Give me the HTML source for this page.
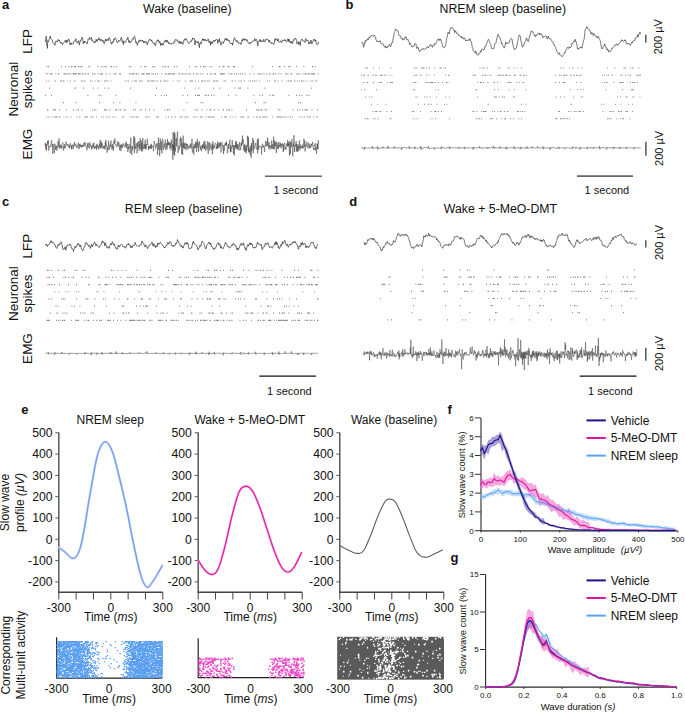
<!DOCTYPE html>
<html><head><meta charset="utf-8"><style>
html,body{margin:0;padding:0;background:#fff;width:685px;height:712px;overflow:hidden}
svg{display:block}
text{font-family:"Liberation Sans",sans-serif}
</style></head><body>
<svg width="685" height="712" viewBox="0 0 685 712">
<rect width="685" height="712" fill="#fff"/>
<text x="2" y="8.8" font-size="13" text-anchor="start" font-weight="bold" fill="#111" >a</text>
<text x="143.1" y="12.7" font-size="12.3" text-anchor="start" font-weight="normal" fill="#111" >Wake (baseline)</text>
<text x="345.5" y="8.8" font-size="13" text-anchor="start" font-weight="bold" fill="#111" >b</text>
<text x="439.6" y="12.7" font-size="12.3" text-anchor="start" font-weight="normal" fill="#111" >NREM sleep (baseline)</text>
<text x="2" y="205.5" font-size="13" text-anchor="start" font-weight="bold" fill="#111" >c</text>
<text x="124.8" y="212.6" font-size="12.3" text-anchor="start" font-weight="normal" fill="#111" >REM sleep (baseline)</text>
<text x="349.3" y="206.3" font-size="13" text-anchor="start" font-weight="bold" fill="#111" >d</text>
<text x="443.8" y="212.5" font-size="12.3" text-anchor="start" font-weight="normal" fill="#111" >Wake + 5-MeO-DMT</text>
<text transform="translate(31.8 41.4) rotate(-90)" font-size="13.5" text-anchor="middle" fill="#111">LFP</text>
<text transform="translate(17.5 89.2) rotate(-90)" font-size="13.5" text-anchor="middle" fill="#111">Neuronal</text>
<text transform="translate(31.8 89.2) rotate(-90)" font-size="13.5" text-anchor="middle" fill="#111">spikes</text>
<text transform="translate(31.8 144) rotate(-90)" font-size="13.5" text-anchor="middle" fill="#111">EMG</text>
<text transform="translate(31.8 246.2) rotate(-90)" font-size="13.5" text-anchor="middle" fill="#111">LFP</text>
<text transform="translate(17.5 293.6) rotate(-90)" font-size="13.5" text-anchor="middle" fill="#111">Neuronal</text>
<text transform="translate(31.8 293.6) rotate(-90)" font-size="13.5" text-anchor="middle" fill="#111">spikes</text>
<text transform="translate(31.8 348.5) rotate(-90)" font-size="13.5" text-anchor="middle" fill="#111">EMG</text>
<path d="M45 41.79L45.4 40.77L45.8 40.92L46.2 36.19L46.6 44.4L47 44.06L47.4 48.34L47.8 40.5L48.2 41.03L48.6 41.62L49 40.06L49.4 38.74L49.8 37.55L50.2 36.04L50.6 38.59L51 38.82L51.4 38.77L51.8 39.44L52.2 39.77L52.6 42.29L53 42.31L53.4 42.76L53.8 42.74L54.2 44.01L54.6 45L55 45.36L55.4 43.5L55.8 40.95L56.2 41.14L56.6 41.13L57 42.1L57.4 41.03L57.8 41.17L58.2 39.44L58.6 40.19L59 40.97L59.4 39.97L59.8 41.22L60.2 42.47L60.6 42.03L61 43.21L61.4 43.76L61.8 42.66L62.2 43.84L62.6 44.64L63 43.53L63.4 42.94L63.8 42.34L64.2 42.05L64.6 41.38L65 40.29L65.4 40.27L65.8 41.47L66.2 42.96L66.6 40.23L67 42.17L67.4 42.11L67.8 40.13L68.2 40.08L68.6 38.93L69 40.74L69.4 40.36L69.8 42.75L70.2 44.84L70.6 43.35L71 44.5L71.4 42.87L71.8 44.08L72.2 44.24L72.6 43.97L73 43.82L73.4 43.85L73.8 41.27L74.2 40.92L74.6 40.85L75 41.27L75.4 40.72L75.8 38.6L76.2 41.4L76.6 42.14L77 41.83L77.4 43.19L77.8 42.46L78.2 40.76L78.6 40.92L79 42.49L79.4 45.03L79.8 42.43L80.2 40.53L80.6 41.34L81 40.23L81.4 38.97L81.8 38.87L82.2 37.16L82.6 39.22L83 40.71L83.4 44L83.8 41.63L84.2 42.41L84.6 41.05L85 42.41L85.4 42.15L85.8 42.15L86.2 42.38L86.6 42.66L87 43.81L87.4 43.11L87.8 40.87L88.2 38.76L88.6 39.18L89 39.58L89.4 37.43L89.8 38.42L90.2 38.37L90.6 39.34L91 38.68L91.4 37.56L91.8 40.58L92.2 39.95L92.6 40.05L93 41.42L93.4 42.29L93.8 42.54L94.2 42.92L94.6 41.25L95 42.18L95.4 42.53L95.8 41.37L96.2 39.29L96.6 41.12L97 41.7L97.4 41.33L97.8 39.48L98.2 40.04L98.6 38.83L99 37.63L99.4 38.28L99.8 40.23L100.2 39.26L100.6 40.46L101 40.9L101.4 39.44L101.8 40.08L102.2 40.76L102.6 41.33L103 40.04L103.4 42.18L103.8 43.02L104.2 43.57L104.6 41.98L105 42.06L105.4 39.17L105.8 39.92L106.2 41.11L106.6 39.51L107 40.35L107.4 39.39L107.8 39.94L108.2 40.66L108.6 39.08L109 37.51L109.4 37.73L109.8 38.27L110.2 40.23L110.6 41.54L111 42.62L111.4 44.14L111.8 42.6L112.2 43.41L112.6 41.63L113 42.2L113.4 41.9L113.8 39.31L114.2 40.2L114.6 38.46L115 37.69L115.4 37.95L115.8 38.27L116.2 39.59L116.6 40.99L117 42.51L117.4 42.54L117.8 42.62L118.2 41.03L118.6 40.34L119 41.46L119.4 41.33L119.8 40.51L120.2 40.51L120.6 40.04L121 37.39L121.4 37.54L121.8 39L122.2 42.56L122.6 42.16L123 40.65L123.4 44.62L123.8 42.88L124.2 41.36L124.6 41.77L125 42.25L125.4 42.65L125.8 41.61L126.2 39.89L126.6 39.34L127 39.06L127.4 39.4L127.8 37.19L128.2 39.09L128.6 40.96L129 42.4L129.4 40.67L129.8 42.69L130.2 43.08L130.6 41.59L131 41.26L131.4 41.05L131.8 41.29L132.2 38.98L132.6 38.55L133 38.73L133.4 39.32L133.8 37.83L134.2 36.35L134.6 36.39L135 37.71L135.4 40.57L135.8 42.71L136.2 41.62L136.6 43.06L137 44.22L137.4 45.3L137.8 43.68L138.2 41.92L138.6 42.29L139 40.38L139.4 41.19L139.8 41.67L140.2 39.88L140.6 41.05L141 40.63L141.4 40.25L141.8 40.62L142.2 41.34L142.6 40.18L143 40.64L143.4 42.92L143.8 41.72L144.2 41.4L144.6 42.81L145 42.55L145.4 41.22L145.8 41.72L146.2 42.47L146.6 41.81L147 43.9L147.4 44.91L147.8 42.59L148.2 41.76L148.6 41.75L149 39.8L149.4 39.78L149.8 39.09L150.2 40.11L150.6 39.98L151 39.77L151.4 41.02L151.8 40.07L152.2 42.15L152.6 42.84L153 43.11L153.4 42.75L153.8 43.84L154.2 43.17L154.6 43.94L155 45.65L155.4 45.65L155.8 44.24L156.2 42.01L156.6 41.46L157 40.75L157.4 41.21L157.8 39.66L158.2 40.72L158.6 40.08L159 42.7L159.4 42.83L159.8 41.43L160.2 42.2L160.6 45.57L161 44.02L161.4 44.35L161.8 43.09L162.2 44.92L162.6 44.02L163 45.19L163.4 44.56L163.8 42.7L164.2 41.45L164.6 42.2L165 41.3L165.4 39.85L165.8 40.75L166.2 42.21L166.6 40.27L167 40.85L167.4 40.31L167.8 42.33L168.2 41.81L168.6 43.67L169 43.12L169.4 42.81L169.8 44L170.2 43.92L170.6 43.79L171 43.9L171.4 44.26L171.8 43.25L172.2 43.63L172.6 43.25L173 43.88L173.4 43.56L173.8 42.87L174.2 41.67L174.6 42.44L175 39.85L175.4 39.42L175.8 39.83L176.2 40.26L176.6 39.78L177 39.6L177.4 41.27L177.8 40.7L178.2 42L178.6 42.75L179 42.61L179.4 41.29L179.8 43.75L180.2 43.54L180.6 43.46L181 41.52L181.4 43.05L181.8 42.06L182.2 44.09L182.6 43.5L183 44.18L183.4 41.64L183.8 40.22L184.2 40.5L184.6 39.19L185 38.67L185.4 39.91L185.8 39.31L186.2 38.76L186.6 40.22L187 40.43L187.4 41L187.8 41.93L188.2 42.5L188.6 43.51L189 43.51L189.4 42.91L189.8 42.52L190.2 41.12L190.6 41.59L191 41.03L191.4 41.56L191.8 39.96L192.2 40.21L192.6 37.79L193 38.82L193.4 38.9L193.8 38.29L194.2 39.23L194.6 39.05L195 44.91L195.4 41.68L195.8 40.58L196.2 41.96L196.6 42.16L197 42.2L197.4 41.76L197.8 42.93L198.2 41.48L198.6 43.23L199 45.59L199.4 47.73L199.8 43L200.2 42.81L200.6 42.31L201 44.13L201.4 42.71L201.8 41.67L202.2 40.07L202.6 38.69L203 39.63L203.4 38.92L203.8 40.76L204.2 39.1L204.6 40.21L205 40.07L205.4 39.49L205.8 40.71L206.2 40.16L206.6 41.03L207 41.14L207.4 40.22L207.8 39.69L208.2 38.97L208.6 40.44L209 42.69L209.4 41.97L209.8 40.8L210.2 41.97L210.6 45.17L211 41.75L211.4 42.06L211.8 43.67L212.2 43.92L212.6 41.58L213 42.22L213.4 41.53L213.8 40.33L214.2 41.37L214.6 41.52L215 40.01L215.4 40.72L215.8 39.64L216.2 39.87L216.6 39.46L217 39.27L217.4 39.55L217.8 43.32L218.2 40.48L218.6 40.91L219 41.47L219.4 38.5L219.8 42.19L220.2 41.65L220.6 42.32L221 45.2L221.4 43.26L221.8 43.17L222.2 42.12L222.6 42.05L223 41.97L223.4 43.36L223.8 41.68L224.2 41.07L224.6 41.08L225 38.59L225.4 39.25L225.8 39.55L226.2 38.47L226.6 40.05L227 40.4L227.4 38.86L227.8 40.61L228.2 40.99L228.6 40.32L229 39.93L229.4 41.09L229.8 42.57L230.2 43.08L230.6 43.8L231 42.99L231.4 43.65L231.8 43.35L232.2 43.21L232.6 45.22L233 42.29L233.4 41.56L233.8 39.77L234.2 38.58L234.6 37.66L235 39.65L235.4 39.61L235.8 40.4L236.2 41.64L236.6 40.6L237 41.79L237.4 40.78L237.8 41.73L238.2 43.2L238.6 43.14L239 43.3L239.4 42.86L239.8 42.79L240.2 43.77L240.6 43.17L241 44.48L241.4 42.06L241.8 40.75L242.2 39.72L242.6 41.1L243 38.52L243.4 39.12L243.8 39.71L244.2 40.3L244.6 38.63L245 40.01L245.4 39.24L245.8 39.64L246.2 40.57L246.6 40.92L247 39.46L247.4 40.68L247.8 41.75L248.2 42.95L248.6 43.06L249 43.34L249.4 42.7L249.8 44L250.2 43.85L250.6 42.89L251 42.01L251.4 42.65L251.8 41.97L252.2 41.44L252.6 40.82L253 41L253.4 41.31L253.8 41.1L254.2 41.17L254.6 38.74L255 38.88L255.4 40.76L255.8 40.68L256.2 39.25L256.6 39.86L257 40.35L257.4 43.9L257.8 45.96L258.2 41.46L258.6 41.56L259 41.18L259.4 41.52L259.8 39.3L260.2 39.6L260.6 41.82L261 40.21L261.4 41.29L261.8 41.34L262.2 40.94L262.6 41.08L263 41.81L263.4 39.35L263.8 39.54L264.2 41.86L264.6 41.65L265 41.73L265.4 40.96L265.8 39.01L266.2 39.1L266.6 39.72L267 39.62L267.4 39.24L267.8 40.08L268.2 40.22L268.6 39.87L269 42.35L269.4 40.05L269.8 41.25L270.2 42.5L270.6 42.7L271 42.67L271.4 42.62L271.8 43.85L272.2 42.83L272.6 43.03L273 43.68L273.4 44.04L273.8 44.42L274.2 43.36L274.6 40.61L275 38.73L275.4 40.33L275.8 39.71L276.2 38.82L276.6 38.42L277 39.7L277.4 41.02L277.8 39.81L278.2 38.85L278.6 41.33L279 41.66L279.4 42.14L279.8 42.62L280.2 41.46L280.6 40.7L281 41.92L281.4 41.76L281.8 42.53L282.2 41.56L282.6 39.87L283 40.17L283.4 40.5L283.8 40.38L284.2 39.78L284.6 39.74L285 41L285.4 39.78L285.8 40.37L286.2 41.77L286.6 41.88L287 41.32L287.4 39.95L287.8 38.97L288.2 38.84L288.6 41.54L289 38.98L289.4 39.95L289.8 41.58L290.2 42.9L290.6 41.77L291 41.28L291.4 43.29L291.8 41.67L292.2 42.96L292.6 43.4L293 41.64L293.4 39.62L293.8 40.36L294.2 39.55L294.6 38.63L295 39.1L295.4 38.64L295.8 38.15L296.2 40.18L296.6 40.52L297 43.81L297.4 42.84L297.8 42.32L298.2 41.61L298.6 44.49L299 41.93L299.4 42.2L299.8 42.58L300.2 45.47L300.6 41.74L301 40.36L301.4 40.11L301.8 38.97L302.2 39.63L302.6 39.96L303 40.77L303.4 41.15L303.8 40.79L304.2 40.9L304.6 41.37L305 42.5L305.4 39.51L305.8 38.48L306.2 40.07L306.6 40.02L307 40.99L307.4 40.14L307.8 40.14L308.2 40.75L308.6 43.61L309 44.1L309.4 43.03L309.8 42.23L310.2 43.64L310.6 43.07L311 40.07L311.4 42.1L311.8 43.79L312.2 43.47L312.6 42.19L313 41.46L313.4 39.96L313.8 39.09L314.2 40.2L314.6 39.64L315 41.21L315.4 41.32L315.8 39.78L316.2 42.45L316.6 43.2L317 44.82L317.4 44.62L317.8 44L318.2 43.6L318.6 41.76" fill="none" stroke="#3a3a3a" stroke-width="0.75" stroke-linejoin="round"/>
<path d="M45.5 243.95L45.9 245L46.3 245.43L46.7 244.32L47.1 245.87L47.5 246.52L47.9 245.26L48.3 244.69L48.7 244.98L49.1 244.31L49.5 243.28L49.9 243.16L50.3 241.55L50.7 242.42L51.1 240.55L51.5 241.59L51.9 242.9L52.3 242.67L52.7 242.35L53.1 242.06L53.5 242.97L53.9 243.28L54.3 244.62L54.7 244.63L55.1 244.8L55.5 246.67L55.9 246.69L56.3 247.86L56.7 248.38L57.1 247.38L57.5 245.64L57.9 246.15L58.3 244.31L58.7 244.06L59.1 245.36L59.5 244.21L59.9 244.59L60.3 242.74L60.7 242.43L61.1 241.8L61.5 243.67L61.9 244.22L62.3 245.96L62.7 248.09L63.1 249.63L63.5 249.06L63.9 249.06L64.3 249.04L64.7 247.7L65.1 246.69L65.5 249.06L65.9 250.24L66.3 248.06L66.7 246.8L67.1 245.01L67.5 244.73L67.9 245.15L68.3 245.67L68.7 245.17L69.1 244.95L69.5 245.05L69.9 243.96L70.3 244.72L70.7 244.46L71.1 246.29L71.5 248.45L71.9 247.94L72.3 248.34L72.7 248.88L73.1 248.98L73.5 251.5L73.9 249.05L74.3 248.74L74.7 248.52L75.1 246.23L75.5 247.69L75.9 247.2L76.3 246.33L76.7 246.49L77.1 245.06L77.5 243.6L77.9 245.02L78.3 244.26L78.7 243.61L79.1 244.16L79.5 245.79L79.9 246.89L80.3 245.11L80.7 244.94L81.1 247.46L81.5 249.22L81.9 249.08L82.3 249.54L82.7 250.59L83.1 250.36L83.5 249.85L83.9 247.46L84.3 247.06L84.7 246.96L85.1 244.9L85.5 242.8L85.9 242.51L86.3 242.54L86.7 243.59L87.1 243.49L87.5 245.09L87.9 244.65L88.3 245.21L88.7 246.51L89.1 245.42L89.5 245.98L89.9 245.83L90.3 248.48L90.7 246.97L91.1 246.11L91.5 244L91.9 244.47L92.3 246.88L92.7 245.56L93.1 245L93.5 244.81L93.9 244.04L94.3 241.97L94.7 242.19L95.1 243.2L95.5 244.59L95.9 245.79L96.3 244.45L96.7 244.32L97.1 245.81L97.5 245.55L97.9 245.62L98.3 246L98.7 246.71L99.1 247.57L99.5 246.98L99.9 245.91L100.3 245.38L100.7 245.21L101.1 244.76L101.5 242.68L101.9 242.95L102.3 240.94L102.7 242.34L103.1 241.59L103.5 242.15L103.9 243.01L104.3 242.87L104.7 245.85L105.1 244.72L105.5 242.81L105.9 244.41L106.3 245.62L106.7 247.44L107.1 247.89L107.5 248.11L107.9 246.64L108.3 247.23L108.7 246.89L109.1 248.38L109.5 247.83L109.9 245.41L110.3 244.33L110.7 243.25L111.1 243.74L111.5 244.96L111.9 244.04L112.3 241.58L112.7 242.35L113.1 243.11L113.5 244.27L113.9 245.27L114.3 244.09L114.7 245.3L115.1 246.68L115.5 247.93L115.9 248.41L116.3 247.8L116.7 248.03L117.1 249.39L117.5 248.57L117.9 246.84L118.3 244.9L118.7 245.67L119.1 246.77L119.5 246.96L119.9 245.42L120.3 245.27L120.7 245.1L121.1 245.35L121.5 244.92L121.9 244.38L122.3 245.09L122.7 245.82L123.1 246.97L123.5 246.83L123.9 246.73L124.3 246.15L124.7 246.81L125.1 248.04L125.5 248.11L125.9 246.81L126.3 246.84L126.7 245.05L127.1 244.27L127.5 244.03L127.9 244.56L128.3 244.98L128.7 243.34L129.1 244.4L129.5 244.97L129.9 245.81L130.3 245.34L130.7 247.9L131.1 247.2L131.5 246.4L131.9 247.34L132.3 247.55L132.7 245.44L133.1 245.34L133.5 245.28L133.9 245.21L134.3 245.43L134.7 244.36L135.1 242.4L135.5 243.4L135.9 244.95L136.3 245.3L136.7 245.85L137.1 246.24L137.5 246.22L137.9 245.93L138.3 246.25L138.7 245.68L139.1 246.36L139.5 246.19L139.9 244.92L140.3 244.37L140.7 244L141.1 244.72L141.5 243.71L141.9 240.96L142.3 241.19L142.7 242.37L143.1 243.27L143.5 243.27L143.9 243.55L144.3 245.65L144.7 246.45L145.1 247.08L145.5 245.45L145.9 244.77L146.3 246.61L146.7 246.42L147.1 247.69L147.5 248.66L147.9 247.36L148.3 247.39L148.7 246.73L149.1 245.26L149.5 245.56L149.9 244.63L150.3 244.18L150.7 244.54L151.1 243.8L151.5 243.02L151.9 242.06L152.3 242.57L152.7 244.94L153.1 246.24L153.5 245.01L153.9 243.63L154.3 244.8L154.7 245.98L155.1 246.06L155.5 247.8L155.9 245.71L156.3 246.38L156.7 245.75L157.1 246.89L157.5 243.44L157.9 244.43L158.3 243.1L158.7 244.25L159.1 243.3L159.5 243.6L159.9 243.2L160.3 242.23L160.7 243.14L161.1 243.52L161.5 243.83L161.9 244.69L162.3 244.89L162.7 245.05L163.1 245.91L163.5 246.15L163.9 247.54L164.3 247.1L164.7 247.81L165.1 247.99L165.5 246.87L165.9 246.02L166.3 245.15L166.7 245.78L167.1 244.95L167.5 242.51L167.9 242.68L168.3 242.85L168.7 244.29L169.1 243.3L169.5 241.5L169.9 241.49L170.3 241.72L170.7 242.36L171.1 243.87L171.5 245.33L171.9 245.37L172.3 246.19L172.7 245.73L173.1 246.6L173.5 245.21L173.9 246.09L174.3 245.41L174.7 244.88L175.1 245.33L175.5 244.24L175.9 242.9L176.3 243.9L176.7 242.62L177.1 242.07L177.5 239.53L177.9 240.85L178.3 241.54L178.7 242.81L179.1 243.14L179.5 243.6L179.9 243.43L180.3 245.88L180.7 246.25L181.1 246.54L181.5 245.27L181.9 246.34L182.3 247.49L182.7 246.62L183.1 248.17L183.5 246.62L183.9 245.79L184.3 244.74L184.7 243.5L185.1 242.57L185.5 244.08L185.9 244.13L186.3 244.09L186.7 242.65L187.1 242.14L187.5 244.22L187.9 243.47L188.3 244.73L188.7 247.24L189.1 248.76L189.5 248.42L189.9 249.04L190.3 248.41L190.7 248.26L191.1 247.56L191.5 247.95L191.9 246.33L192.3 244.91L192.7 242.54L193.1 242.99L193.5 241.27L193.9 243.21L194.3 243.8L194.7 243.61L195.1 244.24L195.5 244.78L195.9 244.96L196.3 245.05L196.7 245.59L197.1 246.93L197.5 247.91L197.9 249.94L198.3 248.88L198.7 248.45L199.1 248.27L199.5 246.48L199.9 245.2L200.3 245.26L200.7 246.46L201.1 245.99L201.5 242.59L201.9 241.85L202.3 240.96L202.7 241.88L203.1 242.66L203.5 243.14L203.9 243.9L204.3 244.47L204.7 245.76L205.1 247.74L205.5 248.9L205.9 248L206.3 248.1L206.7 245.55L207.1 245.07L207.5 244.47L207.9 243.97L208.3 243.22L208.7 242.01L209.1 242.69L209.5 242.79L209.9 244.83L210.3 244.5L210.7 243.19L211.1 244.64L211.5 246.54L211.9 246.17L212.3 247.3L212.7 247.41L213.1 247.93L213.5 249.63L213.9 248.42L214.3 248.41L214.7 248.9L215.1 248.8L215.5 247.33L215.9 246.76L216.3 246.89L216.7 244.77L217.1 244.13L217.5 243.48L217.9 242.73L218.3 242.66L218.7 244.57L219.1 245.26L219.5 244.4L219.9 243.63L220.3 246L220.7 248.16L221.1 246.99L221.5 246.39L221.9 248.26L222.3 248.33L222.7 248.67L223.1 248.75L223.5 247.56L223.9 247.06L224.3 245.97L224.7 244.67L225.1 243.33L225.5 242.3L225.9 243.23L226.3 244.2L226.7 243.96L227.1 245.26L227.5 245.9L227.9 246.93L228.3 246.61L228.7 246.08L229.1 247.71L229.5 247.95L229.9 247.97L230.3 247.21L230.7 247.09L231.1 246.44L231.5 246.13L231.9 244.98L232.3 244.07L232.7 245.3L233.1 243.72L233.5 243.19L233.9 243.35L234.3 244.23L234.7 244.35L235.1 246.21L235.5 245.86L235.9 245.64L236.3 247.03L236.7 249.63L237.1 249.4L237.5 248.28L237.9 249.89L238.3 249.98L238.7 248.3L239.1 248.45L239.5 246.97L239.9 246.2L240.3 244.83L240.7 243.59L241.1 243.29L241.5 244.11L241.9 245.36L242.3 244.18L242.7 243.91L243.1 244.7L243.5 242.77L243.9 244.89L244.3 246.34L244.7 246.79L245.1 249.19L245.5 248.6L245.9 250.08L246.3 250.48L246.7 248.18L247.1 246.2L247.5 245.32L247.9 244.44L248.3 246.12L248.7 245.3L249.1 245.34L249.5 243.33L249.9 244.27L250.3 244.12L250.7 242.76L251.1 244.78L251.5 243.55L251.9 244.6L252.3 244.46L252.7 246.47L253.1 247.78L253.5 247.57L253.9 247.47L254.3 248.26L254.7 247.1L255.1 247.14L255.5 247.69L255.9 247.06L256.3 246.93L256.7 245.09L257.1 243.81L257.5 242.24L257.9 243.87L258.3 243.34L258.7 243.87L259.1 243.82L259.5 244.99L259.9 244.79L260.3 245.27L260.7 244.82L261.1 244.02L261.5 245.87L261.9 248.48L262.3 249.66L262.7 249.05L263.1 247.4L263.5 246.7L263.9 246.68L264.3 246.05L264.7 246.71L265.1 243.24L265.5 243.17L265.9 243.89L266.3 243.6L266.7 244.72L267.1 244.28L267.5 243.22L267.9 242.63L268.3 243.52L268.7 244.6L269.1 246.59L269.5 247.61L269.9 247.56L270.3 247.37L270.7 247.09L271.1 246.97L271.5 246.6L271.9 247.7L272.3 248.17L272.7 247.8L273.1 246.44L273.5 245.82L273.9 245.6L274.3 244.4L274.7 243.13L275.1 242.9L275.5 244.58L275.9 241.57L276.3 244.42L276.7 242.37L277.1 242.44L277.5 244.51L277.9 245.63L278.3 247.65L278.7 246.62L279.1 248.07L279.5 248.84L279.9 247.47L280.3 246.88L280.7 245.99L281.1 244.28L281.5 245.92L281.9 244.31L282.3 241.8L282.7 243.36L283.1 243.79L283.5 243.17L283.9 241.63L284.3 241.74L284.7 240.47L285.1 240.71L285.5 242.77L285.9 244.12L286.3 245.06L286.7 245.54L287.1 244.06L287.5 244.13L287.9 245.79L288.3 247.26L288.7 246.11L289.1 245.75L289.5 244.73L289.9 244.92L290.3 243.79L290.7 244.91L291.1 245.08L291.5 244.62L291.9 244.23L292.3 242.19L292.7 242.62L293.1 241.67L293.5 242.76L293.9 242.29L294.3 242.89L294.7 241.58L295.1 241.16L295.5 241.65L295.9 243.36L296.3 243.88L296.7 243.78L297.1 244.89L297.5 246.32L297.9 246.08L298.3 249.04L298.7 249.17L299.1 246.48L299.5 245.63L299.9 246.01L300.3 246.8L300.7 245.58L301.1 242.52L301.5 243.8L301.9 245.24L302.3 243.16L302.7 242.48L303.1 244.31L303.5 244.64L303.9 243.9L304.3 243.72L304.7 243.61L305.1 243.61L305.5 245.54L305.9 247.87L306.3 246.25L306.7 246.55L307.1 245.74L307.5 247.06L307.9 246.46L308.3 247.87L308.7 247.43L309.1 247.24L309.5 245.98L309.9 245.53L310.3 244.69L310.7 243.36L311.1 242.99L311.5 242.06L311.9 242.95L312.3 242.14L312.7 242.49L313.1 242.1L313.5 243.19L313.9 245.34L314.3 245.46L314.7 247.46L315.1 246.94L315.5 247.44L315.9 248.78L316.3 248.52L316.7 246.8L317.1 245.43L317.5 244.45L317.9 244.9" fill="none" stroke="#3a3a3a" stroke-width="0.75" stroke-linejoin="round"/>
<path d="M361.6 42.74L362 42.75L362.4 42.08L362.8 42.73L363.2 45.7L363.6 47.27L364 46.14L364.4 43.35L364.8 43.96L365.2 40.4L365.6 40.61L366 41.58L366.4 40.41L366.8 40.38L367.2 39.41L367.6 40.02L368 38.52L368.4 39.54L368.8 38.63L369.2 36.83L369.6 37.48L370 36.84L370.4 37.17L370.8 36.23L371.2 35.44L371.6 35.92L372 35.66L372.4 35.32L372.8 36.09L373.2 36.26L373.6 36.26L374 36.17L374.4 35.1L374.8 36.51L375.2 36.86L375.6 37.07L376 39.96L376.4 40.49L376.8 41.08L377.2 41.73L377.6 40.81L378 41.89L378.4 41.62L378.8 41.9L379.2 41.03L379.6 41.46L380 40.68L380.4 41.09L380.8 43.36L381.2 43.81L381.6 43.98L382 43.76L382.4 43.66L382.8 43.37L383.2 44.24L383.6 45.73L384 46.08L384.4 45.94L384.8 46.19L385.2 47.54L385.6 46.07L386 46.65L386.4 48.04L386.8 47.95L387.2 46.6L387.6 47.39L388 46.4L388.4 45.75L388.8 45.68L389.2 45.17L389.6 44.23L390 45.72L390.4 46.82L390.8 46.42L391.2 44.91L391.6 42.76L392 42.34L392.4 42.76L392.8 40.99L393.2 38.14L393.6 36.87L394 34.41L394.4 32.78L394.8 31.67L395.2 30.36L395.6 29.22L396 29.14L396.4 30.18L396.8 30.36L397.2 30.2L397.6 30.79L398 30.64L398.4 33.37L398.8 35.25L399.2 35.53L399.6 35.2L400 35.71L400.4 36.88L400.8 36.68L401.2 38.08L401.6 38.19L402 38.39L402.4 39.4L402.8 38.48L403.2 39.93L403.6 39.89L404 39.98L404.4 38.46L404.8 37.61L405.2 36.74L405.6 37.85L406 36.97L406.4 37.84L406.8 39.72L407.2 39.7L407.6 39.69L408 39.28L408.4 41.1L408.8 41.35L409.2 42.09L409.6 44.54L410 43.7L410.4 43.55L410.8 44.71L411.2 45.26L411.6 46.62L412 46.11L412.4 46.99L412.8 46.63L413.2 45.97L413.6 46.43L414 46.11L414.4 43.9L414.8 44.03L415.2 43.87L415.6 43.38L416 44.13L416.4 46.67L416.8 48.6L417.2 48.26L417.6 47.09L418 47.71L418.4 47.87L418.8 50.27L419.2 50.76L419.6 51.79L420 50.71L420.4 50.62L420.8 50.37L421.2 49.81L421.6 48.91L422 49.54L422.4 49.41L422.8 49.08L423.2 48.37L423.6 49.17L424 49.25L424.4 49.57L424.8 49.01L425.2 48.45L425.6 48.29L426 48.7L426.4 47.94L426.8 47.35L427.2 47.63L427.6 46.8L428 46.69L428.4 47.75L428.8 46.89L429.2 46.75L429.6 45.43L430 45.26L430.4 44.43L430.8 45.31L431.2 45.02L431.6 46.01L432 46.64L432.4 47.42L432.8 45.92L433.2 45L433.6 45.31L434 45.19L434.4 45.63L434.8 43.46L435.2 43.87L435.6 44.2L436 43.52L436.4 42.11L436.8 41.41L437.2 40.21L437.6 39.65L438 38.83L438.4 40.16L438.8 39.9L439.2 40.33L439.6 39.19L440 40.41L440.4 39.05L440.8 39.37L441.2 41.1L441.6 41.61L442 43.91L442.4 44.34L442.8 47L443.2 47.29L443.6 47.15L444 47.54L444.4 47.76L444.8 46.89L445.2 46.1L445.6 44.97L446 42.66L446.4 40.26L446.8 37.93L447.2 36.89L447.6 34.43L448 32.39L448.4 32.95L448.8 32.47L449.2 34.05L449.6 32.17L450 29.48L450.4 28.68L450.8 28.79L451.2 27.3L451.6 27.67L452 27.72L452.4 27.57L452.8 28.48L453.2 29.43L453.6 30.2L454 30.61L454.4 30.02L454.8 32.57L455.2 30.81L455.6 31.64L456 31.36L456.4 32.82L456.8 33.89L457.2 33.64L457.6 33.3L458 33.56L458.4 34.27L458.8 35.93L459.2 36.02L459.6 35.85L460 35.76L460.4 36.52L460.8 37.22L461.2 36.43L461.6 36.37L462 38.23L462.4 37.09L462.8 37.55L463.2 38.03L463.6 39.13L464 38.89L464.4 37.7L464.8 38.46L465.2 38.89L465.6 40.84L466 40.67L466.4 39.97L466.8 40.8L467.2 40.18L467.6 40.5L468 40.36L468.4 39.49L468.8 39.84L469.2 40.52L469.6 39.41L470 38.47L470.4 40.84L470.8 40.96L471.2 41.55L471.6 42.79L472 45.74L472.4 47.64L472.8 48.39L473.2 50.8L473.6 50.84L474 51.45L474.4 52.18L474.8 52.52L475.2 52.37L475.6 51.03L476 53.41L476.4 52.46L476.8 54.24L477.2 54.69L477.6 55.23L478 55.2L478.4 53.68L478.8 53.97L479.2 54.05L479.6 53.5L480 52.98L480.4 50.78L480.8 51.88L481.2 51.5L481.6 49.73L482 48.87L482.4 49.13L482.8 49.07L483.2 49.27L483.6 49.82L484 49.99L484.4 49.01L484.8 46.89L485.2 45.97L485.6 46.4L486 45.49L486.4 44.07L486.8 43.86L487.2 41.72L487.6 40.78L488 40.23L488.4 39.26L488.8 40.34L489.2 40.92L489.6 41.81L490 42.84L490.4 43.39L490.8 44.14L491.2 46.7L491.6 48.03L492 48.9L492.4 48.24L492.8 48.68L493.2 48.91L493.6 48.69L494 47.8L494.4 45.22L494.8 43.53L495.2 43.36L495.6 43.36L496 42.84L496.4 40.38L496.8 38.97L497.2 37.4L497.6 35.24L498 34.35L498.4 35.39L498.8 36.42L499.2 36.83L499.6 36.93L500 37.58L500.4 39.38L500.8 40.55L501.2 41.56L501.6 44.03L502 43.42L502.4 44.39L502.8 45.39L503.2 46.71L503.6 47.48L504 47.88L504.4 47.98L504.8 46.22L505.2 44.99L505.6 42.23L506 41.92L506.4 43.7L506.8 43.37L507.2 42.99L507.6 43.3L508 43.05L508.4 43.38L508.8 42.56L509.2 42.45L509.6 40.82L510 40.65L510.4 39.81L510.8 38.78L511.2 38.43L511.6 38.59L512 39.21L512.4 41.93L512.8 44.15L513.2 45.76L513.6 47.58L514 48.38L514.4 49.86L514.8 49.19L515.2 48.41L515.6 48.67L516 48.21L516.4 48.04L516.8 46.47L517.2 43.96L517.6 41.74L518 39.96L518.4 38.47L518.8 36.36L519.2 34.92L519.6 35.24L520 35.71L520.4 37.09L520.8 40.14L521.2 42.09L521.6 42.95L522 46.13L522.4 47.22L522.8 46.84L523.2 45.14L523.6 45.28L524 45.03L524.4 42.42L524.8 42.57L525.2 42.17L525.6 41.71L526 40.11L526.4 37.89L526.8 38.36L527.2 40.26L527.6 40.72L528 41.52L528.4 41.43L528.8 39.93L529.2 37.26L529.6 35.69L530 35.84L530.4 34.71L530.8 32.59L531.2 30.78L531.6 31.76L532 31.73L532.4 32.04L532.8 31.63L533.2 33.01L533.6 33.65L534 34.24L534.4 36.04L534.8 35.32L535.2 35.01L535.6 36.65L536 36.37L536.4 35.95L536.8 34.5L537.2 34.33L537.6 34.6L538 33.32L538.4 32.84L538.8 33.37L539.2 33.17L539.6 34.57L540 33.35L540.4 34.35L540.8 34.8L541.2 33.88L541.6 34.48L542 35.6L542.4 36.71L542.8 37.81L543.2 36.63L543.6 36.52L544 36.19L544.4 36.8L544.8 36.74L545.2 36.11L545.6 35.67L546 35.93L546.4 37.19L546.8 38.14L547.2 39L547.6 38.83L548 36.39L548.4 35.93L548.8 38.09L549.2 38.44L549.6 38.37L550 38.98L550.4 38.59L550.8 39.55L551.2 39.68L551.6 40.64L552 41.19L552.4 42.12L552.8 41.97L553.2 42.27L553.6 44.56L554 44.81L554.4 44.69L554.8 46.05L555.2 46.78L555.6 47.3L556 48.6L556.4 49.78L556.8 51.05L557.2 51.86L557.6 52.42L558 52.89L558.4 54.13L558.8 53.59L559.2 52.72L559.6 54.53L560 55.21L560.4 54.87L560.8 55.18L561.2 55.57L561.6 55.79L562 56.71L562.4 56.04L562.8 55.91L563.2 55.35L563.6 54.98L564 53.79L564.4 53.55L564.8 52.05L565.2 52.51L565.6 51.32L566 49.72L566.4 49.19L566.8 49.13L567.2 47.56L567.6 47.31L568 48.03L568.4 48.29L568.8 48.34L569.2 46.67L569.6 47.48L570 46.95L570.4 47.67L570.8 47.16L571.2 46.83L571.6 45.03L572 43.09L572.4 43.72L572.8 43.24L573.2 42.33L573.6 41.35L574 40.8L574.4 41.74L574.8 41.83L575.2 39.36L575.6 40.99L576 41.23L576.4 42.39L576.8 44.38L577.2 46.36L577.6 49.17L578 49.47L578.4 48.64L578.8 48.05L579.2 48.21L579.6 48.31L580 48.11L580.4 47.06L580.8 47.78L581.2 46.93L581.6 47.94L582 48.3L582.4 45.39L582.8 44.03L583.2 42.28L583.6 40.52L584 39.69L584.4 37.17L584.8 32.4L585.2 29.82L585.6 28.94L586 28.22L586.4 28.14L586.8 26.57L587.2 27.12L587.6 28.35L588 29.02L588.4 29.26L588.8 29.68L589.2 29.96L589.6 29.72L590 31.03L590.4 31.58L590.8 33.14L591.2 34.2L591.6 32.69L592 32.41L592.4 33.42L592.8 33.28L593.2 35.51L593.6 34.49L594 33.57L594.4 35L594.8 35.1L595.2 35.47L595.6 36.67L596 36.25L596.4 36.55L596.8 37.6L597.2 38.22L597.6 37.53L598 35.96L598.4 36.68L598.8 37.36L599.2 38.89L599.6 39.2L600 40.14L600.4 41.82L600.8 43.25L601.2 46.39L601.6 48.52L602 48.52L602.4 49.13L602.8 48.67L603.2 46.32L603.6 46.26L604 46.29L604.4 45.76L604.8 43.85L605.2 45.3L605.6 47.23L606 47.11L606.4 47.37L606.8 49.48L607.2 50.13L607.6 48.86L608 49.73L608.4 51.79L608.8 50.6L609.2 50.89L609.6 51.44L610 51.52L610.4 51.88L610.8 50.72L611.2 49.67L611.6 48.58L612 48.11L612.4 48.67L612.8 47.62L613.2 47.4L613.6 46.3L614 45.88L614.4 45.58L614.8 45.82L615.2 44.99L615.6 44.99L616 45.17L616.4 43.81L616.8 43.88L617.2 44.26L617.6 45.4L618 44.78L618.4 44.15L618.8 44.16L619.2 43.4L619.6 42.57L620 42.28L620.4 42.12L620.8 40.85L621.2 40.74L621.6 39.69L622 40.74L622.4 40.12L622.8 41.27L623.2 41.05L623.6 41.45L624 41.23L624.4 40.91L624.8 39.69L625.2 40.97L625.6 40.54L626 41.31L626.4 43.71L626.8 44.34L627.2 44L627.6 43.26L628 43.83L628.4 43.82L628.8 43.8L629.2 43.37L629.6 44.14L630 45.15L630.4 45.3L630.8 44.12L631.2 43.62L631.6 42.23L632 42.38L632.4 43.04L632.8 40.99L633.2 40.7L633.6 40.4L634 39.89L634.4 40.23L634.8 40.64L635.2 38.26L635.6 37.68L636 38.37L636.4 38.16L636.8 37.6L637.2 36.67L637.6 34.7L638 36.92L638.4 35.01L638.8 34.2L639.2 34.18L639.6 32.64L640 32.1L640.4 33.77L640.8 34.07" fill="none" stroke="#3e3e3e" stroke-width="0.7" stroke-linejoin="round"/>
<path d="M363.8 242.01L364.2 243.18L364.6 243.26L365 245.11L365.4 242.88L365.8 243.17L366.2 244.15L366.6 243.11L367 242.56L367.4 241.62L367.8 239.61L368.2 240.68L368.6 239.57L369 239.55L369.4 239.34L369.8 238.35L370.2 238.4L370.6 238.62L371 238.96L371.4 239.04L371.8 239.63L372.2 238.01L372.6 238.53L373 239.93L373.4 239.69L373.8 238.21L374.2 239.11L374.6 240.42L375 240.57L375.4 241.88L375.8 241.37L376.2 242.32L376.6 243.03L377 242.24L377.4 242.98L377.8 244.07L378.2 245.38L378.6 245.55L379 245.73L379.4 246.12L379.8 246.54L380.2 246.76L380.6 249.05L381 249.96L381.4 251.21L381.8 250.63L382.2 248.97L382.6 249.46L383 247.77L383.4 246.82L383.8 247.91L384.2 246.37L384.6 245.79L385 245.78L385.4 245.39L385.8 242.97L386.2 243.23L386.6 243.6L387 242.77L387.4 241.29L387.8 243.04L388.2 243.15L388.6 243.69L389 243.95L389.4 243.33L389.8 244.02L390.2 245.15L390.6 244.66L391 244.9L391.4 245.56L391.8 244.6L392.2 245L392.6 244.14L393 243.26L393.4 240.55L393.8 241.44L394.2 241.56L394.6 241.39L395 242.39L395.4 240.59L395.8 240.24L396.2 238.65L396.6 237.1L397 236.65L397.4 234.75L397.8 233.96L398.2 233.21L398.6 234.39L399 235.15L399.4 235.42L399.8 234.74L400.2 236.03L400.6 236.11L401 236.06L401.4 235.24L401.8 234.23L402.2 234.36L402.6 234.79L403 235.73L403.4 235.92L403.8 235.09L404.2 234.42L404.6 234.74L405 233.99L405.4 235.32L405.8 234.61L406.2 235.55L406.6 235.56L407 234.73L407.4 235.72L407.8 236.05L408.2 237.35L408.6 238.16L409 239.57L409.4 241.27L409.8 241.19L410.2 244.46L410.6 245.23L411 245.85L411.4 247.58L411.8 247.75L412.2 246.95L412.6 247.39L413 247.16L413.4 248.7L413.8 247.59L414.2 246.83L414.6 246.44L415 247.19L415.4 246.83L415.8 246.9L416.2 245.93L416.6 245.66L417 244.27L417.4 245.74L417.8 245.76L418.2 245.42L418.6 246.74L419 245.97L419.4 245.29L419.8 244.82L420.2 244.85L420.6 244.73L421 244.93L421.4 245.58L421.8 246.86L422.2 244.86L422.6 242.79L423 241.09L423.4 238.88L423.8 235.87L424.2 237.19L424.6 236.33L425 236.77L425.4 236.95L425.8 234.79L426.2 234.76L426.6 235.57L427 236.26L427.4 235.7L427.8 236.03L428.2 235.52L428.6 233.08L429 234.54L429.4 236.21L429.8 235.21L430.2 235.15L430.6 235.07L431 235.38L431.4 236.36L431.8 236.38L432.2 236.51L432.6 237.13L433 236.9L433.4 236.33L433.8 236.75L434.2 236.72L434.6 236.93L435 237.32L435.4 236.76L435.8 237.72L436.2 237.92L436.6 240.06L437 238.85L437.4 239.61L437.8 240.67L438.2 240.42L438.6 242.04L439 241.47L439.4 242.02L439.8 242.23L440.2 243.64L440.6 245.14L441 246.12L441.4 246.53L441.8 247.02L442.2 247.05L442.6 248.23L443 248.03L443.4 246.84L443.8 245.92L444.2 245.31L444.6 245.8L445 244.9L445.4 245.16L445.8 244.23L446.2 244.64L446.6 244.97L447 245.27L447.4 245.02L447.8 244.89L448.2 245.87L448.6 245.91L449 243.74L449.4 244.87L449.8 244.28L450.2 244.64L450.6 245.12L451 244.85L451.4 242.86L451.8 241.63L452.2 242.04L452.6 241.36L453 240.53L453.4 240.81L453.8 239.62L454.2 238.12L454.6 236.54L455 236.43L455.4 237.16L455.8 237.24L456.2 236.93L456.6 236.83L457 235.96L457.4 236.54L457.8 236.3L458.2 236.61L458.6 237.23L459 238.39L459.4 238.58L459.8 238.61L460.2 237.79L460.6 239.49L461 237.06L461.4 237.55L461.8 238.4L462.2 238.57L462.6 237.92L463 238.6L463.4 238.81L463.8 239.42L464.2 239.85L464.6 242.82L465 243.23L465.4 245.89L465.8 245.75L466.2 245.8L466.6 246.12L467 246.6L467.4 245.42L467.8 245.94L468.2 247.16L468.6 247.64L469 247.7L469.4 246.79L469.8 245.24L470.2 245.03L470.6 245.59L471 246.14L471.4 246.82L471.8 246.21L472.2 245.57L472.6 245.72L473 244.78L473.4 243.83L473.8 245.38L474.2 244.94L474.6 243.89L475 244.33L475.4 244.2L475.8 242.62L476.2 242.06L476.6 240.65L477 239.31L477.4 238.34L477.8 238.05L478.2 238.61L478.6 238.56L479 239L479.4 238.72L479.8 236.99L480.2 236.35L480.6 235.67L481 235.01L481.4 236.89L481.8 237.17L482.2 237.36L482.6 236.19L483 236.29L483.4 238.95L483.8 237.53L484.2 238.37L484.6 238.62L485 239.4L485.4 240.06L485.8 241.04L486.2 240.06L486.6 242.13L487 241.59L487.4 243.27L487.8 243.06L488.2 242.9L488.6 243.33L489 243.69L489.4 244.89L489.8 245.32L490.2 246.02L490.6 246.5L491 246.82L491.4 246.76L491.8 248L492.2 246.94L492.6 246.1L493 246.05L493.4 245.8L493.8 245.56L494.2 245.32L494.6 246.04L495 245.63L495.4 244.4L495.8 244.09L496.2 243.41L496.6 243.63L497 242.81L497.4 243.05L497.8 241.56L498.2 242.33L498.6 240.03L499 239.63L499.4 238.53L499.8 237.17L500.2 236.76L500.6 235.43L501 234.52L501.4 234.51L501.8 235.15L502.2 233.55L502.6 234.23L503 233.63L503.4 234.55L503.8 234.3L504.2 234.75L504.6 233.73L505 234.12L505.4 234.18L505.8 233.83L506.2 233.65L506.6 234.32L507 234.39L507.4 233.67L507.8 235.13L508.2 234.5L508.6 236.01L509 235.94L509.4 235.69L509.8 237.4L510.2 237.22L510.6 238.83L511 239.41L511.4 240.72L511.8 241.42L512.2 242.29L512.6 241.98L513 243.51L513.4 243L513.8 242.37L514.2 243.34L514.6 244.97L515 244.66L515.4 245.56L515.8 245.11L516.2 244.62L516.6 243.77L517 242.16L517.4 242.64L517.8 242.33L518.2 244.18L518.6 244.25L519 245.11L519.4 243.07L519.8 243.11L520.2 243.07L520.6 241.75L521 241.27L521.4 240.09L521.8 237.94L522.2 237.68L522.6 236.58L523 237.05L523.4 237.68L523.8 237.52L524.2 236.69L524.6 235.96L525 235.9L525.4 235.34L525.8 236.94L526.2 237.87L526.6 236.64L527 235.45L527.4 236.29L527.8 235.69L528.2 234.01L528.6 235.62L529 235.2L529.4 236.04L529.8 238.18L530.2 237.22L530.6 235.95L531 236.08L531.4 237.28L531.8 235.93L532.2 237.02L532.6 236.93L533 237.94L533.4 237.58L533.8 237.83L534.2 238.97L534.6 238.2L535 239.82L535.4 239.29L535.8 238.95L536.2 238.19L536.6 239.16L537 238.57L537.4 239.44L537.8 240.21L538.2 239.62L538.6 239.57L539 239.94L539.4 240.2L539.8 240.68L540.2 240.41L540.6 239.53L541 241.59L541.4 240.07L541.8 240.83L542.2 240.21L542.6 241.63L543 239.98L543.4 239.38L543.8 239.99L544.2 239.95L544.6 241.93L545 242.69L545.4 244.17L545.8 243.99L546.2 244.8L546.6 246.43L547 245.61L547.4 246.2L547.8 246.86L548.2 245.81L548.6 245.59L549 246.16L549.4 245.55L549.8 245.88L550.2 245.24L550.6 245.25L551 246.01L551.4 246.26L551.8 246.19L552.2 246.64L552.6 245.99L553 246.74L553.4 247.71L553.8 247.56L554.2 245.2L554.6 245.51L555 246.18L555.4 245.31L555.8 243.98L556.2 241.75L556.6 241.26L557 239.47L557.4 238.17L557.8 236.62L558.2 237.18L558.6 235.78L559 234.75L559.4 234.79L559.8 234.87L560.2 235.73L560.6 234.89L561 234.88L561.4 235.15L561.8 234.47L562.2 233.02L562.6 234.75L563 235.34L563.4 234.68L563.8 235.05L564.2 235.62L564.6 235.27L565 235.83L565.4 234.9L565.8 235.62L566.2 234.44L566.6 234.08L567 234.18L567.4 235.07L567.8 237.06L568.2 238.66L568.6 240.11L569 241.24L569.4 239.98L569.8 241.85L570.2 241.45L570.6 243.26L571 244.17L571.4 243.64L571.8 244.47L572.2 245.28L572.6 245.25L573 245.45L573.4 246.07L573.8 247.32L574.2 247.47L574.6 246.18L575 245.89L575.4 244.37L575.8 242.76L576.2 241.85L576.6 240.35L577 239.64L577.4 241.51L577.8 240.48L578.2 240.75L578.6 241.62L579 241.59L579.4 243.56L579.8 243.44L580.2 242.79L580.6 242.81L581 242.47L581.4 242.16L581.8 242.54L582.2 242.29L582.6 241.76L583 241.53L583.4 241.23L583.8 240.85L584.2 239.49L584.6 239.59L585 239.81L585.4 239.34L585.8 238.85L586.2 238.22L586.6 238.55L587 240.91L587.4 240.37L587.8 239.67L588.2 239.72L588.6 239.57L589 239.12L589.4 239.09L589.8 238.49L590.2 238.99L590.6 238.71L591 239.72L591.4 240.37L591.8 240.77L592.2 239.74L592.6 239.43L593 238.43L593.4 237.72L593.8 239.72L594.2 238.72L594.6 237.28L595 236.95L595.4 237.22L595.8 238.9L596.2 239.53L596.6 238.29L597 236.88L597.4 238.47L597.8 238.44L598.2 238.33L598.6 236.45L599 237.18L599.4 239.32L599.8 240.05L600.2 240.21L600.6 239.82L601 241.09L601.4 241.34L601.8 242.23L602.2 243.69L602.6 245.08L603 245.71L603.4 245.43L603.8 244.87L604.2 246.21L604.6 246.01L605 245.74L605.4 246.81L605.8 246.98L606.2 247.16L606.6 246.97L607 247.59L607.4 246.95L607.8 246.9L608.2 245.75L608.6 244.93L609 244.57L609.4 243.33L609.8 243.02L610.2 243.89L610.6 243.03L611 241.81L611.4 240.26L611.8 241.02L612.2 239.01L612.6 237.62L613 238.64L613.4 239.53L613.8 237.48L614.2 237.27L614.6 237.34L615 236.2L615.4 236.16L615.8 237.11L616.2 237.73L616.6 236.58L617 236.25L617.4 235.99L617.8 235.32L618.2 236.14L618.6 236.08L619 235.09L619.4 234.78L619.8 234.76L620.2 234.89L620.6 234.85L621 233.84L621.4 234.55L621.8 235.82L622.2 236.82L622.6 236.62L623 237.17L623.4 236.89L623.8 236.74L624.2 239.21L624.6 240.05L625 240.45L625.4 241.14L625.8 240.78L626.2 240.34L626.6 242.47L627 241.84L627.4 242.68L627.8 243.4L628.2 243.26L628.6 243.33L629 242.94L629.4 242.38L629.8 241.36L630.2 241.8L630.6 243.02L631 243.91L631.4 243.46L631.8 244.08L632.2 242.73L632.6 242.87L633 243.84L633.4 243.56L633.8 243.7L634.2 244.17L634.6 244.24L635 245.67L635.4 245.43L635.8 244.88L636.2 244.19L636.6 243.14" fill="none" stroke="#3e3e3e" stroke-width="0.7" stroke-linejoin="round"/>
<path d="M45 145.94L45.3 142.74L45.6 147.55L45.9 149.56L46.2 143.74L46.5 150.51L46.8 144.41L47.1 145.4L47.4 144.75L47.7 140.87L48 144.2L48.3 140.47L48.6 150.6L48.9 149.54L49.2 146L49.5 146.9L49.8 146.07L50.1 146.63L50.4 146.64L50.7 144.87L51 145.16L51.3 140.21L51.6 141.62L51.9 143.28L52.2 146.73L52.5 144.28L52.8 153.87L53.1 145.06L53.4 144.39L53.7 147.6L54 149.94L54.3 153.05L54.6 149.55L54.9 143.68L55.2 145.24L55.5 149.53L55.8 146.73L56.1 148.49L56.4 145.62L56.7 150.83L57 150.22L57.3 149.16L57.6 146.31L57.9 141.37L58.2 142.19L58.5 146.73L58.8 147.58L59.1 138.35L59.4 144.66L59.7 148.76L60 148.25L60.3 144.64L60.6 147.43L60.9 145.94L61.2 145.34L61.5 148.6L61.8 148.65L62.1 144.6L62.4 143.57L62.7 142.68L63 142.4L63.3 149.15L63.6 150.5L63.9 146.41L64.2 148.49L64.5 144.19L64.8 145.72L65.1 148.19L65.4 146.69L65.7 145.81L66 141.68L66.3 142.2L66.6 144.84L66.9 144.48L67.2 145.71L67.5 144.25L67.8 145.34L68.1 146.06L68.4 147.24L68.7 146.07L69 144.47L69.3 145.17L69.6 148.26L69.9 145.36L70.2 143.37L70.5 143.27L70.8 146.63L71.1 147.35L71.4 149.07L71.7 145.06L72 149.45L72.3 144.99L72.6 145.29L72.9 144.43L73.2 147.22L73.5 148.54L73.8 145.81L74.1 144.61L74.4 142.01L74.7 146.24L75 145.02L75.3 145.37L75.6 144.32L75.9 143.74L76.2 144.82L76.5 146.93L76.8 148.14L77.1 145.83L77.4 146.61L77.7 145.39L78 145.56L78.3 142.7L78.6 147.87L78.9 147.2L79.2 149.14L79.5 144.47L79.8 146.13L80.1 143.81L80.4 146.37L80.7 145.58L81 147.31L81.3 145.53L81.6 147.22L81.9 144.81L82.2 147.09L82.5 145.22L82.8 144.95L83.1 146.03L83.4 146.59L83.7 143.01L84 142.82L84.3 146.22L84.6 145.74L84.9 141.89L85.2 142.56L85.5 144.38L85.8 146.45L86.1 146.23L86.4 147.72L86.7 148.01L87 150.25L87.3 143.14L87.6 145.77L87.9 147.89L88.2 143.42L88.5 143.1L88.8 146.24L89.1 148.03L89.4 148.36L89.7 142.26L90 143.38L90.3 145.66L90.6 144.76L90.9 146.53L91.2 146.14L91.5 149.57L91.8 145.73L92.1 146.25L92.4 146.03L92.7 148.26L93 143.44L93.3 146.71L93.6 144.16L93.9 142.72L94.2 148.51L94.5 147.06L94.8 149.04L95.1 146.46L95.4 147.37L95.7 146.2L96 147.21L96.3 144.93L96.6 149.9L96.9 143.81L97.2 145.66L97.5 145.44L97.8 148L98.1 146.25L98.4 147L98.7 149.55L99 146.27L99.3 143.6L99.6 146.52L99.9 147.55L100.2 139.79L100.5 148.39L100.8 148.7L101.1 141.44L101.4 141.5L101.7 148.05L102 142.96L102.3 144.85L102.6 145.06L102.9 147.4L103.2 148.87L103.5 145.86L103.8 146.11L104.1 148.41L104.4 147.39L104.7 145.65L105 149.52L105.3 142.13L105.6 146.36L105.9 139.97L106.2 144.57L106.5 146.48L106.8 146.05L107.1 152.68L107.4 147.71L107.7 146.91L108 150.5L108.3 148.75L108.6 140.78L108.9 146.28L109.2 148.01L109.5 149.57L109.8 146.76L110.1 144.66L110.4 146.98L110.7 141.39L111 140.5L111.3 144.39L111.6 146.55L111.9 149.62L112.2 145.15L112.5 143.84L112.8 148.44L113.1 146L113.4 150.87L113.7 145.66L114 140.58L114.3 143.73L114.6 143.32L114.9 138.38L115.2 143.81L115.5 144.05L115.8 145.13L116.1 144.44L116.4 146.94L116.7 146.94L117 146.32L117.3 146.37L117.6 141.18L117.9 141.77L118.2 143.73L118.5 146.47L118.8 142.42L119.1 144.88L119.4 146.42L119.7 150.3L120 146.43L120.3 144.69L120.6 148.17L120.9 151.12L121.2 145.23L121.5 148.07L121.8 144.03L122.1 146.2L122.4 145.98L122.7 147.59L123 143.53L123.3 143.16L123.6 145L123.9 145.22L124.2 145.9L124.5 144.95L124.8 146.81L125.1 147.46L125.4 146.35L125.7 143.11L126 145.46L126.3 141.64L126.6 145.21L126.9 148.35L127.2 143.95L127.5 149.75L127.8 151.85L128.1 150.94L128.4 147.24L128.7 149.2L129 143.92L129.3 147.25L129.6 147.51L129.9 146.13L130.2 153.32L130.5 144.91L130.8 137.49L131.1 147.48L131.4 147.13L131.7 154.86L132 148.95L132.3 146.07L132.6 149.75L132.9 148.61L133.2 145.68L133.5 144.01L133.8 135.94L134.1 146.32L134.4 153.1L134.7 137.42L135 141.56L135.3 149.06L135.6 146.59L135.9 147.54L136.2 143.33L136.5 143.37L136.8 147.78L137.1 153.36L137.4 146.9L137.7 142.45L138 147.76L138.3 141.44L138.6 142.42L138.9 141.69L139.2 150.75L139.5 144.37L139.8 145.96L140.1 138.46L140.4 149.37L140.7 147.28L141 140.42L141.3 140.61L141.6 151.06L141.9 142.77L142.2 151.59L142.5 144.29L142.8 137.97L143.1 149.23L143.4 147.33L143.7 147.89L144 144.18L144.3 145.1L144.6 148.72L144.9 143.23L145.2 139.71L145.5 148.54L145.8 143.86L146.1 149.64L146.4 144.29L146.7 144.47L147 145L147.3 138.7L147.6 143.34L147.9 143.89L148.2 145.18L148.5 150.04L148.8 146.09L149.1 148.34L149.4 146.72L149.7 147.95L150 146.54L150.3 148.98L150.6 145.18L150.9 147.02L151.2 143.85L151.5 148.93L151.8 145.51L152.1 146.25L152.4 146.7L152.7 146.65L153 145.75L153.3 149.16L153.6 151.11L153.9 144.27L154.2 140.95L154.5 143.01L154.8 143.7L155.1 145.42L155.4 145.62L155.7 148.64L156 144.61L156.3 145.66L156.6 146.08L156.9 143.16L157.2 144.76L157.5 154.85L157.8 145.44L158.1 142.27L158.4 137.56L158.7 149.79L159 144.46L159.3 143.14L159.6 155.96L159.9 151.81L160.2 138.43L160.5 144.25L160.8 150.01L161.1 149.29L161.4 141.05L161.7 153.13L162 153.32L162.3 141.28L162.6 138.77L162.9 140.35L163.2 148.27L163.5 149.77L163.8 146.42L164.1 143.58L164.4 145.4L164.7 147.74L165 141.43L165.3 139.72L165.6 145.42L165.9 150.15L166.2 146.42L166.5 146.44L166.8 143.18L167.1 149.26L167.4 138.96L167.7 145.44L168 143.21L168.3 145.03L168.6 141.54L168.9 144.86L169.2 145.3L169.5 142.68L169.8 148.29L170.1 145.36L170.4 142.73L170.7 146.46L171 150.29L171.3 139.74L171.6 144.15L171.9 143.78L172.2 147.73L172.5 144.17L172.8 159.8L173.1 132.3L173.4 150.13L173.7 145.25L174 154.56L174.3 131.92L174.6 155.84L174.9 133.49L175.2 151.54L175.5 150.01L175.8 145.73L176.1 138.76L176.4 138L176.7 146.34L177 138.57L177.3 131.8L177.6 131.8L177.9 152.66L178.2 152.82L178.5 150.02L178.8 145.91L179.1 148.76L179.4 149.67L179.7 147.6L180 139.22L180.3 139.86L180.6 136.87L180.9 146.71L181.2 138.58L181.5 144.53L181.8 154.3L182.1 143.26L182.4 151.57L182.7 154.76L183 135.49L183.3 138.04L183.6 148.11L183.9 142.27L184.2 148.19L184.5 148.84L184.8 143.59L185.1 149.03L185.4 148.58L185.7 149.17L186 142.8L186.3 145.3L186.6 144.15L186.9 150.29L187.2 145.26L187.5 144.01L187.8 145.91L188.1 147.07L188.4 148.61L188.7 146.07L189 145.81L189.3 147.66L189.6 148.28L189.9 146.52L190.2 144.61L190.5 146.89L190.8 143.45L191.1 148.73L191.4 146.79L191.7 146.52L192 138.96L192.3 152.67L192.6 150.1L192.9 149.63L193.2 146.24L193.5 147.92L193.8 154.71L194.1 143.75L194.4 148.26L194.7 147.83L195 146.37L195.3 147.07L195.6 142.72L195.9 148.09L196.2 141.6L196.5 152.1L196.8 148.67L197.1 143.11L197.4 138.89L197.7 146.36L198 147.74L198.3 142.61L198.6 151.78L198.9 146.97L199.2 144.44L199.5 141.23L199.8 145.64L200.1 145.37L200.4 148.32L200.7 149.72L201 146.18L201.3 147.7L201.6 151.12L201.9 148.28L202.2 145.16L202.5 148.33L202.8 144.18L203.1 147.77L203.4 146.29L203.7 141.92L204 148.44L204.3 146.44L204.6 149.02L204.9 140.77L205.2 150.64L205.5 150.86L205.8 144.66L206.1 145.71L206.4 146.32L206.7 146.02L207 149.62L207.3 143.1L207.6 141.3L207.9 145.07L208.2 153.78L208.5 144.49L208.8 142.06L209.1 142.37L209.4 146.68L209.7 150.65L210 143.11L210.3 146.66L210.6 146.79L210.9 147.72L211.2 146.5L211.5 149.76L211.8 148.39L212.1 143.81L212.4 154.19L212.7 141.4L213 141.63L213.3 149.24L213.6 146.51L213.9 145.16L214.2 146.53L214.5 147.97L214.8 144.66L215.1 144.05L215.4 142.87L215.7 143.42L216 143.61L216.3 149.17L216.6 146.69L216.9 147.45L217.2 144.27L217.5 148.91L217.8 141.36L218.1 147.27L218.4 147.93L218.7 144.16L219 142.79L219.3 147.47L219.6 143.69L219.9 143.08L220.2 145.81L220.5 142.28L220.8 151.2L221.1 152.56L221.4 150.11L221.7 148.94L222 142.28L222.3 146.16L222.6 144.91L222.9 145.27L223.2 148.72L223.5 154.14L223.8 145.38L224.1 151.09L224.4 147.3L224.7 144.05L225 143.94L225.3 142.93L225.6 145.04L225.9 142.64L226.2 145.84L226.5 141.48L226.8 145.9L227.1 146.6L227.4 153.23L227.7 152.77L228 147.88L228.3 143.93L228.6 148.18L228.9 148.92L229.2 145.16L229.5 142.84L229.8 139.62L230.1 145.74L230.4 152.26L230.7 145.19L231 151.95L231.3 146.99L231.6 147.32L231.9 148.14L232.2 140.11L232.5 145.44L232.8 146.89L233.1 145.62L233.4 153.79L233.7 144.91L234 148.19L234.3 155.46L234.6 145.25L234.9 145.94L235.2 145.18L235.5 147.66L235.8 140.93L236.1 149.38L236.4 141.87L236.7 147.85L237 147.21L237.3 144.04L237.6 149.5L237.9 146.14L238.2 144.48L238.5 147.1L238.8 148.89L239.1 150.61L239.4 142.33L239.7 144.59L240 146.14L240.3 148.25L240.6 150.15L240.9 146.61L241.2 142.74L241.5 146.14L241.8 142.1L242.1 144.56L242.4 135.55L242.7 142.8L243 140.62L243.3 139.08L243.6 150.44L243.9 150.46L244.2 147.89L244.5 144.54L244.8 152.28L245.1 144.79L245.4 147.99L245.7 151.4L246 147.15L246.3 153.41L246.6 145.36L246.9 145.31L247.2 146.8L247.5 135.87L247.8 140.37L248.1 150.31L248.4 136.83L248.7 152.22L249 147.61L249.3 152.43L249.6 150.15L249.9 149.24L250.2 154.98L250.5 145.77L250.8 145.64L251.1 157.76L251.4 143.08L251.7 151.21L252 149.12L252.3 143.97L252.6 140.85L252.9 138L253.2 153.34L253.5 140.43L253.8 141.62L254.1 149.13L254.4 147.67L254.7 146.73L255 146.29L255.3 144.61L255.6 143.04L255.9 143.65L256.2 147.81L256.5 149.24L256.8 149.5L257.1 145.84L257.4 139.4L257.7 153.44L258 145.52L258.3 138.37L258.6 149.8L258.9 146.55L259.2 145.79L259.5 146.49L259.8 146.3L260.1 146.68L260.4 146.33L260.7 146.06L261 147.89L261.3 147.19L261.6 154.51L261.9 146.54L262.2 144.15L262.5 143.78L262.8 147.56L263.1 146.57L263.4 147.09L263.7 145.29L264 145.37L264.3 149.29L264.6 151.92L264.9 147.61L265.2 145.68L265.5 141.11L265.8 141.09L266.1 146.32L266.4 145.04L266.7 145.67L267 141.25L267.3 145.53L267.6 137.64L267.9 140.92L268.2 147.05L268.5 148.5L268.8 143.44L269.1 142.07L269.4 147.07L269.7 145.55L270 149.6L270.3 147.19L270.6 146.73L270.9 145.17L271.2 148.35L271.5 143.18L271.8 140.35L272.1 149.04L272.4 144.19L272.7 145.99L273 147.9L273.3 149.14L273.6 136.54L273.9 142.53L274.2 149.58L274.5 140.69L274.8 147.2L275.1 144.76L275.4 143.3L275.7 145.44L276 141.24L276.3 152.85L276.6 148.83L276.9 142.19L277.2 144.14L277.5 148.7L277.8 146.67L278.1 145.04L278.4 149.05L278.7 142.06L279 145.19L279.3 145.99L279.6 145.13L279.9 147.42L280.2 142.44L280.5 145.88L280.8 144.21L281.1 148.26L281.4 147.99L281.7 144.19L282 143.37L282.3 145.68L282.6 143.81L282.9 144.45L283.2 152.14L283.5 144.66L283.8 150.33L284.1 145.95L284.4 144.41L284.7 142.77L285 144.34L285.3 148.9L285.6 147.36L285.9 150.01L286.2 148.53L286.5 147.5L286.8 143.55L287.1 145.28L287.4 146L287.7 140.13L288 146.92L288.3 142.07L288.6 145.45L288.9 143.85L289.2 147.95L289.5 155.86L289.8 141.12L290.1 145.69L290.4 153.94L290.7 142.03L291 144.85L291.3 145.34L291.6 147.06L291.9 139.08L292.2 147.05L292.5 148.3L292.8 156.35L293.1 145.47L293.4 143.42L293.7 146.34L294 135.18L294.3 147.16L294.6 152.02L294.9 145.67L295.2 145.67L295.5 144.87L295.8 146.33L296.1 141.17L296.4 151.49L296.7 144.16L297 144.21L297.3 151.62L297.6 149.55L297.9 144.42L298.2 151.34L298.5 146.45L298.8 148.89L299.1 144.05L299.4 140.33L299.7 146.41L300 150.22L300.3 144.49L300.6 146.95L300.9 147.99L301.2 146.64L301.5 146.09L301.8 148.08L302.1 146.48L302.4 144.4L302.7 148.81L303 148.1L303.3 146.92L303.6 147.85L303.9 138.76L304.2 146.62L304.5 146.01L304.8 140.58L305.1 151.43L305.4 146.84L305.7 144.74L306 144.9L306.3 146.61L306.6 145.86L306.9 141.63L307.2 144.85L307.5 147.1L307.8 147.55L308.1 148.23L308.4 143.07L308.7 144.22L309 146.93L309.3 148.51L309.6 146.51L309.9 143.68L310.2 147.54L310.5 146.11L310.8 147.55L311.1 146.06L311.4 143.8L311.7 145.71L312 146.1L312.3 144.28L312.6 141.83L312.9 144.45L313.2 148.21L313.5 149.49L313.8 148.16L314.1 149.87L314.4 144.96L314.7 145.59L315 143.29L315.3 143.8L315.6 150.68L315.9 147.3L316.2 147.93L316.5 153.64L316.8 151.68L317.1 143.52L317.4 148.93L317.7 143.84L318 148.98L318.3 140.51L318.6 143.29L318.9 143.35" fill="none" stroke="#3a3a3a" stroke-width="0.5" stroke-linejoin="round"/>
<path d="M361.5 148.16L361.9 148.34L362.3 147.26L362.7 147.87L363.1 148.15L363.5 148.24L363.9 148.06L364.3 149.61L364.7 146.92L365.1 148.04L365.5 147.94L365.9 147.63L366.3 147.69L366.7 147.99L367.1 147.75L367.5 148.22L367.9 148.22L368.3 148.35L368.7 147.89L369.1 148.25L369.5 147.67L369.9 147.7L370.3 147.92L370.7 147.97L371.1 147.5L371.5 147.47L371.9 147.99L372.3 146.25L372.7 148.92L373.1 148L373.5 147.98L373.9 147.95L374.3 148.12L374.7 147.86L375.1 148.17L375.5 147.77L375.9 147.84L376.3 147.73L376.7 148.05L377.1 147.91L377.5 146.4L377.9 149.51L378.3 147.81L378.7 147.87L379.1 148L379.5 148.34L379.9 147.86L380.3 148.08L380.7 147.92L381.1 147.53L381.5 148.1L381.9 148.16L382.3 147.84L382.7 146.57L383.1 148.49L383.5 147.52L383.9 147.8L384.3 148.06L384.7 147.78L385.1 147.97L385.5 148.14L385.9 147.92L386.3 148.04L386.7 148.26L387.1 147.59L387.5 148.09L387.9 145.79L388.3 148.9L388.7 147.95L389.1 147.76L389.5 147.63L389.9 147.88L390.3 147.8L390.7 147.92L391.1 147.67L391.5 148.04L391.9 147.64L392.3 147.82L392.7 147.8L393.1 148.22L393.5 147.53L393.9 147.8L394.3 146.47L394.7 148.59L395.1 147.59L395.5 147.97L395.9 147.83L396.3 148.11L396.7 147.67L397.1 147.95L397.5 148.07L397.9 148.16L398.3 147.62L398.7 148.26L399.1 147.67L399.5 147.52L399.9 147.66L400.3 147.94L400.7 147.82L401.1 148.01L401.5 149.64L401.9 147.24L402.3 147.84L402.7 148.35L403.1 147.35L403.5 147.47L403.9 147.77L404.3 147.59L404.7 147.26L405.1 147.7L405.5 147.71L405.9 147.29L406.3 148.11L406.7 148.22L407.1 148.21L407.5 147.77L407.9 147.94L408.3 147.62L408.7 147.95L409.1 146.39L409.5 148.79L409.9 147.81L410.3 148.16L410.7 148.11L411.1 148.21L411.5 147.5L411.9 147.45L412.3 148L412.7 147.76L413.1 148L413.5 147.97L413.9 147.95L414.3 148.13L414.7 146.62L415.1 148.9L415.5 147.68L415.9 148.33L416.3 147.93L416.7 148.18L417.1 147.98L417.5 148.22L417.9 147.94L418.3 147.95L418.7 147.93L419.1 147.72L419.5 147.76L419.9 147.86L420.3 147.87L420.7 146.13L421.1 149.62L421.5 147.65L421.9 147.82L422.3 148.51L422.7 147.74L423.1 148.09L423.5 148.07L423.9 147.85L424.3 147.54L424.7 147.51L425.1 147.9L425.5 148.01L425.9 147.36L426.3 147.94L426.7 147.74L427.1 148.12L427.5 147.94L427.9 147.7L428.3 146.13L428.7 148.84L429.1 148.24L429.5 148.66L429.9 147.99L430.3 147.93L430.7 148.08L431.1 147.91L431.5 148.08L431.9 148.02L432.3 147.92L432.7 147.72L433.1 147.96L433.5 148.15L433.9 147.94L434.3 149.4L434.7 147.46L435.1 147.89L435.5 148.36L435.9 147.64L436.3 148.22L436.7 148.39L437.1 147.86L437.5 147.9L437.9 148.16L438.3 148.28L438.7 148.04L439.1 147.99L439.5 148.16L439.9 147.99L440.3 147.63L440.7 147.88L441.1 149.06L441.5 146.4L441.9 148.03L442.3 147.74L442.7 148.12L443.1 147.56L443.5 147.7L443.9 147.57L444.3 148.25L444.7 148.25L445.1 148.3L445.5 148.3L445.9 148.16L446.3 148.15L446.7 147.5L447.1 148.01L447.5 147.8L447.9 147.85L448.3 147.62L448.7 148.26L449.1 147.97L449.5 146.45L449.9 148.88L450.3 147.91L450.7 147.66L451.1 147.85L451.5 147.72L451.9 147.34L452.3 147.53L452.7 148.04L453.1 147.99L453.5 147.97L453.9 147.61L454.3 147.75L454.7 147.92L455.1 148.07L455.5 147.69L455.9 147.64L456.3 148.18L456.7 147.92L457.1 147.8L457.5 147.71L457.9 147.74L458.3 148.3L458.7 146.93L459.1 148.43L459.5 147.59L459.9 148.32L460.3 148.29L460.7 148.2L461.1 148.11L461.5 147.43L461.9 147.58L462.3 148.04L462.7 147.83L463.1 147.96L463.5 147.77L463.9 147.74L464.3 149.04L464.7 146.73L465.1 147.9L465.5 147.96L465.9 147.96L466.3 148.19L466.7 148.24L467.1 147.56L467.5 147.83L467.9 147.74L468.3 148.09L468.7 147.63L469.1 148.09L469.5 148.07L469.9 148.04L470.3 147.66L470.7 147.85L471.1 147.63L471.5 148L471.9 148.14L472.3 147.52L472.7 147.69L473.1 149.58L473.5 147.06L473.9 148.27L474.3 147.86L474.7 147.96L475.1 147.62L475.5 148.29L475.9 147.94L476.3 148.09L476.7 147.92L477.1 147.37L477.5 147.5L477.9 147.58L478.3 148.02L478.7 147.77L479.1 148.01L479.5 146.42L479.9 148.52L480.3 148.13L480.7 147.95L481.1 147.49L481.5 147.73L481.9 148.31L482.3 147.63L482.7 148.24L483.1 148.31L483.5 147.75L483.9 147.99L484.3 147.55L484.7 148.09L485.1 147.71L485.5 147.57L485.9 147.8L486.3 147.79L486.7 147.75L487.1 147.95L487.5 148.92L487.9 146.99L488.3 148.14L488.7 148.51L489.1 147.92L489.5 147.72L489.9 147.65L490.3 148.05L490.7 147.84L491.1 147.9L491.5 147.4L491.9 147.62L492.3 147.61L492.7 148.14L493.1 147.83L493.5 145.99L493.9 148.57L494.3 148.18L494.7 148.23L495.1 147.2L495.5 147.94L495.9 148.1L496.3 148.05L496.7 147.84L497.1 147.45L497.5 147.79L497.9 147.82L498.3 148.04L498.7 148.06L499.1 147.84L499.5 148.11L499.9 146.35L500.3 148.55L500.7 147.89L501.1 148.04L501.5 147.82L501.9 148.21L502.3 148L502.7 147.66L503.1 147.92L503.5 147.68L503.9 147.66L504.3 147.54L504.7 148.25L505.1 148.13L505.5 147.5L505.9 148.18L506.3 149.29L506.7 146.71L507.1 148.03L507.5 148.46L507.9 147.97L508.3 148.01L508.7 148.18L509.1 147.64L509.5 147.58L509.9 147.55L510.3 147.88L510.7 148.12L511.1 147.69L511.5 147.56L511.9 147.95L512.3 147.81L512.7 148.06L513.1 147.88L513.5 147.86L513.9 146.47L514.3 148.85L514.7 147.67L515.1 147.63L515.5 148.31L515.9 148.68L516.3 148.19L516.7 147.5L517.1 147.92L517.5 148.21L517.9 147.51L518.3 147.79L518.7 147.81L519.1 147.68L519.5 147.7L519.9 148.17L520.3 149.2L520.7 146.93L521.1 148.34L521.5 147.7L521.9 147.44L522.3 148.08L522.7 148.42L523.1 147.97L523.5 147.99L523.9 147.59L524.3 147.68L524.7 148.28L525.1 148.23L525.5 148.06L525.9 147.75L526.3 147.61L526.7 148.71L527.1 146.56L527.5 148.06L527.9 147.71L528.3 147.78L528.7 148.08L529.1 148.08L529.5 147.92L529.9 148.02L530.3 147.91L530.7 147.42L531.1 147.88L531.5 147.8L531.9 147.81L532.3 146.57L532.7 148.5L533.1 148.21L533.5 147.86L533.9 147.94L534.3 147.98L534.7 147.86L535.1 148.06L535.5 148.09L535.9 148.06L536.3 147.72L536.7 147.67L537.1 147.75L537.5 146.47L537.9 148.43L538.3 147.68L538.7 147.61L539.1 147.73L539.5 147.66L539.9 148.1L540.3 148.01L540.7 148.13L541.1 147.65L541.5 147.7L541.9 147.82L542.3 148.31L542.7 148.32L543.1 146.43L543.5 149.23L543.9 148.43L544.3 147.64L544.7 147.85L545.1 148.22L545.5 148.08L545.9 147.65L546.3 148.28L546.7 148.14L547.1 148.07L547.5 147.59L547.9 147.86L548.3 148.23L548.7 148.02L549.1 148.1L549.5 147.83L549.9 149.68L550.3 147.27L550.7 148.13L551.1 147.98L551.5 147.66L551.9 148.27L552.3 147.58L552.7 147.71L553.1 147.93L553.5 147.55L553.9 147.45L554.3 147.87L554.7 147.79L555.1 147.83L555.5 148.02L555.9 148.46L556.3 147.79L556.7 148.51L557.1 147.96L557.5 147.87L557.9 147.22L558.3 147.51L558.7 146.8L559.1 149.01L559.5 147.69L559.9 147.97L560.3 148.12L560.7 147.75L561.1 147.49L561.5 147.65L561.9 147.82L562.3 147.96L562.7 148.08L563.1 147.66L563.5 147.9L563.9 147.83L564.3 147.9L564.7 149.24L565.1 147.6L565.5 147.77L565.9 147.74L566.3 147.72L566.7 147.76L567.1 147.79L567.5 147.85L567.9 147.76L568.3 147.62L568.7 147.6L569.1 147.91L569.5 148.5L569.9 148.03L570.3 148.05L570.7 147.98L571.1 147.85L571.5 148.39L571.9 147.81L572.3 148.75L572.7 146.71L573.1 147.94L573.5 147.64L573.9 147.67L574.3 147.67L574.7 147.56L575.1 147.93L575.5 147.47L575.9 148.46L576.3 147.2L576.7 147.54L577.1 147.91L577.5 148L577.9 147.81L578.3 147.97L578.7 147.94L579.1 147.93L579.5 148.04L579.9 149.61L580.3 146.86L580.7 147.86L581.1 148.12L581.5 147.85L581.9 148.04L582.3 148.3L582.7 148L583.1 148.2L583.5 147.79L583.9 147.97L584.3 148.03L584.7 147.96L585.1 148.02L585.5 148.25L585.9 147.82L586.3 147.73L586.7 147.98L587.1 148.84L587.5 146.92L587.9 148.2L588.3 147.9L588.7 148.04L589.1 148L589.5 148.2L589.9 148.03L590.3 147.95L590.7 147.07L591.1 147.77L591.5 148.08L591.9 147.86L592.3 147.71L592.7 148.12L593.1 148.89L593.5 147.11L593.9 148.06L594.3 147.76L594.7 147.94L595.1 147.89L595.5 147.59L595.9 147.76L596.3 147.8L596.7 147.73L597.1 148.16L597.5 147.88L597.9 147.73L598.3 147.54L598.7 147.8L599.1 148.21L599.5 146.26L599.9 149.25L600.3 148L600.7 147.75L601.1 147.64L601.5 148.02L601.9 147.46L602.3 148.03L602.7 147.59L603.1 148.1L603.5 147.79L603.9 147.86L604.3 148.15L604.7 147.64L605.1 147.9L605.5 147.81L605.9 148.01L606.3 148.07L606.7 149.39L607.1 147.04L607.5 147.79L607.9 148.04L608.3 147.83L608.7 147.92L609.1 147.93L609.5 147.55L609.9 147.61L610.3 147.94L610.7 147.89L611.1 148.2L611.5 147.28L611.9 147.94L612.3 148.16L612.7 147.91L613.1 148.09L613.5 148.99L613.9 146.85L614.3 148.12L614.7 147.57L615.1 147.33L615.5 148.01L615.9 147.92L616.3 147.92L616.7 147.96L617.1 148.05L617.5 147.78L617.9 148.01L618.3 147.97L618.7 147.61L619.1 147.86L619.5 148.96L619.9 146.95L620.3 148.15L620.7 147.82L621.1 148.09L621.5 148.26L621.9 147.53L622.3 147.57L622.7 148.04L623.1 147.85L623.5 148.02L623.9 148.33L624.3 147.78L624.7 148.11L625.1 147.83L625.5 147.74L625.9 148.02L626.3 146.74L626.7 148.81L627.1 147.98L627.5 148.12L627.9 148.03L628.3 147.47L628.7 147.81L629.1 147.82L629.5 148.12L629.9 147.64L630.3 147.95L630.7 147.8L631.1 147.45L631.5 147.86L631.9 148.06L632.3 147.81L632.7 148.13L633.1 148L633.5 147.98L633.9 149.22L634.3 147.11L634.7 148.02L635.1 147.91L635.5 147.59L635.9 147.86L636.3 148L636.7 148.18L637.1 148.11L637.5 147.66L637.9 148.07L638.3 147.5L638.7 147.74L639.1 147.7L639.5 148.28L639.9 148.07L640.3 147.97L640.7 147.75" fill="none" stroke="#555" stroke-width="0.6" stroke-linejoin="round"/>
<path d="M45.5 353.4L45.9 353.47L46.3 353.33L46.7 353.18L47.1 353.29L47.5 353.15L47.9 353.42L48.3 352.27L48.7 354.23L49.1 353.24L49.5 353.52L49.9 353.49L50.3 353.43L50.7 353.17L51.1 353.39L51.5 353.57L51.9 353.06L52.3 353.29L52.7 352.92L53.1 353.08L53.5 352.94L53.9 353.34L54.3 353.08L54.7 354.92L55.1 352.41L55.5 353.35L55.9 352.77L56.3 353.27L56.7 353.39L57.1 353.43L57.5 353.02L57.9 353.28L58.3 353.16L58.7 353.2L59.1 353.67L59.5 353.2L59.9 353.39L60.3 353.62L60.7 353.25L61.1 353.37L61.5 353.43L61.9 351.98L62.3 353.73L62.7 353.42L63.1 353.74L63.5 353.01L63.9 353.61L64.3 353.43L64.7 353.24L65.1 353.9L65.5 353.59L65.9 353.1L66.3 353.42L66.7 353.54L67.1 353.35L67.5 353.57L67.9 353.38L68.3 353.57L68.7 353.76L69.1 354.62L69.5 352.83L69.9 353.28L70.3 353.43L70.7 353.1L71.1 353.26L71.5 353.35L71.9 353.62L72.3 353.69L72.7 353.07L73.1 353.2L73.5 353.56L73.9 352.9L74.3 353.28L74.7 353.38L75.1 353.71L75.5 353.57L75.9 353.32L76.3 353.31L76.7 354.45L77.1 352.9L77.5 353.29L77.9 353.32L78.3 353.49L78.7 353.37L79.1 353.35L79.5 353.12L79.9 353.4L80.3 353.29L80.7 353.69L81.1 353.56L81.5 353.39L81.9 353.57L82.3 353.32L82.7 353.66L83.1 353.4L83.5 353.55L83.9 353.08L84.3 353.49L84.7 354.3L85.1 352.2L85.5 353.32L85.9 353.18L86.3 353.44L86.7 353.96L87.1 353.19L87.5 353.24L87.9 353.45L88.3 353.52L88.7 353.36L89.1 353.35L89.5 353.58L89.9 353.53L90.3 353.14L90.7 353.38L91.1 354.96L91.5 352.24L91.9 353.46L92.3 353.19L92.7 353.64L93.1 353.45L93.5 353.42L93.9 353.25L94.3 353.37L94.7 352.9L95.1 353.12L95.5 353.49L95.9 352.87L96.3 353.61L96.7 354.62L97.1 352.44L97.5 353.19L97.9 353.59L98.3 353.43L98.7 353.02L99.1 353.71L99.5 353.76L99.9 353.38L100.3 353.33L100.7 353.36L101.1 353.16L101.5 353.67L101.9 352.13L102.3 354.48L102.7 353.2L103.1 353.24L103.5 353.08L103.9 353.71L104.3 353.36L104.7 353.64L105.1 353.4L105.5 353.23L105.9 353.32L106.3 353.26L106.7 353.4L107.1 353.31L107.5 353.33L107.9 353.06L108.3 353.2L108.7 353.81L109.1 353.23L109.5 353.14L109.9 353.48L110.3 353.75L110.7 352L111.1 354.08L111.5 353.24L111.9 352.96L112.3 353.58L112.7 353.39L113.1 353.42L113.5 353.21L113.9 353.51L114.3 353.27L114.7 353.36L115.1 353.12L115.5 353.1L115.9 353.73L116.3 351.54L116.7 354.02L117.1 353.39L117.5 353.29L117.9 353.27L118.3 353.56L118.7 353.32L119.1 353.36L119.5 353.41L119.9 353.69L120.3 353.57L120.7 353.5L121.1 353.26L121.5 353.05L121.9 353.64L122.3 352.25L122.7 354.23L123.1 353.54L123.5 353.6L123.9 353.61L124.3 353.63L124.7 353.29L125.1 353.78L125.5 353.09L125.9 353.62L126.3 353.52L126.7 353.62L127.1 353.87L127.5 353.77L127.9 353.11L128.3 352.98L128.7 353.6L129.1 353.15L129.5 353.4L129.9 352.5L130.3 353.74L130.7 352.87L131.1 353.46L131.5 353.41L131.9 353.34L132.3 353.41L132.7 353.18L133.1 353.02L133.5 353.36L133.9 353.16L134.3 352.99L134.7 353.53L135.1 353.38L135.5 353.5L135.9 353.15L136.3 353.24L136.7 353.15L137.1 353.18L137.5 353.45L137.9 353.2L138.3 353.49L138.7 353.48L139.1 352.31L139.5 353.63L139.9 353.62L140.3 353.38L140.7 353.4L141.1 353.04L141.5 353.28L141.9 353.59L142.3 353.38L142.7 353.42L143.1 353.33L143.5 353.69L143.9 353.39L144.3 352.85L144.7 353.23L145.1 352.91L145.5 352.59L145.9 353.27L146.3 353.73L146.7 353.41L147.1 351.48L147.5 353.67L147.9 353.68L148.3 353.44L148.7 353.41L149.1 353.39L149.5 353.41L149.9 353.6L150.3 353.54L150.7 353.45L151.1 353.14L151.5 353.53L151.9 353.23L152.3 353.67L152.7 353.08L153.1 353.37L153.5 353.4L153.9 353.07L154.3 353.83L154.7 353.77L155.1 353.28L155.5 353.59L155.9 352.36L156.3 353.57L156.7 353.46L157.1 353.38L157.5 353.42L157.9 353.13L158.3 353.33L158.7 353.36L159.1 353.7L159.5 353.48L159.9 353.4L160.3 353.78L160.7 353.26L161.1 353.3L161.5 352.95L161.9 353.79L162.3 353.64L162.7 353.63L163.1 353.57L163.5 352.3L163.9 354.05L164.3 353.34L164.7 353.35L165.1 353.41L165.5 353.78L165.9 353.54L166.3 353.39L166.7 353.26L167.1 353.24L167.5 353.8L167.9 353.53L168.3 353.42L168.7 353.31L169.1 353.12L169.5 354.43L169.9 352.97L170.3 353.3L170.7 353.34L171.1 353.34L171.5 353.43L171.9 353L172.3 353.34L172.7 353.19L173.1 353.62L173.5 353.21L173.9 353.54L174.3 353.78L174.7 353.32L175.1 354.53L175.5 352.54L175.9 353.4L176.3 353.15L176.7 353.52L177.1 353.9L177.5 353.34L177.9 353.35L178.3 353.14L178.7 353.48L179.1 353.09L179.5 353.12L179.9 353.72L180.3 353.17L180.7 353.67L181.1 352.75L181.5 354.2L181.9 353.54L182.3 353.89L182.7 353.35L183.1 353.25L183.5 353.06L183.9 353.41L184.3 353.77L184.7 353.64L185.1 353.16L185.5 353.19L185.9 353.27L186.3 353.47L186.7 353.35L187.1 353.45L187.5 353.47L187.9 353.33L188.3 353.39L188.7 353.45L189.1 354.7L189.5 352.5L189.9 353.87L190.3 353.55L190.7 353.41L191.1 352.98L191.5 353.5L191.9 352.91L192.3 353.05L192.7 353.61L193.1 353.58L193.5 353.36L193.9 352.97L194.3 353.31L194.7 353.23L195.1 353.56L195.5 353.96L195.9 351.74L196.3 354.35L196.7 353.11L197.1 353.39L197.5 353.36L197.9 353.11L198.3 353.43L198.7 353.11L199.1 353.68L199.5 353.67L199.9 353.67L200.3 353.28L200.7 353.53L201.1 353.37L201.5 353.3L201.9 352.11L202.3 353.67L202.7 353.04L203.1 353.6L203.5 353.35L203.9 353.45L204.3 353.65L204.7 352.97L205.1 353.2L205.5 353.44L205.9 353.5L206.3 353.31L206.7 353.66L207.1 353.45L207.5 353.1L207.9 353.17L208.3 353.6L208.7 355L209.1 351.77L209.5 353.74L209.9 353.55L210.3 353.74L210.7 353.3L211.1 353.33L211.5 353.12L211.9 354.03L212.3 353.36L212.7 353.8L213.1 353.24L213.5 353.44L213.9 352.98L214.3 351.92L214.7 354.24L215.1 353.09L215.5 353.67L215.9 353.48L216.3 353.14L216.7 353.27L217.1 353.29L217.5 353.39L217.9 353.27L218.3 353.19L218.7 353.32L219.1 353.14L219.5 353.08L219.9 353.39L220.3 353.62L220.7 353.02L221.1 353.4L221.5 353.24L221.9 353.16L222.3 353.61L222.7 353.27L223.1 355.33L223.5 352.61L223.9 353.5L224.3 353.34L224.7 353.21L225.1 353.55L225.5 353.36L225.9 353.55L226.3 353.39L226.7 353.13L227.1 353.37L227.5 353.41L227.9 353.64L228.3 353.17L228.7 353.39L229.1 352.97L229.5 353.56L229.9 353.13L230.3 352.95L230.7 353.39L231.1 353.68L231.5 353.02L231.9 354.2L232.3 352.48L232.7 353.12L233.1 353.49L233.5 353.2L233.9 353.22L234.3 353.55L234.7 353.21L235.1 353.51L235.5 353.16L235.9 353.1L236.3 352.94L236.7 353.87L237.1 353.32L237.5 353.46L237.9 353.39L238.3 353.44L238.7 353.41L239.1 353.88L239.5 353.14L239.9 353.01L240.3 353.15L240.7 352.04L241.1 354.73L241.5 353.61L241.9 353.16L242.3 353.05L242.7 353.31L243.1 353.75L243.5 352.7L243.9 353.53L244.3 353.13L244.7 353.66L245.1 353.13L245.5 353.33L245.9 353.02L246.3 353.16L246.7 353.75L247.1 353.61L247.5 353.3L247.9 353.18L248.3 354.38L248.7 352.48L249.1 353.39L249.5 353.38L249.9 353.38L250.3 353.12L250.7 353.38L251.1 353.39L251.5 353.72L251.9 353.87L252.3 353.37L252.7 353.21L253.1 353.38L253.5 353.25L253.9 353.21L254.3 353.39L254.7 353.14L255.1 353.55L255.5 351.78L255.9 354.44L256.3 353.35L256.7 353.22L257.1 353.16L257.5 353.34L257.9 353.26L258.3 353.46L258.7 353.4L259.1 353.06L259.5 353.42L259.9 353.06L260.3 353.25L260.7 353.33L261.1 352.88L261.5 353.42L261.9 353.44L262.3 353.36L262.7 353.29L263.1 353.31L263.5 353.16L263.9 353.33L264.3 354.91L264.7 352.64L265.1 353.1L265.5 353.46L265.9 353.44L266.3 353.36L266.7 353.29L267.1 353.54L267.5 352.98L267.9 353.52L268.3 353.46L268.7 353.47L269.1 353.5L269.5 353.24L269.9 353.34L270.3 353.56L270.7 353.51L271.1 353.45L271.5 353.02L271.9 353.53L272.3 351.98L272.7 354.85L273.1 353.46L273.5 353.01L273.9 353.64L274.3 353.36L274.7 352.77L275.1 353.49L275.5 353.03L275.9 353.08L276.3 353.24L276.7 353.72L277.1 353.31L277.5 353.47L277.9 353.84L278.3 353.8L278.7 351.62L279.1 354.5L279.5 353.08L279.9 353.23L280.3 353.51L280.7 353.5L281.1 353.43L281.5 353.65L281.9 353.21L282.3 353.39L282.7 353.58L283.1 353.55L283.5 353.67L283.9 353.5L284.3 353.32L284.7 353.49L285.1 351.4L285.5 353.77L285.9 353.55L286.3 353.39L286.7 353.48L287.1 352.98L287.5 353.31L287.9 353.25L288.3 353.18L288.7 352.84L289.1 353.32L289.5 353.62L289.9 353.5L290.3 353.25L290.7 353.4L291.1 353.59L291.5 351.33L291.9 354.18L292.3 353.54L292.7 353.57L293.1 353.83L293.5 353.68L293.9 353.48L294.3 353.48L294.7 353.6L295.1 353.27L295.5 353.39L295.9 353.63L296.3 353.89L296.7 353.36L297.1 353.39L297.5 353.45L297.9 355.08L298.3 352.79L298.7 353.77L299.1 353.16L299.5 353.35L299.9 353.35L300.3 353.6L300.7 353.66L301.1 353.02L301.5 353.17L301.9 353.48L302.3 353.24L302.7 353.02L303.1 353.66L303.5 354.98L303.9 352.55L304.3 353.28L304.7 353.66L305.1 353.34L305.5 353.67L305.9 353.17L306.3 353.19L306.7 353.45L307.1 353.22L307.5 353.57L307.9 353.47L308.3 353.17L308.7 353.42L309.1 353.31L309.5 353.63L309.9 353.24L310.3 353.29L310.7 353.7L311.1 353.96L311.5 355.08L311.9 352.75L312.3 353.45L312.7 353.78L313.1 353.37L313.5 353.16L313.9 353.43L314.3 353.51L314.7 353.19L315.1 352.99L315.5 353.04L315.9 353.57L316.3 353.21L316.7 353.36L317.1 353.45L317.5 353.55L317.9 353.32" fill="none" stroke="#555" stroke-width="0.6" stroke-linejoin="round"/>
<path d="M363.5 353.22L363.8 354.95L364.1 354.41L364.4 351.41L364.7 355.02L365 354.79L365.3 352.78L365.6 352.94L365.9 352.8L366.2 352.19L366.5 353.76L366.8 352.07L367.1 353L367.4 353.99L367.7 351.39L368 353.45L368.3 352.43L368.6 353.51L368.9 353.19L369.2 353.35L369.5 360.25L369.8 351.74L370.1 353.31L370.4 350.8L370.7 354.12L371 353.11L371.3 354.33L371.6 351.68L371.9 355.32L372.2 353.85L372.5 354.62L372.8 354.47L373.1 354.32L373.4 353.95L373.7 352.3L374 356.17L374.3 357.07L374.6 354.17L374.9 356.62L375.2 356.14L375.5 355.38L375.8 354.7L376.1 355.66L376.4 354.19L376.7 354.71L377 354.53L377.3 358.64L377.6 354.45L377.9 355.58L378.2 355.23L378.5 352.99L378.8 353.48L379.1 353.17L379.4 351.48L379.7 354.84L380 352.74L380.3 355.4L380.6 351.92L380.9 353.4L381.2 359.34L381.5 353.98L381.8 353.75L382.1 353.07L382.4 355.2L382.7 353.52L383 348.19L383.3 353.58L383.6 353.85L383.9 356.17L384.2 356.15L384.5 352.69L384.8 353.72L385.1 355.44L385.4 354.12L385.7 355.03L386 351.96L386.3 354.05L386.6 358.73L386.9 353.67L387.2 352.8L387.5 353.58L387.8 355.84L388.1 352.99L388.4 354.41L388.7 354.33L389 354.46L389.3 356.73L389.6 356.51L389.9 350.01L390.2 355.44L390.5 354.17L390.8 355.34L391.1 354.58L391.4 356.25L391.7 355.08L392 353.43L392.3 349.76L392.6 353.31L392.9 356.78L393.2 353.42L393.5 352.92L393.8 353.79L394.1 354.1L394.4 355.49L394.7 354.13L395 357.05L395.3 355.31L395.6 355.66L395.9 356.79L396.2 355.07L396.5 354.93L396.8 355.05L397.1 353.33L397.4 353.59L397.7 351.95L398 353.69L398.3 354.22L398.6 356.23L398.9 350.5L399.2 359.4L399.5 353.42L399.8 357.05L400.1 354.3L400.4 354.01L400.7 354.13L401 353.19L401.3 353.73L401.6 352.4L401.9 351.65L402.2 356.35L402.5 352.1L402.8 349.34L403.1 355.44L403.4 356.33L403.7 353.34L404 355.18L404.3 353.09L404.6 353.71L404.9 349.22L405.2 354.15L405.5 352.87L405.8 353.74L406.1 352.93L406.4 353.41L406.7 353.68L407 352.95L407.3 353.52L407.6 352.53L407.9 354.68L408.2 354.96L408.5 353.3L408.8 353.34L409.1 352.86L409.4 352.99L409.7 354L410 350.88L410.3 347.53L410.6 354.23L410.9 339.67L411.2 353.4L411.5 356.16L411.8 356.24L412.1 354.37L412.4 357.66L412.7 353.07L413 353.28L413.3 346.6L413.6 356.38L413.9 353.95L414.2 354.97L414.5 353.8L414.8 353.99L415.1 354.08L415.4 354.85L415.7 351.27L416 354.77L416.3 352.73L416.6 354.69L416.9 360.98L417.2 352.4L417.5 355.39L417.8 353.87L418.1 352.93L418.4 355.46L418.7 351.67L419 358.25L419.3 353.09L419.6 353.42L419.9 352.87L420.2 353.98L420.5 351L420.8 354.98L421.1 354.3L421.4 353.08L421.7 353.04L422 355.02L422.3 360.68L422.6 357.92L422.9 354.68L423.2 354.24L423.5 354.87L423.8 351.83L424.1 356.08L424.4 352.34L424.7 352.44L425 353.41L425.3 352.77L425.6 352.16L425.9 352.2L426.2 355.3L426.5 352.12L426.8 355.16L427.1 353.25L427.4 355.3L427.7 353.18L428 354.46L428.3 354.29L428.6 354.91L428.9 349.1L429.2 354.4L429.5 355.67L429.8 352.22L430.1 355.08L430.4 347.45L430.7 355.06L431 353.52L431.3 355.87L431.6 354.11L431.9 351.3L432.2 355.85L432.5 354.04L432.8 353.8L433.1 355.15L433.4 355.71L433.7 354.86L434 350.56L434.3 354.4L434.6 354.61L434.9 355.86L435.2 356.33L435.5 356.24L435.8 355.09L436.1 358.29L436.4 353.86L436.7 352.9L437 351.72L437.3 353.82L437.6 356.57L437.9 354.74L438.2 357.9L438.5 354.27L438.8 352.81L439.1 357.95L439.4 353.86L439.7 357.48L440 349.28L440.3 351.77L440.6 353.73L440.9 352.33L441.2 355.19L441.5 354.42L441.8 339.4L442.1 351.58L442.4 351.53L442.7 358.77L443 364.05L443.3 353.17L443.6 355.92L443.9 352.64L444.2 351.75L444.5 354.94L444.8 356.58L445.1 351.85L445.4 353.86L445.7 355.76L446 348.01L446.3 353.95L446.6 355.74L446.9 354.63L447.2 354.72L447.5 353.64L447.8 355.29L448.1 354.06L448.4 357.77L448.7 349.47L449 355.25L449.3 356.13L449.6 352.78L449.9 355.26L450.2 352.73L450.5 355.08L450.8 356.65L451.1 353.37L451.4 357.41L451.7 353.63L452 349.75L452.3 353.08L452.6 354.04L452.9 354.35L453.2 354.17L453.5 355.03L453.8 354.43L454.1 356.95L454.4 355.5L454.7 354.69L455 357.34L455.3 357.38L455.6 350.7L455.9 351.95L456.2 355.26L456.5 353.23L456.8 352.04L457.1 355.83L457.4 351.27L457.7 350.91L458 353.82L458.3 353.82L458.6 353.96L458.9 352.16L459.2 352.37L459.5 349L459.8 353.62L460.1 354.97L460.4 356L460.7 354.09L461 355.51L461.3 356.99L461.6 369.13L461.9 356.97L462.2 349.39L462.5 354.28L462.8 354.59L463.1 359.47L463.4 354.15L463.7 353.47L464 354.71L464.3 355.89L464.6 352.21L464.9 353.84L465.2 353.43L465.5 353.06L465.8 354.33L466.1 352.02L466.4 354.02L466.7 355.38L467 355.37L467.3 355.04L467.6 354.54L467.9 354.94L468.2 354.13L468.5 354.47L468.8 354.68L469.1 355.47L469.4 354.78L469.7 354.45L470 351.34L470.3 347.6L470.6 353.2L470.9 352.3L471.2 351.74L471.5 354.13L471.8 353.55L472.1 346.41L472.4 352.18L472.7 352.7L473 352.97L473.3 353.97L473.6 355.62L473.9 353.39L474.2 350.13L474.5 353.45L474.8 353.57L475.1 351.7L475.4 351.57L475.7 353.79L476 360.46L476.3 354.83L476.6 356.44L476.9 354.01L477.2 357.98L477.5 352.59L477.8 354.96L478.1 353.86L478.4 354.44L478.7 350.85L479 351.78L479.3 354.94L479.6 355.54L479.9 354.4L480.2 354.78L480.5 356.34L480.8 354.36L481.1 355.39L481.4 353.9L481.7 354.05L482 355.5L482.3 351.57L482.6 352.53L482.9 349.9L483.2 353.63L483.5 353.53L483.8 357.48L484.1 353.16L484.4 354.36L484.7 355.89L485 355.44L485.3 353.96L485.6 355.98L485.9 349.83L486.2 354.38L486.5 357.29L486.8 352.65L487.1 346.06L487.4 355.07L487.7 353.31L488 355.3L488.3 357.74L488.6 353.94L488.9 355.16L489.2 358.43L489.5 353L489.8 355.92L490.1 356.84L490.4 348.26L490.7 354.65L491 354.09L491.3 352.98L491.6 355.22L491.9 351.06L492.2 356.43L492.5 353.58L492.8 357.13L493.1 355.23L493.4 354.18L493.7 351.42L494 351.56L494.3 354.27L494.6 351.92L494.9 354.44L495.2 351.21L495.5 355.28L495.8 353.75L496.1 354.57L496.4 352.45L496.7 353.17L497 354.7L497.3 354.16L497.6 352.39L497.9 354.83L498.2 352.09L498.5 365.32L498.8 356.27L499.1 353.89L499.4 353.77L499.7 351.74L500 353.6L500.3 347.3L500.6 353.2L500.9 357.25L501.2 348.92L501.5 354.27L501.8 352.57L502.1 353.28L502.4 350.52L502.7 355.5L503 349.55L503.3 355.13L503.6 355.43L503.9 353.37L504.2 354.6L504.5 339.32L504.8 351.83L505.1 347.1L505.4 355.65L505.7 357.26L506 350.24L506.3 355.01L506.6 353.88L506.9 349.34L507.2 353.43L507.5 354.35L507.8 356.53L508.1 353.34L508.4 355.24L508.7 358.59L509 356.52L509.3 351.55L509.6 354.91L509.9 357.8L510.2 360.3L510.5 355.34L510.8 347.24L511.1 355.5L511.4 358.16L511.7 355.55L512 355.82L512.3 351.39L512.6 352.68L512.9 349.99L513.2 351.33L513.5 353.96L513.8 355.75L514.1 355.64L514.4 354.33L514.7 358.67L515 358.47L515.3 353.9L515.6 366.21L515.9 355.45L516.2 355.02L516.5 357.12L516.8 352.56L517.1 352.5L517.4 360.09L517.7 359.32L518 338.2L518.3 352.6L518.6 360.76L518.9 355.58L519.2 353.81L519.5 349.28L519.8 355.24L520.1 354.74L520.4 357.71L520.7 339.87L521 352.81L521.3 357.34L521.6 351.67L521.9 359.25L522.2 353.6L522.5 364.87L522.8 352.13L523.1 359.21L523.4 352.36L523.7 358.34L524 352.81L524.3 370.2L524.6 351.55L524.9 356.18L525.2 358.21L525.5 351.79L525.8 358.53L526.1 353.56L526.4 351.41L526.7 354.54L527 352.85L527.3 354.92L527.6 353.05L527.9 350.25L528.2 365.18L528.5 354.78L528.8 347.86L529.1 355.54L529.4 350.73L529.7 353.52L530 355.83L530.3 357.52L530.6 354.85L530.9 356.42L531.2 361.17L531.5 354.31L531.8 356.11L532.1 357.06L532.4 351.49L532.7 357.83L533 351.06L533.3 355.05L533.6 350.69L533.9 356.12L534.2 355.88L534.5 353.1L534.8 357.23L535.1 358.18L535.4 351.67L535.7 351.73L536 354.96L536.3 357.27L536.6 351.37L536.9 361.34L537.2 353.35L537.5 359.33L537.8 353.05L538.1 355.96L538.4 351.62L538.7 355.67L539 354.18L539.3 353.77L539.6 351.34L539.9 355.28L540.2 356.02L540.5 352.88L540.8 356.71L541.1 356.72L541.4 354.61L541.7 352.05L542 353.55L542.3 355.66L542.6 355.46L542.9 353.26L543.2 353.15L543.5 355.63L543.8 355.88L544.1 357.09L544.4 352.72L544.7 355.16L545 357.52L545.3 353.87L545.6 355.54L545.9 353.34L546.2 356.73L546.5 357.23L546.8 352.91L547.1 359.35L547.4 349.49L547.7 353.57L548 355.61L548.3 353.34L548.6 356.8L548.9 353.87L549.2 351.97L549.5 363.93L549.8 350.71L550.1 348.18L550.4 350.26L550.7 355.1L551 352.58L551.3 355.16L551.6 353.39L551.9 354.62L552.2 355.55L552.5 356.81L552.8 352.4L553.1 352.67L553.4 354.77L553.7 358.35L554 355.46L554.3 361.21L554.6 354.33L554.9 353.87L555.2 352.84L555.5 356.03L555.8 358.33L556.1 355.02L556.4 351.4L556.7 350.71L557 359.42L557.3 350.87L557.6 360.26L557.9 355.64L558.2 354.01L558.5 356.3L558.8 354.34L559.1 358.44L559.4 353.41L559.7 363.38L560 353.87L560.3 356.7L560.6 357.53L560.9 352.17L561.2 351.25L561.5 357.82L561.8 357.14L562.1 356.22L562.4 353.1L562.7 351.88L563 352.13L563.3 354.61L563.6 351.7L563.9 351.45L564.2 354.96L564.5 358.48L564.8 351.26L565.1 342.25L565.4 349.67L565.7 344.71L566 356.14L566.3 355.03L566.6 353.56L566.9 353.61L567.2 355.32L567.5 358.1L567.8 350.57L568.1 352.39L568.4 350.9L568.7 355.58L569 360.06L569.3 355.57L569.6 351.63L569.9 355.84L570.2 359.27L570.5 353.18L570.8 347.35L571.1 350.18L571.4 355.97L571.7 360.6L572 358.5L572.3 348.14L572.6 353.77L572.9 350.65L573.2 356.47L573.5 355.17L573.8 355.94L574.1 356.18L574.4 351.66L574.7 353.92L575 350.75L575.3 352.06L575.6 353.53L575.9 351.92L576.2 349.34L576.5 349.84L576.8 350.6L577.1 359.94L577.4 351.35L577.7 358.13L578 356.74L578.3 355.34L578.6 357.85L578.9 355.64L579.2 353.3L579.5 357.06L579.8 355.84L580.1 350L580.4 352.96L580.7 354.37L581 349.99L581.3 357.42L581.6 347.3L581.9 354.34L582.2 357.93L582.5 356.66L582.8 355.35L583.1 355.06L583.4 354.52L583.7 353.43L584 349.75L584.3 356.29L584.6 353.18L584.9 352.87L585.2 355.36L585.5 342.12L585.8 352.52L586.1 355.76L586.4 353.48L586.7 351.21L587 351.37L587.3 361.98L587.6 352.66L587.9 359.92L588.2 352.12L588.5 354.95L588.8 352.8L589.1 350.96L589.4 353.16L589.7 359.32L590 352.23L590.3 351.79L590.6 355.45L590.9 352.08L591.2 352.55L591.5 350.91L591.8 356.4L592.1 355.4L592.4 348.09L592.7 360.72L593 352.87L593.3 353.36L593.6 352.18L593.9 354.6L594.2 355.76L594.5 353L594.8 354.83L595.1 354.9L595.4 345.67L595.7 354.24L596 355.17L596.3 356.9L596.6 354.03L596.9 354.99L597.2 356.34L597.5 356.55L597.8 345.83L598.1 354.89L598.4 338.2L598.7 353.23L599 366.07L599.3 356.71L599.6 360.62L599.9 358.29L600.2 353.69L600.5 357.4L600.8 353.07L601.1 354.77L601.4 353.11L601.7 355.24L602 352.07L602.3 354.78L602.6 354.18L602.9 353.36L603.2 362.27L603.5 361.93L603.8 353.6L604.1 356.5L604.4 354.13L604.7 354.17L605 353.68L605.3 356.66L605.6 356.41L605.9 350.47L606.2 352.86L606.5 354.93L606.8 355.82L607.1 354.93L607.4 353.82L607.7 356.52L608 353.28L608.3 354.46L608.6 354.46L608.9 354.81L609.2 353.28L609.5 354.41L609.8 355.83L610.1 356.08L610.4 355.5L610.7 354.7L611 361.4L611.3 354.51L611.6 353.44L611.9 353.53L612.2 353.79L612.5 352.13L612.8 353.69L613.1 354.25L613.4 351.19L613.7 352.82L614 353.06L614.3 355.4L614.6 353.98L614.9 354.59L615.2 354.77L615.5 353.21L615.8 352.57L616.1 354.82L616.4 354.84L616.7 357.4L617 354.37L617.3 353L617.6 353.17L617.9 354.16L618.2 352.89L618.5 354.4L618.8 354.56L619.1 355.41L619.4 356.53L619.7 355.49L620 354.34L620.3 352.81L620.6 352.29L620.9 355.33L621.2 352.86L621.5 354.31L621.8 355.07L622.1 354.44L622.4 356.9L622.7 350.26L623 353.03L623.3 352.21L623.6 352.79L623.9 352.77L624.2 355L624.5 354.13L624.8 354.05L625.1 355.37L625.4 361.02L625.7 355.94L626 356.37L626.3 354.2L626.6 354.21L626.9 355.88L627.2 353.83L627.5 355.3L627.8 352.35L628.1 354.59L628.4 353.76L628.7 354.31L629 351.76L629.3 352.34L629.6 352.82L629.9 354.61L630.2 353.48L630.5 355.39L630.8 355.37L631.1 354.02L631.4 359.81L631.7 356.52L632 356.16L632.3 354.65L632.6 354.52L632.9 352.95L633.2 351.53L633.5 353.61L633.8 354.79L634.1 352.81L634.4 353.93L634.7 352.04L635 357.2L635.3 352.73L635.6 355.9L635.9 352.37L636.2 353.44L636.5 356L636.8 348.96" fill="none" stroke="#444" stroke-width="0.5" stroke-linejoin="round"/>
<path d="M46.5 66h0.9v1.2h-0.9zM48 66h0.9v1.2h-0.9zM61 66h0.9v1.2h-0.9zM65 66h0.9v1.2h-0.9zM68.5 66h0.9v1.2h-0.9zM71 66h0.9v1.2h-0.9zM71.5 66h0.9v1.2h-0.9zM74 66h0.9v1.2h-0.9zM75 66h0.9v1.2h-0.9zM78 66h0.9v1.2h-0.9zM79.5 66h0.9v1.2h-0.9zM81 66h0.9v1.2h-0.9zM81.5 66h0.9v1.2h-0.9zM88.5 66h0.9v1.2h-0.9zM89 66h0.9v1.2h-0.9zM97.5 66h0.9v1.2h-0.9zM101 66h0.9v1.2h-0.9zM103.5 66h0.9v1.2h-0.9zM105 66h0.9v1.2h-0.9zM105.5 66h0.9v1.2h-0.9zM110.5 66h0.9v1.2h-0.9zM111 66h0.9v1.2h-0.9zM113.5 66h0.9v1.2h-0.9zM116 66h0.9v1.2h-0.9zM129 66h0.9v1.2h-0.9zM130.5 66h0.9v1.2h-0.9zM140.5 66h0.9v1.2h-0.9zM144 66h0.9v1.2h-0.9zM145.5 66h0.9v1.2h-0.9zM152.5 66h0.9v1.2h-0.9zM153 66h0.9v1.2h-0.9zM154.5 66h0.9v1.2h-0.9zM162.5 66h0.9v1.2h-0.9zM164.5 66h0.9v1.2h-0.9zM165 66h0.9v1.2h-0.9zM167.5 66h0.9v1.2h-0.9zM168 66h0.9v1.2h-0.9zM174 66h0.9v1.2h-0.9zM176.5 66h0.9v1.2h-0.9zM189 66h0.9v1.2h-0.9zM195 66h0.9v1.2h-0.9zM196.5 66h0.9v1.2h-0.9zM200 66h0.9v1.2h-0.9zM203 66h0.9v1.2h-0.9zM203.5 66h0.9v1.2h-0.9zM205 66h0.9v1.2h-0.9zM209.5 66h0.9v1.2h-0.9zM211.5 66h0.9v1.2h-0.9zM219 66h0.9v1.2h-0.9zM222.5 66h0.9v1.2h-0.9zM223.5 66h0.9v1.2h-0.9zM227.5 66h0.9v1.2h-0.9zM228.5 66h0.9v1.2h-0.9zM233 66h0.9v1.2h-0.9zM234 66h0.9v1.2h-0.9zM252 66h0.9v1.2h-0.9zM272 66h0.9v1.2h-0.9zM278.5 66h0.9v1.2h-0.9zM279.5 66h0.9v1.2h-0.9zM284 66h0.9v1.2h-0.9zM288.5 66h0.9v1.2h-0.9zM289 66h0.9v1.2h-0.9zM289.5 66h0.9v1.2h-0.9zM296 66h0.9v1.2h-0.9zM303.5 66h0.9v1.2h-0.9zM312 66h0.9v1.2h-0.9zM312.5 66h0.9v1.2h-0.9zM315 66h0.9v1.2h-0.9zM46 73.2h0.9v1.2h-0.9zM47.5 73.2h0.9v1.2h-0.9zM50 73.2h0.9v1.2h-0.9zM51 73.2h0.9v1.2h-0.9zM51.5 73.2h0.9v1.2h-0.9zM55.5 73.2h0.9v1.2h-0.9zM58 73.2h0.9v1.2h-0.9zM58.5 73.2h0.9v1.2h-0.9zM63.5 73.2h0.9v1.2h-0.9zM64 73.2h0.9v1.2h-0.9zM65 73.2h0.9v1.2h-0.9zM66.5 73.2h0.9v1.2h-0.9zM68 73.2h0.9v1.2h-0.9zM68.5 73.2h0.9v1.2h-0.9zM70.5 73.2h0.9v1.2h-0.9zM72.5 73.2h0.9v1.2h-0.9zM73 73.2h0.9v1.2h-0.9zM73.5 73.2h0.9v1.2h-0.9zM74 73.2h0.9v1.2h-0.9zM74.5 73.2h0.9v1.2h-0.9zM75 73.2h0.9v1.2h-0.9zM75.5 73.2h0.9v1.2h-0.9zM76 73.2h0.9v1.2h-0.9zM78 73.2h0.9v1.2h-0.9zM78.5 73.2h0.9v1.2h-0.9zM79.5 73.2h0.9v1.2h-0.9zM81.5 73.2h0.9v1.2h-0.9zM82 73.2h0.9v1.2h-0.9zM82.5 73.2h0.9v1.2h-0.9zM84.5 73.2h0.9v1.2h-0.9zM85 73.2h0.9v1.2h-0.9zM87.5 73.2h0.9v1.2h-0.9zM88 73.2h0.9v1.2h-0.9zM92 73.2h0.9v1.2h-0.9zM94 73.2h0.9v1.2h-0.9zM94.5 73.2h0.9v1.2h-0.9zM97.5 73.2h0.9v1.2h-0.9zM100 73.2h0.9v1.2h-0.9zM101 73.2h0.9v1.2h-0.9zM102 73.2h0.9v1.2h-0.9zM106 73.2h0.9v1.2h-0.9zM109.5 73.2h0.9v1.2h-0.9zM113.5 73.2h0.9v1.2h-0.9zM115 73.2h0.9v1.2h-0.9zM115.5 73.2h0.9v1.2h-0.9zM119 73.2h0.9v1.2h-0.9zM120 73.2h0.9v1.2h-0.9zM129 73.2h0.9v1.2h-0.9zM130.5 73.2h0.9v1.2h-0.9zM132 73.2h0.9v1.2h-0.9zM133 73.2h0.9v1.2h-0.9zM134.5 73.2h0.9v1.2h-0.9zM136 73.2h0.9v1.2h-0.9zM138 73.2h0.9v1.2h-0.9zM141.5 73.2h0.9v1.2h-0.9zM142 73.2h0.9v1.2h-0.9zM142.5 73.2h0.9v1.2h-0.9zM143 73.2h0.9v1.2h-0.9zM143.5 73.2h0.9v1.2h-0.9zM146 73.2h0.9v1.2h-0.9zM147 73.2h0.9v1.2h-0.9zM148 73.2h0.9v1.2h-0.9zM148.5 73.2h0.9v1.2h-0.9zM149 73.2h0.9v1.2h-0.9zM151.5 73.2h0.9v1.2h-0.9zM153 73.2h0.9v1.2h-0.9zM155 73.2h0.9v1.2h-0.9zM157 73.2h0.9v1.2h-0.9zM161 73.2h0.9v1.2h-0.9zM165 73.2h0.9v1.2h-0.9zM166.5 73.2h0.9v1.2h-0.9zM168 73.2h0.9v1.2h-0.9zM169 73.2h0.9v1.2h-0.9zM170 73.2h0.9v1.2h-0.9zM170.5 73.2h0.9v1.2h-0.9zM172 73.2h0.9v1.2h-0.9zM173 73.2h0.9v1.2h-0.9zM174 73.2h0.9v1.2h-0.9zM178.5 73.2h0.9v1.2h-0.9zM179 73.2h0.9v1.2h-0.9zM181.5 73.2h0.9v1.2h-0.9zM182.5 73.2h0.9v1.2h-0.9zM184.5 73.2h0.9v1.2h-0.9zM186 73.2h0.9v1.2h-0.9zM188.5 73.2h0.9v1.2h-0.9zM189.5 73.2h0.9v1.2h-0.9zM193 73.2h0.9v1.2h-0.9zM196 73.2h0.9v1.2h-0.9zM197.5 73.2h0.9v1.2h-0.9zM200.5 73.2h0.9v1.2h-0.9zM202.5 73.2h0.9v1.2h-0.9zM207 73.2h0.9v1.2h-0.9zM210 73.2h0.9v1.2h-0.9zM211.5 73.2h0.9v1.2h-0.9zM214 73.2h0.9v1.2h-0.9zM214.5 73.2h0.9v1.2h-0.9zM215 73.2h0.9v1.2h-0.9zM220 73.2h0.9v1.2h-0.9zM220.5 73.2h0.9v1.2h-0.9zM221.5 73.2h0.9v1.2h-0.9zM222.5 73.2h0.9v1.2h-0.9zM223.5 73.2h0.9v1.2h-0.9zM224 73.2h0.9v1.2h-0.9zM228.5 73.2h0.9v1.2h-0.9zM230.5 73.2h0.9v1.2h-0.9zM231.5 73.2h0.9v1.2h-0.9zM234 73.2h0.9v1.2h-0.9zM236 73.2h0.9v1.2h-0.9zM238 73.2h0.9v1.2h-0.9zM240 73.2h0.9v1.2h-0.9zM242 73.2h0.9v1.2h-0.9zM244.5 73.2h0.9v1.2h-0.9zM249.5 73.2h0.9v1.2h-0.9zM253.5 73.2h0.9v1.2h-0.9zM257.5 73.2h0.9v1.2h-0.9zM259 73.2h0.9v1.2h-0.9zM259.5 73.2h0.9v1.2h-0.9zM261.5 73.2h0.9v1.2h-0.9zM263.5 73.2h0.9v1.2h-0.9zM266.5 73.2h0.9v1.2h-0.9zM269 73.2h0.9v1.2h-0.9zM269.5 73.2h0.9v1.2h-0.9zM272.5 73.2h0.9v1.2h-0.9zM273 73.2h0.9v1.2h-0.9zM275 73.2h0.9v1.2h-0.9zM278.5 73.2h0.9v1.2h-0.9zM280.5 73.2h0.9v1.2h-0.9zM285.5 73.2h0.9v1.2h-0.9zM286 73.2h0.9v1.2h-0.9zM287.5 73.2h0.9v1.2h-0.9zM290.5 73.2h0.9v1.2h-0.9zM291 73.2h0.9v1.2h-0.9zM296.5 73.2h0.9v1.2h-0.9zM297.5 73.2h0.9v1.2h-0.9zM299.5 73.2h0.9v1.2h-0.9zM302.5 73.2h0.9v1.2h-0.9zM304.5 73.2h0.9v1.2h-0.9zM305 73.2h0.9v1.2h-0.9zM306.5 73.2h0.9v1.2h-0.9zM308 73.2h0.9v1.2h-0.9zM308.5 73.2h0.9v1.2h-0.9zM309 73.2h0.9v1.2h-0.9zM311 73.2h0.9v1.2h-0.9zM311.5 73.2h0.9v1.2h-0.9zM312.5 73.2h0.9v1.2h-0.9zM313 73.2h0.9v1.2h-0.9zM314 73.2h0.9v1.2h-0.9zM317.5 73.2h0.9v1.2h-0.9zM46 80.4h0.9v1.2h-0.9zM48.5 80.4h0.9v1.2h-0.9zM54.5 80.4h0.9v1.2h-0.9zM55 80.4h0.9v1.2h-0.9zM60 80.4h0.9v1.2h-0.9zM60.5 80.4h0.9v1.2h-0.9zM61.5 80.4h0.9v1.2h-0.9zM63 80.4h0.9v1.2h-0.9zM63.5 80.4h0.9v1.2h-0.9zM67.5 80.4h0.9v1.2h-0.9zM70 80.4h0.9v1.2h-0.9zM74 80.4h0.9v1.2h-0.9zM74.5 80.4h0.9v1.2h-0.9zM81 80.4h0.9v1.2h-0.9zM81.5 80.4h0.9v1.2h-0.9zM83.5 80.4h0.9v1.2h-0.9zM84.5 80.4h0.9v1.2h-0.9zM90 80.4h0.9v1.2h-0.9zM91.5 80.4h0.9v1.2h-0.9zM94.5 80.4h0.9v1.2h-0.9zM97 80.4h0.9v1.2h-0.9zM98 80.4h0.9v1.2h-0.9zM99.5 80.4h0.9v1.2h-0.9zM104 80.4h0.9v1.2h-0.9zM105 80.4h0.9v1.2h-0.9zM106.5 80.4h0.9v1.2h-0.9zM107.5 80.4h0.9v1.2h-0.9zM110.5 80.4h0.9v1.2h-0.9zM124.5 80.4h0.9v1.2h-0.9zM126.5 80.4h0.9v1.2h-0.9zM128 80.4h0.9v1.2h-0.9zM131.5 80.4h0.9v1.2h-0.9zM134 80.4h0.9v1.2h-0.9zM135 80.4h0.9v1.2h-0.9zM136 80.4h0.9v1.2h-0.9zM139 80.4h0.9v1.2h-0.9zM140.5 80.4h0.9v1.2h-0.9zM141.5 80.4h0.9v1.2h-0.9zM147 80.4h0.9v1.2h-0.9zM147.5 80.4h0.9v1.2h-0.9zM148.5 80.4h0.9v1.2h-0.9zM150.5 80.4h0.9v1.2h-0.9zM151.5 80.4h0.9v1.2h-0.9zM152 80.4h0.9v1.2h-0.9zM153 80.4h0.9v1.2h-0.9zM154.5 80.4h0.9v1.2h-0.9zM156.5 80.4h0.9v1.2h-0.9zM157 80.4h0.9v1.2h-0.9zM160 80.4h0.9v1.2h-0.9zM160.5 80.4h0.9v1.2h-0.9zM163.5 80.4h0.9v1.2h-0.9zM164 80.4h0.9v1.2h-0.9zM164.5 80.4h0.9v1.2h-0.9zM166 80.4h0.9v1.2h-0.9zM167.5 80.4h0.9v1.2h-0.9zM172.5 80.4h0.9v1.2h-0.9zM177 80.4h0.9v1.2h-0.9zM177.5 80.4h0.9v1.2h-0.9zM179.5 80.4h0.9v1.2h-0.9zM185 80.4h0.9v1.2h-0.9zM189.5 80.4h0.9v1.2h-0.9zM190.5 80.4h0.9v1.2h-0.9zM191.5 80.4h0.9v1.2h-0.9zM192.5 80.4h0.9v1.2h-0.9zM195 80.4h0.9v1.2h-0.9zM198 80.4h0.9v1.2h-0.9zM201 80.4h0.9v1.2h-0.9zM201.5 80.4h0.9v1.2h-0.9zM202 80.4h0.9v1.2h-0.9zM203.5 80.4h0.9v1.2h-0.9zM205 80.4h0.9v1.2h-0.9zM207 80.4h0.9v1.2h-0.9zM208.5 80.4h0.9v1.2h-0.9zM209 80.4h0.9v1.2h-0.9zM213 80.4h0.9v1.2h-0.9zM214 80.4h0.9v1.2h-0.9zM215.5 80.4h0.9v1.2h-0.9zM216 80.4h0.9v1.2h-0.9zM216.5 80.4h0.9v1.2h-0.9zM217.5 80.4h0.9v1.2h-0.9zM223.5 80.4h0.9v1.2h-0.9zM224 80.4h0.9v1.2h-0.9zM225.5 80.4h0.9v1.2h-0.9zM231.5 80.4h0.9v1.2h-0.9zM232.5 80.4h0.9v1.2h-0.9zM235 80.4h0.9v1.2h-0.9zM238.5 80.4h0.9v1.2h-0.9zM240.5 80.4h0.9v1.2h-0.9zM241 80.4h0.9v1.2h-0.9zM244 80.4h0.9v1.2h-0.9zM248.5 80.4h0.9v1.2h-0.9zM250 80.4h0.9v1.2h-0.9zM252 80.4h0.9v1.2h-0.9zM252.5 80.4h0.9v1.2h-0.9zM254 80.4h0.9v1.2h-0.9zM254.5 80.4h0.9v1.2h-0.9zM256.5 80.4h0.9v1.2h-0.9zM259 80.4h0.9v1.2h-0.9zM267 80.4h0.9v1.2h-0.9zM269 80.4h0.9v1.2h-0.9zM274 80.4h0.9v1.2h-0.9zM275 80.4h0.9v1.2h-0.9zM277.5 80.4h0.9v1.2h-0.9zM281.5 80.4h0.9v1.2h-0.9zM286.5 80.4h0.9v1.2h-0.9zM288 80.4h0.9v1.2h-0.9zM289.5 80.4h0.9v1.2h-0.9zM290 80.4h0.9v1.2h-0.9zM291 80.4h0.9v1.2h-0.9zM294 80.4h0.9v1.2h-0.9zM294.5 80.4h0.9v1.2h-0.9zM297 80.4h0.9v1.2h-0.9zM299 80.4h0.9v1.2h-0.9zM301 80.4h0.9v1.2h-0.9zM301.5 80.4h0.9v1.2h-0.9zM302 80.4h0.9v1.2h-0.9zM303.5 80.4h0.9v1.2h-0.9zM306.5 80.4h0.9v1.2h-0.9zM309.5 80.4h0.9v1.2h-0.9zM311.5 80.4h0.9v1.2h-0.9zM312 80.4h0.9v1.2h-0.9zM315 80.4h0.9v1.2h-0.9zM316.5 80.4h0.9v1.2h-0.9zM49 87.6h0.9v1.2h-0.9zM74.5 87.6h0.9v1.2h-0.9zM75 87.6h0.9v1.2h-0.9zM83 87.6h0.9v1.2h-0.9zM93 87.6h0.9v1.2h-0.9zM97.5 87.6h0.9v1.2h-0.9zM104.5 87.6h0.9v1.2h-0.9zM108 87.6h0.9v1.2h-0.9zM130 87.6h0.9v1.2h-0.9zM156 87.6h0.9v1.2h-0.9zM184.5 87.6h0.9v1.2h-0.9zM195.5 87.6h0.9v1.2h-0.9zM198.5 87.6h0.9v1.2h-0.9zM213 87.6h0.9v1.2h-0.9zM219 87.6h0.9v1.2h-0.9zM234.5 87.6h0.9v1.2h-0.9zM238 87.6h0.9v1.2h-0.9zM239.5 87.6h0.9v1.2h-0.9zM240 87.6h0.9v1.2h-0.9zM247.5 87.6h0.9v1.2h-0.9zM264.5 87.6h0.9v1.2h-0.9zM311 87.6h0.9v1.2h-0.9zM45 94.8h0.9v1.2h-0.9zM51 94.8h0.9v1.2h-0.9zM87.5 94.8h0.9v1.2h-0.9zM98.5 94.8h0.9v1.2h-0.9zM100.5 94.8h0.9v1.2h-0.9zM115.5 94.8h0.9v1.2h-0.9zM155 94.8h0.9v1.2h-0.9zM161 94.8h0.9v1.2h-0.9zM164 94.8h0.9v1.2h-0.9zM166 94.8h0.9v1.2h-0.9zM182.5 94.8h0.9v1.2h-0.9zM187 94.8h0.9v1.2h-0.9zM195 94.8h0.9v1.2h-0.9zM197 94.8h0.9v1.2h-0.9zM198 94.8h0.9v1.2h-0.9zM199 94.8h0.9v1.2h-0.9zM204.5 94.8h0.9v1.2h-0.9zM206 94.8h0.9v1.2h-0.9zM208 94.8h0.9v1.2h-0.9zM211 94.8h0.9v1.2h-0.9zM213.5 94.8h0.9v1.2h-0.9zM228 94.8h0.9v1.2h-0.9zM235.5 94.8h0.9v1.2h-0.9zM253.5 94.8h0.9v1.2h-0.9zM259.5 94.8h0.9v1.2h-0.9zM262 94.8h0.9v1.2h-0.9zM269.5 94.8h0.9v1.2h-0.9zM272 94.8h0.9v1.2h-0.9zM273.5 94.8h0.9v1.2h-0.9zM288.5 94.8h0.9v1.2h-0.9zM296 94.8h0.9v1.2h-0.9zM299 94.8h0.9v1.2h-0.9zM301.5 94.8h0.9v1.2h-0.9zM306.5 94.8h0.9v1.2h-0.9zM308.5 94.8h0.9v1.2h-0.9zM63 102h0.9v1.2h-0.9zM75.5 102h0.9v1.2h-0.9zM99 102h0.9v1.2h-0.9zM113 102h0.9v1.2h-0.9zM119.5 102h0.9v1.2h-0.9zM135.5 102h0.9v1.2h-0.9zM186.5 102h0.9v1.2h-0.9zM200.5 102h0.9v1.2h-0.9zM202.5 102h0.9v1.2h-0.9zM255 102h0.9v1.2h-0.9zM263.5 102h0.9v1.2h-0.9zM265 102h0.9v1.2h-0.9zM298 102h0.9v1.2h-0.9zM300 102h0.9v1.2h-0.9zM47 109.2h0.9v1.2h-0.9zM47.5 109.2h0.9v1.2h-0.9zM53 109.2h0.9v1.2h-0.9zM54 109.2h0.9v1.2h-0.9zM54.5 109.2h0.9v1.2h-0.9zM55 109.2h0.9v1.2h-0.9zM59 109.2h0.9v1.2h-0.9zM66 109.2h0.9v1.2h-0.9zM73 109.2h0.9v1.2h-0.9zM76.5 109.2h0.9v1.2h-0.9zM78 109.2h0.9v1.2h-0.9zM81.5 109.2h0.9v1.2h-0.9zM92 109.2h0.9v1.2h-0.9zM94 109.2h0.9v1.2h-0.9zM95.5 109.2h0.9v1.2h-0.9zM104 109.2h0.9v1.2h-0.9zM105 109.2h0.9v1.2h-0.9zM106.5 109.2h0.9v1.2h-0.9zM109.5 109.2h0.9v1.2h-0.9zM115 109.2h0.9v1.2h-0.9zM116 109.2h0.9v1.2h-0.9zM118.5 109.2h0.9v1.2h-0.9zM120 109.2h0.9v1.2h-0.9zM123.5 109.2h0.9v1.2h-0.9zM125 109.2h0.9v1.2h-0.9zM133 109.2h0.9v1.2h-0.9zM135 109.2h0.9v1.2h-0.9zM139.5 109.2h0.9v1.2h-0.9zM141 109.2h0.9v1.2h-0.9zM145 109.2h0.9v1.2h-0.9zM149 109.2h0.9v1.2h-0.9zM153.5 109.2h0.9v1.2h-0.9zM164.5 109.2h0.9v1.2h-0.9zM167 109.2h0.9v1.2h-0.9zM167.5 109.2h0.9v1.2h-0.9zM169 109.2h0.9v1.2h-0.9zM183.5 109.2h0.9v1.2h-0.9zM194.5 109.2h0.9v1.2h-0.9zM196.5 109.2h0.9v1.2h-0.9zM197 109.2h0.9v1.2h-0.9zM201.5 109.2h0.9v1.2h-0.9zM206.5 109.2h0.9v1.2h-0.9zM209.5 109.2h0.9v1.2h-0.9zM210.5 109.2h0.9v1.2h-0.9zM214 109.2h0.9v1.2h-0.9zM218 109.2h0.9v1.2h-0.9zM222.5 109.2h0.9v1.2h-0.9zM223 109.2h0.9v1.2h-0.9zM226 109.2h0.9v1.2h-0.9zM228 109.2h0.9v1.2h-0.9zM228.5 109.2h0.9v1.2h-0.9zM229 109.2h0.9v1.2h-0.9zM231.5 109.2h0.9v1.2h-0.9zM246 109.2h0.9v1.2h-0.9zM256 109.2h0.9v1.2h-0.9zM257.5 109.2h0.9v1.2h-0.9zM258.5 109.2h0.9v1.2h-0.9zM260.5 109.2h0.9v1.2h-0.9zM261.5 109.2h0.9v1.2h-0.9zM264.5 109.2h0.9v1.2h-0.9zM266 109.2h0.9v1.2h-0.9zM278 109.2h0.9v1.2h-0.9zM279.5 109.2h0.9v1.2h-0.9zM292.5 109.2h0.9v1.2h-0.9zM297 109.2h0.9v1.2h-0.9zM299 109.2h0.9v1.2h-0.9zM302 109.2h0.9v1.2h-0.9zM304.5 109.2h0.9v1.2h-0.9zM305 109.2h0.9v1.2h-0.9zM306.5 109.2h0.9v1.2h-0.9zM307 109.2h0.9v1.2h-0.9zM311.5 109.2h0.9v1.2h-0.9zM317 109.2h0.9v1.2h-0.9zM46.5 116.4h0.9v1.2h-0.9zM48 116.4h0.9v1.2h-0.9zM50.5 116.4h0.9v1.2h-0.9zM52.5 116.4h0.9v1.2h-0.9zM54.5 116.4h0.9v1.2h-0.9zM55.5 116.4h0.9v1.2h-0.9zM56 116.4h0.9v1.2h-0.9zM57 116.4h0.9v1.2h-0.9zM59 116.4h0.9v1.2h-0.9zM59.5 116.4h0.9v1.2h-0.9zM63.5 116.4h0.9v1.2h-0.9zM66 116.4h0.9v1.2h-0.9zM67.5 116.4h0.9v1.2h-0.9zM70.5 116.4h0.9v1.2h-0.9zM76.5 116.4h0.9v1.2h-0.9zM79 116.4h0.9v1.2h-0.9zM79.5 116.4h0.9v1.2h-0.9zM84 116.4h0.9v1.2h-0.9zM85.5 116.4h0.9v1.2h-0.9zM86.5 116.4h0.9v1.2h-0.9zM87 116.4h0.9v1.2h-0.9zM90.5 116.4h0.9v1.2h-0.9zM91 116.4h0.9v1.2h-0.9zM92.5 116.4h0.9v1.2h-0.9zM96 116.4h0.9v1.2h-0.9zM101 116.4h0.9v1.2h-0.9zM103 116.4h0.9v1.2h-0.9zM106 116.4h0.9v1.2h-0.9zM107.5 116.4h0.9v1.2h-0.9zM109.5 116.4h0.9v1.2h-0.9zM112.5 116.4h0.9v1.2h-0.9zM113 116.4h0.9v1.2h-0.9zM115 116.4h0.9v1.2h-0.9zM122 116.4h0.9v1.2h-0.9zM123 116.4h0.9v1.2h-0.9zM129.5 116.4h0.9v1.2h-0.9zM131.5 116.4h0.9v1.2h-0.9zM132.5 116.4h0.9v1.2h-0.9zM134.5 116.4h0.9v1.2h-0.9zM136 116.4h0.9v1.2h-0.9zM137 116.4h0.9v1.2h-0.9zM137.5 116.4h0.9v1.2h-0.9zM145.5 116.4h0.9v1.2h-0.9zM146 116.4h0.9v1.2h-0.9zM147 116.4h0.9v1.2h-0.9zM149 116.4h0.9v1.2h-0.9zM156 116.4h0.9v1.2h-0.9zM157 116.4h0.9v1.2h-0.9zM158 116.4h0.9v1.2h-0.9zM165.5 116.4h0.9v1.2h-0.9zM168 116.4h0.9v1.2h-0.9zM171 116.4h0.9v1.2h-0.9zM171.5 116.4h0.9v1.2h-0.9zM174.5 116.4h0.9v1.2h-0.9zM175 116.4h0.9v1.2h-0.9zM179.5 116.4h0.9v1.2h-0.9zM180.5 116.4h0.9v1.2h-0.9zM182 116.4h0.9v1.2h-0.9zM184.5 116.4h0.9v1.2h-0.9zM185 116.4h0.9v1.2h-0.9zM186.5 116.4h0.9v1.2h-0.9zM187.5 116.4h0.9v1.2h-0.9zM193 116.4h0.9v1.2h-0.9zM193.5 116.4h0.9v1.2h-0.9zM195.5 116.4h0.9v1.2h-0.9zM197.5 116.4h0.9v1.2h-0.9zM200 116.4h0.9v1.2h-0.9zM201 116.4h0.9v1.2h-0.9zM201.5 116.4h0.9v1.2h-0.9zM205 116.4h0.9v1.2h-0.9zM207.5 116.4h0.9v1.2h-0.9zM208.5 116.4h0.9v1.2h-0.9zM209.5 116.4h0.9v1.2h-0.9zM210.5 116.4h0.9v1.2h-0.9zM212 116.4h0.9v1.2h-0.9zM213 116.4h0.9v1.2h-0.9zM213.5 116.4h0.9v1.2h-0.9zM221 116.4h0.9v1.2h-0.9zM224 116.4h0.9v1.2h-0.9zM225 116.4h0.9v1.2h-0.9zM226 116.4h0.9v1.2h-0.9zM230 116.4h0.9v1.2h-0.9zM232.5 116.4h0.9v1.2h-0.9zM235 116.4h0.9v1.2h-0.9zM240 116.4h0.9v1.2h-0.9zM241.5 116.4h0.9v1.2h-0.9zM242 116.4h0.9v1.2h-0.9zM243 116.4h0.9v1.2h-0.9zM247.5 116.4h0.9v1.2h-0.9zM248.5 116.4h0.9v1.2h-0.9zM253.5 116.4h0.9v1.2h-0.9zM256 116.4h0.9v1.2h-0.9zM257 116.4h0.9v1.2h-0.9zM259 116.4h0.9v1.2h-0.9zM260 116.4h0.9v1.2h-0.9zM262.5 116.4h0.9v1.2h-0.9zM263 116.4h0.9v1.2h-0.9zM264 116.4h0.9v1.2h-0.9zM264.5 116.4h0.9v1.2h-0.9zM266 116.4h0.9v1.2h-0.9zM266.5 116.4h0.9v1.2h-0.9zM272 116.4h0.9v1.2h-0.9zM276.5 116.4h0.9v1.2h-0.9zM277 116.4h0.9v1.2h-0.9zM278 116.4h0.9v1.2h-0.9zM279 116.4h0.9v1.2h-0.9zM280 116.4h0.9v1.2h-0.9zM281 116.4h0.9v1.2h-0.9zM281.5 116.4h0.9v1.2h-0.9zM283.5 116.4h0.9v1.2h-0.9zM284.5 116.4h0.9v1.2h-0.9zM286.5 116.4h0.9v1.2h-0.9zM288.5 116.4h0.9v1.2h-0.9zM290 116.4h0.9v1.2h-0.9zM292 116.4h0.9v1.2h-0.9zM298.5 116.4h0.9v1.2h-0.9zM300.5 116.4h0.9v1.2h-0.9zM302.5 116.4h0.9v1.2h-0.9zM304 116.4h0.9v1.2h-0.9zM307 116.4h0.9v1.2h-0.9zM307.5 116.4h0.9v1.2h-0.9zM309 116.4h0.9v1.2h-0.9zM310 116.4h0.9v1.2h-0.9zM313 116.4h0.9v1.2h-0.9zM316 116.4h0.9v1.2h-0.9zM317.5 116.4h0.9v1.2h-0.9z" fill="#858585"/>
<path d="M364.5 67.4h0.9v1.2h-0.9zM366 67.4h0.9v1.2h-0.9zM367 67.4h0.9v1.2h-0.9zM373 67.4h0.9v1.2h-0.9zM379 67.4h0.9v1.2h-0.9zM390.5 67.4h0.9v1.2h-0.9zM414 67.4h0.9v1.2h-0.9zM414.5 67.4h0.9v1.2h-0.9zM416 67.4h0.9v1.2h-0.9zM421 67.4h0.9v1.2h-0.9zM422 67.4h0.9v1.2h-0.9zM423 67.4h0.9v1.2h-0.9zM423.5 67.4h0.9v1.2h-0.9zM426 67.4h0.9v1.2h-0.9zM428.5 67.4h0.9v1.2h-0.9zM429 67.4h0.9v1.2h-0.9zM434 67.4h0.9v1.2h-0.9zM439.5 67.4h0.9v1.2h-0.9zM440 67.4h0.9v1.2h-0.9zM441 67.4h0.9v1.2h-0.9zM443.5 67.4h0.9v1.2h-0.9zM445 67.4h0.9v1.2h-0.9zM479.5 67.4h0.9v1.2h-0.9zM481.5 67.4h0.9v1.2h-0.9zM483 67.4h0.9v1.2h-0.9zM483.5 67.4h0.9v1.2h-0.9zM487 67.4h0.9v1.2h-0.9zM498 67.4h0.9v1.2h-0.9zM499.5 67.4h0.9v1.2h-0.9zM507.5 67.4h0.9v1.2h-0.9zM509 67.4h0.9v1.2h-0.9zM513.5 67.4h0.9v1.2h-0.9zM516.5 67.4h0.9v1.2h-0.9zM521 67.4h0.9v1.2h-0.9zM560.5 67.4h0.9v1.2h-0.9zM563 67.4h0.9v1.2h-0.9zM569 67.4h0.9v1.2h-0.9zM572 67.4h0.9v1.2h-0.9zM572.5 67.4h0.9v1.2h-0.9zM577.5 67.4h0.9v1.2h-0.9zM581.5 67.4h0.9v1.2h-0.9zM607 67.4h0.9v1.2h-0.9zM614.5 67.4h0.9v1.2h-0.9zM623.5 67.4h0.9v1.2h-0.9zM624 67.4h0.9v1.2h-0.9zM625.5 67.4h0.9v1.2h-0.9zM630 67.4h0.9v1.2h-0.9zM632 67.4h0.9v1.2h-0.9zM632.5 67.4h0.9v1.2h-0.9zM638.5 67.4h0.9v1.2h-0.9zM361 74.65h0.9v1.2h-0.9zM363 74.65h0.9v1.2h-0.9zM364 74.65h0.9v1.2h-0.9zM367.5 74.65h0.9v1.2h-0.9zM368 74.65h0.9v1.2h-0.9zM372.5 74.65h0.9v1.2h-0.9zM373 74.65h0.9v1.2h-0.9zM375 74.65h0.9v1.2h-0.9zM376 74.65h0.9v1.2h-0.9zM379.5 74.65h0.9v1.2h-0.9zM380 74.65h0.9v1.2h-0.9zM381 74.65h0.9v1.2h-0.9zM382 74.65h0.9v1.2h-0.9zM384 74.65h0.9v1.2h-0.9zM385.5 74.65h0.9v1.2h-0.9zM388.5 74.65h0.9v1.2h-0.9zM391.5 74.65h0.9v1.2h-0.9zM414 74.65h0.9v1.2h-0.9zM415.5 74.65h0.9v1.2h-0.9zM416.5 74.65h0.9v1.2h-0.9zM420 74.65h0.9v1.2h-0.9zM420.5 74.65h0.9v1.2h-0.9zM426 74.65h0.9v1.2h-0.9zM428.5 74.65h0.9v1.2h-0.9zM434 74.65h0.9v1.2h-0.9zM445 74.65h0.9v1.2h-0.9zM448 74.65h0.9v1.2h-0.9zM448.5 74.65h0.9v1.2h-0.9zM472.5 74.65h0.9v1.2h-0.9zM474 74.65h0.9v1.2h-0.9zM475 74.65h0.9v1.2h-0.9zM482 74.65h0.9v1.2h-0.9zM482.5 74.65h0.9v1.2h-0.9zM484.5 74.65h0.9v1.2h-0.9zM485.5 74.65h0.9v1.2h-0.9zM487.5 74.65h0.9v1.2h-0.9zM490 74.65h0.9v1.2h-0.9zM490.5 74.65h0.9v1.2h-0.9zM497.5 74.65h0.9v1.2h-0.9zM498.5 74.65h0.9v1.2h-0.9zM499.5 74.65h0.9v1.2h-0.9zM501 74.65h0.9v1.2h-0.9zM502.5 74.65h0.9v1.2h-0.9zM503 74.65h0.9v1.2h-0.9zM505 74.65h0.9v1.2h-0.9zM506 74.65h0.9v1.2h-0.9zM506.5 74.65h0.9v1.2h-0.9zM508.5 74.65h0.9v1.2h-0.9zM510 74.65h0.9v1.2h-0.9zM514 74.65h0.9v1.2h-0.9zM514.5 74.65h0.9v1.2h-0.9zM515 74.65h0.9v1.2h-0.9zM519.5 74.65h0.9v1.2h-0.9zM520.5 74.65h0.9v1.2h-0.9zM523 74.65h0.9v1.2h-0.9zM524 74.65h0.9v1.2h-0.9zM526 74.65h0.9v1.2h-0.9zM555 74.65h0.9v1.2h-0.9zM559 74.65h0.9v1.2h-0.9zM560.5 74.65h0.9v1.2h-0.9zM563 74.65h0.9v1.2h-0.9zM564 74.65h0.9v1.2h-0.9zM564.5 74.65h0.9v1.2h-0.9zM566 74.65h0.9v1.2h-0.9zM566.5 74.65h0.9v1.2h-0.9zM570 74.65h0.9v1.2h-0.9zM570.5 74.65h0.9v1.2h-0.9zM573.5 74.65h0.9v1.2h-0.9zM574 74.65h0.9v1.2h-0.9zM576 74.65h0.9v1.2h-0.9zM577.5 74.65h0.9v1.2h-0.9zM579.5 74.65h0.9v1.2h-0.9zM580.5 74.65h0.9v1.2h-0.9zM602 74.65h0.9v1.2h-0.9zM604 74.65h0.9v1.2h-0.9zM606.5 74.65h0.9v1.2h-0.9zM608 74.65h0.9v1.2h-0.9zM611.5 74.65h0.9v1.2h-0.9zM612 74.65h0.9v1.2h-0.9zM620.5 74.65h0.9v1.2h-0.9zM621.5 74.65h0.9v1.2h-0.9zM625 74.65h0.9v1.2h-0.9zM627.5 74.65h0.9v1.2h-0.9zM629.5 74.65h0.9v1.2h-0.9zM630 74.65h0.9v1.2h-0.9zM636.5 74.65h0.9v1.2h-0.9zM637 74.65h0.9v1.2h-0.9zM637.5 74.65h0.9v1.2h-0.9zM639 74.65h0.9v1.2h-0.9zM640 74.65h0.9v1.2h-0.9zM363 81.9h0.9v1.2h-0.9zM366.5 81.9h0.9v1.2h-0.9zM367 81.9h0.9v1.2h-0.9zM373 81.9h0.9v1.2h-0.9zM378.5 81.9h0.9v1.2h-0.9zM380 81.9h0.9v1.2h-0.9zM381 81.9h0.9v1.2h-0.9zM387 81.9h0.9v1.2h-0.9zM390 81.9h0.9v1.2h-0.9zM391 81.9h0.9v1.2h-0.9zM392 81.9h0.9v1.2h-0.9zM412.5 81.9h0.9v1.2h-0.9zM414.5 81.9h0.9v1.2h-0.9zM415 81.9h0.9v1.2h-0.9zM415.5 81.9h0.9v1.2h-0.9zM425 81.9h0.9v1.2h-0.9zM425.5 81.9h0.9v1.2h-0.9zM427 81.9h0.9v1.2h-0.9zM428.5 81.9h0.9v1.2h-0.9zM430 81.9h0.9v1.2h-0.9zM431 81.9h0.9v1.2h-0.9zM432 81.9h0.9v1.2h-0.9zM432.5 81.9h0.9v1.2h-0.9zM435 81.9h0.9v1.2h-0.9zM438 81.9h0.9v1.2h-0.9zM442 81.9h0.9v1.2h-0.9zM446 81.9h0.9v1.2h-0.9zM447.5 81.9h0.9v1.2h-0.9zM477.5 81.9h0.9v1.2h-0.9zM480 81.9h0.9v1.2h-0.9zM481 81.9h0.9v1.2h-0.9zM483 81.9h0.9v1.2h-0.9zM487.5 81.9h0.9v1.2h-0.9zM493.5 81.9h0.9v1.2h-0.9zM494 81.9h0.9v1.2h-0.9zM497 81.9h0.9v1.2h-0.9zM507.5 81.9h0.9v1.2h-0.9zM508.5 81.9h0.9v1.2h-0.9zM510 81.9h0.9v1.2h-0.9zM510.5 81.9h0.9v1.2h-0.9zM516.5 81.9h0.9v1.2h-0.9zM519 81.9h0.9v1.2h-0.9zM522.5 81.9h0.9v1.2h-0.9zM523 81.9h0.9v1.2h-0.9zM555 81.9h0.9v1.2h-0.9zM559 81.9h0.9v1.2h-0.9zM562.5 81.9h0.9v1.2h-0.9zM563.5 81.9h0.9v1.2h-0.9zM564.5 81.9h0.9v1.2h-0.9zM576 81.9h0.9v1.2h-0.9zM580.5 81.9h0.9v1.2h-0.9zM601.5 81.9h0.9v1.2h-0.9zM604 81.9h0.9v1.2h-0.9zM606 81.9h0.9v1.2h-0.9zM606.5 81.9h0.9v1.2h-0.9zM613.5 81.9h0.9v1.2h-0.9zM619.5 81.9h0.9v1.2h-0.9zM620 81.9h0.9v1.2h-0.9zM621 81.9h0.9v1.2h-0.9zM621.5 81.9h0.9v1.2h-0.9zM623 81.9h0.9v1.2h-0.9zM630 81.9h0.9v1.2h-0.9zM632 81.9h0.9v1.2h-0.9zM633.5 81.9h0.9v1.2h-0.9zM634.5 81.9h0.9v1.2h-0.9zM637 81.9h0.9v1.2h-0.9zM361 89.15h0.9v1.2h-0.9zM364.5 89.15h0.9v1.2h-0.9zM376 89.15h0.9v1.2h-0.9zM413 89.15h0.9v1.2h-0.9zM414 89.15h0.9v1.2h-0.9zM435.5 89.15h0.9v1.2h-0.9zM438 89.15h0.9v1.2h-0.9zM475.5 89.15h0.9v1.2h-0.9zM476.5 89.15h0.9v1.2h-0.9zM494 89.15h0.9v1.2h-0.9zM498 89.15h0.9v1.2h-0.9zM508.5 89.15h0.9v1.2h-0.9zM514 89.15h0.9v1.2h-0.9zM525.5 89.15h0.9v1.2h-0.9zM570 89.15h0.9v1.2h-0.9zM577 89.15h0.9v1.2h-0.9zM580.5 89.15h0.9v1.2h-0.9zM583 89.15h0.9v1.2h-0.9zM605.5 89.15h0.9v1.2h-0.9zM622 89.15h0.9v1.2h-0.9zM631 89.15h0.9v1.2h-0.9zM632 89.15h0.9v1.2h-0.9zM633 89.15h0.9v1.2h-0.9zM365 96.4h0.9v1.2h-0.9zM369 96.4h0.9v1.2h-0.9zM371.5 96.4h0.9v1.2h-0.9zM415.5 96.4h0.9v1.2h-0.9zM417 96.4h0.9v1.2h-0.9zM424 96.4h0.9v1.2h-0.9zM426.5 96.4h0.9v1.2h-0.9zM429.5 96.4h0.9v1.2h-0.9zM436 96.4h0.9v1.2h-0.9zM445 96.4h0.9v1.2h-0.9zM449 96.4h0.9v1.2h-0.9zM477 96.4h0.9v1.2h-0.9zM494 96.4h0.9v1.2h-0.9zM495 96.4h0.9v1.2h-0.9zM496 96.4h0.9v1.2h-0.9zM498.5 96.4h0.9v1.2h-0.9zM502 96.4h0.9v1.2h-0.9zM502.5 96.4h0.9v1.2h-0.9zM504 96.4h0.9v1.2h-0.9zM513 96.4h0.9v1.2h-0.9zM514 96.4h0.9v1.2h-0.9zM555.5 96.4h0.9v1.2h-0.9zM560 96.4h0.9v1.2h-0.9zM564 96.4h0.9v1.2h-0.9zM573 96.4h0.9v1.2h-0.9zM580.5 96.4h0.9v1.2h-0.9zM582 96.4h0.9v1.2h-0.9zM617 96.4h0.9v1.2h-0.9zM620 96.4h0.9v1.2h-0.9zM625.5 96.4h0.9v1.2h-0.9zM626.5 96.4h0.9v1.2h-0.9zM632.5 96.4h0.9v1.2h-0.9zM633.5 96.4h0.9v1.2h-0.9zM639.5 96.4h0.9v1.2h-0.9zM371 103.65h0.9v1.2h-0.9zM377 103.65h0.9v1.2h-0.9zM385.5 103.65h0.9v1.2h-0.9zM418 103.65h0.9v1.2h-0.9zM424 103.65h0.9v1.2h-0.9zM428 103.65h0.9v1.2h-0.9zM428.5 103.65h0.9v1.2h-0.9zM431 103.65h0.9v1.2h-0.9zM436.5 103.65h0.9v1.2h-0.9zM444 103.65h0.9v1.2h-0.9zM446.5 103.65h0.9v1.2h-0.9zM487.5 103.65h0.9v1.2h-0.9zM488 103.65h0.9v1.2h-0.9zM521 103.65h0.9v1.2h-0.9zM525.5 103.65h0.9v1.2h-0.9zM570.5 103.65h0.9v1.2h-0.9zM571 103.65h0.9v1.2h-0.9zM601 103.65h0.9v1.2h-0.9zM603.5 103.65h0.9v1.2h-0.9zM615 103.65h0.9v1.2h-0.9zM620.5 103.65h0.9v1.2h-0.9zM628 103.65h0.9v1.2h-0.9zM632 103.65h0.9v1.2h-0.9zM372.5 110.9h0.9v1.2h-0.9zM375 110.9h0.9v1.2h-0.9zM376 110.9h0.9v1.2h-0.9zM376.5 110.9h0.9v1.2h-0.9zM379.5 110.9h0.9v1.2h-0.9zM380.5 110.9h0.9v1.2h-0.9zM386.5 110.9h0.9v1.2h-0.9zM391 110.9h0.9v1.2h-0.9zM411.5 110.9h0.9v1.2h-0.9zM413 110.9h0.9v1.2h-0.9zM413.5 110.9h0.9v1.2h-0.9zM420 110.9h0.9v1.2h-0.9zM430.5 110.9h0.9v1.2h-0.9zM434.5 110.9h0.9v1.2h-0.9zM435 110.9h0.9v1.2h-0.9zM435.5 110.9h0.9v1.2h-0.9zM438 110.9h0.9v1.2h-0.9zM441 110.9h0.9v1.2h-0.9zM472.5 110.9h0.9v1.2h-0.9zM473.5 110.9h0.9v1.2h-0.9zM476.5 110.9h0.9v1.2h-0.9zM481 110.9h0.9v1.2h-0.9zM483 110.9h0.9v1.2h-0.9zM483.5 110.9h0.9v1.2h-0.9zM484.5 110.9h0.9v1.2h-0.9zM485.5 110.9h0.9v1.2h-0.9zM492 110.9h0.9v1.2h-0.9zM494 110.9h0.9v1.2h-0.9zM497.5 110.9h0.9v1.2h-0.9zM500 110.9h0.9v1.2h-0.9zM500.5 110.9h0.9v1.2h-0.9zM504 110.9h0.9v1.2h-0.9zM507 110.9h0.9v1.2h-0.9zM507.5 110.9h0.9v1.2h-0.9zM517 110.9h0.9v1.2h-0.9zM518 110.9h0.9v1.2h-0.9zM520.5 110.9h0.9v1.2h-0.9zM522 110.9h0.9v1.2h-0.9zM524.5 110.9h0.9v1.2h-0.9zM558 110.9h0.9v1.2h-0.9zM559 110.9h0.9v1.2h-0.9zM568 110.9h0.9v1.2h-0.9zM570.5 110.9h0.9v1.2h-0.9zM574 110.9h0.9v1.2h-0.9zM575.5 110.9h0.9v1.2h-0.9zM577.5 110.9h0.9v1.2h-0.9zM579 110.9h0.9v1.2h-0.9zM580 110.9h0.9v1.2h-0.9zM583 110.9h0.9v1.2h-0.9zM602.5 110.9h0.9v1.2h-0.9zM609.5 110.9h0.9v1.2h-0.9zM610 110.9h0.9v1.2h-0.9zM611.5 110.9h0.9v1.2h-0.9zM613 110.9h0.9v1.2h-0.9zM618 110.9h0.9v1.2h-0.9zM618.5 110.9h0.9v1.2h-0.9zM620.5 110.9h0.9v1.2h-0.9zM621 110.9h0.9v1.2h-0.9zM625.5 110.9h0.9v1.2h-0.9zM626 110.9h0.9v1.2h-0.9zM627 110.9h0.9v1.2h-0.9zM632 110.9h0.9v1.2h-0.9zM364.5 118.15h0.9v1.2h-0.9zM365 118.15h0.9v1.2h-0.9zM367 118.15h0.9v1.2h-0.9zM367.5 118.15h0.9v1.2h-0.9zM373.5 118.15h0.9v1.2h-0.9zM374.5 118.15h0.9v1.2h-0.9zM377.5 118.15h0.9v1.2h-0.9zM389.5 118.15h0.9v1.2h-0.9zM390.5 118.15h0.9v1.2h-0.9zM413 118.15h0.9v1.2h-0.9zM415.5 118.15h0.9v1.2h-0.9zM417.5 118.15h0.9v1.2h-0.9zM430.5 118.15h0.9v1.2h-0.9zM432.5 118.15h0.9v1.2h-0.9zM435 118.15h0.9v1.2h-0.9zM449 118.15h0.9v1.2h-0.9zM476 118.15h0.9v1.2h-0.9zM477.5 118.15h0.9v1.2h-0.9zM479 118.15h0.9v1.2h-0.9zM481 118.15h0.9v1.2h-0.9zM490 118.15h0.9v1.2h-0.9zM491 118.15h0.9v1.2h-0.9zM492.5 118.15h0.9v1.2h-0.9zM496 118.15h0.9v1.2h-0.9zM501.5 118.15h0.9v1.2h-0.9zM504 118.15h0.9v1.2h-0.9zM505 118.15h0.9v1.2h-0.9zM510 118.15h0.9v1.2h-0.9zM513 118.15h0.9v1.2h-0.9zM518.5 118.15h0.9v1.2h-0.9zM521 118.15h0.9v1.2h-0.9zM555 118.15h0.9v1.2h-0.9zM556 118.15h0.9v1.2h-0.9zM556.5 118.15h0.9v1.2h-0.9zM560 118.15h0.9v1.2h-0.9zM561 118.15h0.9v1.2h-0.9zM561.5 118.15h0.9v1.2h-0.9zM563 118.15h0.9v1.2h-0.9zM563.5 118.15h0.9v1.2h-0.9zM565.5 118.15h0.9v1.2h-0.9zM567 118.15h0.9v1.2h-0.9zM569 118.15h0.9v1.2h-0.9zM607 118.15h0.9v1.2h-0.9zM607.5 118.15h0.9v1.2h-0.9zM609 118.15h0.9v1.2h-0.9zM610.5 118.15h0.9v1.2h-0.9zM616.5 118.15h0.9v1.2h-0.9zM620 118.15h0.9v1.2h-0.9zM622 118.15h0.9v1.2h-0.9zM622.5 118.15h0.9v1.2h-0.9zM623 118.15h0.9v1.2h-0.9zM629.5 118.15h0.9v1.2h-0.9z" fill="#858585"/>
<path d="M47 269.7h0.9v1.2h-0.9zM48.5 269.7h0.9v1.2h-0.9zM51 269.7h0.9v1.2h-0.9zM58 269.7h0.9v1.2h-0.9zM62.5 269.7h0.9v1.2h-0.9zM64 269.7h0.9v1.2h-0.9zM74.5 269.7h0.9v1.2h-0.9zM76.5 269.7h0.9v1.2h-0.9zM82.5 269.7h0.9v1.2h-0.9zM84.5 269.7h0.9v1.2h-0.9zM111 269.7h0.9v1.2h-0.9zM112.5 269.7h0.9v1.2h-0.9zM117.5 269.7h0.9v1.2h-0.9zM121.5 269.7h0.9v1.2h-0.9zM125.5 269.7h0.9v1.2h-0.9zM136.5 269.7h0.9v1.2h-0.9zM150 269.7h0.9v1.2h-0.9zM168 269.7h0.9v1.2h-0.9zM172 269.7h0.9v1.2h-0.9zM193.5 269.7h0.9v1.2h-0.9zM197 269.7h0.9v1.2h-0.9zM206.5 269.7h0.9v1.2h-0.9zM208 269.7h0.9v1.2h-0.9zM214 269.7h0.9v1.2h-0.9zM215.5 269.7h0.9v1.2h-0.9zM216.5 269.7h0.9v1.2h-0.9zM220 269.7h0.9v1.2h-0.9zM223 269.7h0.9v1.2h-0.9zM230 269.7h0.9v1.2h-0.9zM232 269.7h0.9v1.2h-0.9zM243 269.7h0.9v1.2h-0.9zM248.5 269.7h0.9v1.2h-0.9zM255.5 269.7h0.9v1.2h-0.9zM257.5 269.7h0.9v1.2h-0.9zM260 269.7h0.9v1.2h-0.9zM262.5 269.7h0.9v1.2h-0.9zM263 269.7h0.9v1.2h-0.9zM266.5 269.7h0.9v1.2h-0.9zM268.5 269.7h0.9v1.2h-0.9zM271.5 269.7h0.9v1.2h-0.9zM281.5 269.7h0.9v1.2h-0.9zM294 269.7h0.9v1.2h-0.9zM298 269.7h0.9v1.2h-0.9zM310.5 269.7h0.9v1.2h-0.9zM311.5 269.7h0.9v1.2h-0.9zM317.5 269.7h0.9v1.2h-0.9zM46.5 276.85h0.9v1.2h-0.9zM48.5 276.85h0.9v1.2h-0.9zM49 276.85h0.9v1.2h-0.9zM53 276.85h0.9v1.2h-0.9zM63.5 276.85h0.9v1.2h-0.9zM65 276.85h0.9v1.2h-0.9zM68 276.85h0.9v1.2h-0.9zM71.5 276.85h0.9v1.2h-0.9zM73 276.85h0.9v1.2h-0.9zM81.5 276.85h0.9v1.2h-0.9zM85.5 276.85h0.9v1.2h-0.9zM88.5 276.85h0.9v1.2h-0.9zM98 276.85h0.9v1.2h-0.9zM98.5 276.85h0.9v1.2h-0.9zM105.5 276.85h0.9v1.2h-0.9zM108.5 276.85h0.9v1.2h-0.9zM112 276.85h0.9v1.2h-0.9zM115.5 276.85h0.9v1.2h-0.9zM120.5 276.85h0.9v1.2h-0.9zM127 276.85h0.9v1.2h-0.9zM128.5 276.85h0.9v1.2h-0.9zM129 276.85h0.9v1.2h-0.9zM131 276.85h0.9v1.2h-0.9zM132.5 276.85h0.9v1.2h-0.9zM136 276.85h0.9v1.2h-0.9zM140.5 276.85h0.9v1.2h-0.9zM142.5 276.85h0.9v1.2h-0.9zM144 276.85h0.9v1.2h-0.9zM148.5 276.85h0.9v1.2h-0.9zM149.5 276.85h0.9v1.2h-0.9zM150 276.85h0.9v1.2h-0.9zM151.5 276.85h0.9v1.2h-0.9zM158.5 276.85h0.9v1.2h-0.9zM165.5 276.85h0.9v1.2h-0.9zM167 276.85h0.9v1.2h-0.9zM168 276.85h0.9v1.2h-0.9zM178.5 276.85h0.9v1.2h-0.9zM180 276.85h0.9v1.2h-0.9zM184.5 276.85h0.9v1.2h-0.9zM186 276.85h0.9v1.2h-0.9zM188 276.85h0.9v1.2h-0.9zM194.5 276.85h0.9v1.2h-0.9zM195 276.85h0.9v1.2h-0.9zM196.5 276.85h0.9v1.2h-0.9zM198 276.85h0.9v1.2h-0.9zM199.5 276.85h0.9v1.2h-0.9zM201.5 276.85h0.9v1.2h-0.9zM202.5 276.85h0.9v1.2h-0.9zM203.5 276.85h0.9v1.2h-0.9zM205 276.85h0.9v1.2h-0.9zM207 276.85h0.9v1.2h-0.9zM208.5 276.85h0.9v1.2h-0.9zM209.5 276.85h0.9v1.2h-0.9zM211.5 276.85h0.9v1.2h-0.9zM214 276.85h0.9v1.2h-0.9zM215 276.85h0.9v1.2h-0.9zM217.5 276.85h0.9v1.2h-0.9zM228 276.85h0.9v1.2h-0.9zM229.5 276.85h0.9v1.2h-0.9zM233.5 276.85h0.9v1.2h-0.9zM234.5 276.85h0.9v1.2h-0.9zM237.5 276.85h0.9v1.2h-0.9zM238 276.85h0.9v1.2h-0.9zM239 276.85h0.9v1.2h-0.9zM241.5 276.85h0.9v1.2h-0.9zM246.5 276.85h0.9v1.2h-0.9zM262.5 276.85h0.9v1.2h-0.9zM264.5 276.85h0.9v1.2h-0.9zM265.5 276.85h0.9v1.2h-0.9zM268 276.85h0.9v1.2h-0.9zM269.5 276.85h0.9v1.2h-0.9zM275 276.85h0.9v1.2h-0.9zM284 276.85h0.9v1.2h-0.9zM287 276.85h0.9v1.2h-0.9zM290 276.85h0.9v1.2h-0.9zM292.5 276.85h0.9v1.2h-0.9zM293 276.85h0.9v1.2h-0.9zM296 276.85h0.9v1.2h-0.9zM296.5 276.85h0.9v1.2h-0.9zM297 276.85h0.9v1.2h-0.9zM297.5 276.85h0.9v1.2h-0.9zM299 276.85h0.9v1.2h-0.9zM300 276.85h0.9v1.2h-0.9zM304.5 276.85h0.9v1.2h-0.9zM313 276.85h0.9v1.2h-0.9zM314 276.85h0.9v1.2h-0.9zM317.5 276.85h0.9v1.2h-0.9zM47.5 284h0.9v1.2h-0.9zM49 284h0.9v1.2h-0.9zM51 284h0.9v1.2h-0.9zM54 284h0.9v1.2h-0.9zM59 284h0.9v1.2h-0.9zM68 284h0.9v1.2h-0.9zM76 284h0.9v1.2h-0.9zM88 284h0.9v1.2h-0.9zM88.5 284h0.9v1.2h-0.9zM98.5 284h0.9v1.2h-0.9zM99.5 284h0.9v1.2h-0.9zM104.5 284h0.9v1.2h-0.9zM105 284h0.9v1.2h-0.9zM105.5 284h0.9v1.2h-0.9zM106.5 284h0.9v1.2h-0.9zM107 284h0.9v1.2h-0.9zM109.5 284h0.9v1.2h-0.9zM116.5 284h0.9v1.2h-0.9zM117.5 284h0.9v1.2h-0.9zM119 284h0.9v1.2h-0.9zM120 284h0.9v1.2h-0.9zM120.5 284h0.9v1.2h-0.9zM122 284h0.9v1.2h-0.9zM122.5 284h0.9v1.2h-0.9zM127 284h0.9v1.2h-0.9zM127.5 284h0.9v1.2h-0.9zM128 284h0.9v1.2h-0.9zM129.5 284h0.9v1.2h-0.9zM130.5 284h0.9v1.2h-0.9zM133.5 284h0.9v1.2h-0.9zM134 284h0.9v1.2h-0.9zM136 284h0.9v1.2h-0.9zM137 284h0.9v1.2h-0.9zM139 284h0.9v1.2h-0.9zM139.5 284h0.9v1.2h-0.9zM141 284h0.9v1.2h-0.9zM143 284h0.9v1.2h-0.9zM144 284h0.9v1.2h-0.9zM147 284h0.9v1.2h-0.9zM149 284h0.9v1.2h-0.9zM149.5 284h0.9v1.2h-0.9zM152.5 284h0.9v1.2h-0.9zM153 284h0.9v1.2h-0.9zM153.5 284h0.9v1.2h-0.9zM160.5 284h0.9v1.2h-0.9zM162.5 284h0.9v1.2h-0.9zM173 284h0.9v1.2h-0.9zM174 284h0.9v1.2h-0.9zM175 284h0.9v1.2h-0.9zM175.5 284h0.9v1.2h-0.9zM176 284h0.9v1.2h-0.9zM176.5 284h0.9v1.2h-0.9zM178.5 284h0.9v1.2h-0.9zM181 284h0.9v1.2h-0.9zM186 284h0.9v1.2h-0.9zM186.5 284h0.9v1.2h-0.9zM187 284h0.9v1.2h-0.9zM190.5 284h0.9v1.2h-0.9zM192.5 284h0.9v1.2h-0.9zM196.5 284h0.9v1.2h-0.9zM198.5 284h0.9v1.2h-0.9zM202 284h0.9v1.2h-0.9zM206.5 284h0.9v1.2h-0.9zM208.5 284h0.9v1.2h-0.9zM209.5 284h0.9v1.2h-0.9zM210 284h0.9v1.2h-0.9zM211 284h0.9v1.2h-0.9zM213 284h0.9v1.2h-0.9zM215 284h0.9v1.2h-0.9zM215.5 284h0.9v1.2h-0.9zM216 284h0.9v1.2h-0.9zM220.5 284h0.9v1.2h-0.9zM221 284h0.9v1.2h-0.9zM221.5 284h0.9v1.2h-0.9zM222 284h0.9v1.2h-0.9zM223.5 284h0.9v1.2h-0.9zM224.5 284h0.9v1.2h-0.9zM228.5 284h0.9v1.2h-0.9zM230 284h0.9v1.2h-0.9zM231.5 284h0.9v1.2h-0.9zM232 284h0.9v1.2h-0.9zM235 284h0.9v1.2h-0.9zM242 284h0.9v1.2h-0.9zM243.5 284h0.9v1.2h-0.9zM244.5 284h0.9v1.2h-0.9zM245.5 284h0.9v1.2h-0.9zM248.5 284h0.9v1.2h-0.9zM249.5 284h0.9v1.2h-0.9zM250 284h0.9v1.2h-0.9zM251.5 284h0.9v1.2h-0.9zM253.5 284h0.9v1.2h-0.9zM255.5 284h0.9v1.2h-0.9zM259.5 284h0.9v1.2h-0.9zM265.5 284h0.9v1.2h-0.9zM266.5 284h0.9v1.2h-0.9zM268.5 284h0.9v1.2h-0.9zM270 284h0.9v1.2h-0.9zM271 284h0.9v1.2h-0.9zM271.5 284h0.9v1.2h-0.9zM275 284h0.9v1.2h-0.9zM275.5 284h0.9v1.2h-0.9zM276.5 284h0.9v1.2h-0.9zM282 284h0.9v1.2h-0.9zM284 284h0.9v1.2h-0.9zM287 284h0.9v1.2h-0.9zM292.5 284h0.9v1.2h-0.9zM297 284h0.9v1.2h-0.9zM300 284h0.9v1.2h-0.9zM300.5 284h0.9v1.2h-0.9zM301.5 284h0.9v1.2h-0.9zM303.5 284h0.9v1.2h-0.9zM306.5 284h0.9v1.2h-0.9zM308 284h0.9v1.2h-0.9zM309 284h0.9v1.2h-0.9zM311 284h0.9v1.2h-0.9zM311.5 284h0.9v1.2h-0.9zM312 284h0.9v1.2h-0.9zM315 284h0.9v1.2h-0.9zM316 284h0.9v1.2h-0.9zM316.5 284h0.9v1.2h-0.9zM317 284h0.9v1.2h-0.9zM54.5 291.15h0.9v1.2h-0.9zM58.5 291.15h0.9v1.2h-0.9zM65.5 291.15h0.9v1.2h-0.9zM68.5 291.15h0.9v1.2h-0.9zM76 291.15h0.9v1.2h-0.9zM78.5 291.15h0.9v1.2h-0.9zM96.5 291.15h0.9v1.2h-0.9zM97.5 291.15h0.9v1.2h-0.9zM103.5 291.15h0.9v1.2h-0.9zM119 291.15h0.9v1.2h-0.9zM138.5 291.15h0.9v1.2h-0.9zM139 291.15h0.9v1.2h-0.9zM155.5 291.15h0.9v1.2h-0.9zM161 291.15h0.9v1.2h-0.9zM165.5 291.15h0.9v1.2h-0.9zM171.5 291.15h0.9v1.2h-0.9zM180.5 291.15h0.9v1.2h-0.9zM192.5 291.15h0.9v1.2h-0.9zM203.5 291.15h0.9v1.2h-0.9zM206 291.15h0.9v1.2h-0.9zM210.5 291.15h0.9v1.2h-0.9zM211.5 291.15h0.9v1.2h-0.9zM221.5 291.15h0.9v1.2h-0.9zM236 291.15h0.9v1.2h-0.9zM237.5 291.15h0.9v1.2h-0.9zM238.5 291.15h0.9v1.2h-0.9zM239.5 291.15h0.9v1.2h-0.9zM241 291.15h0.9v1.2h-0.9zM262 291.15h0.9v1.2h-0.9zM266.5 291.15h0.9v1.2h-0.9zM277 291.15h0.9v1.2h-0.9zM302.5 291.15h0.9v1.2h-0.9zM314 291.15h0.9v1.2h-0.9zM48.5 298.3h0.9v1.2h-0.9zM51 298.3h0.9v1.2h-0.9zM61 298.3h0.9v1.2h-0.9zM63 298.3h0.9v1.2h-0.9zM64.5 298.3h0.9v1.2h-0.9zM76 298.3h0.9v1.2h-0.9zM85.5 298.3h0.9v1.2h-0.9zM87 298.3h0.9v1.2h-0.9zM87.5 298.3h0.9v1.2h-0.9zM94.5 298.3h0.9v1.2h-0.9zM103 298.3h0.9v1.2h-0.9zM105 298.3h0.9v1.2h-0.9zM114 298.3h0.9v1.2h-0.9zM118.5 298.3h0.9v1.2h-0.9zM127 298.3h0.9v1.2h-0.9zM127.5 298.3h0.9v1.2h-0.9zM134 298.3h0.9v1.2h-0.9zM140.5 298.3h0.9v1.2h-0.9zM141 298.3h0.9v1.2h-0.9zM142 298.3h0.9v1.2h-0.9zM148.5 298.3h0.9v1.2h-0.9zM150 298.3h0.9v1.2h-0.9zM158 298.3h0.9v1.2h-0.9zM164 298.3h0.9v1.2h-0.9zM165.5 298.3h0.9v1.2h-0.9zM166 298.3h0.9v1.2h-0.9zM173 298.3h0.9v1.2h-0.9zM180 298.3h0.9v1.2h-0.9zM181 298.3h0.9v1.2h-0.9zM191.5 298.3h0.9v1.2h-0.9zM197 298.3h0.9v1.2h-0.9zM202 298.3h0.9v1.2h-0.9zM206.5 298.3h0.9v1.2h-0.9zM207 298.3h0.9v1.2h-0.9zM207.5 298.3h0.9v1.2h-0.9zM209 298.3h0.9v1.2h-0.9zM210 298.3h0.9v1.2h-0.9zM218 298.3h0.9v1.2h-0.9zM218.5 298.3h0.9v1.2h-0.9zM219.5 298.3h0.9v1.2h-0.9zM223.5 298.3h0.9v1.2h-0.9zM225.5 298.3h0.9v1.2h-0.9zM235 298.3h0.9v1.2h-0.9zM238 298.3h0.9v1.2h-0.9zM240 298.3h0.9v1.2h-0.9zM244 298.3h0.9v1.2h-0.9zM255 298.3h0.9v1.2h-0.9zM256 298.3h0.9v1.2h-0.9zM266.5 298.3h0.9v1.2h-0.9zM273 298.3h0.9v1.2h-0.9zM277 298.3h0.9v1.2h-0.9zM279 298.3h0.9v1.2h-0.9zM281.5 298.3h0.9v1.2h-0.9zM289 298.3h0.9v1.2h-0.9zM296 298.3h0.9v1.2h-0.9zM317 298.3h0.9v1.2h-0.9zM317.5 298.3h0.9v1.2h-0.9zM55.5 305.45h0.9v1.2h-0.9zM57.5 305.45h0.9v1.2h-0.9zM71.5 305.45h0.9v1.2h-0.9zM74 305.45h0.9v1.2h-0.9zM79.5 305.45h0.9v1.2h-0.9zM94 305.45h0.9v1.2h-0.9zM106 305.45h0.9v1.2h-0.9zM121.5 305.45h0.9v1.2h-0.9zM122 305.45h0.9v1.2h-0.9zM123.5 305.45h0.9v1.2h-0.9zM136 305.45h0.9v1.2h-0.9zM140 305.45h0.9v1.2h-0.9zM143 305.45h0.9v1.2h-0.9zM145 305.45h0.9v1.2h-0.9zM146 305.45h0.9v1.2h-0.9zM147.5 305.45h0.9v1.2h-0.9zM156 305.45h0.9v1.2h-0.9zM179 305.45h0.9v1.2h-0.9zM187 305.45h0.9v1.2h-0.9zM190.5 305.45h0.9v1.2h-0.9zM211.5 305.45h0.9v1.2h-0.9zM219 305.45h0.9v1.2h-0.9zM245 305.45h0.9v1.2h-0.9zM260.5 305.45h0.9v1.2h-0.9zM267 305.45h0.9v1.2h-0.9zM268 305.45h0.9v1.2h-0.9zM270.5 305.45h0.9v1.2h-0.9zM284 305.45h0.9v1.2h-0.9zM286 305.45h0.9v1.2h-0.9zM288.5 305.45h0.9v1.2h-0.9zM293.5 305.45h0.9v1.2h-0.9zM298 305.45h0.9v1.2h-0.9zM50 312.6h0.9v1.2h-0.9zM56.5 312.6h0.9v1.2h-0.9zM57 312.6h0.9v1.2h-0.9zM62.5 312.6h0.9v1.2h-0.9zM64.5 312.6h0.9v1.2h-0.9zM66.5 312.6h0.9v1.2h-0.9zM80 312.6h0.9v1.2h-0.9zM82.5 312.6h0.9v1.2h-0.9zM84.5 312.6h0.9v1.2h-0.9zM90.5 312.6h0.9v1.2h-0.9zM92.5 312.6h0.9v1.2h-0.9zM93 312.6h0.9v1.2h-0.9zM109 312.6h0.9v1.2h-0.9zM113.5 312.6h0.9v1.2h-0.9zM122.5 312.6h0.9v1.2h-0.9zM123.5 312.6h0.9v1.2h-0.9zM126 312.6h0.9v1.2h-0.9zM128 312.6h0.9v1.2h-0.9zM128.5 312.6h0.9v1.2h-0.9zM137 312.6h0.9v1.2h-0.9zM147 312.6h0.9v1.2h-0.9zM156.5 312.6h0.9v1.2h-0.9zM160.5 312.6h0.9v1.2h-0.9zM162.5 312.6h0.9v1.2h-0.9zM163 312.6h0.9v1.2h-0.9zM166.5 312.6h0.9v1.2h-0.9zM178.5 312.6h0.9v1.2h-0.9zM181 312.6h0.9v1.2h-0.9zM182.5 312.6h0.9v1.2h-0.9zM183 312.6h0.9v1.2h-0.9zM191 312.6h0.9v1.2h-0.9zM191.5 312.6h0.9v1.2h-0.9zM199.5 312.6h0.9v1.2h-0.9zM201 312.6h0.9v1.2h-0.9zM208.5 312.6h0.9v1.2h-0.9zM209.5 312.6h0.9v1.2h-0.9zM211.5 312.6h0.9v1.2h-0.9zM212 312.6h0.9v1.2h-0.9zM213 312.6h0.9v1.2h-0.9zM220.5 312.6h0.9v1.2h-0.9zM221.5 312.6h0.9v1.2h-0.9zM226 312.6h0.9v1.2h-0.9zM230.5 312.6h0.9v1.2h-0.9zM232 312.6h0.9v1.2h-0.9zM244.5 312.6h0.9v1.2h-0.9zM246.5 312.6h0.9v1.2h-0.9zM247.5 312.6h0.9v1.2h-0.9zM250.5 312.6h0.9v1.2h-0.9zM251 312.6h0.9v1.2h-0.9zM251.5 312.6h0.9v1.2h-0.9zM252 312.6h0.9v1.2h-0.9zM257.5 312.6h0.9v1.2h-0.9zM262.5 312.6h0.9v1.2h-0.9zM263 312.6h0.9v1.2h-0.9zM266 312.6h0.9v1.2h-0.9zM266.5 312.6h0.9v1.2h-0.9zM273 312.6h0.9v1.2h-0.9zM279 312.6h0.9v1.2h-0.9zM281.5 312.6h0.9v1.2h-0.9zM282 312.6h0.9v1.2h-0.9zM282.5 312.6h0.9v1.2h-0.9zM284 312.6h0.9v1.2h-0.9zM288.5 312.6h0.9v1.2h-0.9zM297 312.6h0.9v1.2h-0.9zM297.5 312.6h0.9v1.2h-0.9zM299 312.6h0.9v1.2h-0.9zM301 312.6h0.9v1.2h-0.9zM307 312.6h0.9v1.2h-0.9zM308 312.6h0.9v1.2h-0.9zM309 312.6h0.9v1.2h-0.9zM313 312.6h0.9v1.2h-0.9zM46.5 319.75h0.9v1.2h-0.9zM47.5 319.75h0.9v1.2h-0.9zM48.5 319.75h0.9v1.2h-0.9zM49 319.75h0.9v1.2h-0.9zM56 319.75h0.9v1.2h-0.9zM58 319.75h0.9v1.2h-0.9zM59.5 319.75h0.9v1.2h-0.9zM62 319.75h0.9v1.2h-0.9zM62.5 319.75h0.9v1.2h-0.9zM64 319.75h0.9v1.2h-0.9zM64.5 319.75h0.9v1.2h-0.9zM71 319.75h0.9v1.2h-0.9zM75 319.75h0.9v1.2h-0.9zM76.5 319.75h0.9v1.2h-0.9zM77 319.75h0.9v1.2h-0.9zM77.5 319.75h0.9v1.2h-0.9zM78 319.75h0.9v1.2h-0.9zM83.5 319.75h0.9v1.2h-0.9zM86.5 319.75h0.9v1.2h-0.9zM88 319.75h0.9v1.2h-0.9zM88.5 319.75h0.9v1.2h-0.9zM93 319.75h0.9v1.2h-0.9zM96 319.75h0.9v1.2h-0.9zM99 319.75h0.9v1.2h-0.9zM99.5 319.75h0.9v1.2h-0.9zM101 319.75h0.9v1.2h-0.9zM107 319.75h0.9v1.2h-0.9zM108 319.75h0.9v1.2h-0.9zM108.5 319.75h0.9v1.2h-0.9zM110 319.75h0.9v1.2h-0.9zM113 319.75h0.9v1.2h-0.9zM117 319.75h0.9v1.2h-0.9zM120.5 319.75h0.9v1.2h-0.9zM125.5 319.75h0.9v1.2h-0.9zM129 319.75h0.9v1.2h-0.9zM130 319.75h0.9v1.2h-0.9zM130.5 319.75h0.9v1.2h-0.9zM131.5 319.75h0.9v1.2h-0.9zM132.5 319.75h0.9v1.2h-0.9zM133 319.75h0.9v1.2h-0.9zM134 319.75h0.9v1.2h-0.9zM135.5 319.75h0.9v1.2h-0.9zM137.5 319.75h0.9v1.2h-0.9zM138.5 319.75h0.9v1.2h-0.9zM139 319.75h0.9v1.2h-0.9zM139.5 319.75h0.9v1.2h-0.9zM141.5 319.75h0.9v1.2h-0.9zM142 319.75h0.9v1.2h-0.9zM143.5 319.75h0.9v1.2h-0.9zM144.5 319.75h0.9v1.2h-0.9zM149 319.75h0.9v1.2h-0.9zM149.5 319.75h0.9v1.2h-0.9zM151.5 319.75h0.9v1.2h-0.9zM158 319.75h0.9v1.2h-0.9zM159 319.75h0.9v1.2h-0.9zM160 319.75h0.9v1.2h-0.9zM160.5 319.75h0.9v1.2h-0.9zM162 319.75h0.9v1.2h-0.9zM165.5 319.75h0.9v1.2h-0.9zM166 319.75h0.9v1.2h-0.9zM170.5 319.75h0.9v1.2h-0.9zM171.5 319.75h0.9v1.2h-0.9zM173 319.75h0.9v1.2h-0.9zM174.5 319.75h0.9v1.2h-0.9zM176 319.75h0.9v1.2h-0.9zM178 319.75h0.9v1.2h-0.9zM186.5 319.75h0.9v1.2h-0.9zM187 319.75h0.9v1.2h-0.9zM188.5 319.75h0.9v1.2h-0.9zM190.5 319.75h0.9v1.2h-0.9zM192 319.75h0.9v1.2h-0.9zM195 319.75h0.9v1.2h-0.9zM197 319.75h0.9v1.2h-0.9zM200 319.75h0.9v1.2h-0.9zM201 319.75h0.9v1.2h-0.9zM203 319.75h0.9v1.2h-0.9zM204 319.75h0.9v1.2h-0.9zM204.5 319.75h0.9v1.2h-0.9zM205 319.75h0.9v1.2h-0.9zM206.5 319.75h0.9v1.2h-0.9zM209.5 319.75h0.9v1.2h-0.9zM210 319.75h0.9v1.2h-0.9zM214 319.75h0.9v1.2h-0.9zM214.5 319.75h0.9v1.2h-0.9zM216 319.75h0.9v1.2h-0.9zM217 319.75h0.9v1.2h-0.9zM217.5 319.75h0.9v1.2h-0.9zM218 319.75h0.9v1.2h-0.9zM220.5 319.75h0.9v1.2h-0.9zM223 319.75h0.9v1.2h-0.9zM223.5 319.75h0.9v1.2h-0.9zM226.5 319.75h0.9v1.2h-0.9zM229 319.75h0.9v1.2h-0.9zM229.5 319.75h0.9v1.2h-0.9zM231.5 319.75h0.9v1.2h-0.9zM239.5 319.75h0.9v1.2h-0.9zM243 319.75h0.9v1.2h-0.9zM245.5 319.75h0.9v1.2h-0.9zM251 319.75h0.9v1.2h-0.9zM257.5 319.75h0.9v1.2h-0.9zM258 319.75h0.9v1.2h-0.9zM260 319.75h0.9v1.2h-0.9zM262.5 319.75h0.9v1.2h-0.9zM263 319.75h0.9v1.2h-0.9zM264.5 319.75h0.9v1.2h-0.9zM268 319.75h0.9v1.2h-0.9zM269 319.75h0.9v1.2h-0.9zM270 319.75h0.9v1.2h-0.9zM270.5 319.75h0.9v1.2h-0.9zM273.5 319.75h0.9v1.2h-0.9zM276 319.75h0.9v1.2h-0.9zM278 319.75h0.9v1.2h-0.9zM279 319.75h0.9v1.2h-0.9zM279.5 319.75h0.9v1.2h-0.9zM280 319.75h0.9v1.2h-0.9zM281 319.75h0.9v1.2h-0.9zM282.5 319.75h0.9v1.2h-0.9zM283.5 319.75h0.9v1.2h-0.9zM284.5 319.75h0.9v1.2h-0.9zM285.5 319.75h0.9v1.2h-0.9zM286.5 319.75h0.9v1.2h-0.9zM287 319.75h0.9v1.2h-0.9zM291.5 319.75h0.9v1.2h-0.9zM293 319.75h0.9v1.2h-0.9zM295 319.75h0.9v1.2h-0.9zM297.5 319.75h0.9v1.2h-0.9zM298 319.75h0.9v1.2h-0.9zM299 319.75h0.9v1.2h-0.9zM304.5 319.75h0.9v1.2h-0.9zM306.5 319.75h0.9v1.2h-0.9zM307.5 319.75h0.9v1.2h-0.9zM310 319.75h0.9v1.2h-0.9zM311.5 319.75h0.9v1.2h-0.9zM314 319.75h0.9v1.2h-0.9zM317 319.75h0.9v1.2h-0.9zM317.5 319.75h0.9v1.2h-0.9z" fill="#858585"/>
<path d="M422 269.5h0.9v1.2h-0.9zM443 269.5h0.9v1.2h-0.9zM459.5 269.5h0.9v1.2h-0.9zM467 269.5h0.9v1.2h-0.9zM469.5 269.5h0.9v1.2h-0.9zM493.5 269.5h0.9v1.2h-0.9zM547 269.5h0.9v1.2h-0.9zM548.5 269.5h0.9v1.2h-0.9zM634 269.5h0.9v1.2h-0.9zM388.5 276.6h0.9v1.2h-0.9zM389.5 276.6h0.9v1.2h-0.9zM422.5 276.6h0.9v1.2h-0.9zM443.5 276.6h0.9v1.2h-0.9zM445 276.6h0.9v1.2h-0.9zM446 276.6h0.9v1.2h-0.9zM446.5 276.6h0.9v1.2h-0.9zM459 276.6h0.9v1.2h-0.9zM460.5 276.6h0.9v1.2h-0.9zM468 276.6h0.9v1.2h-0.9zM469.5 276.6h0.9v1.2h-0.9zM470.5 276.6h0.9v1.2h-0.9zM471 276.6h0.9v1.2h-0.9zM473 276.6h0.9v1.2h-0.9zM473.5 276.6h0.9v1.2h-0.9zM486.5 276.6h0.9v1.2h-0.9zM488.5 276.6h0.9v1.2h-0.9zM491.5 276.6h0.9v1.2h-0.9zM496.5 276.6h0.9v1.2h-0.9zM499 276.6h0.9v1.2h-0.9zM499.5 276.6h0.9v1.2h-0.9zM500.5 276.6h0.9v1.2h-0.9zM509 276.6h0.9v1.2h-0.9zM513.5 276.6h0.9v1.2h-0.9zM515 276.6h0.9v1.2h-0.9zM516.5 276.6h0.9v1.2h-0.9zM517 276.6h0.9v1.2h-0.9zM524 276.6h0.9v1.2h-0.9zM528 276.6h0.9v1.2h-0.9zM528.5 276.6h0.9v1.2h-0.9zM530 276.6h0.9v1.2h-0.9zM537 276.6h0.9v1.2h-0.9zM537.5 276.6h0.9v1.2h-0.9zM547 276.6h0.9v1.2h-0.9zM549 276.6h0.9v1.2h-0.9zM549.5 276.6h0.9v1.2h-0.9zM551.5 276.6h0.9v1.2h-0.9zM553 276.6h0.9v1.2h-0.9zM555 276.6h0.9v1.2h-0.9zM570.5 276.6h0.9v1.2h-0.9zM573 276.6h0.9v1.2h-0.9zM575 276.6h0.9v1.2h-0.9zM577 276.6h0.9v1.2h-0.9zM577.5 276.6h0.9v1.2h-0.9zM580 276.6h0.9v1.2h-0.9zM583 276.6h0.9v1.2h-0.9zM583.5 276.6h0.9v1.2h-0.9zM584.5 276.6h0.9v1.2h-0.9zM589.5 276.6h0.9v1.2h-0.9zM606 276.6h0.9v1.2h-0.9zM623 276.6h0.9v1.2h-0.9zM627 276.6h0.9v1.2h-0.9zM634 276.6h0.9v1.2h-0.9zM634.5 276.6h0.9v1.2h-0.9zM381.5 283.7h0.9v1.2h-0.9zM382.5 283.7h0.9v1.2h-0.9zM383.5 283.7h0.9v1.2h-0.9zM384.5 283.7h0.9v1.2h-0.9zM389 283.7h0.9v1.2h-0.9zM415.5 283.7h0.9v1.2h-0.9zM418 283.7h0.9v1.2h-0.9zM418.5 283.7h0.9v1.2h-0.9zM420 283.7h0.9v1.2h-0.9zM421.5 283.7h0.9v1.2h-0.9zM443.5 283.7h0.9v1.2h-0.9zM458 283.7h0.9v1.2h-0.9zM462.5 283.7h0.9v1.2h-0.9zM463 283.7h0.9v1.2h-0.9zM469.5 283.7h0.9v1.2h-0.9zM470.5 283.7h0.9v1.2h-0.9zM486 283.7h0.9v1.2h-0.9zM490 283.7h0.9v1.2h-0.9zM493 283.7h0.9v1.2h-0.9zM494.5 283.7h0.9v1.2h-0.9zM497 283.7h0.9v1.2h-0.9zM497.5 283.7h0.9v1.2h-0.9zM498 283.7h0.9v1.2h-0.9zM509.5 283.7h0.9v1.2h-0.9zM512.5 283.7h0.9v1.2h-0.9zM514 283.7h0.9v1.2h-0.9zM516.5 283.7h0.9v1.2h-0.9zM518.5 283.7h0.9v1.2h-0.9zM525.5 283.7h0.9v1.2h-0.9zM544.5 283.7h0.9v1.2h-0.9zM547.5 283.7h0.9v1.2h-0.9zM548 283.7h0.9v1.2h-0.9zM552 283.7h0.9v1.2h-0.9zM556 283.7h0.9v1.2h-0.9zM571.5 283.7h0.9v1.2h-0.9zM574 283.7h0.9v1.2h-0.9zM585 283.7h0.9v1.2h-0.9zM588 283.7h0.9v1.2h-0.9zM600.5 283.7h0.9v1.2h-0.9zM602.5 283.7h0.9v1.2h-0.9zM603.5 283.7h0.9v1.2h-0.9zM608.5 283.7h0.9v1.2h-0.9zM621.5 283.7h0.9v1.2h-0.9zM622.5 283.7h0.9v1.2h-0.9zM624.5 283.7h0.9v1.2h-0.9zM625 283.7h0.9v1.2h-0.9zM628.5 283.7h0.9v1.2h-0.9zM631 283.7h0.9v1.2h-0.9zM390.5 290.8h0.9v1.2h-0.9zM411 290.8h0.9v1.2h-0.9zM421 290.8h0.9v1.2h-0.9zM422.5 290.8h0.9v1.2h-0.9zM423 290.8h0.9v1.2h-0.9zM444 290.8h0.9v1.2h-0.9zM444.5 290.8h0.9v1.2h-0.9zM447 290.8h0.9v1.2h-0.9zM464 290.8h0.9v1.2h-0.9zM464.5 290.8h0.9v1.2h-0.9zM466.5 290.8h0.9v1.2h-0.9zM467 290.8h0.9v1.2h-0.9zM471.5 290.8h0.9v1.2h-0.9zM487.5 290.8h0.9v1.2h-0.9zM488 290.8h0.9v1.2h-0.9zM492 290.8h0.9v1.2h-0.9zM493.5 290.8h0.9v1.2h-0.9zM497.5 290.8h0.9v1.2h-0.9zM512 290.8h0.9v1.2h-0.9zM513.5 290.8h0.9v1.2h-0.9zM516 290.8h0.9v1.2h-0.9zM516.5 290.8h0.9v1.2h-0.9zM520 290.8h0.9v1.2h-0.9zM520.5 290.8h0.9v1.2h-0.9zM521.5 290.8h0.9v1.2h-0.9zM523 290.8h0.9v1.2h-0.9zM524.5 290.8h0.9v1.2h-0.9zM525 290.8h0.9v1.2h-0.9zM529 290.8h0.9v1.2h-0.9zM537.5 290.8h0.9v1.2h-0.9zM539 290.8h0.9v1.2h-0.9zM544 290.8h0.9v1.2h-0.9zM550 290.8h0.9v1.2h-0.9zM553.5 290.8h0.9v1.2h-0.9zM555 290.8h0.9v1.2h-0.9zM555.5 290.8h0.9v1.2h-0.9zM571.5 290.8h0.9v1.2h-0.9zM574.5 290.8h0.9v1.2h-0.9zM576.5 290.8h0.9v1.2h-0.9zM578 290.8h0.9v1.2h-0.9zM579.5 290.8h0.9v1.2h-0.9zM581 290.8h0.9v1.2h-0.9zM583.5 290.8h0.9v1.2h-0.9zM584 290.8h0.9v1.2h-0.9zM587 290.8h0.9v1.2h-0.9zM590 290.8h0.9v1.2h-0.9zM601.5 290.8h0.9v1.2h-0.9zM605 290.8h0.9v1.2h-0.9zM607 290.8h0.9v1.2h-0.9zM611 290.8h0.9v1.2h-0.9zM621 290.8h0.9v1.2h-0.9zM624 290.8h0.9v1.2h-0.9zM625.5 290.8h0.9v1.2h-0.9zM626.5 290.8h0.9v1.2h-0.9zM627.5 290.8h0.9v1.2h-0.9zM630 290.8h0.9v1.2h-0.9zM631.5 290.8h0.9v1.2h-0.9zM633.5 290.8h0.9v1.2h-0.9zM380 297.9h0.9v1.2h-0.9zM412.5 297.9h0.9v1.2h-0.9zM415 297.9h0.9v1.2h-0.9zM460.5 297.9h0.9v1.2h-0.9zM488.5 297.9h0.9v1.2h-0.9zM492.5 297.9h0.9v1.2h-0.9zM493.5 297.9h0.9v1.2h-0.9zM494 297.9h0.9v1.2h-0.9zM497 297.9h0.9v1.2h-0.9zM501 297.9h0.9v1.2h-0.9zM509 297.9h0.9v1.2h-0.9zM520.5 297.9h0.9v1.2h-0.9zM523 297.9h0.9v1.2h-0.9zM540.5 297.9h0.9v1.2h-0.9zM600 297.9h0.9v1.2h-0.9zM605.5 297.9h0.9v1.2h-0.9zM607.5 297.9h0.9v1.2h-0.9zM630.5 297.9h0.9v1.2h-0.9zM635.5 297.9h0.9v1.2h-0.9zM413 305h0.9v1.2h-0.9zM445 305h0.9v1.2h-0.9zM459.5 305h0.9v1.2h-0.9zM490.5 305h0.9v1.2h-0.9zM491.5 305h0.9v1.2h-0.9zM518.5 305h0.9v1.2h-0.9zM529 305h0.9v1.2h-0.9zM539 305h0.9v1.2h-0.9zM540.5 305h0.9v1.2h-0.9zM543 305h0.9v1.2h-0.9zM570 305h0.9v1.2h-0.9zM574 305h0.9v1.2h-0.9zM574.5 305h0.9v1.2h-0.9zM576.5 305h0.9v1.2h-0.9zM611 305h0.9v1.2h-0.9zM621 305h0.9v1.2h-0.9zM411.5 312.1h0.9v1.2h-0.9zM469.5 312.1h0.9v1.2h-0.9zM495 312.1h0.9v1.2h-0.9zM496.5 312.1h0.9v1.2h-0.9zM537.5 312.1h0.9v1.2h-0.9zM572 312.1h0.9v1.2h-0.9zM577.5 312.1h0.9v1.2h-0.9zM579 312.1h0.9v1.2h-0.9zM623 312.1h0.9v1.2h-0.9zM387.5 319.2h0.9v1.2h-0.9zM391 319.2h0.9v1.2h-0.9zM418.5 319.2h0.9v1.2h-0.9zM420 319.2h0.9v1.2h-0.9zM447 319.2h0.9v1.2h-0.9zM462 319.2h0.9v1.2h-0.9zM465 319.2h0.9v1.2h-0.9zM489 319.2h0.9v1.2h-0.9zM494.5 319.2h0.9v1.2h-0.9zM511.5 319.2h0.9v1.2h-0.9zM529 319.2h0.9v1.2h-0.9zM551 319.2h0.9v1.2h-0.9zM586 319.2h0.9v1.2h-0.9zM603.5 319.2h0.9v1.2h-0.9z" fill="#858585"/>
<path d="M265 176.2H321.9" stroke="#666" stroke-width="1.6"/>
<text x="273.4" y="194.4" font-size="11" text-anchor="start" font-weight="normal" fill="#111" >1 second</text>
<path d="M577 176.1H633" stroke="#666" stroke-width="1.6"/>
<text x="584.6" y="193.9" font-size="11" text-anchor="start" font-weight="normal" fill="#111" >1 second</text>
<path d="M259.3 376.1H315.9" stroke="#111" stroke-width="1.1"/>
<text x="267" y="394.8" font-size="11" text-anchor="start" font-weight="normal" fill="#111" >1 second</text>
<path d="M579.7 376.1H636.5" stroke="#111" stroke-width="1.1"/>
<text x="588" y="394.8" font-size="11" text-anchor="start" font-weight="normal" fill="#111" >1 second</text>
<path d="M645.8 34.8V42.6" stroke="#555" stroke-width="1.5"/>
<text transform="translate(662.2 36.7) rotate(-90)" font-size="11" text-anchor="middle" fill="#111">200 µV</text>
<path d="M645.9 141.8V155.7" stroke="#555" stroke-width="1.5"/>
<text transform="translate(662.7 148.4) rotate(-90)" font-size="11" text-anchor="middle" fill="#111">200 µV</text>
<path d="M645.8 240.3V247.6" stroke="#555" stroke-width="1.5"/>
<text transform="translate(663 242.5) rotate(-90)" font-size="11" text-anchor="middle" fill="#111">200 µV</text>
<path d="M645.8 347.7V360.7" stroke="#555" stroke-width="1.5"/>
<text transform="translate(663 353.5) rotate(-90)" font-size="11" text-anchor="middle" fill="#111">200 µV</text>
<text x="21.2" y="413.5" font-size="13" text-anchor="start" font-weight="bold" fill="#111" >e</text>
<path d="M58.8 432.4V592.3" stroke="#5a5a5a" stroke-width="1.5"/>
<path d="M55.3 581.9H58.8" stroke="#555" stroke-width="1"/>
<text x="52.5" y="586.2" font-size="12.2" text-anchor="end" font-weight="normal" fill="#111" >-200</text>
<path d="M55.3 560.6H58.8" stroke="#555" stroke-width="1"/>
<text x="52.5" y="564.9" font-size="12.2" text-anchor="end" font-weight="normal" fill="#111" >-100</text>
<path d="M55.3 539.3H58.8" stroke="#555" stroke-width="1"/>
<text x="52.5" y="543.6" font-size="12.2" text-anchor="end" font-weight="normal" fill="#111" >0</text>
<path d="M55.3 518H58.8" stroke="#555" stroke-width="1"/>
<text x="52.5" y="522.3" font-size="12.2" text-anchor="end" font-weight="normal" fill="#111" >100</text>
<path d="M55.3 496.7H58.8" stroke="#555" stroke-width="1"/>
<text x="52.5" y="501" font-size="12.2" text-anchor="end" font-weight="normal" fill="#111" >200</text>
<path d="M55.3 475.4H58.8" stroke="#555" stroke-width="1"/>
<text x="52.5" y="479.7" font-size="12.2" text-anchor="end" font-weight="normal" fill="#111" >300</text>
<path d="M55.3 454.1H58.8" stroke="#555" stroke-width="1"/>
<text x="52.5" y="458.4" font-size="12.2" text-anchor="end" font-weight="normal" fill="#111" >400</text>
<path d="M55.3 432.8H58.8" stroke="#555" stroke-width="1"/>
<text x="52.5" y="437.1" font-size="12.2" text-anchor="end" font-weight="normal" fill="#111" >500</text>
<path d="M58.1 592.3H162.8" stroke="#444" stroke-width="1.4"/>
<path d="M58.8 592.3V599.5" stroke="#444" stroke-width="1"/>
<path d="M76.13 592.3V599.5" stroke="#444" stroke-width="1"/>
<path d="M93.47 592.3V599.5" stroke="#444" stroke-width="1"/>
<path d="M110.8 592.3V599.5" stroke="#444" stroke-width="1"/>
<path d="M128.13 592.3V599.5" stroke="#444" stroke-width="1"/>
<path d="M145.47 592.3V599.5" stroke="#444" stroke-width="1"/>
<path d="M162.8 592.3V599.5" stroke="#444" stroke-width="1"/>
<text x="58.8" y="611.6" font-size="12" text-anchor="middle" font-weight="normal" fill="#111" >-300</text>
<text x="110.8" y="611.6" font-size="12" text-anchor="middle" font-weight="normal" fill="#111" >0</text>
<text x="162.8" y="611.6" font-size="12" text-anchor="middle" font-weight="normal" fill="#111" >300</text>
<text x="110.8" y="620.8" font-size="12" text-anchor="middle" font-weight="normal" fill="#111" >Time (<tspan font-style="italic">ms</tspan>)</text>
<text x="110.2" y="424.3" font-size="12" text-anchor="middle" font-weight="normal" fill="#111" >NREM sleep</text>
<path d="M198.2 432.4V592.3" stroke="#5a5a5a" stroke-width="1.5"/>
<path d="M194.7 581.9H198.2" stroke="#555" stroke-width="1"/>
<text x="191.9" y="586.2" font-size="12.2" text-anchor="end" font-weight="normal" fill="#111" >-200</text>
<path d="M194.7 560.6H198.2" stroke="#555" stroke-width="1"/>
<text x="191.9" y="564.9" font-size="12.2" text-anchor="end" font-weight="normal" fill="#111" >-100</text>
<path d="M194.7 539.3H198.2" stroke="#555" stroke-width="1"/>
<text x="191.9" y="543.6" font-size="12.2" text-anchor="end" font-weight="normal" fill="#111" >0</text>
<path d="M194.7 518H198.2" stroke="#555" stroke-width="1"/>
<text x="191.9" y="522.3" font-size="12.2" text-anchor="end" font-weight="normal" fill="#111" >100</text>
<path d="M194.7 496.7H198.2" stroke="#555" stroke-width="1"/>
<text x="191.9" y="501" font-size="12.2" text-anchor="end" font-weight="normal" fill="#111" >200</text>
<path d="M194.7 475.4H198.2" stroke="#555" stroke-width="1"/>
<text x="191.9" y="479.7" font-size="12.2" text-anchor="end" font-weight="normal" fill="#111" >300</text>
<path d="M194.7 454.1H198.2" stroke="#555" stroke-width="1"/>
<text x="191.9" y="458.4" font-size="12.2" text-anchor="end" font-weight="normal" fill="#111" >400</text>
<path d="M194.7 432.8H198.2" stroke="#555" stroke-width="1"/>
<text x="191.9" y="437.1" font-size="12.2" text-anchor="end" font-weight="normal" fill="#111" >500</text>
<path d="M197.5 592.3H302.2" stroke="#444" stroke-width="1.4"/>
<path d="M198.2 592.3V599.5" stroke="#444" stroke-width="1"/>
<path d="M215.53 592.3V599.5" stroke="#444" stroke-width="1"/>
<path d="M232.87 592.3V599.5" stroke="#444" stroke-width="1"/>
<path d="M250.2 592.3V599.5" stroke="#444" stroke-width="1"/>
<path d="M267.53 592.3V599.5" stroke="#444" stroke-width="1"/>
<path d="M284.87 592.3V599.5" stroke="#444" stroke-width="1"/>
<path d="M302.2 592.3V599.5" stroke="#444" stroke-width="1"/>
<text x="198.2" y="611.6" font-size="12" text-anchor="middle" font-weight="normal" fill="#111" >-300</text>
<text x="250.2" y="611.6" font-size="12" text-anchor="middle" font-weight="normal" fill="#111" >0</text>
<text x="302.2" y="611.6" font-size="12" text-anchor="middle" font-weight="normal" fill="#111" >300</text>
<text x="250.2" y="620.8" font-size="12" text-anchor="middle" font-weight="normal" fill="#111" >Time (<tspan font-style="italic">ms</tspan>)</text>
<text x="249.7" y="424.3" font-size="12" text-anchor="middle" font-weight="normal" fill="#111" >Wake + 5-MeO-DMT</text>
<path d="M339.8 432.4V592.3" stroke="#5a5a5a" stroke-width="1.5"/>
<path d="M336.3 581.9H339.8" stroke="#555" stroke-width="1"/>
<text x="333.5" y="586.2" font-size="12.2" text-anchor="end" font-weight="normal" fill="#111" >-200</text>
<path d="M336.3 560.6H339.8" stroke="#555" stroke-width="1"/>
<text x="333.5" y="564.9" font-size="12.2" text-anchor="end" font-weight="normal" fill="#111" >-100</text>
<path d="M336.3 539.3H339.8" stroke="#555" stroke-width="1"/>
<text x="333.5" y="543.6" font-size="12.2" text-anchor="end" font-weight="normal" fill="#111" >0</text>
<path d="M336.3 518H339.8" stroke="#555" stroke-width="1"/>
<text x="333.5" y="522.3" font-size="12.2" text-anchor="end" font-weight="normal" fill="#111" >100</text>
<path d="M336.3 496.7H339.8" stroke="#555" stroke-width="1"/>
<text x="333.5" y="501" font-size="12.2" text-anchor="end" font-weight="normal" fill="#111" >200</text>
<path d="M336.3 475.4H339.8" stroke="#555" stroke-width="1"/>
<text x="333.5" y="479.7" font-size="12.2" text-anchor="end" font-weight="normal" fill="#111" >300</text>
<path d="M336.3 454.1H339.8" stroke="#555" stroke-width="1"/>
<text x="333.5" y="458.4" font-size="12.2" text-anchor="end" font-weight="normal" fill="#111" >400</text>
<path d="M336.3 432.8H339.8" stroke="#555" stroke-width="1"/>
<text x="333.5" y="437.1" font-size="12.2" text-anchor="end" font-weight="normal" fill="#111" >500</text>
<path d="M339.1 592.3H443.8" stroke="#444" stroke-width="1.4"/>
<path d="M339.8 592.3V599.5" stroke="#444" stroke-width="1"/>
<path d="M357.13 592.3V599.5" stroke="#444" stroke-width="1"/>
<path d="M374.47 592.3V599.5" stroke="#444" stroke-width="1"/>
<path d="M391.8 592.3V599.5" stroke="#444" stroke-width="1"/>
<path d="M409.13 592.3V599.5" stroke="#444" stroke-width="1"/>
<path d="M426.47 592.3V599.5" stroke="#444" stroke-width="1"/>
<path d="M443.8 592.3V599.5" stroke="#444" stroke-width="1"/>
<text x="339.8" y="611.6" font-size="12" text-anchor="middle" font-weight="normal" fill="#111" >-300</text>
<text x="391.8" y="611.6" font-size="12" text-anchor="middle" font-weight="normal" fill="#111" >0</text>
<text x="443.8" y="611.6" font-size="12" text-anchor="middle" font-weight="normal" fill="#111" >300</text>
<text x="391.8" y="620.8" font-size="12" text-anchor="middle" font-weight="normal" fill="#111" >Time (<tspan font-style="italic">ms</tspan>)</text>
<text x="394.1" y="424.3" font-size="12" text-anchor="middle" font-weight="normal" fill="#111" >Wake (baseline)</text>
<text transform="translate(8.6 502.5) rotate(-90)" font-size="12" text-anchor="middle" fill="#111">Slow wave</text>
<text transform="translate(23.8 502.5) rotate(-90)" font-size="12" text-anchor="middle" fill="#111">profile <tspan font-style="italic">(µV)</tspan></text>
<path d="M58.6 547.4L58.91 547.62L59.28 547.89L59.72 548.2L60.21 548.55L60.74 548.93L61.32 549.34L61.92 549.78L62.55 550.24L63.2 550.71L63.85 551.2L64.5 551.7L64.96 552.08L65.45 552.51L65.95 553L66.48 553.52L67.02 554.07L67.57 554.63L68.13 555.19L68.69 555.74L69.26 556.27L69.82 556.76L70.37 557.22L70.91 557.61L71.44 557.94L71.95 558.19L72.44 558.34L72.9 558.4L73.49 558.35L74.05 558.2L74.6 557.96L75.13 557.62L75.64 557.19L76.13 556.66L76.61 556.05L77.09 555.35L77.55 554.56L78 553.69L78.45 552.74L78.9 551.7L79.47 550.25L79.98 548.75L80.47 547.13L80.94 545.37L81.41 543.4L81.9 541.19L82.41 538.68L82.98 535.83L83.6 532.6L84.04 530.25L84.5 527.66L84.98 524.85L85.48 521.87L85.99 518.74L86.52 515.51L87.05 512.19L87.59 508.84L88.13 505.47L88.68 502.13L89.22 498.85L89.75 495.66L90.28 492.6L90.8 489.7L91.31 486.87L91.82 484L92.33 481.13L92.83 478.26L93.34 475.41L93.84 472.61L94.35 469.87L94.86 467.2L95.36 464.64L95.87 462.19L96.37 459.87L96.88 457.7L97.39 455.71L97.9 453.9L98.41 452.26L98.92 450.75L99.44 449.36L99.95 448.11L100.46 446.97L100.98 445.96L101.49 445.06L102.01 444.28L102.52 443.62L103.04 443.06L103.56 442.61L104.07 442.27L104.59 442.04L105.1 441.9L105.61 441.88L106.13 441.99L106.64 442.23L107.16 442.58L107.68 443.05L108.19 443.63L108.71 444.31L109.22 445.09L109.74 445.96L110.25 446.92L110.76 447.96L111.28 449.07L111.79 450.25L112.3 451.5L112.81 452.85L113.32 454.33L113.83 455.93L114.33 457.64L114.84 459.44L115.34 461.32L115.85 463.26L116.36 465.26L116.86 467.31L117.37 469.38L117.87 471.47L118.38 473.56L118.89 475.64L119.4 477.7L119.91 479.76L120.42 481.83L120.94 483.94L121.45 486.07L121.97 488.22L122.48 490.4L123 492.6L123.52 494.83L124.03 497.08L124.55 499.35L125.06 501.65L125.58 503.98L126.09 506.33L126.6 508.7L127.11 511.12L127.62 513.6L128.13 516.14L128.63 518.72L129.14 521.33L129.64 523.96L130.15 526.6L130.66 529.24L131.16 531.87L131.67 534.48L132.17 537.06L132.68 539.6L133.19 542.08L133.7 544.5L134.21 546.91L134.73 549.35L135.26 551.81L135.78 554.28L136.31 556.73L136.84 559.14L137.37 561.52L137.89 563.83L138.41 566.06L138.93 568.2L139.43 570.23L139.93 572.14L140.42 573.9L140.9 575.5L141.44 577.2L141.97 578.74L142.49 580.14L142.99 581.41L143.49 582.53L143.98 583.53L144.47 584.4L144.95 585.15L145.44 585.78L145.92 586.29L146.41 586.7L146.9 587L147.43 587.18L147.93 587.18L148.42 587.01L148.9 586.69L149.38 586.24L149.87 585.67L150.39 584.99L150.93 584.22L151.5 583.37L152.13 582.46L152.8 581.5L153.23 580.88L153.7 580.18L154.21 579.39L154.75 578.54L155.31 577.63L155.89 576.68L156.48 575.69L157.07 574.68L157.67 573.67L158.26 572.65L158.85 571.65L159.41 570.67L159.95 569.73L160.47 568.84L160.94 568L161.38 567.24L161.78 566.56L162.12 565.98L162.4 565.5" fill="none" stroke="#bcc0f2" stroke-width="2.2" stroke-linejoin="round" stroke-linecap="round"/>
<path d="M58.6 547.4L58.91 547.62L59.28 547.89L59.72 548.2L60.21 548.55L60.74 548.93L61.32 549.34L61.92 549.78L62.55 550.24L63.2 550.71L63.85 551.2L64.5 551.7L64.96 552.08L65.45 552.51L65.95 553L66.48 553.52L67.02 554.07L67.57 554.63L68.13 555.19L68.69 555.74L69.26 556.27L69.82 556.76L70.37 557.22L70.91 557.61L71.44 557.94L71.95 558.19L72.44 558.34L72.9 558.4L73.49 558.35L74.05 558.2L74.6 557.96L75.13 557.62L75.64 557.19L76.13 556.66L76.61 556.05L77.09 555.35L77.55 554.56L78 553.69L78.45 552.74L78.9 551.7L79.47 550.25L79.98 548.75L80.47 547.13L80.94 545.37L81.41 543.4L81.9 541.19L82.41 538.68L82.98 535.83L83.6 532.6L84.04 530.25L84.5 527.66L84.98 524.85L85.48 521.87L85.99 518.74L86.52 515.51L87.05 512.19L87.59 508.84L88.13 505.47L88.68 502.13L89.22 498.85L89.75 495.66L90.28 492.6L90.8 489.7L91.31 486.87L91.82 484L92.33 481.13L92.83 478.26L93.34 475.41L93.84 472.61L94.35 469.87L94.86 467.2L95.36 464.64L95.87 462.19L96.37 459.87L96.88 457.7L97.39 455.71L97.9 453.9L98.41 452.26L98.92 450.75L99.44 449.36L99.95 448.11L100.46 446.97L100.98 445.96L101.49 445.06L102.01 444.28L102.52 443.62L103.04 443.06L103.56 442.61L104.07 442.27L104.59 442.04L105.1 441.9L105.61 441.88L106.13 441.99L106.64 442.23L107.16 442.58L107.68 443.05L108.19 443.63L108.71 444.31L109.22 445.09L109.74 445.96L110.25 446.92L110.76 447.96L111.28 449.07L111.79 450.25L112.3 451.5L112.81 452.85L113.32 454.33L113.83 455.93L114.33 457.64L114.84 459.44L115.34 461.32L115.85 463.26L116.36 465.26L116.86 467.31L117.37 469.38L117.87 471.47L118.38 473.56L118.89 475.64L119.4 477.7L119.91 479.76L120.42 481.83L120.94 483.94L121.45 486.07L121.97 488.22L122.48 490.4L123 492.6L123.52 494.83L124.03 497.08L124.55 499.35L125.06 501.65L125.58 503.98L126.09 506.33L126.6 508.7L127.11 511.12L127.62 513.6L128.13 516.14L128.63 518.72L129.14 521.33L129.64 523.96L130.15 526.6L130.66 529.24L131.16 531.87L131.67 534.48L132.17 537.06L132.68 539.6L133.19 542.08L133.7 544.5L134.21 546.91L134.73 549.35L135.26 551.81L135.78 554.28L136.31 556.73L136.84 559.14L137.37 561.52L137.89 563.83L138.41 566.06L138.93 568.2L139.43 570.23L139.93 572.14L140.42 573.9L140.9 575.5L141.44 577.2L141.97 578.74L142.49 580.14L142.99 581.41L143.49 582.53L143.98 583.53L144.47 584.4L144.95 585.15L145.44 585.78L145.92 586.29L146.41 586.7L146.9 587L147.43 587.18L147.93 587.18L148.42 587.01L148.9 586.69L149.38 586.24L149.87 585.67L150.39 584.99L150.93 584.22L151.5 583.37L152.13 582.46L152.8 581.5L153.23 580.88L153.7 580.18L154.21 579.39L154.75 578.54L155.31 577.63L155.89 576.68L156.48 575.69L157.07 574.68L157.67 573.67L158.26 572.65L158.85 571.65L159.41 570.67L159.95 569.73L160.47 568.84L160.94 568L161.38 567.24L161.78 566.56L162.12 565.98L162.4 565.5" fill="none" stroke="#5a9ef2" stroke-width="1.0" stroke-linejoin="round"/>
<path d="M198.1 560L198.41 560.48L198.79 561.1L199.24 561.84L199.75 562.67L200.3 563.56L200.88 564.5L201.49 565.45L202.11 566.4L202.73 567.31L203.34 568.17L203.94 568.94L204.5 569.6L205.01 570.15L205.52 570.7L206.03 571.23L206.55 571.75L207.06 572.23L207.58 572.69L208.1 573.1L208.62 573.47L209.14 573.79L209.66 574.05L210.18 574.24L210.69 574.36L211.2 574.4L211.7 574.39L212.21 574.37L212.7 574.31L213.2 574.22L213.69 574.07L214.18 573.85L214.67 573.56L215.17 573.19L215.66 572.71L216.16 572.13L216.67 571.42L217.18 570.58L217.7 569.6L218.19 568.55L218.68 567.37L219.18 566.07L219.68 564.66L220.19 563.15L220.7 561.56L221.21 559.89L221.72 558.15L222.23 556.35L222.75 554.51L223.26 552.64L223.78 550.73L224.29 548.82L224.8 546.9L225.31 544.92L225.82 542.84L226.34 540.68L226.85 538.44L227.37 536.15L227.88 533.82L228.4 531.47L228.92 529.12L229.43 526.79L229.95 524.48L230.46 522.22L230.98 520.03L231.49 517.92L232 515.9L232.51 513.93L233.02 511.95L233.54 509.98L234.05 508.02L234.56 506.09L235.07 504.21L235.58 502.37L236.09 500.6L236.6 498.9L237.1 497.3L237.61 495.79L238.11 494.4L238.61 493.13L239.1 492L239.63 490.94L240.15 490.02L240.68 489.23L241.2 488.57L241.72 488.02L242.23 487.57L242.74 487.2L243.26 486.92L243.77 486.71L244.28 486.55L244.78 486.43L245.29 486.35L245.8 486.3L246.3 486.28L246.81 486.32L247.3 486.41L247.8 486.57L248.29 486.78L248.78 487.06L249.27 487.4L249.77 487.8L250.26 488.26L250.76 488.79L251.27 489.39L251.78 490.06L252.3 490.8L252.79 491.56L253.28 492.4L253.78 493.3L254.28 494.28L254.79 495.31L255.3 496.4L255.81 497.54L256.32 498.73L256.83 499.95L257.35 501.2L257.86 502.47L258.38 503.77L258.89 505.08L259.4 506.4L259.91 507.75L260.42 509.15L260.94 510.6L261.45 512.09L261.97 513.61L262.48 515.16L263 516.73L263.52 518.32L264.03 519.91L264.55 521.51L265.06 523.1L265.58 524.69L266.09 526.25L266.6 527.8L267.11 529.34L267.62 530.91L268.13 532.49L268.63 534.08L269.14 535.67L269.64 537.26L270.15 538.84L270.66 540.42L271.16 541.97L271.67 543.5L272.17 545.01L272.68 546.48L273.19 547.91L273.7 549.3L274.21 550.67L274.73 552.03L275.25 553.39L275.76 554.73L276.28 556.06L276.8 557.35L277.32 558.62L277.84 559.84L278.36 561.02L278.88 562.15L279.39 563.22L279.9 564.22L280.4 565.15L280.9 566L281.43 566.84L281.96 567.62L282.49 568.34L283.01 568.99L283.53 569.58L284.04 570.1L284.56 570.57L285.07 570.97L285.58 571.3L286.08 571.57L286.59 571.78L287.1 571.92L287.6 572L288.14 572.01L288.67 571.94L289.19 571.8L289.71 571.58L290.22 571.28L290.74 570.91L291.26 570.47L291.78 569.96L292.32 569.37L292.86 568.72L293.42 567.99L294 567.2L294.49 566.47L295.02 565.6L295.58 564.61L296.16 563.54L296.76 562.4L297.36 561.21L297.95 560.01L298.54 558.8L299.11 557.61L299.66 556.47L300.16 555.39L300.63 554.4L301.05 553.53L301.41 552.79L301.7 552.2" fill="none" stroke="#f4a6dc" stroke-width="2.2" stroke-linejoin="round"/>
<path d="M198.1 560L198.41 560.48L198.79 561.1L199.24 561.84L199.75 562.67L200.3 563.56L200.88 564.5L201.49 565.45L202.11 566.4L202.73 567.31L203.34 568.17L203.94 568.94L204.5 569.6L205.01 570.15L205.52 570.7L206.03 571.23L206.55 571.75L207.06 572.23L207.58 572.69L208.1 573.1L208.62 573.47L209.14 573.79L209.66 574.05L210.18 574.24L210.69 574.36L211.2 574.4L211.7 574.39L212.21 574.37L212.7 574.31L213.2 574.22L213.69 574.07L214.18 573.85L214.67 573.56L215.17 573.19L215.66 572.71L216.16 572.13L216.67 571.42L217.18 570.58L217.7 569.6L218.19 568.55L218.68 567.37L219.18 566.07L219.68 564.66L220.19 563.15L220.7 561.56L221.21 559.89L221.72 558.15L222.23 556.35L222.75 554.51L223.26 552.64L223.78 550.73L224.29 548.82L224.8 546.9L225.31 544.92L225.82 542.84L226.34 540.68L226.85 538.44L227.37 536.15L227.88 533.82L228.4 531.47L228.92 529.12L229.43 526.79L229.95 524.48L230.46 522.22L230.98 520.03L231.49 517.92L232 515.9L232.51 513.93L233.02 511.95L233.54 509.98L234.05 508.02L234.56 506.09L235.07 504.21L235.58 502.37L236.09 500.6L236.6 498.9L237.1 497.3L237.61 495.79L238.11 494.4L238.61 493.13L239.1 492L239.63 490.94L240.15 490.02L240.68 489.23L241.2 488.57L241.72 488.02L242.23 487.57L242.74 487.2L243.26 486.92L243.77 486.71L244.28 486.55L244.78 486.43L245.29 486.35L245.8 486.3L246.3 486.28L246.81 486.32L247.3 486.41L247.8 486.57L248.29 486.78L248.78 487.06L249.27 487.4L249.77 487.8L250.26 488.26L250.76 488.79L251.27 489.39L251.78 490.06L252.3 490.8L252.79 491.56L253.28 492.4L253.78 493.3L254.28 494.28L254.79 495.31L255.3 496.4L255.81 497.54L256.32 498.73L256.83 499.95L257.35 501.2L257.86 502.47L258.38 503.77L258.89 505.08L259.4 506.4L259.91 507.75L260.42 509.15L260.94 510.6L261.45 512.09L261.97 513.61L262.48 515.16L263 516.73L263.52 518.32L264.03 519.91L264.55 521.51L265.06 523.1L265.58 524.69L266.09 526.25L266.6 527.8L267.11 529.34L267.62 530.91L268.13 532.49L268.63 534.08L269.14 535.67L269.64 537.26L270.15 538.84L270.66 540.42L271.16 541.97L271.67 543.5L272.17 545.01L272.68 546.48L273.19 547.91L273.7 549.3L274.21 550.67L274.73 552.03L275.25 553.39L275.76 554.73L276.28 556.06L276.8 557.35L277.32 558.62L277.84 559.84L278.36 561.02L278.88 562.15L279.39 563.22L279.9 564.22L280.4 565.15L280.9 566L281.43 566.84L281.96 567.62L282.49 568.34L283.01 568.99L283.53 569.58L284.04 570.1L284.56 570.57L285.07 570.97L285.58 571.3L286.08 571.57L286.59 571.78L287.1 571.92L287.6 572L288.14 572.01L288.67 571.94L289.19 571.8L289.71 571.58L290.22 571.28L290.74 570.91L291.26 570.47L291.78 569.96L292.32 569.37L292.86 568.72L293.42 567.99L294 567.2L294.49 566.47L295.02 565.6L295.58 564.61L296.16 563.54L296.76 562.4L297.36 561.21L297.95 560.01L298.54 558.8L299.11 557.61L299.66 556.47L300.16 555.39L300.63 554.4L301.05 553.53L301.41 552.79L301.7 552.2" fill="none" stroke="#e01ea6" stroke-width="1.2" stroke-linejoin="round"/>
<path d="M339.8 545.7L340.09 545.85L340.44 546.04L340.83 546.25L341.28 546.49L341.76 546.76L342.28 547.04L342.82 547.33L343.39 547.64L343.98 547.95L344.58 548.26L345.18 548.58L345.79 548.89L346.39 549.19L346.98 549.48L347.55 549.75L348.1 550L348.61 550.23L349.13 550.48L349.66 550.73L350.2 551L350.74 551.26L351.29 551.52L351.84 551.78L352.38 552.03L352.93 552.27L353.47 552.49L354 552.7L354.53 552.89L355.05 553.05L355.56 553.19L356.05 553.29L356.54 553.37L357 553.4L357.58 553.42L358.14 553.43L358.67 553.42L359.18 553.39L359.68 553.32L360.17 553.21L360.65 553.04L361.12 552.82L361.6 552.53L362.08 552.16L362.57 551.7L363.08 551.15L363.6 550.5L364.1 549.79L364.6 548.98L365.1 548.08L365.61 547.09L366.13 546.04L366.64 544.93L367.16 543.76L367.68 542.56L368.2 541.32L368.73 540.06L369.25 538.79L369.77 537.51L370.28 536.25L370.8 535L371.31 533.74L371.83 532.42L372.34 531.06L372.86 529.67L373.38 528.25L373.89 526.81L374.41 525.38L374.92 523.94L375.44 522.51L375.95 521.11L376.46 519.74L376.98 518.41L377.49 517.12L378 515.9L378.51 514.7L379.04 513.5L379.56 512.3L380.09 511.12L380.62 509.95L381.14 508.81L381.67 507.71L382.19 506.64L382.7 505.63L383.21 504.68L383.7 503.79L384.18 502.98L384.65 502.24L385.1 501.6L385.7 500.85L386.27 500.26L386.82 499.82L387.34 499.5L387.86 499.28L388.36 499.16L388.86 499.1L389.36 499.11L389.87 499.14L390.4 499.2L390.93 499.26L391.44 499.35L391.96 499.46L392.47 499.64L392.98 499.88L393.51 500.22L394.04 500.66L394.6 501.22L395.19 501.93L395.8 502.8L396.26 503.53L396.73 504.36L397.22 505.27L397.73 506.26L398.24 507.31L398.76 508.42L399.29 509.58L399.82 510.78L400.35 512.01L400.89 513.26L401.42 514.53L401.96 515.79L402.48 517.05L403 518.3L403.51 519.56L404.03 520.87L404.54 522.22L405.06 523.6L405.58 525L406.09 526.42L406.61 527.85L407.12 529.28L407.64 530.7L408.15 532.1L408.66 533.48L409.18 534.83L409.69 536.14L410.2 537.4L410.71 538.64L411.21 539.9L411.7 541.16L412.2 542.42L412.69 543.66L413.18 544.88L413.67 546.07L414.17 547.23L414.67 548.34L415.18 549.39L415.69 550.38L416.22 551.3L416.75 552.15L417.3 552.9L417.79 553.49L418.29 554.02L418.8 554.51L419.31 554.94L419.83 555.32L420.36 555.66L420.89 555.95L421.43 556.21L421.96 556.43L422.5 556.62L423.04 556.78L423.58 556.91L424.11 557.01L424.65 557.09L425.18 557.16L425.7 557.2L426.22 557.21L426.74 557.17L427.26 557.09L427.77 556.97L428.28 556.82L428.8 556.63L429.31 556.42L429.82 556.19L430.34 555.94L430.86 555.68L431.37 555.41L431.89 555.13L432.41 554.86L432.94 554.6L433.47 554.34L434 554.1L434.52 553.87L435.07 553.62L435.64 553.36L436.22 553.08L436.82 552.79L437.42 552.5L438.03 552.2L438.62 551.9L439.21 551.61L439.78 551.32L440.32 551.05L440.84 550.79L441.32 550.54L441.77 550.32L442.16 550.12L442.51 549.94L442.8 549.8" fill="none" stroke="#5c5c5c" stroke-width="1.1" stroke-linejoin="round"/>
<path d="M56.6 637.3V678.1H162.1" fill="none" stroke="#222" stroke-width="1.2"/>
<path d="M56.66 641h1.3v1.3h-1.3zM57.35 641h1.3v1.3h-1.3zM58.89 641h1.3v1.3h-1.3zM59.37 641h1.3v1.3h-1.3zM61.42 641h1.3v1.3h-1.3zM62.9 641h1.3v1.3h-1.3zM63.81 641h1.3v1.3h-1.3zM64.43 641h1.3v1.3h-1.3zM65.87 641h1.3v1.3h-1.3zM66.56 641h1.3v1.3h-1.3zM67.56 641h1.3v1.3h-1.3zM68.46 641h1.3v1.3h-1.3zM69.76 641h1.3v1.3h-1.3zM70.56 641h1.3v1.3h-1.3zM71.77 641h1.3v1.3h-1.3zM72.73 641h1.3v1.3h-1.3zM73.63 641h1.3v1.3h-1.3zM74.42 641h1.3v1.3h-1.3zM75.68 641h1.3v1.3h-1.3zM76.31 641h1.3v1.3h-1.3zM77.85 641h1.3v1.3h-1.3zM78.65 641h1.3v1.3h-1.3zM79.79 641h1.3v1.3h-1.3zM80.68 641h1.3v1.3h-1.3zM81.69 641h1.3v1.3h-1.3zM84.65 641h1.3v1.3h-1.3zM85.85 641h1.3v1.3h-1.3zM86.31 641h1.3v1.3h-1.3zM87.5 641h1.3v1.3h-1.3zM91.4 641h1.3v1.3h-1.3zM105.38 641h1.3v1.3h-1.3zM114.89 641h1.3v1.3h-1.3zM121.47 641h1.3v1.3h-1.3zM124.76 641h1.3v1.3h-1.3zM125.75 641h1.3v1.3h-1.3zM126.35 641h1.3v1.3h-1.3zM127.64 641h1.3v1.3h-1.3zM128.71 641h1.3v1.3h-1.3zM129.66 641h1.3v1.3h-1.3zM130.76 641h1.3v1.3h-1.3zM131.65 641h1.3v1.3h-1.3zM132.33 641h1.3v1.3h-1.3zM133.68 641h1.3v1.3h-1.3zM135.55 641h1.3v1.3h-1.3zM138.51 641h1.3v1.3h-1.3zM139.57 641h1.3v1.3h-1.3zM140.71 641h1.3v1.3h-1.3zM142.72 641h1.3v1.3h-1.3zM144.44 641h1.3v1.3h-1.3zM145.32 641h1.3v1.3h-1.3zM146.59 641h1.3v1.3h-1.3zM147.77 641h1.3v1.3h-1.3zM148.41 641h1.3v1.3h-1.3zM149.67 641h1.3v1.3h-1.3zM150.47 641h1.3v1.3h-1.3zM151.56 641h1.3v1.3h-1.3zM153.66 641h1.3v1.3h-1.3zM154.88 641h1.3v1.3h-1.3zM155.43 641h1.3v1.3h-1.3zM157.71 641h1.3v1.3h-1.3zM158.48 641h1.3v1.3h-1.3zM159.48 641h1.3v1.3h-1.3zM160.32 641h1.3v1.3h-1.3zM161.31 641h1.3v1.3h-1.3zM57.85 642h1.3v1.3h-1.3zM58.64 642h1.3v1.3h-1.3zM59.77 642h1.3v1.3h-1.3zM60.78 642h1.3v1.3h-1.3zM61.38 642h1.3v1.3h-1.3zM62.32 642h1.3v1.3h-1.3zM63.53 642h1.3v1.3h-1.3zM64.9 642h1.3v1.3h-1.3zM65.67 642h1.3v1.3h-1.3zM67.44 642h1.3v1.3h-1.3zM68.86 642h1.3v1.3h-1.3zM69.71 642h1.3v1.3h-1.3zM70.78 642h1.3v1.3h-1.3zM71.77 642h1.3v1.3h-1.3zM72.44 642h1.3v1.3h-1.3zM73.66 642h1.3v1.3h-1.3zM74.51 642h1.3v1.3h-1.3zM75.47 642h1.3v1.3h-1.3zM76.44 642h1.3v1.3h-1.3zM77.75 642h1.3v1.3h-1.3zM78.62 642h1.3v1.3h-1.3zM80.46 642h1.3v1.3h-1.3zM84.6 642h1.3v1.3h-1.3zM85.85 642h1.3v1.3h-1.3zM86.82 642h1.3v1.3h-1.3zM87.39 642h1.3v1.3h-1.3zM90.48 642h1.3v1.3h-1.3zM91.75 642h1.3v1.3h-1.3zM95.36 642h1.3v1.3h-1.3zM96.73 642h1.3v1.3h-1.3zM123.49 642h1.3v1.3h-1.3zM125.54 642h1.3v1.3h-1.3zM127.71 642h1.3v1.3h-1.3zM128.86 642h1.3v1.3h-1.3zM131.58 642h1.3v1.3h-1.3zM132.36 642h1.3v1.3h-1.3zM133.49 642h1.3v1.3h-1.3zM135.32 642h1.3v1.3h-1.3zM136.89 642h1.3v1.3h-1.3zM137.82 642h1.3v1.3h-1.3zM138.77 642h1.3v1.3h-1.3zM139.6 642h1.3v1.3h-1.3zM140.78 642h1.3v1.3h-1.3zM143.86 642h1.3v1.3h-1.3zM144.31 642h1.3v1.3h-1.3zM145.3 642h1.3v1.3h-1.3zM146.42 642h1.3v1.3h-1.3zM148.76 642h1.3v1.3h-1.3zM149.86 642h1.3v1.3h-1.3zM150.47 642h1.3v1.3h-1.3zM151.72 642h1.3v1.3h-1.3zM153.38 642h1.3v1.3h-1.3zM154.59 642h1.3v1.3h-1.3zM155.86 642h1.3v1.3h-1.3zM156.72 642h1.3v1.3h-1.3zM157.62 642h1.3v1.3h-1.3zM158.49 642h1.3v1.3h-1.3zM159.45 642h1.3v1.3h-1.3zM160.44 642h1.3v1.3h-1.3zM161.4 642h1.3v1.3h-1.3zM57.43 643h1.3v1.3h-1.3zM58.52 643h1.3v1.3h-1.3zM59.39 643h1.3v1.3h-1.3zM60.48 643h1.3v1.3h-1.3zM62.59 643h1.3v1.3h-1.3zM63.43 643h1.3v1.3h-1.3zM64.78 643h1.3v1.3h-1.3zM66.49 643h1.3v1.3h-1.3zM67.47 643h1.3v1.3h-1.3zM68.36 643h1.3v1.3h-1.3zM70.7 643h1.3v1.3h-1.3zM71.46 643h1.3v1.3h-1.3zM73.77 643h1.3v1.3h-1.3zM74.79 643h1.3v1.3h-1.3zM75.62 643h1.3v1.3h-1.3zM76.35 643h1.3v1.3h-1.3zM77.84 643h1.3v1.3h-1.3zM78.64 643h1.3v1.3h-1.3zM82.7 643h1.3v1.3h-1.3zM83.87 643h1.3v1.3h-1.3zM84.62 643h1.3v1.3h-1.3zM86.88 643h1.3v1.3h-1.3zM89.74 643h1.3v1.3h-1.3zM95.44 643h1.3v1.3h-1.3zM102.54 643h1.3v1.3h-1.3zM122.89 643h1.3v1.3h-1.3zM127.66 643h1.3v1.3h-1.3zM128.45 643h1.3v1.3h-1.3zM129.37 643h1.3v1.3h-1.3zM130.73 643h1.3v1.3h-1.3zM131.67 643h1.3v1.3h-1.3zM134.58 643h1.3v1.3h-1.3zM135.51 643h1.3v1.3h-1.3zM136.87 643h1.3v1.3h-1.3zM137.81 643h1.3v1.3h-1.3zM138.41 643h1.3v1.3h-1.3zM139.62 643h1.3v1.3h-1.3zM141.84 643h1.3v1.3h-1.3zM142.48 643h1.3v1.3h-1.3zM143.88 643h1.3v1.3h-1.3zM145.73 643h1.3v1.3h-1.3zM146.63 643h1.3v1.3h-1.3zM147.63 643h1.3v1.3h-1.3zM148.7 643h1.3v1.3h-1.3zM149.6 643h1.3v1.3h-1.3zM150.51 643h1.3v1.3h-1.3zM151.73 643h1.3v1.3h-1.3zM152.38 643h1.3v1.3h-1.3zM153.42 643h1.3v1.3h-1.3zM154.74 643h1.3v1.3h-1.3zM155.77 643h1.3v1.3h-1.3zM156.89 643h1.3v1.3h-1.3zM158.48 643h1.3v1.3h-1.3zM160.39 643h1.3v1.3h-1.3zM161.37 643h1.3v1.3h-1.3zM56.46 644h1.3v1.3h-1.3zM57.76 644h1.3v1.3h-1.3zM58.87 644h1.3v1.3h-1.3zM59.53 644h1.3v1.3h-1.3zM60.38 644h1.3v1.3h-1.3zM61.63 644h1.3v1.3h-1.3zM62.64 644h1.3v1.3h-1.3zM63.4 644h1.3v1.3h-1.3zM64.47 644h1.3v1.3h-1.3zM65.46 644h1.3v1.3h-1.3zM66.6 644h1.3v1.3h-1.3zM67.88 644h1.3v1.3h-1.3zM69.58 644h1.3v1.3h-1.3zM70.51 644h1.3v1.3h-1.3zM71.88 644h1.3v1.3h-1.3zM72.86 644h1.3v1.3h-1.3zM73.69 644h1.3v1.3h-1.3zM74.78 644h1.3v1.3h-1.3zM75.32 644h1.3v1.3h-1.3zM76.83 644h1.3v1.3h-1.3zM77.83 644h1.3v1.3h-1.3zM78.35 644h1.3v1.3h-1.3zM79.4 644h1.3v1.3h-1.3zM80.9 644h1.3v1.3h-1.3zM81.71 644h1.3v1.3h-1.3zM82.38 644h1.3v1.3h-1.3zM85.45 644h1.3v1.3h-1.3zM88.33 644h1.3v1.3h-1.3zM89.64 644h1.3v1.3h-1.3zM91.73 644h1.3v1.3h-1.3zM95.59 644h1.3v1.3h-1.3zM109.82 644h1.3v1.3h-1.3zM120.85 644h1.3v1.3h-1.3zM129.79 644h1.3v1.3h-1.3zM130.44 644h1.3v1.3h-1.3zM131.46 644h1.3v1.3h-1.3zM132.79 644h1.3v1.3h-1.3zM134.69 644h1.3v1.3h-1.3zM137.66 644h1.3v1.3h-1.3zM138.31 644h1.3v1.3h-1.3zM139.73 644h1.3v1.3h-1.3zM140.71 644h1.3v1.3h-1.3zM141.42 644h1.3v1.3h-1.3zM142.53 644h1.3v1.3h-1.3zM143.76 644h1.3v1.3h-1.3zM144.37 644h1.3v1.3h-1.3zM145.69 644h1.3v1.3h-1.3zM146.61 644h1.3v1.3h-1.3zM147.82 644h1.3v1.3h-1.3zM148.74 644h1.3v1.3h-1.3zM149.59 644h1.3v1.3h-1.3zM150.49 644h1.3v1.3h-1.3zM151.46 644h1.3v1.3h-1.3zM152.59 644h1.3v1.3h-1.3zM153.38 644h1.3v1.3h-1.3zM154.77 644h1.3v1.3h-1.3zM155.77 644h1.3v1.3h-1.3zM158.61 644h1.3v1.3h-1.3zM159.63 644h1.3v1.3h-1.3zM161.64 644h1.3v1.3h-1.3zM56.48 645h1.3v1.3h-1.3zM57.86 645h1.3v1.3h-1.3zM58.59 645h1.3v1.3h-1.3zM59.72 645h1.3v1.3h-1.3zM60.45 645h1.3v1.3h-1.3zM61.73 645h1.3v1.3h-1.3zM62.9 645h1.3v1.3h-1.3zM65.42 645h1.3v1.3h-1.3zM66.69 645h1.3v1.3h-1.3zM67.53 645h1.3v1.3h-1.3zM68.89 645h1.3v1.3h-1.3zM69.78 645h1.3v1.3h-1.3zM70.73 645h1.3v1.3h-1.3zM71.61 645h1.3v1.3h-1.3zM72.72 645h1.3v1.3h-1.3zM73.86 645h1.3v1.3h-1.3zM75.35 645h1.3v1.3h-1.3zM76.56 645h1.3v1.3h-1.3zM77.89 645h1.3v1.3h-1.3zM78.73 645h1.3v1.3h-1.3zM80.5 645h1.3v1.3h-1.3zM81.46 645h1.3v1.3h-1.3zM82.44 645h1.3v1.3h-1.3zM83.71 645h1.3v1.3h-1.3zM85.86 645h1.3v1.3h-1.3zM87.58 645h1.3v1.3h-1.3zM88.77 645h1.3v1.3h-1.3zM91.87 645h1.3v1.3h-1.3zM97.63 645h1.3v1.3h-1.3zM110.4 645h1.3v1.3h-1.3zM125.71 645h1.3v1.3h-1.3zM126.52 645h1.3v1.3h-1.3zM127.33 645h1.3v1.3h-1.3zM129.66 645h1.3v1.3h-1.3zM130.61 645h1.3v1.3h-1.3zM132.52 645h1.3v1.3h-1.3zM134.78 645h1.3v1.3h-1.3zM136.44 645h1.3v1.3h-1.3zM137.72 645h1.3v1.3h-1.3zM138.44 645h1.3v1.3h-1.3zM139.76 645h1.3v1.3h-1.3zM140.49 645h1.3v1.3h-1.3zM141.72 645h1.3v1.3h-1.3zM142.66 645h1.3v1.3h-1.3zM143.48 645h1.3v1.3h-1.3zM144.61 645h1.3v1.3h-1.3zM145.31 645h1.3v1.3h-1.3zM146.58 645h1.3v1.3h-1.3zM147.58 645h1.3v1.3h-1.3zM149.59 645h1.3v1.3h-1.3zM152.58 645h1.3v1.3h-1.3zM153.49 645h1.3v1.3h-1.3zM155.58 645h1.3v1.3h-1.3zM156.81 645h1.3v1.3h-1.3zM157.86 645h1.3v1.3h-1.3zM158.85 645h1.3v1.3h-1.3zM159.56 645h1.3v1.3h-1.3zM160.57 645h1.3v1.3h-1.3zM56.76 646h1.3v1.3h-1.3zM57.74 646h1.3v1.3h-1.3zM58.87 646h1.3v1.3h-1.3zM59.76 646h1.3v1.3h-1.3zM60.9 646h1.3v1.3h-1.3zM61.73 646h1.3v1.3h-1.3zM63.62 646h1.3v1.3h-1.3zM64.67 646h1.3v1.3h-1.3zM65.54 646h1.3v1.3h-1.3zM66.38 646h1.3v1.3h-1.3zM67.39 646h1.3v1.3h-1.3zM68.64 646h1.3v1.3h-1.3zM69.61 646h1.3v1.3h-1.3zM70.72 646h1.3v1.3h-1.3zM73.3 646h1.3v1.3h-1.3zM75.83 646h1.3v1.3h-1.3zM76.68 646h1.3v1.3h-1.3zM77.33 646h1.3v1.3h-1.3zM78.57 646h1.3v1.3h-1.3zM79.67 646h1.3v1.3h-1.3zM81.8 646h1.3v1.3h-1.3zM82.89 646h1.3v1.3h-1.3zM85.57 646h1.3v1.3h-1.3zM86.62 646h1.3v1.3h-1.3zM94.72 646h1.3v1.3h-1.3zM96.52 646h1.3v1.3h-1.3zM101.68 646h1.3v1.3h-1.3zM128.76 646h1.3v1.3h-1.3zM129.63 646h1.3v1.3h-1.3zM130.81 646h1.3v1.3h-1.3zM132.36 646h1.3v1.3h-1.3zM133.53 646h1.3v1.3h-1.3zM134.42 646h1.3v1.3h-1.3zM135.4 646h1.3v1.3h-1.3zM136.72 646h1.3v1.3h-1.3zM137.64 646h1.3v1.3h-1.3zM138.3 646h1.3v1.3h-1.3zM139.86 646h1.3v1.3h-1.3zM141.4 646h1.3v1.3h-1.3zM142.37 646h1.3v1.3h-1.3zM144.64 646h1.3v1.3h-1.3zM145.9 646h1.3v1.3h-1.3zM147.87 646h1.3v1.3h-1.3zM148.74 646h1.3v1.3h-1.3zM149.32 646h1.3v1.3h-1.3zM150.45 646h1.3v1.3h-1.3zM151.67 646h1.3v1.3h-1.3zM152.48 646h1.3v1.3h-1.3zM153.52 646h1.3v1.3h-1.3zM154.7 646h1.3v1.3h-1.3zM155.61 646h1.3v1.3h-1.3zM156.33 646h1.3v1.3h-1.3zM157.8 646h1.3v1.3h-1.3zM158.51 646h1.3v1.3h-1.3zM159.72 646h1.3v1.3h-1.3zM160.71 646h1.3v1.3h-1.3zM161.66 646h1.3v1.3h-1.3zM57.88 647h1.3v1.3h-1.3zM58.52 647h1.3v1.3h-1.3zM60.32 647h1.3v1.3h-1.3zM62.83 647h1.3v1.3h-1.3zM63.48 647h1.3v1.3h-1.3zM64.56 647h1.3v1.3h-1.3zM65.72 647h1.3v1.3h-1.3zM66.5 647h1.3v1.3h-1.3zM67.54 647h1.3v1.3h-1.3zM68.62 647h1.3v1.3h-1.3zM69.43 647h1.3v1.3h-1.3zM71.73 647h1.3v1.3h-1.3zM72.33 647h1.3v1.3h-1.3zM74.44 647h1.3v1.3h-1.3zM76.51 647h1.3v1.3h-1.3zM77.79 647h1.3v1.3h-1.3zM79.67 647h1.3v1.3h-1.3zM81.53 647h1.3v1.3h-1.3zM82.84 647h1.3v1.3h-1.3zM83.49 647h1.3v1.3h-1.3zM84.66 647h1.3v1.3h-1.3zM86.78 647h1.3v1.3h-1.3zM88.71 647h1.3v1.3h-1.3zM91.35 647h1.3v1.3h-1.3zM92.42 647h1.3v1.3h-1.3zM114.65 647h1.3v1.3h-1.3zM124.8 647h1.3v1.3h-1.3zM125.46 647h1.3v1.3h-1.3zM126.82 647h1.3v1.3h-1.3zM129.65 647h1.3v1.3h-1.3zM130.5 647h1.3v1.3h-1.3zM132.61 647h1.3v1.3h-1.3zM133.81 647h1.3v1.3h-1.3zM134.55 647h1.3v1.3h-1.3zM135.86 647h1.3v1.3h-1.3zM137.4 647h1.3v1.3h-1.3zM138.32 647h1.3v1.3h-1.3zM139.84 647h1.3v1.3h-1.3zM140.81 647h1.3v1.3h-1.3zM142.61 647h1.3v1.3h-1.3zM144.41 647h1.3v1.3h-1.3zM145.36 647h1.3v1.3h-1.3zM146.31 647h1.3v1.3h-1.3zM147.78 647h1.3v1.3h-1.3zM148.41 647h1.3v1.3h-1.3zM149.52 647h1.3v1.3h-1.3zM150.48 647h1.3v1.3h-1.3zM152.38 647h1.3v1.3h-1.3zM153.86 647h1.3v1.3h-1.3zM154.43 647h1.3v1.3h-1.3zM155.32 647h1.3v1.3h-1.3zM159.86 647h1.3v1.3h-1.3zM161.71 647h1.3v1.3h-1.3zM56.42 648h1.3v1.3h-1.3zM58.83 648h1.3v1.3h-1.3zM61.55 648h1.3v1.3h-1.3zM62.76 648h1.3v1.3h-1.3zM63.71 648h1.3v1.3h-1.3zM64.72 648h1.3v1.3h-1.3zM65.62 648h1.3v1.3h-1.3zM68.83 648h1.3v1.3h-1.3zM69.38 648h1.3v1.3h-1.3zM71.79 648h1.3v1.3h-1.3zM73.74 648h1.3v1.3h-1.3zM74.41 648h1.3v1.3h-1.3zM75.79 648h1.3v1.3h-1.3zM77.6 648h1.3v1.3h-1.3zM78.41 648h1.3v1.3h-1.3zM79.38 648h1.3v1.3h-1.3zM80.66 648h1.3v1.3h-1.3zM81.58 648h1.3v1.3h-1.3zM83.56 648h1.3v1.3h-1.3zM84.87 648h1.3v1.3h-1.3zM85.58 648h1.3v1.3h-1.3zM87.61 648h1.3v1.3h-1.3zM90.87 648h1.3v1.3h-1.3zM92.64 648h1.3v1.3h-1.3zM94.52 648h1.3v1.3h-1.3zM124.4 648h1.3v1.3h-1.3zM127.86 648h1.3v1.3h-1.3zM128.87 648h1.3v1.3h-1.3zM131.44 648h1.3v1.3h-1.3zM132.65 648h1.3v1.3h-1.3zM133.83 648h1.3v1.3h-1.3zM134.32 648h1.3v1.3h-1.3zM135.58 648h1.3v1.3h-1.3zM137.55 648h1.3v1.3h-1.3zM138.81 648h1.3v1.3h-1.3zM139.78 648h1.3v1.3h-1.3zM140.53 648h1.3v1.3h-1.3zM141.59 648h1.3v1.3h-1.3zM142.48 648h1.3v1.3h-1.3zM143.84 648h1.3v1.3h-1.3zM144.34 648h1.3v1.3h-1.3zM145.35 648h1.3v1.3h-1.3zM146.34 648h1.3v1.3h-1.3zM148.68 648h1.3v1.3h-1.3zM149.31 648h1.3v1.3h-1.3zM151.32 648h1.3v1.3h-1.3zM152.6 648h1.3v1.3h-1.3zM154.8 648h1.3v1.3h-1.3zM155.61 648h1.3v1.3h-1.3zM156.48 648h1.3v1.3h-1.3zM157.34 648h1.3v1.3h-1.3zM158.32 648h1.3v1.3h-1.3zM159.85 648h1.3v1.3h-1.3zM160.48 648h1.3v1.3h-1.3zM161.48 648h1.3v1.3h-1.3zM56.52 649h1.3v1.3h-1.3zM57.56 649h1.3v1.3h-1.3zM58.62 649h1.3v1.3h-1.3zM59.77 649h1.3v1.3h-1.3zM61.77 649h1.3v1.3h-1.3zM62.8 649h1.3v1.3h-1.3zM63.68 649h1.3v1.3h-1.3zM65.83 649h1.3v1.3h-1.3zM66.37 649h1.3v1.3h-1.3zM68.54 649h1.3v1.3h-1.3zM69.54 649h1.3v1.3h-1.3zM71.71 649h1.3v1.3h-1.3zM72.67 649h1.3v1.3h-1.3zM73.38 649h1.3v1.3h-1.3zM74.47 649h1.3v1.3h-1.3zM75.53 649h1.3v1.3h-1.3zM76.53 649h1.3v1.3h-1.3zM77.59 649h1.3v1.3h-1.3zM78.39 649h1.3v1.3h-1.3zM79.53 649h1.3v1.3h-1.3zM80.67 649h1.3v1.3h-1.3zM81.46 649h1.3v1.3h-1.3zM82.81 649h1.3v1.3h-1.3zM83.31 649h1.3v1.3h-1.3zM84.43 649h1.3v1.3h-1.3zM85.85 649h1.3v1.3h-1.3zM86.42 649h1.3v1.3h-1.3zM87.44 649h1.3v1.3h-1.3zM88.6 649h1.3v1.3h-1.3zM94.79 649h1.3v1.3h-1.3zM106.65 649h1.3v1.3h-1.3zM122.62 649h1.3v1.3h-1.3zM124.7 649h1.3v1.3h-1.3zM126.49 649h1.3v1.3h-1.3zM129.54 649h1.3v1.3h-1.3zM130.77 649h1.3v1.3h-1.3zM131.82 649h1.3v1.3h-1.3zM132.49 649h1.3v1.3h-1.3zM134.56 649h1.3v1.3h-1.3zM135.54 649h1.3v1.3h-1.3zM136.77 649h1.3v1.3h-1.3zM137.5 649h1.3v1.3h-1.3zM138.41 649h1.3v1.3h-1.3zM139.33 649h1.3v1.3h-1.3zM140.63 649h1.3v1.3h-1.3zM141.71 649h1.3v1.3h-1.3zM142.68 649h1.3v1.3h-1.3zM143.76 649h1.3v1.3h-1.3zM144.69 649h1.3v1.3h-1.3zM145.37 649h1.3v1.3h-1.3zM146.83 649h1.3v1.3h-1.3zM147.36 649h1.3v1.3h-1.3zM148.58 649h1.3v1.3h-1.3zM149.45 649h1.3v1.3h-1.3zM150.39 649h1.3v1.3h-1.3zM151.35 649h1.3v1.3h-1.3zM152.68 649h1.3v1.3h-1.3zM153.84 649h1.3v1.3h-1.3zM155.65 649h1.3v1.3h-1.3zM156.63 649h1.3v1.3h-1.3zM157.67 649h1.3v1.3h-1.3zM158.37 649h1.3v1.3h-1.3zM159.42 649h1.3v1.3h-1.3zM160.86 649h1.3v1.3h-1.3zM161.73 649h1.3v1.3h-1.3zM56.82 650h1.3v1.3h-1.3zM57.37 650h1.3v1.3h-1.3zM58.41 650h1.3v1.3h-1.3zM59.43 650h1.3v1.3h-1.3zM62.68 650h1.3v1.3h-1.3zM63.63 650h1.3v1.3h-1.3zM65.57 650h1.3v1.3h-1.3zM66.35 650h1.3v1.3h-1.3zM67.37 650h1.3v1.3h-1.3zM69.37 650h1.3v1.3h-1.3zM70.88 650h1.3v1.3h-1.3zM71.49 650h1.3v1.3h-1.3zM72.87 650h1.3v1.3h-1.3zM73.54 650h1.3v1.3h-1.3zM74.45 650h1.3v1.3h-1.3zM75.87 650h1.3v1.3h-1.3zM76.3 650h1.3v1.3h-1.3zM77.34 650h1.3v1.3h-1.3zM78.66 650h1.3v1.3h-1.3zM80.4 650h1.3v1.3h-1.3zM82.33 650h1.3v1.3h-1.3zM83.88 650h1.3v1.3h-1.3zM86.77 650h1.3v1.3h-1.3zM87.81 650h1.3v1.3h-1.3zM88.5 650h1.3v1.3h-1.3zM116.83 650h1.3v1.3h-1.3zM127.9 650h1.3v1.3h-1.3zM128.64 650h1.3v1.3h-1.3zM129.51 650h1.3v1.3h-1.3zM130.32 650h1.3v1.3h-1.3zM132.42 650h1.3v1.3h-1.3zM133.72 650h1.3v1.3h-1.3zM134.31 650h1.3v1.3h-1.3zM136.51 650h1.3v1.3h-1.3zM137.39 650h1.3v1.3h-1.3zM138.52 650h1.3v1.3h-1.3zM139.7 650h1.3v1.3h-1.3zM141.35 650h1.3v1.3h-1.3zM142.68 650h1.3v1.3h-1.3zM143.86 650h1.3v1.3h-1.3zM144.82 650h1.3v1.3h-1.3zM145.9 650h1.3v1.3h-1.3zM146.4 650h1.3v1.3h-1.3zM147.46 650h1.3v1.3h-1.3zM148.65 650h1.3v1.3h-1.3zM150.71 650h1.3v1.3h-1.3zM151.8 650h1.3v1.3h-1.3zM152.3 650h1.3v1.3h-1.3zM154.54 650h1.3v1.3h-1.3zM155.8 650h1.3v1.3h-1.3zM156.84 650h1.3v1.3h-1.3zM158.79 650h1.3v1.3h-1.3zM159.89 650h1.3v1.3h-1.3zM160.6 650h1.3v1.3h-1.3zM161.31 650h1.3v1.3h-1.3zM56.78 651h1.3v1.3h-1.3zM57.87 651h1.3v1.3h-1.3zM58.9 651h1.3v1.3h-1.3zM59.46 651h1.3v1.3h-1.3zM60.38 651h1.3v1.3h-1.3zM61.47 651h1.3v1.3h-1.3zM62.38 651h1.3v1.3h-1.3zM63.63 651h1.3v1.3h-1.3zM64.78 651h1.3v1.3h-1.3zM65.46 651h1.3v1.3h-1.3zM67.55 651h1.3v1.3h-1.3zM68.32 651h1.3v1.3h-1.3zM69.88 651h1.3v1.3h-1.3zM71.33 651h1.3v1.3h-1.3zM73.66 651h1.3v1.3h-1.3zM74.32 651h1.3v1.3h-1.3zM75.73 651h1.3v1.3h-1.3zM76.69 651h1.3v1.3h-1.3zM77.71 651h1.3v1.3h-1.3zM78.64 651h1.3v1.3h-1.3zM79.63 651h1.3v1.3h-1.3zM80.78 651h1.3v1.3h-1.3zM82.33 651h1.3v1.3h-1.3zM83.67 651h1.3v1.3h-1.3zM84.32 651h1.3v1.3h-1.3zM86.47 651h1.3v1.3h-1.3zM87.37 651h1.3v1.3h-1.3zM88.31 651h1.3v1.3h-1.3zM96.51 651h1.3v1.3h-1.3zM106.83 651h1.3v1.3h-1.3zM123.49 651h1.3v1.3h-1.3zM126.61 651h1.3v1.3h-1.3zM127.66 651h1.3v1.3h-1.3zM128.52 651h1.3v1.3h-1.3zM129.72 651h1.3v1.3h-1.3zM131.32 651h1.3v1.3h-1.3zM132.44 651h1.3v1.3h-1.3zM134.49 651h1.3v1.3h-1.3zM136.38 651h1.3v1.3h-1.3zM137.63 651h1.3v1.3h-1.3zM138.64 651h1.3v1.3h-1.3zM139.47 651h1.3v1.3h-1.3zM140.31 651h1.3v1.3h-1.3zM141.85 651h1.3v1.3h-1.3zM143.61 651h1.3v1.3h-1.3zM144.48 651h1.3v1.3h-1.3zM145.56 651h1.3v1.3h-1.3zM146.37 651h1.3v1.3h-1.3zM147.46 651h1.3v1.3h-1.3zM148.81 651h1.3v1.3h-1.3zM149.57 651h1.3v1.3h-1.3zM150.85 651h1.3v1.3h-1.3zM151.4 651h1.3v1.3h-1.3zM153.77 651h1.3v1.3h-1.3zM154.87 651h1.3v1.3h-1.3zM156.62 651h1.3v1.3h-1.3zM157.83 651h1.3v1.3h-1.3zM158.81 651h1.3v1.3h-1.3zM159.59 651h1.3v1.3h-1.3zM160.75 651h1.3v1.3h-1.3zM161.51 651h1.3v1.3h-1.3zM56.56 652h1.3v1.3h-1.3zM57.57 652h1.3v1.3h-1.3zM58.58 652h1.3v1.3h-1.3zM60.47 652h1.3v1.3h-1.3zM61.88 652h1.3v1.3h-1.3zM62.42 652h1.3v1.3h-1.3zM63.48 652h1.3v1.3h-1.3zM65.47 652h1.3v1.3h-1.3zM66.58 652h1.3v1.3h-1.3zM67.41 652h1.3v1.3h-1.3zM68.77 652h1.3v1.3h-1.3zM72.57 652h1.3v1.3h-1.3zM73.84 652h1.3v1.3h-1.3zM76.39 652h1.3v1.3h-1.3zM77.67 652h1.3v1.3h-1.3zM79.4 652h1.3v1.3h-1.3zM80.37 652h1.3v1.3h-1.3zM81.89 652h1.3v1.3h-1.3zM82.79 652h1.3v1.3h-1.3zM83.38 652h1.3v1.3h-1.3zM86.65 652h1.3v1.3h-1.3zM88.52 652h1.3v1.3h-1.3zM89.54 652h1.3v1.3h-1.3zM91.87 652h1.3v1.3h-1.3zM93.63 652h1.3v1.3h-1.3zM97.72 652h1.3v1.3h-1.3zM98.79 652h1.3v1.3h-1.3zM125.69 652h1.3v1.3h-1.3zM130.6 652h1.3v1.3h-1.3zM131.44 652h1.3v1.3h-1.3zM132.68 652h1.3v1.3h-1.3zM133.32 652h1.3v1.3h-1.3zM134.84 652h1.3v1.3h-1.3zM137.44 652h1.3v1.3h-1.3zM139.42 652h1.3v1.3h-1.3zM141.83 652h1.3v1.3h-1.3zM142.7 652h1.3v1.3h-1.3zM143.68 652h1.3v1.3h-1.3zM146.87 652h1.3v1.3h-1.3zM147.3 652h1.3v1.3h-1.3zM149.77 652h1.3v1.3h-1.3zM150.87 652h1.3v1.3h-1.3zM151.88 652h1.3v1.3h-1.3zM152.82 652h1.3v1.3h-1.3zM153.88 652h1.3v1.3h-1.3zM154.32 652h1.3v1.3h-1.3zM155.85 652h1.3v1.3h-1.3zM157.36 652h1.3v1.3h-1.3zM158.54 652h1.3v1.3h-1.3zM160.44 652h1.3v1.3h-1.3zM161.82 652h1.3v1.3h-1.3zM56.73 653h1.3v1.3h-1.3zM58.68 653h1.3v1.3h-1.3zM59.77 653h1.3v1.3h-1.3zM60.35 653h1.3v1.3h-1.3zM61.34 653h1.3v1.3h-1.3zM62.74 653h1.3v1.3h-1.3zM63.35 653h1.3v1.3h-1.3zM64.54 653h1.3v1.3h-1.3zM67.46 653h1.3v1.3h-1.3zM68.74 653h1.3v1.3h-1.3zM69.77 653h1.3v1.3h-1.3zM70.67 653h1.3v1.3h-1.3zM71.66 653h1.3v1.3h-1.3zM72.41 653h1.3v1.3h-1.3zM73.89 653h1.3v1.3h-1.3zM74.45 653h1.3v1.3h-1.3zM75.84 653h1.3v1.3h-1.3zM76.88 653h1.3v1.3h-1.3zM77.72 653h1.3v1.3h-1.3zM78.37 653h1.3v1.3h-1.3zM79.48 653h1.3v1.3h-1.3zM83.62 653h1.3v1.3h-1.3zM85.67 653h1.3v1.3h-1.3zM86.71 653h1.3v1.3h-1.3zM87.86 653h1.3v1.3h-1.3zM89.54 653h1.3v1.3h-1.3zM90.48 653h1.3v1.3h-1.3zM93.36 653h1.3v1.3h-1.3zM94.74 653h1.3v1.3h-1.3zM119.4 653h1.3v1.3h-1.3zM126.6 653h1.3v1.3h-1.3zM128.58 653h1.3v1.3h-1.3zM130.82 653h1.3v1.3h-1.3zM131.87 653h1.3v1.3h-1.3zM132.67 653h1.3v1.3h-1.3zM133.79 653h1.3v1.3h-1.3zM134.72 653h1.3v1.3h-1.3zM136.65 653h1.3v1.3h-1.3zM137.42 653h1.3v1.3h-1.3zM138.56 653h1.3v1.3h-1.3zM139.63 653h1.3v1.3h-1.3zM140.49 653h1.3v1.3h-1.3zM141.8 653h1.3v1.3h-1.3zM142.78 653h1.3v1.3h-1.3zM143.82 653h1.3v1.3h-1.3zM144.56 653h1.3v1.3h-1.3zM145.42 653h1.3v1.3h-1.3zM146.53 653h1.3v1.3h-1.3zM147.37 653h1.3v1.3h-1.3zM148.37 653h1.3v1.3h-1.3zM151.49 653h1.3v1.3h-1.3zM152.63 653h1.3v1.3h-1.3zM153.8 653h1.3v1.3h-1.3zM155.82 653h1.3v1.3h-1.3zM156.42 653h1.3v1.3h-1.3zM157.45 653h1.3v1.3h-1.3zM158.73 653h1.3v1.3h-1.3zM159.7 653h1.3v1.3h-1.3zM160.87 653h1.3v1.3h-1.3zM161.38 653h1.3v1.3h-1.3zM56.6 654h1.3v1.3h-1.3zM57.48 654h1.3v1.3h-1.3zM58.78 654h1.3v1.3h-1.3zM59.58 654h1.3v1.3h-1.3zM60.37 654h1.3v1.3h-1.3zM61.88 654h1.3v1.3h-1.3zM63.33 654h1.3v1.3h-1.3zM64.57 654h1.3v1.3h-1.3zM65.35 654h1.3v1.3h-1.3zM66.71 654h1.3v1.3h-1.3zM67.8 654h1.3v1.3h-1.3zM69.57 654h1.3v1.3h-1.3zM70.4 654h1.3v1.3h-1.3zM71.88 654h1.3v1.3h-1.3zM72.51 654h1.3v1.3h-1.3zM73.86 654h1.3v1.3h-1.3zM74.56 654h1.3v1.3h-1.3zM75.65 654h1.3v1.3h-1.3zM76.73 654h1.3v1.3h-1.3zM77.35 654h1.3v1.3h-1.3zM79.48 654h1.3v1.3h-1.3zM80.51 654h1.3v1.3h-1.3zM82.6 654h1.3v1.3h-1.3zM83.39 654h1.3v1.3h-1.3zM86.34 654h1.3v1.3h-1.3zM91.82 654h1.3v1.3h-1.3zM96.45 654h1.3v1.3h-1.3zM97.81 654h1.3v1.3h-1.3zM126.59 654h1.3v1.3h-1.3zM127.53 654h1.3v1.3h-1.3zM130.52 654h1.3v1.3h-1.3zM131.57 654h1.3v1.3h-1.3zM132.69 654h1.3v1.3h-1.3zM133.69 654h1.3v1.3h-1.3zM134.37 654h1.3v1.3h-1.3zM136.63 654h1.3v1.3h-1.3zM137.47 654h1.3v1.3h-1.3zM138.9 654h1.3v1.3h-1.3zM139.6 654h1.3v1.3h-1.3zM140.5 654h1.3v1.3h-1.3zM141.4 654h1.3v1.3h-1.3zM142.69 654h1.3v1.3h-1.3zM143.38 654h1.3v1.3h-1.3zM144.34 654h1.3v1.3h-1.3zM146.62 654h1.3v1.3h-1.3zM148.56 654h1.3v1.3h-1.3zM149.48 654h1.3v1.3h-1.3zM150.84 654h1.3v1.3h-1.3zM152.76 654h1.3v1.3h-1.3zM153.88 654h1.3v1.3h-1.3zM156.51 654h1.3v1.3h-1.3zM158.32 654h1.3v1.3h-1.3zM159.31 654h1.3v1.3h-1.3zM160.41 654h1.3v1.3h-1.3zM161.85 654h1.3v1.3h-1.3zM56.46 655h1.3v1.3h-1.3zM58.62 655h1.3v1.3h-1.3zM60.57 655h1.3v1.3h-1.3zM61.81 655h1.3v1.3h-1.3zM62.89 655h1.3v1.3h-1.3zM63.48 655h1.3v1.3h-1.3zM64.63 655h1.3v1.3h-1.3zM65.74 655h1.3v1.3h-1.3zM66.63 655h1.3v1.3h-1.3zM67.35 655h1.3v1.3h-1.3zM69.39 655h1.3v1.3h-1.3zM71.87 655h1.3v1.3h-1.3zM72.79 655h1.3v1.3h-1.3zM73.68 655h1.3v1.3h-1.3zM74.85 655h1.3v1.3h-1.3zM75.38 655h1.3v1.3h-1.3zM76.62 655h1.3v1.3h-1.3zM77.66 655h1.3v1.3h-1.3zM78.36 655h1.3v1.3h-1.3zM80.41 655h1.3v1.3h-1.3zM81.82 655h1.3v1.3h-1.3zM82.71 655h1.3v1.3h-1.3zM83.59 655h1.3v1.3h-1.3zM84.69 655h1.3v1.3h-1.3zM86.76 655h1.3v1.3h-1.3zM87.35 655h1.3v1.3h-1.3zM89.79 655h1.3v1.3h-1.3zM93.62 655h1.3v1.3h-1.3zM106.68 655h1.3v1.3h-1.3zM123.64 655h1.3v1.3h-1.3zM127.67 655h1.3v1.3h-1.3zM128.71 655h1.3v1.3h-1.3zM129.69 655h1.3v1.3h-1.3zM130.32 655h1.3v1.3h-1.3zM131.81 655h1.3v1.3h-1.3zM132.59 655h1.3v1.3h-1.3zM133.6 655h1.3v1.3h-1.3zM134.7 655h1.3v1.3h-1.3zM135.6 655h1.3v1.3h-1.3zM137.34 655h1.3v1.3h-1.3zM138.53 655h1.3v1.3h-1.3zM139.42 655h1.3v1.3h-1.3zM141.75 655h1.3v1.3h-1.3zM142.36 655h1.3v1.3h-1.3zM143.53 655h1.3v1.3h-1.3zM144.66 655h1.3v1.3h-1.3zM146.87 655h1.3v1.3h-1.3zM147.54 655h1.3v1.3h-1.3zM148.68 655h1.3v1.3h-1.3zM150.3 655h1.3v1.3h-1.3zM151.43 655h1.3v1.3h-1.3zM152.62 655h1.3v1.3h-1.3zM153.57 655h1.3v1.3h-1.3zM155.32 655h1.3v1.3h-1.3zM156.85 655h1.3v1.3h-1.3zM157.89 655h1.3v1.3h-1.3zM158.79 655h1.3v1.3h-1.3zM159.4 655h1.3v1.3h-1.3zM160.55 655h1.3v1.3h-1.3zM161.4 655h1.3v1.3h-1.3zM58.83 656h1.3v1.3h-1.3zM59.67 656h1.3v1.3h-1.3zM60.8 656h1.3v1.3h-1.3zM61.78 656h1.3v1.3h-1.3zM62.71 656h1.3v1.3h-1.3zM63.58 656h1.3v1.3h-1.3zM64.51 656h1.3v1.3h-1.3zM65.8 656h1.3v1.3h-1.3zM66.67 656h1.3v1.3h-1.3zM68.7 656h1.3v1.3h-1.3zM70.47 656h1.3v1.3h-1.3zM72.76 656h1.3v1.3h-1.3zM73.5 656h1.3v1.3h-1.3zM74.43 656h1.3v1.3h-1.3zM75.61 656h1.3v1.3h-1.3zM76.47 656h1.3v1.3h-1.3zM77.63 656h1.3v1.3h-1.3zM78.89 656h1.3v1.3h-1.3zM80.54 656h1.3v1.3h-1.3zM81.58 656h1.3v1.3h-1.3zM83.46 656h1.3v1.3h-1.3zM84.37 656h1.3v1.3h-1.3zM85.39 656h1.3v1.3h-1.3zM86.32 656h1.3v1.3h-1.3zM88.53 656h1.3v1.3h-1.3zM89.52 656h1.3v1.3h-1.3zM91.88 656h1.3v1.3h-1.3zM92.41 656h1.3v1.3h-1.3zM105.33 656h1.3v1.3h-1.3zM125.51 656h1.3v1.3h-1.3zM126.6 656h1.3v1.3h-1.3zM131.59 656h1.3v1.3h-1.3zM132.47 656h1.3v1.3h-1.3zM133.55 656h1.3v1.3h-1.3zM134.87 656h1.3v1.3h-1.3zM135.88 656h1.3v1.3h-1.3zM136.45 656h1.3v1.3h-1.3zM137.82 656h1.3v1.3h-1.3zM139.85 656h1.3v1.3h-1.3zM140.31 656h1.3v1.3h-1.3zM141.71 656h1.3v1.3h-1.3zM142.71 656h1.3v1.3h-1.3zM143.69 656h1.3v1.3h-1.3zM144.7 656h1.3v1.3h-1.3zM145.45 656h1.3v1.3h-1.3zM146.78 656h1.3v1.3h-1.3zM147.76 656h1.3v1.3h-1.3zM148.65 656h1.3v1.3h-1.3zM149.79 656h1.3v1.3h-1.3zM151.34 656h1.3v1.3h-1.3zM152.72 656h1.3v1.3h-1.3zM153.64 656h1.3v1.3h-1.3zM156.46 656h1.3v1.3h-1.3zM157.53 656h1.3v1.3h-1.3zM161.72 656h1.3v1.3h-1.3zM56.31 657h1.3v1.3h-1.3zM57.35 657h1.3v1.3h-1.3zM58.66 657h1.3v1.3h-1.3zM60.44 657h1.3v1.3h-1.3zM61.77 657h1.3v1.3h-1.3zM64.34 657h1.3v1.3h-1.3zM65.55 657h1.3v1.3h-1.3zM66.77 657h1.3v1.3h-1.3zM67.77 657h1.3v1.3h-1.3zM69.5 657h1.3v1.3h-1.3zM70.62 657h1.3v1.3h-1.3zM72.75 657h1.3v1.3h-1.3zM73.89 657h1.3v1.3h-1.3zM74.5 657h1.3v1.3h-1.3zM75.85 657h1.3v1.3h-1.3zM77.77 657h1.3v1.3h-1.3zM78.6 657h1.3v1.3h-1.3zM79.59 657h1.3v1.3h-1.3zM81.72 657h1.3v1.3h-1.3zM88.57 657h1.3v1.3h-1.3zM89.62 657h1.3v1.3h-1.3zM128.85 657h1.3v1.3h-1.3zM131.64 657h1.3v1.3h-1.3zM132.59 657h1.3v1.3h-1.3zM133.75 657h1.3v1.3h-1.3zM134.87 657h1.3v1.3h-1.3zM135.3 657h1.3v1.3h-1.3zM137.71 657h1.3v1.3h-1.3zM138.55 657h1.3v1.3h-1.3zM139.32 657h1.3v1.3h-1.3zM140.87 657h1.3v1.3h-1.3zM141.39 657h1.3v1.3h-1.3zM142.42 657h1.3v1.3h-1.3zM143.45 657h1.3v1.3h-1.3zM144.63 657h1.3v1.3h-1.3zM145.73 657h1.3v1.3h-1.3zM146.87 657h1.3v1.3h-1.3zM147.44 657h1.3v1.3h-1.3zM149.83 657h1.3v1.3h-1.3zM150.76 657h1.3v1.3h-1.3zM151.47 657h1.3v1.3h-1.3zM152.55 657h1.3v1.3h-1.3zM153.47 657h1.3v1.3h-1.3zM154.34 657h1.3v1.3h-1.3zM156.51 657h1.3v1.3h-1.3zM157.57 657h1.3v1.3h-1.3zM158.71 657h1.3v1.3h-1.3zM159.51 657h1.3v1.3h-1.3zM160.52 657h1.3v1.3h-1.3zM161.6 657h1.3v1.3h-1.3zM57.49 658h1.3v1.3h-1.3zM58.89 658h1.3v1.3h-1.3zM59.82 658h1.3v1.3h-1.3zM60.73 658h1.3v1.3h-1.3zM62.49 658h1.3v1.3h-1.3zM64.71 658h1.3v1.3h-1.3zM65.51 658h1.3v1.3h-1.3zM66.58 658h1.3v1.3h-1.3zM67.87 658h1.3v1.3h-1.3zM68.86 658h1.3v1.3h-1.3zM70.59 658h1.3v1.3h-1.3zM72.69 658h1.3v1.3h-1.3zM73.87 658h1.3v1.3h-1.3zM74.9 658h1.3v1.3h-1.3zM76.87 658h1.3v1.3h-1.3zM77.71 658h1.3v1.3h-1.3zM78.71 658h1.3v1.3h-1.3zM79.42 658h1.3v1.3h-1.3zM80.88 658h1.3v1.3h-1.3zM81.71 658h1.3v1.3h-1.3zM82.71 658h1.3v1.3h-1.3zM84.9 658h1.3v1.3h-1.3zM85.34 658h1.3v1.3h-1.3zM86.69 658h1.3v1.3h-1.3zM87.83 658h1.3v1.3h-1.3zM89.53 658h1.3v1.3h-1.3zM90.83 658h1.3v1.3h-1.3zM96.86 658h1.3v1.3h-1.3zM97.52 658h1.3v1.3h-1.3zM102.43 658h1.3v1.3h-1.3zM104.71 658h1.3v1.3h-1.3zM105.32 658h1.3v1.3h-1.3zM109.5 658h1.3v1.3h-1.3zM126.62 658h1.3v1.3h-1.3zM128.45 658h1.3v1.3h-1.3zM129.41 658h1.3v1.3h-1.3zM130.9 658h1.3v1.3h-1.3zM131.71 658h1.3v1.3h-1.3zM132.61 658h1.3v1.3h-1.3zM133.41 658h1.3v1.3h-1.3zM134.62 658h1.3v1.3h-1.3zM135.69 658h1.3v1.3h-1.3zM136.82 658h1.3v1.3h-1.3zM137.5 658h1.3v1.3h-1.3zM139.89 658h1.3v1.3h-1.3zM140.82 658h1.3v1.3h-1.3zM141.33 658h1.3v1.3h-1.3zM142.63 658h1.3v1.3h-1.3zM144.72 658h1.3v1.3h-1.3zM145.69 658h1.3v1.3h-1.3zM146.43 658h1.3v1.3h-1.3zM148.48 658h1.3v1.3h-1.3zM149.41 658h1.3v1.3h-1.3zM150.34 658h1.3v1.3h-1.3zM151.51 658h1.3v1.3h-1.3zM152.34 658h1.3v1.3h-1.3zM153.72 658h1.3v1.3h-1.3zM154.74 658h1.3v1.3h-1.3zM156.41 658h1.3v1.3h-1.3zM157.33 658h1.3v1.3h-1.3zM158.51 658h1.3v1.3h-1.3zM159.57 658h1.3v1.3h-1.3zM160.69 658h1.3v1.3h-1.3zM161.39 658h1.3v1.3h-1.3zM56.5 659h1.3v1.3h-1.3zM57.84 659h1.3v1.3h-1.3zM58.69 659h1.3v1.3h-1.3zM59.48 659h1.3v1.3h-1.3zM60.5 659h1.3v1.3h-1.3zM61.43 659h1.3v1.3h-1.3zM62.77 659h1.3v1.3h-1.3zM63.82 659h1.3v1.3h-1.3zM65.32 659h1.3v1.3h-1.3zM66.51 659h1.3v1.3h-1.3zM67.32 659h1.3v1.3h-1.3zM68.43 659h1.3v1.3h-1.3zM69.87 659h1.3v1.3h-1.3zM72.45 659h1.3v1.3h-1.3zM73.77 659h1.3v1.3h-1.3zM74.78 659h1.3v1.3h-1.3zM75.88 659h1.3v1.3h-1.3zM76.35 659h1.3v1.3h-1.3zM77.69 659h1.3v1.3h-1.3zM78.46 659h1.3v1.3h-1.3zM79.77 659h1.3v1.3h-1.3zM81.61 659h1.3v1.3h-1.3zM84.51 659h1.3v1.3h-1.3zM86.69 659h1.3v1.3h-1.3zM90.46 659h1.3v1.3h-1.3zM98.83 659h1.3v1.3h-1.3zM113.32 659h1.3v1.3h-1.3zM125.34 659h1.3v1.3h-1.3zM127.77 659h1.3v1.3h-1.3zM129.74 659h1.3v1.3h-1.3zM130.56 659h1.3v1.3h-1.3zM131.86 659h1.3v1.3h-1.3zM132.32 659h1.3v1.3h-1.3zM133.32 659h1.3v1.3h-1.3zM134.37 659h1.3v1.3h-1.3zM135.8 659h1.3v1.3h-1.3zM136.77 659h1.3v1.3h-1.3zM137.83 659h1.3v1.3h-1.3zM138.7 659h1.3v1.3h-1.3zM139.43 659h1.3v1.3h-1.3zM140.61 659h1.3v1.3h-1.3zM141.68 659h1.3v1.3h-1.3zM143.82 659h1.3v1.3h-1.3zM144.72 659h1.3v1.3h-1.3zM145.38 659h1.3v1.3h-1.3zM146.49 659h1.3v1.3h-1.3zM147.46 659h1.3v1.3h-1.3zM148.8 659h1.3v1.3h-1.3zM149.44 659h1.3v1.3h-1.3zM151.35 659h1.3v1.3h-1.3zM153.71 659h1.3v1.3h-1.3zM154.41 659h1.3v1.3h-1.3zM155.85 659h1.3v1.3h-1.3zM156.46 659h1.3v1.3h-1.3zM159.81 659h1.3v1.3h-1.3zM160.76 659h1.3v1.3h-1.3zM161.35 659h1.3v1.3h-1.3zM56.54 660h1.3v1.3h-1.3zM57.62 660h1.3v1.3h-1.3zM60.8 660h1.3v1.3h-1.3zM61.79 660h1.3v1.3h-1.3zM62.72 660h1.3v1.3h-1.3zM64.85 660h1.3v1.3h-1.3zM65.58 660h1.3v1.3h-1.3zM66.41 660h1.3v1.3h-1.3zM67.66 660h1.3v1.3h-1.3zM68.48 660h1.3v1.3h-1.3zM69.77 660h1.3v1.3h-1.3zM70.78 660h1.3v1.3h-1.3zM71.72 660h1.3v1.3h-1.3zM72.84 660h1.3v1.3h-1.3zM74.75 660h1.3v1.3h-1.3zM75.57 660h1.3v1.3h-1.3zM77.38 660h1.3v1.3h-1.3zM78.47 660h1.3v1.3h-1.3zM80.39 660h1.3v1.3h-1.3zM81.64 660h1.3v1.3h-1.3zM82.71 660h1.3v1.3h-1.3zM85.32 660h1.3v1.3h-1.3zM91.87 660h1.3v1.3h-1.3zM93.53 660h1.3v1.3h-1.3zM123.84 660h1.3v1.3h-1.3zM126.85 660h1.3v1.3h-1.3zM127.81 660h1.3v1.3h-1.3zM131.69 660h1.3v1.3h-1.3zM135.83 660h1.3v1.3h-1.3zM136.52 660h1.3v1.3h-1.3zM137.73 660h1.3v1.3h-1.3zM138.63 660h1.3v1.3h-1.3zM139.65 660h1.3v1.3h-1.3zM140.44 660h1.3v1.3h-1.3zM141.86 660h1.3v1.3h-1.3zM142.59 660h1.3v1.3h-1.3zM143.31 660h1.3v1.3h-1.3zM144.65 660h1.3v1.3h-1.3zM145.56 660h1.3v1.3h-1.3zM146.77 660h1.3v1.3h-1.3zM147.88 660h1.3v1.3h-1.3zM148.71 660h1.3v1.3h-1.3zM150.49 660h1.3v1.3h-1.3zM151.49 660h1.3v1.3h-1.3zM152.63 660h1.3v1.3h-1.3zM153.81 660h1.3v1.3h-1.3zM155.3 660h1.3v1.3h-1.3zM156.45 660h1.3v1.3h-1.3zM157.47 660h1.3v1.3h-1.3zM158.65 660h1.3v1.3h-1.3zM159.5 660h1.3v1.3h-1.3zM160.7 660h1.3v1.3h-1.3zM161.82 660h1.3v1.3h-1.3zM57.43 661h1.3v1.3h-1.3zM58.51 661h1.3v1.3h-1.3zM59.35 661h1.3v1.3h-1.3zM60.85 661h1.3v1.3h-1.3zM62.72 661h1.3v1.3h-1.3zM63.52 661h1.3v1.3h-1.3zM66.42 661h1.3v1.3h-1.3zM67.36 661h1.3v1.3h-1.3zM68.86 661h1.3v1.3h-1.3zM69.5 661h1.3v1.3h-1.3zM70.88 661h1.3v1.3h-1.3zM72.86 661h1.3v1.3h-1.3zM73.76 661h1.3v1.3h-1.3zM74.76 661h1.3v1.3h-1.3zM75.47 661h1.3v1.3h-1.3zM76.72 661h1.3v1.3h-1.3zM77.74 661h1.3v1.3h-1.3zM78.8 661h1.3v1.3h-1.3zM79.6 661h1.3v1.3h-1.3zM80.75 661h1.3v1.3h-1.3zM81.84 661h1.3v1.3h-1.3zM83.6 661h1.3v1.3h-1.3zM86.47 661h1.3v1.3h-1.3zM87.83 661h1.3v1.3h-1.3zM94.77 661h1.3v1.3h-1.3zM97.34 661h1.3v1.3h-1.3zM103.82 661h1.3v1.3h-1.3zM116.33 661h1.3v1.3h-1.3zM124.67 661h1.3v1.3h-1.3zM127.72 661h1.3v1.3h-1.3zM128.74 661h1.3v1.3h-1.3zM129.56 661h1.3v1.3h-1.3zM130.47 661h1.3v1.3h-1.3zM131.62 661h1.3v1.3h-1.3zM132.45 661h1.3v1.3h-1.3zM133.76 661h1.3v1.3h-1.3zM134.72 661h1.3v1.3h-1.3zM135.63 661h1.3v1.3h-1.3zM136.6 661h1.3v1.3h-1.3zM137.57 661h1.3v1.3h-1.3zM138.69 661h1.3v1.3h-1.3zM140.87 661h1.3v1.3h-1.3zM141.45 661h1.3v1.3h-1.3zM142.63 661h1.3v1.3h-1.3zM143.75 661h1.3v1.3h-1.3zM144.32 661h1.3v1.3h-1.3zM145.8 661h1.3v1.3h-1.3zM147.84 661h1.3v1.3h-1.3zM148.38 661h1.3v1.3h-1.3zM150.62 661h1.3v1.3h-1.3zM152.65 661h1.3v1.3h-1.3zM154.54 661h1.3v1.3h-1.3zM155.3 661h1.3v1.3h-1.3zM156.57 661h1.3v1.3h-1.3zM157.7 661h1.3v1.3h-1.3zM158.56 661h1.3v1.3h-1.3zM159.51 661h1.3v1.3h-1.3zM160.54 661h1.3v1.3h-1.3zM161.5 661h1.3v1.3h-1.3zM56.79 662h1.3v1.3h-1.3zM57.6 662h1.3v1.3h-1.3zM58.79 662h1.3v1.3h-1.3zM59.66 662h1.3v1.3h-1.3zM61.7 662h1.3v1.3h-1.3zM62.84 662h1.3v1.3h-1.3zM64.83 662h1.3v1.3h-1.3zM65.74 662h1.3v1.3h-1.3zM66.54 662h1.3v1.3h-1.3zM67.3 662h1.3v1.3h-1.3zM68.46 662h1.3v1.3h-1.3zM69.62 662h1.3v1.3h-1.3zM72.86 662h1.3v1.3h-1.3zM73.7 662h1.3v1.3h-1.3zM78.71 662h1.3v1.3h-1.3zM79.85 662h1.3v1.3h-1.3zM80.42 662h1.3v1.3h-1.3zM81.74 662h1.3v1.3h-1.3zM82.72 662h1.3v1.3h-1.3zM83.8 662h1.3v1.3h-1.3zM84.52 662h1.3v1.3h-1.3zM85.71 662h1.3v1.3h-1.3zM86.74 662h1.3v1.3h-1.3zM87.35 662h1.3v1.3h-1.3zM89.52 662h1.3v1.3h-1.3zM92.84 662h1.3v1.3h-1.3zM94.34 662h1.3v1.3h-1.3zM123.58 662h1.3v1.3h-1.3zM125.8 662h1.3v1.3h-1.3zM126.87 662h1.3v1.3h-1.3zM129.32 662h1.3v1.3h-1.3zM130.58 662h1.3v1.3h-1.3zM131.71 662h1.3v1.3h-1.3zM132.58 662h1.3v1.3h-1.3zM133.6 662h1.3v1.3h-1.3zM134.81 662h1.3v1.3h-1.3zM135.34 662h1.3v1.3h-1.3zM136.47 662h1.3v1.3h-1.3zM137.47 662h1.3v1.3h-1.3zM139.39 662h1.3v1.3h-1.3zM140.36 662h1.3v1.3h-1.3zM142.86 662h1.3v1.3h-1.3zM143.37 662h1.3v1.3h-1.3zM144.48 662h1.3v1.3h-1.3zM145.49 662h1.3v1.3h-1.3zM146.61 662h1.3v1.3h-1.3zM147.62 662h1.3v1.3h-1.3zM148.84 662h1.3v1.3h-1.3zM149.31 662h1.3v1.3h-1.3zM151.33 662h1.3v1.3h-1.3zM152.69 662h1.3v1.3h-1.3zM153.4 662h1.3v1.3h-1.3zM154.78 662h1.3v1.3h-1.3zM155.5 662h1.3v1.3h-1.3zM156.56 662h1.3v1.3h-1.3zM157.9 662h1.3v1.3h-1.3zM158.67 662h1.3v1.3h-1.3zM159.42 662h1.3v1.3h-1.3zM160.58 662h1.3v1.3h-1.3zM161.89 662h1.3v1.3h-1.3zM56.61 663h1.3v1.3h-1.3zM58.88 663h1.3v1.3h-1.3zM59.5 663h1.3v1.3h-1.3zM60.87 663h1.3v1.3h-1.3zM61.38 663h1.3v1.3h-1.3zM64.7 663h1.3v1.3h-1.3zM65.38 663h1.3v1.3h-1.3zM66.72 663h1.3v1.3h-1.3zM69.89 663h1.3v1.3h-1.3zM70.38 663h1.3v1.3h-1.3zM71.85 663h1.3v1.3h-1.3zM72.5 663h1.3v1.3h-1.3zM73.77 663h1.3v1.3h-1.3zM74.34 663h1.3v1.3h-1.3zM75.55 663h1.3v1.3h-1.3zM76.9 663h1.3v1.3h-1.3zM77.45 663h1.3v1.3h-1.3zM79.46 663h1.3v1.3h-1.3zM80.59 663h1.3v1.3h-1.3zM82.55 663h1.3v1.3h-1.3zM84.48 663h1.3v1.3h-1.3zM85.75 663h1.3v1.3h-1.3zM87.54 663h1.3v1.3h-1.3zM90.84 663h1.3v1.3h-1.3zM94.67 663h1.3v1.3h-1.3zM98.76 663h1.3v1.3h-1.3zM110.65 663h1.3v1.3h-1.3zM122.84 663h1.3v1.3h-1.3zM125.35 663h1.3v1.3h-1.3zM126.87 663h1.3v1.3h-1.3zM128.38 663h1.3v1.3h-1.3zM129.41 663h1.3v1.3h-1.3zM130.59 663h1.3v1.3h-1.3zM132.79 663h1.3v1.3h-1.3zM133.38 663h1.3v1.3h-1.3zM134.64 663h1.3v1.3h-1.3zM135.81 663h1.3v1.3h-1.3zM136.8 663h1.3v1.3h-1.3zM137.49 663h1.3v1.3h-1.3zM138.37 663h1.3v1.3h-1.3zM139.81 663h1.3v1.3h-1.3zM140.87 663h1.3v1.3h-1.3zM141.38 663h1.3v1.3h-1.3zM142.74 663h1.3v1.3h-1.3zM143.84 663h1.3v1.3h-1.3zM144.52 663h1.3v1.3h-1.3zM145.68 663h1.3v1.3h-1.3zM146.71 663h1.3v1.3h-1.3zM147.84 663h1.3v1.3h-1.3zM149.43 663h1.3v1.3h-1.3zM151.72 663h1.3v1.3h-1.3zM152.78 663h1.3v1.3h-1.3zM153.5 663h1.3v1.3h-1.3zM154.49 663h1.3v1.3h-1.3zM155.64 663h1.3v1.3h-1.3zM156.71 663h1.3v1.3h-1.3zM157.86 663h1.3v1.3h-1.3zM158.43 663h1.3v1.3h-1.3zM159.85 663h1.3v1.3h-1.3zM160.59 663h1.3v1.3h-1.3zM161.88 663h1.3v1.3h-1.3zM56.81 664h1.3v1.3h-1.3zM57.51 664h1.3v1.3h-1.3zM58.58 664h1.3v1.3h-1.3zM59.63 664h1.3v1.3h-1.3zM61.78 664h1.3v1.3h-1.3zM62.33 664h1.3v1.3h-1.3zM63.66 664h1.3v1.3h-1.3zM64.56 664h1.3v1.3h-1.3zM66.64 664h1.3v1.3h-1.3zM67.36 664h1.3v1.3h-1.3zM68.86 664h1.3v1.3h-1.3zM69.4 664h1.3v1.3h-1.3zM71.48 664h1.3v1.3h-1.3zM72.74 664h1.3v1.3h-1.3zM73.56 664h1.3v1.3h-1.3zM74.67 664h1.3v1.3h-1.3zM75.47 664h1.3v1.3h-1.3zM76.73 664h1.3v1.3h-1.3zM77.72 664h1.3v1.3h-1.3zM78.73 664h1.3v1.3h-1.3zM79.57 664h1.3v1.3h-1.3zM80.8 664h1.3v1.3h-1.3zM81.73 664h1.3v1.3h-1.3zM82.44 664h1.3v1.3h-1.3zM84.66 664h1.3v1.3h-1.3zM86.75 664h1.3v1.3h-1.3zM87.56 664h1.3v1.3h-1.3zM89.86 664h1.3v1.3h-1.3zM123.61 664h1.3v1.3h-1.3zM125.45 664h1.3v1.3h-1.3zM127.75 664h1.3v1.3h-1.3zM128.5 664h1.3v1.3h-1.3zM129.78 664h1.3v1.3h-1.3zM130.58 664h1.3v1.3h-1.3zM131.39 664h1.3v1.3h-1.3zM132.61 664h1.3v1.3h-1.3zM133.48 664h1.3v1.3h-1.3zM134.8 664h1.3v1.3h-1.3zM135.68 664h1.3v1.3h-1.3zM136.82 664h1.3v1.3h-1.3zM138.42 664h1.3v1.3h-1.3zM139.74 664h1.3v1.3h-1.3zM140.79 664h1.3v1.3h-1.3zM141.41 664h1.3v1.3h-1.3zM142.39 664h1.3v1.3h-1.3zM143.51 664h1.3v1.3h-1.3zM144.35 664h1.3v1.3h-1.3zM145.73 664h1.3v1.3h-1.3zM146.38 664h1.3v1.3h-1.3zM147.64 664h1.3v1.3h-1.3zM148.59 664h1.3v1.3h-1.3zM150.67 664h1.3v1.3h-1.3zM151.85 664h1.3v1.3h-1.3zM152.68 664h1.3v1.3h-1.3zM154.86 664h1.3v1.3h-1.3zM155.87 664h1.3v1.3h-1.3zM157.86 664h1.3v1.3h-1.3zM158.61 664h1.3v1.3h-1.3zM159.85 664h1.3v1.3h-1.3zM160.47 664h1.3v1.3h-1.3zM161.44 664h1.3v1.3h-1.3zM56.85 665h1.3v1.3h-1.3zM57.78 665h1.3v1.3h-1.3zM58.62 665h1.3v1.3h-1.3zM59.35 665h1.3v1.3h-1.3zM60.48 665h1.3v1.3h-1.3zM61.79 665h1.3v1.3h-1.3zM62.8 665h1.3v1.3h-1.3zM63.72 665h1.3v1.3h-1.3zM64.76 665h1.3v1.3h-1.3zM65.34 665h1.3v1.3h-1.3zM66.38 665h1.3v1.3h-1.3zM67.31 665h1.3v1.3h-1.3zM69.61 665h1.3v1.3h-1.3zM70.85 665h1.3v1.3h-1.3zM71.75 665h1.3v1.3h-1.3zM72.46 665h1.3v1.3h-1.3zM73.4 665h1.3v1.3h-1.3zM74.31 665h1.3v1.3h-1.3zM76.47 665h1.3v1.3h-1.3zM77.88 665h1.3v1.3h-1.3zM78.52 665h1.3v1.3h-1.3zM79.71 665h1.3v1.3h-1.3zM80.42 665h1.3v1.3h-1.3zM81.86 665h1.3v1.3h-1.3zM83.38 665h1.3v1.3h-1.3zM84.65 665h1.3v1.3h-1.3zM85.68 665h1.3v1.3h-1.3zM86.7 665h1.3v1.3h-1.3zM88.82 665h1.3v1.3h-1.3zM89.31 665h1.3v1.3h-1.3zM90.73 665h1.3v1.3h-1.3zM91.65 665h1.3v1.3h-1.3zM93.82 665h1.3v1.3h-1.3zM96.6 665h1.3v1.3h-1.3zM108.33 665h1.3v1.3h-1.3zM118.51 665h1.3v1.3h-1.3zM128.73 665h1.3v1.3h-1.3zM129.6 665h1.3v1.3h-1.3zM130.85 665h1.3v1.3h-1.3zM131.64 665h1.3v1.3h-1.3zM133.79 665h1.3v1.3h-1.3zM134.83 665h1.3v1.3h-1.3zM136.51 665h1.3v1.3h-1.3zM137.56 665h1.3v1.3h-1.3zM138.65 665h1.3v1.3h-1.3zM139.58 665h1.3v1.3h-1.3zM140.35 665h1.3v1.3h-1.3zM141.59 665h1.3v1.3h-1.3zM142.32 665h1.3v1.3h-1.3zM143.73 665h1.3v1.3h-1.3zM144.32 665h1.3v1.3h-1.3zM145.44 665h1.3v1.3h-1.3zM147.77 665h1.3v1.3h-1.3zM148.66 665h1.3v1.3h-1.3zM149.65 665h1.3v1.3h-1.3zM150.51 665h1.3v1.3h-1.3zM151.74 665h1.3v1.3h-1.3zM152.66 665h1.3v1.3h-1.3zM153.5 665h1.3v1.3h-1.3zM154.7 665h1.3v1.3h-1.3zM155.57 665h1.3v1.3h-1.3zM156.45 665h1.3v1.3h-1.3zM157.81 665h1.3v1.3h-1.3zM158.54 665h1.3v1.3h-1.3zM159.55 665h1.3v1.3h-1.3zM160.41 665h1.3v1.3h-1.3zM161.37 665h1.3v1.3h-1.3zM56.8 666h1.3v1.3h-1.3zM57.67 666h1.3v1.3h-1.3zM58.52 666h1.3v1.3h-1.3zM59.85 666h1.3v1.3h-1.3zM60.8 666h1.3v1.3h-1.3zM61.65 666h1.3v1.3h-1.3zM62.83 666h1.3v1.3h-1.3zM63.78 666h1.3v1.3h-1.3zM64.31 666h1.3v1.3h-1.3zM65.61 666h1.3v1.3h-1.3zM68.31 666h1.3v1.3h-1.3zM69.4 666h1.3v1.3h-1.3zM70.4 666h1.3v1.3h-1.3zM71.35 666h1.3v1.3h-1.3zM72.36 666h1.3v1.3h-1.3zM73.47 666h1.3v1.3h-1.3zM74.78 666h1.3v1.3h-1.3zM75.82 666h1.3v1.3h-1.3zM76.86 666h1.3v1.3h-1.3zM77.88 666h1.3v1.3h-1.3zM78.39 666h1.3v1.3h-1.3zM79.64 666h1.3v1.3h-1.3zM80.82 666h1.3v1.3h-1.3zM81.48 666h1.3v1.3h-1.3zM82.35 666h1.3v1.3h-1.3zM83.83 666h1.3v1.3h-1.3zM84.61 666h1.3v1.3h-1.3zM85.77 666h1.3v1.3h-1.3zM90.75 666h1.3v1.3h-1.3zM91.46 666h1.3v1.3h-1.3zM92.34 666h1.3v1.3h-1.3zM118.43 666h1.3v1.3h-1.3zM123.87 666h1.3v1.3h-1.3zM125.4 666h1.3v1.3h-1.3zM129.73 666h1.3v1.3h-1.3zM131.41 666h1.3v1.3h-1.3zM132.62 666h1.3v1.3h-1.3zM135.71 666h1.3v1.3h-1.3zM136.55 666h1.3v1.3h-1.3zM137.47 666h1.3v1.3h-1.3zM138.69 666h1.3v1.3h-1.3zM139.74 666h1.3v1.3h-1.3zM140.7 666h1.3v1.3h-1.3zM142.81 666h1.3v1.3h-1.3zM143.77 666h1.3v1.3h-1.3zM144.59 666h1.3v1.3h-1.3zM146.83 666h1.3v1.3h-1.3zM147.67 666h1.3v1.3h-1.3zM148.65 666h1.3v1.3h-1.3zM149.86 666h1.3v1.3h-1.3zM150.67 666h1.3v1.3h-1.3zM153.55 666h1.3v1.3h-1.3zM155.66 666h1.3v1.3h-1.3zM156.51 666h1.3v1.3h-1.3zM158.62 666h1.3v1.3h-1.3zM159.55 666h1.3v1.3h-1.3zM160.67 666h1.3v1.3h-1.3zM161.83 666h1.3v1.3h-1.3zM56.39 667h1.3v1.3h-1.3zM57.63 667h1.3v1.3h-1.3zM59.42 667h1.3v1.3h-1.3zM61.78 667h1.3v1.3h-1.3zM63.53 667h1.3v1.3h-1.3zM64.56 667h1.3v1.3h-1.3zM65.37 667h1.3v1.3h-1.3zM66.4 667h1.3v1.3h-1.3zM67.43 667h1.3v1.3h-1.3zM68.39 667h1.3v1.3h-1.3zM69.64 667h1.3v1.3h-1.3zM70.86 667h1.3v1.3h-1.3zM71.67 667h1.3v1.3h-1.3zM72.71 667h1.3v1.3h-1.3zM76.9 667h1.3v1.3h-1.3zM77.37 667h1.3v1.3h-1.3zM78.75 667h1.3v1.3h-1.3zM79.85 667h1.3v1.3h-1.3zM80.75 667h1.3v1.3h-1.3zM82.5 667h1.3v1.3h-1.3zM83.57 667h1.3v1.3h-1.3zM87.86 667h1.3v1.3h-1.3zM90.31 667h1.3v1.3h-1.3zM91.67 667h1.3v1.3h-1.3zM93.88 667h1.3v1.3h-1.3zM94.67 667h1.3v1.3h-1.3zM95.83 667h1.3v1.3h-1.3zM97.57 667h1.3v1.3h-1.3zM109.79 667h1.3v1.3h-1.3zM117.45 667h1.3v1.3h-1.3zM126.44 667h1.3v1.3h-1.3zM127.47 667h1.3v1.3h-1.3zM128.74 667h1.3v1.3h-1.3zM130.34 667h1.3v1.3h-1.3zM131.36 667h1.3v1.3h-1.3zM132.52 667h1.3v1.3h-1.3zM134.71 667h1.3v1.3h-1.3zM135.48 667h1.3v1.3h-1.3zM136.43 667h1.3v1.3h-1.3zM137.51 667h1.3v1.3h-1.3zM138.44 667h1.3v1.3h-1.3zM139.59 667h1.3v1.3h-1.3zM140.5 667h1.3v1.3h-1.3zM141.44 667h1.3v1.3h-1.3zM142.57 667h1.3v1.3h-1.3zM143.75 667h1.3v1.3h-1.3zM144.5 667h1.3v1.3h-1.3zM145.9 667h1.3v1.3h-1.3zM146.43 667h1.3v1.3h-1.3zM147.46 667h1.3v1.3h-1.3zM149.53 667h1.3v1.3h-1.3zM150.32 667h1.3v1.3h-1.3zM151.39 667h1.3v1.3h-1.3zM152.32 667h1.3v1.3h-1.3zM153.51 667h1.3v1.3h-1.3zM154.32 667h1.3v1.3h-1.3zM155.31 667h1.3v1.3h-1.3zM157.47 667h1.3v1.3h-1.3zM158.65 667h1.3v1.3h-1.3zM160.86 667h1.3v1.3h-1.3zM56.78 668h1.3v1.3h-1.3zM57.88 668h1.3v1.3h-1.3zM58.87 668h1.3v1.3h-1.3zM59.89 668h1.3v1.3h-1.3zM60.59 668h1.3v1.3h-1.3zM62.33 668h1.3v1.3h-1.3zM65.89 668h1.3v1.3h-1.3zM66.41 668h1.3v1.3h-1.3zM67.84 668h1.3v1.3h-1.3zM68.72 668h1.3v1.3h-1.3zM69.76 668h1.3v1.3h-1.3zM70.82 668h1.3v1.3h-1.3zM71.6 668h1.3v1.3h-1.3zM72.66 668h1.3v1.3h-1.3zM73.34 668h1.3v1.3h-1.3zM75.34 668h1.3v1.3h-1.3zM76.65 668h1.3v1.3h-1.3zM77.62 668h1.3v1.3h-1.3zM78.65 668h1.3v1.3h-1.3zM79.37 668h1.3v1.3h-1.3zM80.85 668h1.3v1.3h-1.3zM82.53 668h1.3v1.3h-1.3zM83.34 668h1.3v1.3h-1.3zM84.69 668h1.3v1.3h-1.3zM85.79 668h1.3v1.3h-1.3zM87.49 668h1.3v1.3h-1.3zM88.85 668h1.3v1.3h-1.3zM89.32 668h1.3v1.3h-1.3zM92.81 668h1.3v1.3h-1.3zM94.5 668h1.3v1.3h-1.3zM97.45 668h1.3v1.3h-1.3zM113.85 668h1.3v1.3h-1.3zM123.3 668h1.3v1.3h-1.3zM125.9 668h1.3v1.3h-1.3zM127.67 668h1.3v1.3h-1.3zM129.41 668h1.3v1.3h-1.3zM130.79 668h1.3v1.3h-1.3zM132.48 668h1.3v1.3h-1.3zM133.35 668h1.3v1.3h-1.3zM134.66 668h1.3v1.3h-1.3zM135.33 668h1.3v1.3h-1.3zM137.9 668h1.3v1.3h-1.3zM138.33 668h1.3v1.3h-1.3zM139.58 668h1.3v1.3h-1.3zM140.75 668h1.3v1.3h-1.3zM141.57 668h1.3v1.3h-1.3zM143.83 668h1.3v1.3h-1.3zM144.79 668h1.3v1.3h-1.3zM145.55 668h1.3v1.3h-1.3zM146.54 668h1.3v1.3h-1.3zM147.52 668h1.3v1.3h-1.3zM149.54 668h1.3v1.3h-1.3zM150.36 668h1.3v1.3h-1.3zM151.39 668h1.3v1.3h-1.3zM152.77 668h1.3v1.3h-1.3zM153.38 668h1.3v1.3h-1.3zM154.75 668h1.3v1.3h-1.3zM156.35 668h1.3v1.3h-1.3zM158.41 668h1.3v1.3h-1.3zM159.49 668h1.3v1.3h-1.3zM160.74 668h1.3v1.3h-1.3zM161.78 668h1.3v1.3h-1.3zM56.75 669h1.3v1.3h-1.3zM57.63 669h1.3v1.3h-1.3zM58.69 669h1.3v1.3h-1.3zM59.36 669h1.3v1.3h-1.3zM60.46 669h1.3v1.3h-1.3zM62.44 669h1.3v1.3h-1.3zM64.6 669h1.3v1.3h-1.3zM65.54 669h1.3v1.3h-1.3zM66.78 669h1.3v1.3h-1.3zM67.49 669h1.3v1.3h-1.3zM68.7 669h1.3v1.3h-1.3zM69.77 669h1.3v1.3h-1.3zM70.37 669h1.3v1.3h-1.3zM71.78 669h1.3v1.3h-1.3zM74.32 669h1.3v1.3h-1.3zM75.43 669h1.3v1.3h-1.3zM76.79 669h1.3v1.3h-1.3zM78.88 669h1.3v1.3h-1.3zM79.35 669h1.3v1.3h-1.3zM80.44 669h1.3v1.3h-1.3zM81.53 669h1.3v1.3h-1.3zM83.7 669h1.3v1.3h-1.3zM84.84 669h1.3v1.3h-1.3zM86.32 669h1.3v1.3h-1.3zM87.54 669h1.3v1.3h-1.3zM88.45 669h1.3v1.3h-1.3zM89.54 669h1.3v1.3h-1.3zM95.36 669h1.3v1.3h-1.3zM122.67 669h1.3v1.3h-1.3zM123.42 669h1.3v1.3h-1.3zM125.82 669h1.3v1.3h-1.3zM127.66 669h1.3v1.3h-1.3zM128.35 669h1.3v1.3h-1.3zM129.57 669h1.3v1.3h-1.3zM130.58 669h1.3v1.3h-1.3zM131.76 669h1.3v1.3h-1.3zM132.65 669h1.3v1.3h-1.3zM133.38 669h1.3v1.3h-1.3zM134.37 669h1.3v1.3h-1.3zM135.38 669h1.3v1.3h-1.3zM136.61 669h1.3v1.3h-1.3zM137.79 669h1.3v1.3h-1.3zM138.39 669h1.3v1.3h-1.3zM139.54 669h1.3v1.3h-1.3zM140.34 669h1.3v1.3h-1.3zM141.77 669h1.3v1.3h-1.3zM142.54 669h1.3v1.3h-1.3zM143.69 669h1.3v1.3h-1.3zM144.6 669h1.3v1.3h-1.3zM145.8 669h1.3v1.3h-1.3zM146.66 669h1.3v1.3h-1.3zM147.47 669h1.3v1.3h-1.3zM148.69 669h1.3v1.3h-1.3zM150.35 669h1.3v1.3h-1.3zM151.64 669h1.3v1.3h-1.3zM152.56 669h1.3v1.3h-1.3zM153.48 669h1.3v1.3h-1.3zM155.36 669h1.3v1.3h-1.3zM156.5 669h1.3v1.3h-1.3zM157.48 669h1.3v1.3h-1.3zM158.49 669h1.3v1.3h-1.3zM159.89 669h1.3v1.3h-1.3zM161.38 669h1.3v1.3h-1.3zM56.34 670h1.3v1.3h-1.3zM57.42 670h1.3v1.3h-1.3zM58.39 670h1.3v1.3h-1.3zM61.52 670h1.3v1.3h-1.3zM62.46 670h1.3v1.3h-1.3zM63.85 670h1.3v1.3h-1.3zM64.69 670h1.3v1.3h-1.3zM65.32 670h1.3v1.3h-1.3zM66.64 670h1.3v1.3h-1.3zM67.88 670h1.3v1.3h-1.3zM68.37 670h1.3v1.3h-1.3zM69.83 670h1.3v1.3h-1.3zM70.37 670h1.3v1.3h-1.3zM71.37 670h1.3v1.3h-1.3zM72.41 670h1.3v1.3h-1.3zM73.83 670h1.3v1.3h-1.3zM74.62 670h1.3v1.3h-1.3zM75.42 670h1.3v1.3h-1.3zM76.89 670h1.3v1.3h-1.3zM77.51 670h1.3v1.3h-1.3zM79.38 670h1.3v1.3h-1.3zM80.56 670h1.3v1.3h-1.3zM81.86 670h1.3v1.3h-1.3zM83.55 670h1.3v1.3h-1.3zM85.53 670h1.3v1.3h-1.3zM86.59 670h1.3v1.3h-1.3zM87.47 670h1.3v1.3h-1.3zM89.68 670h1.3v1.3h-1.3zM90.52 670h1.3v1.3h-1.3zM92.7 670h1.3v1.3h-1.3zM95.9 670h1.3v1.3h-1.3zM128.55 670h1.3v1.3h-1.3zM130.39 670h1.3v1.3h-1.3zM132.32 670h1.3v1.3h-1.3zM133.43 670h1.3v1.3h-1.3zM134.73 670h1.3v1.3h-1.3zM135.74 670h1.3v1.3h-1.3zM136.64 670h1.3v1.3h-1.3zM137.69 670h1.3v1.3h-1.3zM138.87 670h1.3v1.3h-1.3zM139.67 670h1.3v1.3h-1.3zM140.65 670h1.3v1.3h-1.3zM141.41 670h1.3v1.3h-1.3zM142.61 670h1.3v1.3h-1.3zM143.63 670h1.3v1.3h-1.3zM144.7 670h1.3v1.3h-1.3zM145.59 670h1.3v1.3h-1.3zM146.8 670h1.3v1.3h-1.3zM147.58 670h1.3v1.3h-1.3zM148.62 670h1.3v1.3h-1.3zM149.55 670h1.3v1.3h-1.3zM150.57 670h1.3v1.3h-1.3zM151.41 670h1.3v1.3h-1.3zM153.32 670h1.3v1.3h-1.3zM154.86 670h1.3v1.3h-1.3zM155.83 670h1.3v1.3h-1.3zM156.45 670h1.3v1.3h-1.3zM157.42 670h1.3v1.3h-1.3zM158.87 670h1.3v1.3h-1.3zM159.78 670h1.3v1.3h-1.3zM160.6 670h1.3v1.3h-1.3zM161.58 670h1.3v1.3h-1.3zM56.35 671h1.3v1.3h-1.3zM57.66 671h1.3v1.3h-1.3zM58.67 671h1.3v1.3h-1.3zM59.53 671h1.3v1.3h-1.3zM60.68 671h1.3v1.3h-1.3zM62.45 671h1.3v1.3h-1.3zM63.48 671h1.3v1.3h-1.3zM64.56 671h1.3v1.3h-1.3zM68.48 671h1.3v1.3h-1.3zM69.64 671h1.3v1.3h-1.3zM70.68 671h1.3v1.3h-1.3zM71.88 671h1.3v1.3h-1.3zM72.65 671h1.3v1.3h-1.3zM73.53 671h1.3v1.3h-1.3zM74.59 671h1.3v1.3h-1.3zM76.39 671h1.3v1.3h-1.3zM77.77 671h1.3v1.3h-1.3zM78.37 671h1.3v1.3h-1.3zM79.39 671h1.3v1.3h-1.3zM81.41 671h1.3v1.3h-1.3zM83.89 671h1.3v1.3h-1.3zM85.68 671h1.3v1.3h-1.3zM86.76 671h1.3v1.3h-1.3zM87.33 671h1.3v1.3h-1.3zM89.5 671h1.3v1.3h-1.3zM91.41 671h1.3v1.3h-1.3zM125.5 671h1.3v1.3h-1.3zM129.43 671h1.3v1.3h-1.3zM130.43 671h1.3v1.3h-1.3zM132.84 671h1.3v1.3h-1.3zM134.36 671h1.3v1.3h-1.3zM135.56 671h1.3v1.3h-1.3zM136.53 671h1.3v1.3h-1.3zM137.58 671h1.3v1.3h-1.3zM138.9 671h1.3v1.3h-1.3zM140.49 671h1.3v1.3h-1.3zM141.35 671h1.3v1.3h-1.3zM142.45 671h1.3v1.3h-1.3zM143.58 671h1.3v1.3h-1.3zM144.7 671h1.3v1.3h-1.3zM145.48 671h1.3v1.3h-1.3zM146.77 671h1.3v1.3h-1.3zM147.32 671h1.3v1.3h-1.3zM148.61 671h1.3v1.3h-1.3zM149.74 671h1.3v1.3h-1.3zM151.73 671h1.3v1.3h-1.3zM152.79 671h1.3v1.3h-1.3zM153.76 671h1.3v1.3h-1.3zM156.5 671h1.3v1.3h-1.3zM157.76 671h1.3v1.3h-1.3zM159.68 671h1.3v1.3h-1.3zM160.35 671h1.3v1.3h-1.3zM161.56 671h1.3v1.3h-1.3zM56.35 672h1.3v1.3h-1.3zM57.52 672h1.3v1.3h-1.3zM58.74 672h1.3v1.3h-1.3zM59.65 672h1.3v1.3h-1.3zM60.81 672h1.3v1.3h-1.3zM63.75 672h1.3v1.3h-1.3zM64.89 672h1.3v1.3h-1.3zM65.73 672h1.3v1.3h-1.3zM66.31 672h1.3v1.3h-1.3zM67.82 672h1.3v1.3h-1.3zM68.55 672h1.3v1.3h-1.3zM69.3 672h1.3v1.3h-1.3zM70.69 672h1.3v1.3h-1.3zM73.81 672h1.3v1.3h-1.3zM74.35 672h1.3v1.3h-1.3zM75.39 672h1.3v1.3h-1.3zM77.78 672h1.3v1.3h-1.3zM78.32 672h1.3v1.3h-1.3zM79.61 672h1.3v1.3h-1.3zM81.68 672h1.3v1.3h-1.3zM83.46 672h1.3v1.3h-1.3zM84.7 672h1.3v1.3h-1.3zM85.54 672h1.3v1.3h-1.3zM86.63 672h1.3v1.3h-1.3zM87.34 672h1.3v1.3h-1.3zM88.79 672h1.3v1.3h-1.3zM89.57 672h1.3v1.3h-1.3zM90.83 672h1.3v1.3h-1.3zM93.63 672h1.3v1.3h-1.3zM124.6 672h1.3v1.3h-1.3zM125.51 672h1.3v1.3h-1.3zM126.48 672h1.3v1.3h-1.3zM127.68 672h1.3v1.3h-1.3zM128.52 672h1.3v1.3h-1.3zM130.43 672h1.3v1.3h-1.3zM131.49 672h1.3v1.3h-1.3zM133.72 672h1.3v1.3h-1.3zM134.48 672h1.3v1.3h-1.3zM135.48 672h1.3v1.3h-1.3zM136.72 672h1.3v1.3h-1.3zM137.63 672h1.3v1.3h-1.3zM138.33 672h1.3v1.3h-1.3zM139.7 672h1.3v1.3h-1.3zM140.74 672h1.3v1.3h-1.3zM141.61 672h1.3v1.3h-1.3zM142.46 672h1.3v1.3h-1.3zM143.33 672h1.3v1.3h-1.3zM144.38 672h1.3v1.3h-1.3zM145.31 672h1.3v1.3h-1.3zM148.46 672h1.3v1.3h-1.3zM149.55 672h1.3v1.3h-1.3zM151.35 672h1.3v1.3h-1.3zM153.58 672h1.3v1.3h-1.3zM154.74 672h1.3v1.3h-1.3zM155.52 672h1.3v1.3h-1.3zM156.55 672h1.3v1.3h-1.3zM157.83 672h1.3v1.3h-1.3zM158.32 672h1.3v1.3h-1.3zM159.55 672h1.3v1.3h-1.3zM160.46 672h1.3v1.3h-1.3zM161.54 672h1.3v1.3h-1.3zM56.57 673h1.3v1.3h-1.3zM57.44 673h1.3v1.3h-1.3zM58.76 673h1.3v1.3h-1.3zM59.59 673h1.3v1.3h-1.3zM60.85 673h1.3v1.3h-1.3zM63.85 673h1.3v1.3h-1.3zM64.46 673h1.3v1.3h-1.3zM65.32 673h1.3v1.3h-1.3zM67.46 673h1.3v1.3h-1.3zM71.37 673h1.3v1.3h-1.3zM72.4 673h1.3v1.3h-1.3zM73.48 673h1.3v1.3h-1.3zM74.72 673h1.3v1.3h-1.3zM76.62 673h1.3v1.3h-1.3zM77.34 673h1.3v1.3h-1.3zM79.44 673h1.3v1.3h-1.3zM80.42 673h1.3v1.3h-1.3zM81.72 673h1.3v1.3h-1.3zM83.76 673h1.3v1.3h-1.3zM84.86 673h1.3v1.3h-1.3zM86.56 673h1.3v1.3h-1.3zM87.4 673h1.3v1.3h-1.3zM91.75 673h1.3v1.3h-1.3zM92.6 673h1.3v1.3h-1.3zM93.55 673h1.3v1.3h-1.3zM100.51 673h1.3v1.3h-1.3zM101.69 673h1.3v1.3h-1.3zM126.74 673h1.3v1.3h-1.3zM128.67 673h1.3v1.3h-1.3zM129.59 673h1.3v1.3h-1.3zM130.83 673h1.3v1.3h-1.3zM131.44 673h1.3v1.3h-1.3zM133.31 673h1.3v1.3h-1.3zM134.84 673h1.3v1.3h-1.3zM136.42 673h1.3v1.3h-1.3zM137.59 673h1.3v1.3h-1.3zM138.54 673h1.3v1.3h-1.3zM139.79 673h1.3v1.3h-1.3zM140.87 673h1.3v1.3h-1.3zM141.8 673h1.3v1.3h-1.3zM142.59 673h1.3v1.3h-1.3zM143.88 673h1.3v1.3h-1.3zM144.44 673h1.3v1.3h-1.3zM145.41 673h1.3v1.3h-1.3zM146.63 673h1.3v1.3h-1.3zM147.69 673h1.3v1.3h-1.3zM148.32 673h1.3v1.3h-1.3zM150.45 673h1.3v1.3h-1.3zM151.62 673h1.3v1.3h-1.3zM156.84 673h1.3v1.3h-1.3zM157.45 673h1.3v1.3h-1.3zM158.67 673h1.3v1.3h-1.3zM159.51 673h1.3v1.3h-1.3zM160.84 673h1.3v1.3h-1.3zM161.45 673h1.3v1.3h-1.3zM56.68 674h1.3v1.3h-1.3zM57.54 674h1.3v1.3h-1.3zM58.69 674h1.3v1.3h-1.3zM60.43 674h1.3v1.3h-1.3zM61.85 674h1.3v1.3h-1.3zM62.85 674h1.3v1.3h-1.3zM63.83 674h1.3v1.3h-1.3zM64.52 674h1.3v1.3h-1.3zM65.54 674h1.3v1.3h-1.3zM66.55 674h1.3v1.3h-1.3zM67.55 674h1.3v1.3h-1.3zM68.37 674h1.3v1.3h-1.3zM69.54 674h1.3v1.3h-1.3zM71.75 674h1.3v1.3h-1.3zM72.52 674h1.3v1.3h-1.3zM73.64 674h1.3v1.3h-1.3zM74.53 674h1.3v1.3h-1.3zM75.89 674h1.3v1.3h-1.3zM76.76 674h1.3v1.3h-1.3zM77.84 674h1.3v1.3h-1.3zM78.34 674h1.3v1.3h-1.3zM79.77 674h1.3v1.3h-1.3zM80.62 674h1.3v1.3h-1.3zM81.89 674h1.3v1.3h-1.3zM83.73 674h1.3v1.3h-1.3zM84.4 674h1.3v1.3h-1.3zM85.74 674h1.3v1.3h-1.3zM86.41 674h1.3v1.3h-1.3zM87.54 674h1.3v1.3h-1.3zM94.56 674h1.3v1.3h-1.3zM97.59 674h1.3v1.3h-1.3zM120.7 674h1.3v1.3h-1.3zM122.66 674h1.3v1.3h-1.3zM127.44 674h1.3v1.3h-1.3zM128.81 674h1.3v1.3h-1.3zM129.31 674h1.3v1.3h-1.3zM131.36 674h1.3v1.3h-1.3zM132.66 674h1.3v1.3h-1.3zM133.7 674h1.3v1.3h-1.3zM134.8 674h1.3v1.3h-1.3zM135.33 674h1.3v1.3h-1.3zM137.88 674h1.3v1.3h-1.3zM139.31 674h1.3v1.3h-1.3zM141.52 674h1.3v1.3h-1.3zM142.33 674h1.3v1.3h-1.3zM143.78 674h1.3v1.3h-1.3zM145.86 674h1.3v1.3h-1.3zM147.85 674h1.3v1.3h-1.3zM148.44 674h1.3v1.3h-1.3zM149.83 674h1.3v1.3h-1.3zM151.51 674h1.3v1.3h-1.3zM153.69 674h1.3v1.3h-1.3zM154.41 674h1.3v1.3h-1.3zM155.62 674h1.3v1.3h-1.3zM156.5 674h1.3v1.3h-1.3zM157.43 674h1.3v1.3h-1.3zM158.53 674h1.3v1.3h-1.3zM159.77 674h1.3v1.3h-1.3zM160.81 674h1.3v1.3h-1.3zM161.39 674h1.3v1.3h-1.3zM57.52 675h1.3v1.3h-1.3zM58.32 675h1.3v1.3h-1.3zM59.44 675h1.3v1.3h-1.3zM61.7 675h1.3v1.3h-1.3zM62.4 675h1.3v1.3h-1.3zM63.54 675h1.3v1.3h-1.3zM64.75 675h1.3v1.3h-1.3zM66.35 675h1.3v1.3h-1.3zM67.63 675h1.3v1.3h-1.3zM68.8 675h1.3v1.3h-1.3zM69.86 675h1.3v1.3h-1.3zM71.38 675h1.3v1.3h-1.3zM73.56 675h1.3v1.3h-1.3zM74.73 675h1.3v1.3h-1.3zM76.58 675h1.3v1.3h-1.3zM80.5 675h1.3v1.3h-1.3zM81.67 675h1.3v1.3h-1.3zM82.88 675h1.3v1.3h-1.3zM83.46 675h1.3v1.3h-1.3zM84.67 675h1.3v1.3h-1.3zM85.41 675h1.3v1.3h-1.3zM86.89 675h1.3v1.3h-1.3zM88.73 675h1.3v1.3h-1.3zM91.39 675h1.3v1.3h-1.3zM92.35 675h1.3v1.3h-1.3zM93.57 675h1.3v1.3h-1.3zM95.64 675h1.3v1.3h-1.3zM122.43 675h1.3v1.3h-1.3zM127.38 675h1.3v1.3h-1.3zM128.68 675h1.3v1.3h-1.3zM129.64 675h1.3v1.3h-1.3zM130.31 675h1.3v1.3h-1.3zM132.46 675h1.3v1.3h-1.3zM133.69 675h1.3v1.3h-1.3zM135.56 675h1.3v1.3h-1.3zM136.32 675h1.3v1.3h-1.3zM137.61 675h1.3v1.3h-1.3zM138.33 675h1.3v1.3h-1.3zM139.41 675h1.3v1.3h-1.3zM140.4 675h1.3v1.3h-1.3zM141.5 675h1.3v1.3h-1.3zM142.66 675h1.3v1.3h-1.3zM143.68 675h1.3v1.3h-1.3zM144.77 675h1.3v1.3h-1.3zM145.67 675h1.3v1.3h-1.3zM146.56 675h1.3v1.3h-1.3zM148.42 675h1.3v1.3h-1.3zM150.52 675h1.3v1.3h-1.3zM151.84 675h1.3v1.3h-1.3zM152.62 675h1.3v1.3h-1.3zM153.43 675h1.3v1.3h-1.3zM154.45 675h1.3v1.3h-1.3zM155.68 675h1.3v1.3h-1.3zM156.58 675h1.3v1.3h-1.3zM157.87 675h1.3v1.3h-1.3zM160.47 675h1.3v1.3h-1.3zM56.36 676h1.3v1.3h-1.3zM57.42 676h1.3v1.3h-1.3zM61.66 676h1.3v1.3h-1.3zM62.38 676h1.3v1.3h-1.3zM64.38 676h1.3v1.3h-1.3zM65.82 676h1.3v1.3h-1.3zM66.65 676h1.3v1.3h-1.3zM67.66 676h1.3v1.3h-1.3zM71.83 676h1.3v1.3h-1.3zM72.8 676h1.3v1.3h-1.3zM73.38 676h1.3v1.3h-1.3zM75.82 676h1.3v1.3h-1.3zM76.64 676h1.3v1.3h-1.3zM77.42 676h1.3v1.3h-1.3zM79.55 676h1.3v1.3h-1.3zM80.63 676h1.3v1.3h-1.3zM81.38 676h1.3v1.3h-1.3zM82.57 676h1.3v1.3h-1.3zM83.88 676h1.3v1.3h-1.3zM84.47 676h1.3v1.3h-1.3zM85.72 676h1.3v1.3h-1.3zM86.68 676h1.3v1.3h-1.3zM88.54 676h1.3v1.3h-1.3zM91.36 676h1.3v1.3h-1.3zM92.75 676h1.3v1.3h-1.3zM94.88 676h1.3v1.3h-1.3zM96.7 676h1.3v1.3h-1.3zM100.69 676h1.3v1.3h-1.3zM123.87 676h1.3v1.3h-1.3zM124.54 676h1.3v1.3h-1.3zM125.73 676h1.3v1.3h-1.3zM126.77 676h1.3v1.3h-1.3zM129.35 676h1.3v1.3h-1.3zM131.55 676h1.3v1.3h-1.3zM132.85 676h1.3v1.3h-1.3zM133.78 676h1.3v1.3h-1.3zM134.4 676h1.3v1.3h-1.3zM135.75 676h1.3v1.3h-1.3zM136.77 676h1.3v1.3h-1.3zM137.41 676h1.3v1.3h-1.3zM138.56 676h1.3v1.3h-1.3zM139.61 676h1.3v1.3h-1.3zM140.44 676h1.3v1.3h-1.3zM141.37 676h1.3v1.3h-1.3zM142.75 676h1.3v1.3h-1.3zM143.59 676h1.3v1.3h-1.3zM144.82 676h1.3v1.3h-1.3zM145.79 676h1.3v1.3h-1.3zM146.66 676h1.3v1.3h-1.3zM147.4 676h1.3v1.3h-1.3zM149.51 676h1.3v1.3h-1.3zM150.83 676h1.3v1.3h-1.3zM151.73 676h1.3v1.3h-1.3zM152.44 676h1.3v1.3h-1.3zM153.42 676h1.3v1.3h-1.3zM154.84 676h1.3v1.3h-1.3zM155.3 676h1.3v1.3h-1.3zM157.47 676h1.3v1.3h-1.3zM158.67 676h1.3v1.3h-1.3zM159.89 676h1.3v1.3h-1.3zM160.68 676h1.3v1.3h-1.3zM161.52 676h1.3v1.3h-1.3zM56.81 677h1.3v1.3h-1.3zM57.62 677h1.3v1.3h-1.3zM59.44 677h1.3v1.3h-1.3zM60.33 677h1.3v1.3h-1.3zM61.54 677h1.3v1.3h-1.3zM63.42 677h1.3v1.3h-1.3zM65.87 677h1.3v1.3h-1.3zM68.75 677h1.3v1.3h-1.3zM70.44 677h1.3v1.3h-1.3zM71.86 677h1.3v1.3h-1.3zM72.41 677h1.3v1.3h-1.3zM73.77 677h1.3v1.3h-1.3zM74.36 677h1.3v1.3h-1.3zM75.74 677h1.3v1.3h-1.3zM76.59 677h1.3v1.3h-1.3zM77.56 677h1.3v1.3h-1.3zM79.45 677h1.3v1.3h-1.3zM80.71 677h1.3v1.3h-1.3zM81.42 677h1.3v1.3h-1.3zM82.75 677h1.3v1.3h-1.3zM85.89 677h1.3v1.3h-1.3zM86.87 677h1.3v1.3h-1.3zM87.41 677h1.3v1.3h-1.3zM88.63 677h1.3v1.3h-1.3zM89.34 677h1.3v1.3h-1.3zM90.77 677h1.3v1.3h-1.3zM92.34 677h1.3v1.3h-1.3zM94.86 677h1.3v1.3h-1.3zM101.34 677h1.3v1.3h-1.3zM122.82 677h1.3v1.3h-1.3zM125.44 677h1.3v1.3h-1.3zM127.68 677h1.3v1.3h-1.3zM128.36 677h1.3v1.3h-1.3zM130.34 677h1.3v1.3h-1.3zM131.89 677h1.3v1.3h-1.3zM132.82 677h1.3v1.3h-1.3zM133.52 677h1.3v1.3h-1.3zM134.53 677h1.3v1.3h-1.3zM135.47 677h1.3v1.3h-1.3zM136.7 677h1.3v1.3h-1.3zM137.65 677h1.3v1.3h-1.3zM138.69 677h1.3v1.3h-1.3zM139.85 677h1.3v1.3h-1.3zM140.89 677h1.3v1.3h-1.3zM141.37 677h1.3v1.3h-1.3zM142.7 677h1.3v1.3h-1.3zM143.5 677h1.3v1.3h-1.3zM144.51 677h1.3v1.3h-1.3zM145.8 677h1.3v1.3h-1.3zM147.89 677h1.3v1.3h-1.3zM148.36 677h1.3v1.3h-1.3zM149.55 677h1.3v1.3h-1.3zM150.68 677h1.3v1.3h-1.3zM151.75 677h1.3v1.3h-1.3zM152.84 677h1.3v1.3h-1.3zM153.5 677h1.3v1.3h-1.3zM158.64 677h1.3v1.3h-1.3zM159.39 677h1.3v1.3h-1.3zM160.81 677h1.3v1.3h-1.3zM161.71 677h1.3v1.3h-1.3z" fill="#5b9ff0"/>
<text x="56.6" y="693.4" font-size="12" text-anchor="middle" font-weight="normal" fill="#111" >-300</text>
<text x="109.1" y="693.4" font-size="12" text-anchor="middle" font-weight="normal" fill="#111" >0</text>
<text x="161.6" y="693.4" font-size="12" text-anchor="middle" font-weight="normal" fill="#111" >300</text>
<text x="109.1" y="703.2" font-size="12" text-anchor="middle" font-weight="normal" fill="#111" >Time (<tspan font-style="italic">ms</tspan>)</text>
<path d="M198.2 638.2V677.6H303.7" fill="none" stroke="#222" stroke-width="1.2"/>
<path d="M198.95 657.4h1.5v1.5h-1.5zM205.23 657.4h1.5v1.5h-1.5zM207.19 657.4h1.5v1.5h-1.5zM209.38 657.4h1.5v1.5h-1.5zM211.12 657.4h1.5v1.5h-1.5zM213.94 657.4h1.5v1.5h-1.5zM224.32 657.4h1.5v1.5h-1.5zM228.01 657.4h1.5v1.5h-1.5zM231.47 657.4h1.5v1.5h-1.5zM274.48 657.4h1.5v1.5h-1.5zM278.08 657.4h1.5v1.5h-1.5zM279.1 657.4h1.5v1.5h-1.5zM281.36 657.4h1.5v1.5h-1.5zM285.05 657.4h1.5v1.5h-1.5zM292.96 657.4h1.5v1.5h-1.5zM297.14 657.4h1.5v1.5h-1.5zM300.38 657.4h1.5v1.5h-1.5zM302.33 657.4h1.5v1.5h-1.5zM199.31 658.4h1.5v1.5h-1.5zM200.99 658.4h1.5v1.5h-1.5zM203.18 658.4h1.5v1.5h-1.5zM205.2 658.4h1.5v1.5h-1.5zM207.37 658.4h1.5v1.5h-1.5zM208.4 658.4h1.5v1.5h-1.5zM211.41 658.4h1.5v1.5h-1.5zM213.28 658.4h1.5v1.5h-1.5zM214.14 658.4h1.5v1.5h-1.5zM215.28 658.4h1.5v1.5h-1.5zM216.27 658.4h1.5v1.5h-1.5zM217.98 658.4h1.5v1.5h-1.5zM220.34 658.4h1.5v1.5h-1.5zM222.21 658.4h1.5v1.5h-1.5zM224.4 658.4h1.5v1.5h-1.5zM226 658.4h1.5v1.5h-1.5zM228.11 658.4h1.5v1.5h-1.5zM229.05 658.4h1.5v1.5h-1.5zM270.23 658.4h1.5v1.5h-1.5zM272.19 658.4h1.5v1.5h-1.5zM274.37 658.4h1.5v1.5h-1.5zM275.3 658.4h1.5v1.5h-1.5zM279.11 658.4h1.5v1.5h-1.5zM284.25 658.4h1.5v1.5h-1.5zM287.22 658.4h1.5v1.5h-1.5zM288.93 658.4h1.5v1.5h-1.5zM292.37 658.4h1.5v1.5h-1.5zM294.25 658.4h1.5v1.5h-1.5zM295.39 658.4h1.5v1.5h-1.5zM297.1 658.4h1.5v1.5h-1.5zM297.97 658.4h1.5v1.5h-1.5zM302.28 658.4h1.5v1.5h-1.5zM211.42 659.4h1.5v1.5h-1.5zM213.14 659.4h1.5v1.5h-1.5zM214.32 659.4h1.5v1.5h-1.5zM220.33 659.4h1.5v1.5h-1.5zM273.07 659.4h1.5v1.5h-1.5zM276.34 659.4h1.5v1.5h-1.5zM282.35 659.4h1.5v1.5h-1.5zM282.94 659.4h1.5v1.5h-1.5zM283.97 659.4h1.5v1.5h-1.5zM285.34 659.4h1.5v1.5h-1.5zM286.27 659.4h1.5v1.5h-1.5zM288.12 659.4h1.5v1.5h-1.5zM296.42 659.4h1.5v1.5h-1.5zM297.32 659.4h1.5v1.5h-1.5zM300.14 659.4h1.5v1.5h-1.5zM301.02 659.4h1.5v1.5h-1.5zM198.21 660.4h1.5v1.5h-1.5zM200.49 660.4h1.5v1.5h-1.5zM200.93 660.4h1.5v1.5h-1.5zM205.1 660.4h1.5v1.5h-1.5zM209.35 660.4h1.5v1.5h-1.5zM211.11 660.4h1.5v1.5h-1.5zM212.38 660.4h1.5v1.5h-1.5zM220.07 660.4h1.5v1.5h-1.5zM224.36 660.4h1.5v1.5h-1.5zM226.92 660.4h1.5v1.5h-1.5zM273.9 660.4h1.5v1.5h-1.5zM277.23 660.4h1.5v1.5h-1.5zM279.26 660.4h1.5v1.5h-1.5zM280.45 660.4h1.5v1.5h-1.5zM293.96 660.4h1.5v1.5h-1.5zM303.3 660.4h1.5v1.5h-1.5zM198.13 661.4h1.5v1.5h-1.5zM198.91 661.4h1.5v1.5h-1.5zM200.2 661.4h1.5v1.5h-1.5zM203.96 661.4h1.5v1.5h-1.5zM206.98 661.4h1.5v1.5h-1.5zM208.33 661.4h1.5v1.5h-1.5zM209.39 661.4h1.5v1.5h-1.5zM211.19 661.4h1.5v1.5h-1.5zM212.23 661.4h1.5v1.5h-1.5zM271.41 661.4h1.5v1.5h-1.5zM281.93 661.4h1.5v1.5h-1.5zM283.06 661.4h1.5v1.5h-1.5zM284.94 661.4h1.5v1.5h-1.5zM285.97 661.4h1.5v1.5h-1.5zM288.21 661.4h1.5v1.5h-1.5zM293.46 661.4h1.5v1.5h-1.5zM296.22 661.4h1.5v1.5h-1.5zM199.05 662.4h1.5v1.5h-1.5zM200.06 662.4h1.5v1.5h-1.5zM202 662.4h1.5v1.5h-1.5zM202.92 662.4h1.5v1.5h-1.5zM207.29 662.4h1.5v1.5h-1.5zM208.1 662.4h1.5v1.5h-1.5zM212.42 662.4h1.5v1.5h-1.5zM219.98 662.4h1.5v1.5h-1.5zM222.92 662.4h1.5v1.5h-1.5zM225 662.4h1.5v1.5h-1.5zM227.97 662.4h1.5v1.5h-1.5zM273.13 662.4h1.5v1.5h-1.5zM276.92 662.4h1.5v1.5h-1.5zM282.26 662.4h1.5v1.5h-1.5zM283.44 662.4h1.5v1.5h-1.5zM285.43 662.4h1.5v1.5h-1.5zM296.06 662.4h1.5v1.5h-1.5zM301.23 662.4h1.5v1.5h-1.5zM202.45 663.4h1.5v1.5h-1.5zM205.04 663.4h1.5v1.5h-1.5zM206.23 663.4h1.5v1.5h-1.5zM206.97 663.4h1.5v1.5h-1.5zM210.09 663.4h1.5v1.5h-1.5zM224.15 663.4h1.5v1.5h-1.5zM228.96 663.4h1.5v1.5h-1.5zM271.98 663.4h1.5v1.5h-1.5zM276.32 663.4h1.5v1.5h-1.5zM285.09 663.4h1.5v1.5h-1.5zM291.15 663.4h1.5v1.5h-1.5zM292.91 663.4h1.5v1.5h-1.5zM295.9 663.4h1.5v1.5h-1.5zM297.97 663.4h1.5v1.5h-1.5zM198.41 664.4h1.5v1.5h-1.5zM199.22 664.4h1.5v1.5h-1.5zM203.04 664.4h1.5v1.5h-1.5zM210.33 664.4h1.5v1.5h-1.5zM213.93 664.4h1.5v1.5h-1.5zM216.94 664.4h1.5v1.5h-1.5zM220.2 664.4h1.5v1.5h-1.5zM227.31 664.4h1.5v1.5h-1.5zM229.26 664.4h1.5v1.5h-1.5zM275.26 664.4h1.5v1.5h-1.5zM284.5 664.4h1.5v1.5h-1.5zM285.01 664.4h1.5v1.5h-1.5zM286.05 664.4h1.5v1.5h-1.5zM288.15 664.4h1.5v1.5h-1.5zM293.28 664.4h1.5v1.5h-1.5zM294.04 664.4h1.5v1.5h-1.5zM294.99 664.4h1.5v1.5h-1.5zM296.45 664.4h1.5v1.5h-1.5zM297.29 664.4h1.5v1.5h-1.5zM303 664.4h1.5v1.5h-1.5zM202.99 665.4h1.5v1.5h-1.5zM207.92 665.4h1.5v1.5h-1.5zM216.18 665.4h1.5v1.5h-1.5zM230.99 665.4h1.5v1.5h-1.5zM269.04 665.4h1.5v1.5h-1.5zM274.32 665.4h1.5v1.5h-1.5zM276.4 665.4h1.5v1.5h-1.5zM276.95 665.4h1.5v1.5h-1.5zM278.42 665.4h1.5v1.5h-1.5zM279.2 665.4h1.5v1.5h-1.5zM279.9 665.4h1.5v1.5h-1.5zM282.2 665.4h1.5v1.5h-1.5zM283.1 665.4h1.5v1.5h-1.5zM287.93 665.4h1.5v1.5h-1.5zM290.34 665.4h1.5v1.5h-1.5zM295.25 665.4h1.5v1.5h-1.5zM297.21 665.4h1.5v1.5h-1.5zM302.2 665.4h1.5v1.5h-1.5zM202.46 666.4h1.5v1.5h-1.5zM204.92 666.4h1.5v1.5h-1.5zM207.13 666.4h1.5v1.5h-1.5zM212.07 666.4h1.5v1.5h-1.5zM215.3 666.4h1.5v1.5h-1.5zM223.28 666.4h1.5v1.5h-1.5zM223.92 666.4h1.5v1.5h-1.5zM233.16 666.4h1.5v1.5h-1.5zM272.16 666.4h1.5v1.5h-1.5zM273.95 666.4h1.5v1.5h-1.5zM276.2 666.4h1.5v1.5h-1.5zM278.27 666.4h1.5v1.5h-1.5zM283.3 666.4h1.5v1.5h-1.5zM289.14 666.4h1.5v1.5h-1.5zM290.21 666.4h1.5v1.5h-1.5zM295.16 666.4h1.5v1.5h-1.5zM300.95 666.4h1.5v1.5h-1.5zM199.06 667.4h1.5v1.5h-1.5zM202.4 667.4h1.5v1.5h-1.5zM212.22 667.4h1.5v1.5h-1.5zM220.15 667.4h1.5v1.5h-1.5zM223.04 667.4h1.5v1.5h-1.5zM227.23 667.4h1.5v1.5h-1.5zM229.36 667.4h1.5v1.5h-1.5zM273.24 667.4h1.5v1.5h-1.5zM278.16 667.4h1.5v1.5h-1.5zM283.27 667.4h1.5v1.5h-1.5zM296.44 667.4h1.5v1.5h-1.5zM297.42 667.4h1.5v1.5h-1.5zM198.46 668.4h1.5v1.5h-1.5zM202.18 668.4h1.5v1.5h-1.5zM203.11 668.4h1.5v1.5h-1.5zM208.93 668.4h1.5v1.5h-1.5zM213.39 668.4h1.5v1.5h-1.5zM214.02 668.4h1.5v1.5h-1.5zM216.39 668.4h1.5v1.5h-1.5zM220.07 668.4h1.5v1.5h-1.5zM224.17 668.4h1.5v1.5h-1.5zM228.22 668.4h1.5v1.5h-1.5zM233 668.4h1.5v1.5h-1.5zM267.96 668.4h1.5v1.5h-1.5zM271.37 668.4h1.5v1.5h-1.5zM271.94 668.4h1.5v1.5h-1.5zM273.17 668.4h1.5v1.5h-1.5zM276.45 668.4h1.5v1.5h-1.5zM281.33 668.4h1.5v1.5h-1.5zM285.41 668.4h1.5v1.5h-1.5zM286.15 668.4h1.5v1.5h-1.5zM290.97 668.4h1.5v1.5h-1.5zM291.92 668.4h1.5v1.5h-1.5zM294.08 668.4h1.5v1.5h-1.5zM302.34 668.4h1.5v1.5h-1.5zM199.5 669.4h1.5v1.5h-1.5zM210.13 669.4h1.5v1.5h-1.5zM215.42 669.4h1.5v1.5h-1.5zM225.46 669.4h1.5v1.5h-1.5zM228 669.4h1.5v1.5h-1.5zM272.11 669.4h1.5v1.5h-1.5zM275.24 669.4h1.5v1.5h-1.5zM280.08 669.4h1.5v1.5h-1.5zM281.23 669.4h1.5v1.5h-1.5zM282.25 669.4h1.5v1.5h-1.5zM284.34 669.4h1.5v1.5h-1.5zM286.22 669.4h1.5v1.5h-1.5zM289.95 669.4h1.5v1.5h-1.5zM291.34 669.4h1.5v1.5h-1.5zM292.35 669.4h1.5v1.5h-1.5zM295.97 669.4h1.5v1.5h-1.5zM297.18 669.4h1.5v1.5h-1.5zM299.07 669.4h1.5v1.5h-1.5zM302.35 669.4h1.5v1.5h-1.5zM198.12 670.4h1.5v1.5h-1.5zM200.92 670.4h1.5v1.5h-1.5zM206.06 670.4h1.5v1.5h-1.5zM207.02 670.4h1.5v1.5h-1.5zM210.37 670.4h1.5v1.5h-1.5zM212.01 670.4h1.5v1.5h-1.5zM216.34 670.4h1.5v1.5h-1.5zM217.17 670.4h1.5v1.5h-1.5zM218.5 670.4h1.5v1.5h-1.5zM220.21 670.4h1.5v1.5h-1.5zM225.36 670.4h1.5v1.5h-1.5zM226.07 670.4h1.5v1.5h-1.5zM229.4 670.4h1.5v1.5h-1.5zM278.44 670.4h1.5v1.5h-1.5zM281.34 670.4h1.5v1.5h-1.5zM287.03 670.4h1.5v1.5h-1.5zM289.49 670.4h1.5v1.5h-1.5zM291.47 670.4h1.5v1.5h-1.5zM292.33 670.4h1.5v1.5h-1.5zM295.93 670.4h1.5v1.5h-1.5zM207.4 671.4h1.5v1.5h-1.5zM222.02 671.4h1.5v1.5h-1.5zM224.4 671.4h1.5v1.5h-1.5zM229.99 671.4h1.5v1.5h-1.5zM269.49 671.4h1.5v1.5h-1.5zM275.12 671.4h1.5v1.5h-1.5zM278.3 671.4h1.5v1.5h-1.5zM279.33 671.4h1.5v1.5h-1.5zM284.35 671.4h1.5v1.5h-1.5zM289.36 671.4h1.5v1.5h-1.5zM291.11 671.4h1.5v1.5h-1.5zM291.96 671.4h1.5v1.5h-1.5zM294.03 671.4h1.5v1.5h-1.5zM295.19 671.4h1.5v1.5h-1.5zM298.06 671.4h1.5v1.5h-1.5zM303.18 671.4h1.5v1.5h-1.5zM198.92 672.4h1.5v1.5h-1.5zM202.33 672.4h1.5v1.5h-1.5zM204.22 672.4h1.5v1.5h-1.5zM205.34 672.4h1.5v1.5h-1.5zM205.94 672.4h1.5v1.5h-1.5zM208.36 672.4h1.5v1.5h-1.5zM209.95 672.4h1.5v1.5h-1.5zM213.36 672.4h1.5v1.5h-1.5zM219.28 672.4h1.5v1.5h-1.5zM225.1 672.4h1.5v1.5h-1.5zM226.33 672.4h1.5v1.5h-1.5zM271.06 672.4h1.5v1.5h-1.5zM272.4 672.4h1.5v1.5h-1.5zM278.21 672.4h1.5v1.5h-1.5zM281.3 672.4h1.5v1.5h-1.5zM285.29 672.4h1.5v1.5h-1.5zM287.42 672.4h1.5v1.5h-1.5zM291.01 672.4h1.5v1.5h-1.5zM292.43 672.4h1.5v1.5h-1.5zM295.19 672.4h1.5v1.5h-1.5zM296.14 672.4h1.5v1.5h-1.5zM297.2 672.4h1.5v1.5h-1.5zM300.48 672.4h1.5v1.5h-1.5zM302.08 672.4h1.5v1.5h-1.5zM198.31 673.4h1.5v1.5h-1.5zM210.43 673.4h1.5v1.5h-1.5zM216.09 673.4h1.5v1.5h-1.5zM277.98 673.4h1.5v1.5h-1.5zM285.17 673.4h1.5v1.5h-1.5zM288.21 673.4h1.5v1.5h-1.5zM288.98 673.4h1.5v1.5h-1.5zM293.99 673.4h1.5v1.5h-1.5zM296.16 673.4h1.5v1.5h-1.5zM297.98 673.4h1.5v1.5h-1.5zM303.26 673.4h1.5v1.5h-1.5zM199.19 674.4h1.5v1.5h-1.5zM201.46 674.4h1.5v1.5h-1.5zM206.43 674.4h1.5v1.5h-1.5zM207.08 674.4h1.5v1.5h-1.5zM209.05 674.4h1.5v1.5h-1.5zM216.19 674.4h1.5v1.5h-1.5zM220.38 674.4h1.5v1.5h-1.5zM222.14 674.4h1.5v1.5h-1.5zM222.99 674.4h1.5v1.5h-1.5zM228.21 674.4h1.5v1.5h-1.5zM271.29 674.4h1.5v1.5h-1.5zM278.22 674.4h1.5v1.5h-1.5zM279.96 674.4h1.5v1.5h-1.5zM285.47 674.4h1.5v1.5h-1.5zM288.13 674.4h1.5v1.5h-1.5zM289.25 674.4h1.5v1.5h-1.5zM289.97 674.4h1.5v1.5h-1.5zM294.49 674.4h1.5v1.5h-1.5zM294.98 674.4h1.5v1.5h-1.5zM295.92 674.4h1.5v1.5h-1.5zM297.42 674.4h1.5v1.5h-1.5zM297.95 674.4h1.5v1.5h-1.5zM300.03 674.4h1.5v1.5h-1.5zM200.2 675.4h1.5v1.5h-1.5zM212.02 675.4h1.5v1.5h-1.5zM213.4 675.4h1.5v1.5h-1.5zM217.24 675.4h1.5v1.5h-1.5zM223.04 675.4h1.5v1.5h-1.5zM224.27 675.4h1.5v1.5h-1.5zM226.33 675.4h1.5v1.5h-1.5zM229.33 675.4h1.5v1.5h-1.5zM274.24 675.4h1.5v1.5h-1.5zM283.42 675.4h1.5v1.5h-1.5zM289.44 675.4h1.5v1.5h-1.5zM294.06 675.4h1.5v1.5h-1.5zM299.18 675.4h1.5v1.5h-1.5zM302.32 675.4h1.5v1.5h-1.5zM204.97 676.4h1.5v1.5h-1.5zM210.09 676.4h1.5v1.5h-1.5zM211.28 676.4h1.5v1.5h-1.5zM219.46 676.4h1.5v1.5h-1.5zM222.05 676.4h1.5v1.5h-1.5zM230.37 676.4h1.5v1.5h-1.5zM269.23 676.4h1.5v1.5h-1.5zM275.48 676.4h1.5v1.5h-1.5zM278 676.4h1.5v1.5h-1.5zM280.46 676.4h1.5v1.5h-1.5zM296.42 676.4h1.5v1.5h-1.5zM297.16 676.4h1.5v1.5h-1.5zM298.11 676.4h1.5v1.5h-1.5zM302.47 676.4h1.5v1.5h-1.5z" fill="#ee46c8"/>
<text x="198.2" y="693.4" font-size="12" text-anchor="middle" font-weight="normal" fill="#111" >-300</text>
<text x="250.7" y="693.4" font-size="12" text-anchor="middle" font-weight="normal" fill="#111" >0</text>
<text x="303.2" y="693.4" font-size="12" text-anchor="middle" font-weight="normal" fill="#111" >300</text>
<text x="250.7" y="703.2" font-size="12" text-anchor="middle" font-weight="normal" fill="#111" >Time (<tspan font-style="italic">ms</tspan>)</text>
<path d="M338 636.8V678.8H443.5" fill="none" stroke="#222" stroke-width="1.2"/>
<rect x="338" y="636.8" width="106" height="42" fill="#5a5a5a"/>
<path d="M342.83 636.8h1.3v1.3h-1.3zM359.26 636.8h1.0v1.0h-1.0zM361.07 636.8h1.6v1.6h-1.6zM363.26 636.8h1.0v1.0h-1.0zM364.84 636.8h1.6v1.6h-1.6zM371.98 636.8h1.3v1.3h-1.3zM373.17 636.8h1.0v1.0h-1.0zM378.89 636.8h1.6v1.6h-1.6zM380.06 636.8h1.6v1.6h-1.6zM384.05 636.8h1.0v1.0h-1.0zM385.77 636.8h1.6v1.6h-1.6zM387.98 636.8h1.3v1.3h-1.3zM390.17 636.8h1.3v1.3h-1.3zM392.02 636.8h1.0v1.0h-1.0zM393.96 636.8h1.6v1.6h-1.6zM395.3 636.8h1.0v1.0h-1.0zM397.1 636.8h1.0v1.0h-1.0zM398.79 636.8h1.3v1.3h-1.3zM402.76 636.8h1.3v1.3h-1.3zM406.21 636.8h1.6v1.6h-1.6zM407.1 636.8h1.6v1.6h-1.6zM411.97 636.8h1.6v1.6h-1.6zM415.04 636.8h1.6v1.6h-1.6zM423.04 636.8h1.3v1.3h-1.3zM423.71 636.8h1.6v1.6h-1.6zM425.16 636.8h1.3v1.3h-1.3zM425.78 636.8h1.0v1.0h-1.0zM426.75 636.8h1.6v1.6h-1.6zM438.15 636.8h1.3v1.3h-1.3zM439.79 636.8h1.6v1.6h-1.6zM339.91 637.8h1.3v1.3h-1.3zM351.81 637.8h1.0v1.0h-1.0zM360.22 637.8h1.3v1.3h-1.3zM360.92 637.8h1.0v1.0h-1.0zM363.79 637.8h1.6v1.6h-1.6zM365.22 637.8h1.3v1.3h-1.3zM367.03 637.8h1.0v1.0h-1.0zM373.86 637.8h1.0v1.0h-1.0zM375.9 637.8h1.3v1.3h-1.3zM377.26 637.8h1.3v1.3h-1.3zM378.18 637.8h1.6v1.6h-1.6zM381.15 637.8h1.0v1.0h-1.0zM384.82 637.8h1.3v1.3h-1.3zM387.81 637.8h1.0v1.0h-1.0zM389.3 637.8h1.6v1.6h-1.6zM393.2 637.8h1.3v1.3h-1.3zM396.12 637.8h1.0v1.0h-1.0zM403.21 637.8h1.0v1.0h-1.0zM405.73 637.8h1.0v1.0h-1.0zM408.24 637.8h1.6v1.6h-1.6zM422.24 637.8h1.6v1.6h-1.6zM423.05 637.8h1.6v1.6h-1.6zM427.28 637.8h1.3v1.3h-1.3zM434.87 637.8h1.6v1.6h-1.6zM443.04 637.8h1.0v1.0h-1.0zM338.73 638.8h1.3v1.3h-1.3zM346.1 638.8h1.6v1.6h-1.6zM349.2 638.8h1.6v1.6h-1.6zM350.99 638.8h1.6v1.6h-1.6zM355.15 638.8h1.3v1.3h-1.3zM359.08 638.8h1.6v1.6h-1.6zM360.2 638.8h1.3v1.3h-1.3zM366.78 638.8h1.0v1.0h-1.0zM370.03 638.8h1.6v1.6h-1.6zM371.28 638.8h1.3v1.3h-1.3zM374.84 638.8h1.6v1.6h-1.6zM384.08 638.8h1.6v1.6h-1.6zM385.02 638.8h1.3v1.3h-1.3zM386.19 638.8h1.0v1.0h-1.0zM387.08 638.8h1.3v1.3h-1.3zM389.22 638.8h1.6v1.6h-1.6zM390.1 638.8h1.3v1.3h-1.3zM391.86 638.8h1.3v1.3h-1.3zM392.84 638.8h1.3v1.3h-1.3zM394.92 638.8h1.3v1.3h-1.3zM403.06 638.8h1.0v1.0h-1.0zM403.94 638.8h1.0v1.0h-1.0zM406.99 638.8h1.3v1.3h-1.3zM407.88 638.8h1.6v1.6h-1.6zM417.12 638.8h1.0v1.0h-1.0zM424.15 638.8h1.3v1.3h-1.3zM425 638.8h1.3v1.3h-1.3zM425.97 638.8h1.6v1.6h-1.6zM426.82 638.8h1.3v1.3h-1.3zM365.01 639.8h1.0v1.0h-1.0zM383.06 639.8h1.6v1.6h-1.6zM388.25 639.8h1.0v1.0h-1.0zM397.95 639.8h1.0v1.0h-1.0zM372.9 640.8h1.3v1.3h-1.3zM377.93 640.8h1.0v1.0h-1.0zM380.76 640.8h1.3v1.3h-1.3zM382.09 640.8h1.6v1.6h-1.6zM382.81 640.8h1.6v1.6h-1.6zM383.82 640.8h1.3v1.3h-1.3zM390.25 640.8h1.0v1.0h-1.0zM431.26 640.8h1.6v1.6h-1.6zM345.16 641.8h1.6v1.6h-1.6zM345.88 641.8h1.0v1.0h-1.0zM362.81 641.8h1.6v1.6h-1.6zM382.04 641.8h1.0v1.0h-1.0zM384.98 641.8h1.3v1.3h-1.3zM385.73 641.8h1.6v1.6h-1.6zM387.18 641.8h1.3v1.3h-1.3zM389.09 641.8h1.6v1.6h-1.6zM391.75 641.8h1.0v1.0h-1.0zM393.1 641.8h1.3v1.3h-1.3zM377.16 642.8h1.3v1.3h-1.3zM382.74 642.8h1.6v1.6h-1.6zM386.2 642.8h1.0v1.0h-1.0zM389.15 642.8h1.3v1.3h-1.3zM390.22 642.8h1.0v1.0h-1.0zM392.06 642.8h1.6v1.6h-1.6zM402.26 642.8h1.0v1.0h-1.0zM424.87 642.8h1.0v1.0h-1.0zM341.77 643.8h1.3v1.3h-1.3zM345.1 643.8h1.0v1.0h-1.0zM357.9 643.8h1.6v1.6h-1.6zM361.7 643.8h1.3v1.3h-1.3zM372.97 643.8h1.6v1.6h-1.6zM378.87 643.8h1.6v1.6h-1.6zM382.85 643.8h1.6v1.6h-1.6zM384.19 643.8h1.6v1.6h-1.6zM386.88 643.8h1.6v1.6h-1.6zM389.89 643.8h1.0v1.0h-1.0zM391 643.8h1.3v1.3h-1.3zM394.84 643.8h1.0v1.0h-1.0zM414.08 643.8h1.0v1.0h-1.0zM418.05 643.8h1.6v1.6h-1.6zM423.79 643.8h1.6v1.6h-1.6zM377.2 644.8h1.6v1.6h-1.6zM383.16 644.8h1.6v1.6h-1.6zM383.76 644.8h1.0v1.0h-1.0zM390.25 644.8h1.6v1.6h-1.6zM390.77 644.8h1.3v1.3h-1.3zM393.17 644.8h1.3v1.3h-1.3zM404.26 644.8h1.3v1.3h-1.3zM373.97 645.8h1.3v1.3h-1.3zM388.25 645.8h1.3v1.3h-1.3zM394.12 645.8h1.0v1.0h-1.0zM366.83 646.8h1.0v1.0h-1.0zM381.95 646.8h1.0v1.0h-1.0zM383.13 646.8h1.6v1.6h-1.6zM385.23 646.8h1.6v1.6h-1.6zM386.15 646.8h1.3v1.3h-1.3zM387.17 646.8h1.3v1.3h-1.3zM388.18 646.8h1.0v1.0h-1.0zM390.15 646.8h1.3v1.3h-1.3zM396.97 646.8h1.6v1.6h-1.6zM346.13 647.8h1.3v1.3h-1.3zM367.15 647.8h1.0v1.0h-1.0zM378.09 647.8h1.3v1.3h-1.3zM378.71 647.8h1.6v1.6h-1.6zM379.88 647.8h1.6v1.6h-1.6zM388 647.8h1.0v1.0h-1.0zM399.84 647.8h1.0v1.0h-1.0zM402.96 647.8h1.0v1.0h-1.0zM438.93 647.8h1.6v1.6h-1.6zM378.27 648.8h1.0v1.0h-1.0zM396.12 648.8h1.0v1.0h-1.0zM401.72 648.8h1.6v1.6h-1.6zM380.11 649.8h1.3v1.3h-1.3zM384.02 649.8h1.6v1.6h-1.6zM389.97 649.8h1.6v1.6h-1.6zM435.77 649.8h1.3v1.3h-1.3zM375.09 650.8h1.0v1.0h-1.0zM377.04 650.8h1.3v1.3h-1.3zM383.01 650.8h1.3v1.3h-1.3zM385.27 650.8h1.0v1.0h-1.0zM390.03 650.8h1.6v1.6h-1.6zM395.07 650.8h1.0v1.0h-1.0zM395.79 650.8h1.6v1.6h-1.6zM397.25 650.8h1.6v1.6h-1.6zM400.07 650.8h1.0v1.0h-1.0zM401.95 650.8h1.6v1.6h-1.6zM406.94 650.8h1.3v1.3h-1.3zM414.85 650.8h1.6v1.6h-1.6zM426.18 650.8h1.3v1.3h-1.3zM432.74 650.8h1.0v1.0h-1.0zM375.28 651.8h1.3v1.3h-1.3zM382 651.8h1.6v1.6h-1.6zM388.21 651.8h1.0v1.0h-1.0zM391.01 651.8h1.0v1.0h-1.0zM392.07 651.8h1.3v1.3h-1.3zM393.17 651.8h1.0v1.0h-1.0zM394.08 651.8h1.0v1.0h-1.0zM395.22 651.8h1.6v1.6h-1.6zM374.79 652.8h1.6v1.6h-1.6zM384.86 652.8h1.6v1.6h-1.6zM385.86 652.8h1.0v1.0h-1.0zM389.92 652.8h1.6v1.6h-1.6zM390.82 652.8h1.0v1.0h-1.0zM392.02 652.8h1.0v1.0h-1.0zM396.2 652.8h1.0v1.0h-1.0zM403.96 652.8h1.6v1.6h-1.6zM422.27 652.8h1.6v1.6h-1.6zM432.16 652.8h1.6v1.6h-1.6zM357.85 653.8h1.6v1.6h-1.6zM381.14 653.8h1.3v1.3h-1.3zM383.94 653.8h1.0v1.0h-1.0zM386 653.8h1.0v1.0h-1.0zM388.77 653.8h1.0v1.0h-1.0zM391.17 653.8h1.6v1.6h-1.6zM391.9 653.8h1.0v1.0h-1.0zM393.14 653.8h1.6v1.6h-1.6zM439.15 653.8h1.6v1.6h-1.6zM340.02 654.8h1.0v1.0h-1.0zM357.74 654.8h1.6v1.6h-1.6zM373.74 654.8h1.0v1.0h-1.0zM374.84 654.8h1.3v1.3h-1.3zM376.13 654.8h1.6v1.6h-1.6zM377.17 654.8h1.0v1.0h-1.0zM378.23 654.8h1.3v1.3h-1.3zM379.99 654.8h1.0v1.0h-1.0zM384.02 654.8h1.0v1.0h-1.0zM386.2 654.8h1.0v1.0h-1.0zM386.88 654.8h1.3v1.3h-1.3zM392.14 654.8h1.6v1.6h-1.6zM393.09 654.8h1.6v1.6h-1.6zM394.23 654.8h1.3v1.3h-1.3zM405.13 654.8h1.6v1.6h-1.6zM407.1 654.8h1.6v1.6h-1.6zM437.19 654.8h1.3v1.3h-1.3zM373.27 655.8h1.3v1.3h-1.3zM384.81 655.8h1.0v1.0h-1.0zM391.14 655.8h1.3v1.3h-1.3zM391.99 655.8h1.0v1.0h-1.0zM404.94 655.8h1.6v1.6h-1.6zM421.9 655.8h1.0v1.0h-1.0zM428.09 655.8h1.0v1.0h-1.0zM357.96 656.8h1.6v1.6h-1.6zM375.28 656.8h1.3v1.3h-1.3zM375.99 656.8h1.0v1.0h-1.0zM383.83 656.8h1.0v1.0h-1.0zM385.12 656.8h1.6v1.6h-1.6zM391.73 656.8h1.0v1.0h-1.0zM392.86 656.8h1.6v1.6h-1.6zM399.05 656.8h1.0v1.0h-1.0zM400.16 656.8h1.3v1.3h-1.3zM403.07 656.8h1.3v1.3h-1.3zM411.7 656.8h1.6v1.6h-1.6zM437.24 656.8h1.6v1.6h-1.6zM354.92 657.8h1.0v1.0h-1.0zM366.11 657.8h1.3v1.3h-1.3zM367.8 657.8h1.0v1.0h-1.0zM383.77 657.8h1.6v1.6h-1.6zM392.03 657.8h1.0v1.0h-1.0zM393.1 657.8h1.6v1.6h-1.6zM398.79 657.8h1.3v1.3h-1.3zM432.04 657.8h1.3v1.3h-1.3zM440.89 657.8h1.3v1.3h-1.3zM375 658.8h1.3v1.3h-1.3zM378.05 658.8h1.6v1.6h-1.6zM383.28 658.8h1.0v1.0h-1.0zM386.23 658.8h1.6v1.6h-1.6zM391.22 658.8h1.6v1.6h-1.6zM391.98 658.8h1.6v1.6h-1.6zM393.05 658.8h1.3v1.3h-1.3zM393.75 658.8h1.3v1.3h-1.3zM397.14 658.8h1.3v1.3h-1.3zM398.04 658.8h1.0v1.0h-1.0zM348.06 659.8h1.0v1.0h-1.0zM359.29 659.8h1.0v1.0h-1.0zM364.19 659.8h1.3v1.3h-1.3zM381.92 659.8h1.0v1.0h-1.0zM382.92 659.8h1.3v1.3h-1.3zM383.71 659.8h1.3v1.3h-1.3zM386.02 659.8h1.0v1.0h-1.0zM387.04 659.8h1.3v1.3h-1.3zM391.89 659.8h1.3v1.3h-1.3zM392.92 659.8h1.3v1.3h-1.3zM395.17 659.8h1.6v1.6h-1.6zM418.85 659.8h1.3v1.3h-1.3zM422.96 659.8h1.0v1.0h-1.0zM439.2 659.8h1.3v1.3h-1.3zM378.29 660.8h1.6v1.6h-1.6zM382.99 660.8h1.0v1.0h-1.0zM384.99 660.8h1.6v1.6h-1.6zM388.94 660.8h1.0v1.0h-1.0zM391.14 660.8h1.6v1.6h-1.6zM393.09 660.8h1.3v1.3h-1.3zM393.92 660.8h1.3v1.3h-1.3zM418.27 660.8h1.0v1.0h-1.0zM343.09 661.8h1.3v1.3h-1.3zM346.74 661.8h1.6v1.6h-1.6zM380.98 661.8h1.3v1.3h-1.3zM381.77 661.8h1.0v1.0h-1.0zM385.03 661.8h1.0v1.0h-1.0zM387 661.8h1.3v1.3h-1.3zM390.11 661.8h1.0v1.0h-1.0zM391.73 661.8h1.3v1.3h-1.3zM398.91 661.8h1.0v1.0h-1.0zM402.77 661.8h1.3v1.3h-1.3zM362.98 662.8h1.6v1.6h-1.6zM374.07 662.8h1.3v1.3h-1.3zM381.72 662.8h1.6v1.6h-1.6zM390.95 662.8h1.6v1.6h-1.6zM391.96 662.8h1.3v1.3h-1.3zM395.22 662.8h1.0v1.0h-1.0zM399.91 662.8h1.3v1.3h-1.3zM427.18 662.8h1.0v1.0h-1.0zM379.78 663.8h1.3v1.3h-1.3zM388.87 663.8h1.0v1.0h-1.0zM391.03 663.8h1.0v1.0h-1.0zM416.93 663.8h1.6v1.6h-1.6zM417.96 663.8h1.3v1.3h-1.3zM350.02 664.8h1.0v1.0h-1.0zM367.05 664.8h1.0v1.0h-1.0zM376.09 664.8h1.0v1.0h-1.0zM376.76 664.8h1.0v1.0h-1.0zM380.3 664.8h1.0v1.0h-1.0zM384.73 664.8h1.6v1.6h-1.6zM388.28 664.8h1.6v1.6h-1.6zM388.89 664.8h1.6v1.6h-1.6zM396.22 664.8h1.6v1.6h-1.6zM398.96 664.8h1.0v1.0h-1.0zM340.03 665.8h1.3v1.3h-1.3zM343.71 665.8h1.3v1.3h-1.3zM369.02 665.8h1.0v1.0h-1.0zM376.94 665.8h1.6v1.6h-1.6zM378.92 665.8h1.6v1.6h-1.6zM379.75 665.8h1.6v1.6h-1.6zM383.99 665.8h1.0v1.0h-1.0zM385.87 665.8h1.0v1.0h-1.0zM387.73 665.8h1.0v1.0h-1.0zM389.05 665.8h1.6v1.6h-1.6zM389.94 665.8h1.6v1.6h-1.6zM391.88 665.8h1.6v1.6h-1.6zM393.04 665.8h1.3v1.3h-1.3zM400.78 665.8h1.6v1.6h-1.6zM403.01 665.8h1.3v1.3h-1.3zM379.07 666.8h1.6v1.6h-1.6zM385.09 666.8h1.0v1.0h-1.0zM387.29 666.8h1.0v1.0h-1.0zM388.24 666.8h1.6v1.6h-1.6zM389.26 666.8h1.3v1.3h-1.3zM393.81 666.8h1.0v1.0h-1.0zM416 666.8h1.6v1.6h-1.6zM366.78 667.8h1.3v1.3h-1.3zM369.03 667.8h1.0v1.0h-1.0zM376.85 667.8h1.6v1.6h-1.6zM380.06 667.8h1.6v1.6h-1.6zM384.9 667.8h1.6v1.6h-1.6zM385.87 667.8h1.0v1.0h-1.0zM387.2 667.8h1.3v1.3h-1.3zM389.04 667.8h1.0v1.0h-1.0zM393.08 667.8h1.6v1.6h-1.6zM338.97 668.8h1.0v1.0h-1.0zM359.23 668.8h1.3v1.3h-1.3zM379.17 668.8h1.6v1.6h-1.6zM382.9 668.8h1.3v1.3h-1.3zM385.93 668.8h1.0v1.0h-1.0zM386.9 668.8h1.6v1.6h-1.6zM388.9 668.8h1.6v1.6h-1.6zM392.87 668.8h1.3v1.3h-1.3zM362.75 669.8h1.0v1.0h-1.0zM374.74 669.8h1.6v1.6h-1.6zM377.11 669.8h1.3v1.3h-1.3zM383.1 669.8h1.3v1.3h-1.3zM385.29 669.8h1.6v1.6h-1.6zM385.76 669.8h1.6v1.6h-1.6zM389.19 669.8h1.3v1.3h-1.3zM394.77 669.8h1.6v1.6h-1.6zM407.82 669.8h1.6v1.6h-1.6zM426.29 669.8h1.6v1.6h-1.6zM433.79 669.8h1.6v1.6h-1.6zM342.89 670.8h1.6v1.6h-1.6zM349.73 670.8h1.6v1.6h-1.6zM373.98 670.8h1.0v1.0h-1.0zM375.13 670.8h1.0v1.0h-1.0zM376.23 670.8h1.0v1.0h-1.0zM382.93 670.8h1.6v1.6h-1.6zM387.77 670.8h1.3v1.3h-1.3zM389.19 670.8h1.6v1.6h-1.6zM390.05 670.8h1.3v1.3h-1.3zM398.26 670.8h1.0v1.0h-1.0zM402.97 670.8h1.3v1.3h-1.3zM413.71 670.8h1.6v1.6h-1.6zM418.24 670.8h1.3v1.3h-1.3zM420.01 670.8h1.0v1.0h-1.0zM360.82 671.8h1.3v1.3h-1.3zM367.14 671.8h1.3v1.3h-1.3zM377.72 671.8h1.6v1.6h-1.6zM379.18 671.8h1.3v1.3h-1.3zM382.24 671.8h1.3v1.3h-1.3zM390.3 671.8h1.0v1.0h-1.0zM398.07 671.8h1.6v1.6h-1.6zM416.25 671.8h1.6v1.6h-1.6zM421.9 671.8h1.3v1.3h-1.3zM424.09 671.8h1.3v1.3h-1.3zM367.16 672.8h1.3v1.3h-1.3zM376.11 672.8h1.3v1.3h-1.3zM386.96 672.8h1.0v1.0h-1.0zM387.92 672.8h1.0v1.0h-1.0zM392.16 672.8h1.3v1.3h-1.3zM393.82 672.8h1.3v1.3h-1.3zM438.86 672.8h1.0v1.0h-1.0zM348.86 673.8h1.3v1.3h-1.3zM377.7 673.8h1.6v1.6h-1.6zM383.92 673.8h1.6v1.6h-1.6zM385.1 673.8h1.0v1.0h-1.0zM387.04 673.8h1.6v1.6h-1.6zM387.82 673.8h1.3v1.3h-1.3zM388.77 673.8h1.3v1.3h-1.3zM395.91 673.8h1.0v1.0h-1.0zM397.08 673.8h1.0v1.0h-1.0zM402.01 673.8h1.6v1.6h-1.6zM431.3 673.8h1.6v1.6h-1.6zM433.07 673.8h1.6v1.6h-1.6zM433.92 673.8h1.6v1.6h-1.6zM436.04 673.8h1.0v1.0h-1.0zM439.22 673.8h1.6v1.6h-1.6zM357.22 674.8h1.6v1.6h-1.6zM382.86 674.8h1.6v1.6h-1.6zM386.18 674.8h1.0v1.0h-1.0zM387.79 674.8h1.0v1.0h-1.0zM389.2 674.8h1.0v1.0h-1.0zM389.94 674.8h1.3v1.3h-1.3zM390.93 674.8h1.3v1.3h-1.3zM393.91 674.8h1.3v1.3h-1.3zM395.04 674.8h1.3v1.3h-1.3zM404.09 674.8h1.0v1.0h-1.0zM422.24 674.8h1.6v1.6h-1.6zM342.79 675.8h1.0v1.0h-1.0zM348.28 675.8h1.0v1.0h-1.0zM383.99 675.8h1.6v1.6h-1.6zM384.88 675.8h1.0v1.0h-1.0zM393.27 675.8h1.6v1.6h-1.6zM395.74 675.8h1.3v1.3h-1.3zM397.2 675.8h1.0v1.0h-1.0zM400.2 675.8h1.3v1.3h-1.3zM409.85 675.8h1.6v1.6h-1.6zM426.18 675.8h1.3v1.3h-1.3zM431.96 675.8h1.6v1.6h-1.6zM439.06 675.8h1.3v1.3h-1.3zM361.85 676.8h1.6v1.6h-1.6zM378 676.8h1.0v1.0h-1.0zM379.09 676.8h1.6v1.6h-1.6zM381.18 676.8h1.6v1.6h-1.6zM382.94 676.8h1.6v1.6h-1.6zM385.18 676.8h1.0v1.0h-1.0zM385.81 676.8h1.3v1.3h-1.3zM387.05 676.8h1.0v1.0h-1.0zM388.84 676.8h1.0v1.0h-1.0zM390.95 676.8h1.0v1.0h-1.0zM391.81 676.8h1.0v1.0h-1.0zM400.89 676.8h1.0v1.0h-1.0zM404.01 676.8h1.6v1.6h-1.6zM405.92 676.8h1.0v1.0h-1.0zM436.88 676.8h1.3v1.3h-1.3zM439.28 676.8h1.6v1.6h-1.6zM368.28 677.8h1.0v1.0h-1.0zM373.23 677.8h1.0v1.0h-1.0zM373.79 677.8h1.0v1.0h-1.0zM375.89 677.8h1.6v1.6h-1.6zM378.12 677.8h1.3v1.3h-1.3zM379.97 677.8h1.3v1.3h-1.3zM382.77 677.8h1.3v1.3h-1.3zM385.99 677.8h1.6v1.6h-1.6zM389.28 677.8h1.6v1.6h-1.6zM390.21 677.8h1.3v1.3h-1.3zM391.94 677.8h1.3v1.3h-1.3zM393.1 677.8h1.0v1.0h-1.0zM397.85 677.8h1.6v1.6h-1.6z" fill="#fff"/>
<text x="338" y="693.4" font-size="12" text-anchor="middle" font-weight="normal" fill="#111" >-300</text>
<text x="390.5" y="693.4" font-size="12" text-anchor="middle" font-weight="normal" fill="#111" >0</text>
<text x="443" y="693.4" font-size="12" text-anchor="middle" font-weight="normal" fill="#111" >300</text>
<text x="390.5" y="703.2" font-size="12" text-anchor="middle" font-weight="normal" fill="#111" >Time (<tspan font-style="italic">ms</tspan>)</text>
<text transform="translate(9.8 655.2) rotate(-90)" font-size="12" text-anchor="middle" fill="#111">Corresponding</text>
<text transform="translate(24.6 655.2) rotate(-90)" font-size="12" text-anchor="middle" fill="#111">Multi-unit activity</text>
<text x="447.5" y="413.5" font-size="13" text-anchor="start" font-weight="bold" fill="#111" >f</text>
<path d="M481 417.9V530.9H677.6" fill="none" stroke="#2a2a2a" stroke-width="1.1"/>
<path d="M475 530.7H480.9" stroke="#333" stroke-width="1"/>
<text x="473.6" y="533.6" font-size="8" text-anchor="end" font-weight="normal" fill="#111" >0</text>
<path d="M475 511.9H480.9" stroke="#333" stroke-width="1"/>
<text x="473.6" y="514.8" font-size="8" text-anchor="end" font-weight="normal" fill="#111" >1</text>
<path d="M475 493.1H480.9" stroke="#333" stroke-width="1"/>
<text x="473.6" y="496" font-size="8" text-anchor="end" font-weight="normal" fill="#111" >2</text>
<path d="M475 474.3H480.9" stroke="#333" stroke-width="1"/>
<text x="473.6" y="477.2" font-size="8" text-anchor="end" font-weight="normal" fill="#111" >3</text>
<path d="M475 455.5H480.9" stroke="#333" stroke-width="1"/>
<text x="473.6" y="458.4" font-size="8" text-anchor="end" font-weight="normal" fill="#111" >4</text>
<path d="M475 436.7H480.9" stroke="#333" stroke-width="1"/>
<text x="473.6" y="439.6" font-size="8" text-anchor="end" font-weight="normal" fill="#111" >5</text>
<path d="M475 417.9H480.9" stroke="#333" stroke-width="1"/>
<text x="473.6" y="420.8" font-size="8" text-anchor="end" font-weight="normal" fill="#111" >6</text>
<path d="M480.9 530.7V532.5" stroke="#333" stroke-width="1"/>
<text x="480.9" y="542.1" font-size="8" text-anchor="middle" font-weight="normal" fill="#111" >0</text>
<path d="M520.3 530.7V532.5" stroke="#333" stroke-width="1"/>
<text x="520.3" y="542.1" font-size="8" text-anchor="middle" font-weight="normal" fill="#111" >100</text>
<path d="M559.7 530.7V532.5" stroke="#333" stroke-width="1"/>
<text x="559.7" y="542.1" font-size="8" text-anchor="middle" font-weight="normal" fill="#111" >200</text>
<path d="M599.1 530.7V532.5" stroke="#333" stroke-width="1"/>
<text x="599.1" y="542.1" font-size="8" text-anchor="middle" font-weight="normal" fill="#111" >300</text>
<path d="M638.5 530.7V532.5" stroke="#333" stroke-width="1"/>
<text x="638.5" y="542.1" font-size="8" text-anchor="middle" font-weight="normal" fill="#111" >400</text>
<path d="M677.9 530.7V532.5" stroke="#333" stroke-width="1"/>
<text x="677.9" y="542.1" font-size="8" text-anchor="middle" font-weight="normal" fill="#111" >500</text>
<text x="547.4" y="553" font-size="9.5" text-anchor="start" font-weight="normal" fill="#111" >Wave amplitude <tspan dx="3" font-style="italic">(µV²)</tspan></text>
<text transform="translate(464.7 474.8) rotate(-90)" font-size="9.3" text-anchor="middle" fill="#111">Slow wave count (%)</text>
<text x="450.6" y="562" font-size="13" text-anchor="start" font-weight="bold" fill="#111" >g</text>
<path d="M485.6 574.5V687.1H677" fill="none" stroke="#2a2a2a" stroke-width="1.1"/>
<path d="M480 687H485.6" stroke="#333" stroke-width="1"/>
<text x="478.6" y="689.9" font-size="8" text-anchor="end" font-weight="normal" fill="#111" >0</text>
<path d="M480 649.5H485.6" stroke="#333" stroke-width="1"/>
<text x="478.6" y="652.4" font-size="8" text-anchor="end" font-weight="normal" fill="#111" >5</text>
<path d="M480 612H485.6" stroke="#333" stroke-width="1"/>
<text x="478.6" y="614.9" font-size="8" text-anchor="end" font-weight="normal" fill="#111" >10</text>
<path d="M480 574.5H485.6" stroke="#333" stroke-width="1"/>
<text x="478.6" y="577.4" font-size="8" text-anchor="end" font-weight="normal" fill="#111" >15</text>
<path d="M485.6 687V689" stroke="#333" stroke-width="1"/>
<text x="485.6" y="698.3" font-size="8" text-anchor="middle" font-weight="normal" fill="#111" >0.0</text>
<path d="M523.8 687V689" stroke="#333" stroke-width="1"/>
<text x="523.8" y="698.3" font-size="8" text-anchor="middle" font-weight="normal" fill="#111" >0.2</text>
<path d="M562 687V689" stroke="#333" stroke-width="1"/>
<text x="562" y="698.3" font-size="8" text-anchor="middle" font-weight="normal" fill="#111" >0.4</text>
<path d="M600.2 687V689" stroke="#333" stroke-width="1"/>
<text x="600.2" y="698.3" font-size="8" text-anchor="middle" font-weight="normal" fill="#111" >0.6</text>
<path d="M638.4 687V689" stroke="#333" stroke-width="1"/>
<text x="638.4" y="698.3" font-size="8" text-anchor="middle" font-weight="normal" fill="#111" >0.8</text>
<path d="M676.6 687V689" stroke="#333" stroke-width="1"/>
<text x="676.6" y="698.3" font-size="8" text-anchor="middle" font-weight="normal" fill="#111" >1.0</text>
<text x="540.7" y="709.8" font-size="9.5" text-anchor="start" font-weight="normal" fill="#111" >Wave duration <tspan font-style="italic">(s)</tspan></text>
<text transform="translate(465.6 631) rotate(-90)" font-size="9.3" text-anchor="middle" fill="#111">Slow wave count (%)</text>
<path d="M480.4 493.13L482.37 494.13L484.34 493.67L486.31 493.31L488.28 492.97L490.25 492.14L492.22 490.15L494.19 489.19L496.16 488.89L498.13 487.46L500.1 489.03L502.07 489.91L504.04 489.96L506.01 489.89L507.98 489.82L509.95 489.65L511.92 489.66L513.89 492.45L515.86 490.99L517.83 491.04L519.8 491.56L521.77 491.91L523.74 492.24L525.71 492.47L527.68 492.64L529.65 493.55L531.62 492.09L533.59 494.04L535.56 496.1L537.53 498.92L539.5 499.38L541.47 499.71L543.44 501.01L545.41 501.39L547.38 501.53L549.35 502.87L551.32 504.96L553.29 505.29L555.26 504.9L557.23 505.55L559.2 506.09L561.17 505.94L563.14 507.57L565.11 508.69L567.08 508.84L569.05 507.63L571.02 510.51L572.99 509.32L574.96 510.39L576.93 512.27L578.9 512.84L580.87 512.42L582.84 513.68L584.81 514.91L586.78 513.69L588.75 515.39L590.72 515.61L592.69 516.1L594.66 516.46L596.63 516.32L598.6 517.1L600.57 517.38L602.54 517.8L604.51 518.24L606.48 518.92L608.45 519.12L610.42 520.26L612.39 521.4L614.36 520.74L616.33 522.6L618.3 522.19L620.27 521.82L622.24 522.47L624.21 521.07L626.18 522.89L628.15 523.45L630.12 523.37L632.09 523.53L634.06 523.17L636.03 523.29L638 523.04L639.97 523.6L641.94 523.92L643.91 524.73L645.88 524.25L647.85 525.12L649.82 525.67L651.79 524.4L653.76 525.64L655.73 525.48L657.7 525.75L659.67 525.29L661.64 526.72L663.61 526.44L665.58 526.2L667.55 525.73L669.52 527.18L671.49 527.27L673.46 528.04L675.43 526.83L675.43 530.7L673.46 530.7L671.49 529.8L669.52 530.56L667.55 529.57L665.58 530.55L663.61 529.33L661.64 529.16L659.67 528.5L657.7 528.93L655.73 528.85L653.76 528.3L651.79 528.11L649.82 528.08L647.85 528.15L645.88 528.63L643.91 528.12L641.94 527.73L639.97 527.31L638 527.01L636.03 527.09L634.06 526.23L632.09 526.74L630.12 526.75L628.15 526.47L626.18 526L624.21 526.21L622.24 524.89L620.27 525.43L618.3 525.84L616.33 525.32L614.36 525.48L612.39 525.17L610.42 524.33L608.45 523.39L606.48 523.55L604.51 521.71L602.54 522.05L600.57 521.53L598.6 519.47L596.63 521.47L594.66 520.7L592.69 520.91L590.72 519.63L588.75 520.66L586.78 520.13L584.81 519.01L582.84 519.23L580.87 518.24L578.9 516.45L576.93 516.65L574.96 516.81L572.99 514.94L571.02 514.36L569.05 513.91L567.08 513.71L565.11 513.43L563.14 513.07L561.17 511.61L559.2 511.26L557.23 510.58L555.26 510.68L553.29 508.56L551.32 508.56L549.35 507.93L547.38 505.42L545.41 506.08L543.44 505.27L541.47 505.2L539.5 505.43L537.53 504.33L535.56 504.51L533.59 500.84L531.62 500.04L529.65 497.05L527.68 498L525.71 497.99L523.74 499.21L521.77 496.69L519.8 496.36L517.83 496.38L515.86 495.7L513.89 495.91L511.92 496.49L509.95 494.72L507.98 495L506.01 494.03L504.04 495.63L502.07 496.83L500.1 493.21L498.13 494.86L496.16 493.92L494.19 494.95L492.22 496.61L490.25 495.36L488.28 497.13L486.31 497.17L484.34 499.67L482.37 498.78L480.4 498.37Z" fill="#9cc8f8" fill-opacity="0.6"/>
<path d="M480.4 481.46L482.37 478.68L484.34 480.14L486.31 479.23L488.28 478.64L490.25 477.35L492.22 478.47L494.19 472.47L496.16 476.55L498.13 475.01L500.1 477.26L502.07 476.83L504.04 475.01L506.01 471.67L507.98 471.04L509.95 468.91L511.92 473.71L513.89 471.86L515.86 475.67L517.83 477.56L519.8 479.04L521.77 476.66L523.74 478.55L525.71 479.58L527.68 482.72L529.65 483.38L531.62 482.75L533.59 485.43L535.56 483.93L537.53 489.72L539.5 493.83L541.47 493.92L543.44 492.95L545.41 496.82L547.38 494.46L549.35 498.33L551.32 499.84L553.29 500.31L555.26 502.62L557.23 504.13L559.2 503.63L561.17 507.4L563.14 507.94L565.11 511.11L567.08 510.68L569.05 508.11L571.02 512.07L572.99 516.29L574.96 518.52L576.93 516.64L578.9 518.28L580.87 521.09L582.84 519.58L584.81 521.02L586.78 521.67L588.75 522.07L590.72 526.42L592.69 526.72L594.66 527.62L596.63 527.46L598.6 528.23L600.57 528.73L602.54 528.51L604.51 528.87L606.48 528.8L608.45 528.23L610.42 528.65L612.39 529.25L614.36 529.48L616.33 529.21L618.3 529.45L620.27 529.17L622.24 529.17L624.21 529.09L626.18 529.26L628.15 529.61L630.12 529.32L632.09 529.28L634.06 529.26L636.03 529.04L638 529.58L639.97 529.39L641.94 529.5L643.91 529.58L645.88 529.24L647.85 529.55L649.82 528.95L651.79 530.03L653.76 529.08L655.73 529.51L657.7 529.76L659.67 529.44L661.64 529.46L663.61 529.27L665.58 529.21L667.55 529.71L669.52 529.54L671.49 529.47L673.46 529.51L675.43 529.65L675.43 530.7L673.46 530.7L671.49 530.7L669.52 530.7L667.55 530.7L665.58 530.7L663.61 530.61L661.64 530.7L659.67 530.7L657.7 530.7L655.73 530.7L653.76 530.7L651.79 530.7L649.82 530.7L647.85 530.7L645.88 530.7L643.91 530.7L641.94 530.7L639.97 530.7L638 530.7L636.03 530.69L634.06 530.7L632.09 530.7L630.12 530.7L628.15 530.7L626.18 530.7L624.21 530.7L622.24 530.39L620.27 530.48L618.3 530.7L616.33 530.7L614.36 530.32L612.39 530.62L610.42 530.18L608.45 530.36L606.48 530.45L604.51 530.33L602.54 530.44L600.57 530.19L598.6 529.8L596.63 529.28L594.66 529.26L592.69 528.6L590.72 528.65L588.75 530.7L586.78 530.7L584.81 530.7L582.84 529.1L580.87 528.74L578.9 527.51L576.93 524.6L574.96 525.89L572.99 524.22L571.02 522.48L569.05 520.34L567.08 519.42L565.11 518.39L563.14 520.28L561.17 516.34L559.2 517.57L557.23 513.57L555.26 510.69L553.29 510.91L551.32 512.59L549.35 509.36L547.38 506.36L545.41 505.38L543.44 504.54L541.47 504.31L539.5 505.92L537.53 497.31L535.56 498.55L533.59 496.47L531.62 494.65L529.65 496.99L527.68 491.22L525.71 489.78L523.74 488.99L521.77 487.02L519.8 484.99L517.83 485.86L515.86 482.87L513.89 484.09L511.92 480.06L509.95 479.94L507.98 480.58L506.01 483.86L504.04 486.43L502.07 484.3L500.1 485.92L498.13 485.3L496.16 484.96L494.19 485.66L492.22 487.14L490.25 486.31L488.28 486.68L486.31 488.73L484.34 486.44L482.37 488.22L480.4 490.38Z" fill="#ee70c8" fill-opacity="0.6"/>
<path d="M480.4 447.8L482.37 444L484.34 445.8L486.31 445.53L488.28 440.12L490.25 439.63L492.22 436.7L494.19 436.99L496.16 435.16L498.13 434.77L500.1 431.55L502.07 434.82L504.04 442.09L506.01 446.14L507.98 449.96L509.95 457.9L511.92 463.53L513.89 469.95L515.86 472.55L517.83 480.27L519.8 485.06L521.77 490.8L523.74 494.08L525.71 499.69L527.68 503.34L529.65 508L531.62 510.46L533.59 511.22L535.56 513.01L537.53 516.3L539.5 517.1L541.47 518.44L543.44 517.96L545.41 522.33L547.38 522.8L549.35 523.96L551.32 524.14L553.29 524.42L555.26 525.53L557.23 525.59L559.2 525.9L561.17 526.97L563.14 526.79L565.11 527.55L567.08 527.88L569.05 528.2L571.02 528.39L572.99 528.92L574.96 528.85L576.93 528.8L578.9 529.34L580.87 529.32L582.84 529.46L584.81 529.19L586.78 529.35L588.75 529.14L590.72 529.48L592.69 529.8L594.66 529.35L596.63 529.6L598.6 529.29L600.57 529.41L602.54 530.23L604.51 530.09L606.48 529.61L608.45 529.8L610.42 530.17L612.39 529.76L614.36 529.33L616.33 529.49L618.3 529.86L620.27 529.59L622.24 529.42L624.21 529.71L626.18 529.24L628.15 529.85L630.12 529.18L632.09 529.32L634.06 529.57L636.03 529.64L638 529.69L639.97 529.93L641.94 529.48L643.91 529.41L645.88 529.53L647.85 529.66L649.82 529.71L651.79 529.96L653.76 529.9L655.73 530.09L657.7 529.64L659.67 529.97L661.64 529.56L663.61 529.93L665.58 529.43L667.55 529.4L669.52 529.41L671.49 529.51L673.46 529.86L675.43 529.87L675.43 530.7L673.46 530.7L671.49 530.7L669.52 530.7L667.55 530.7L665.58 530.7L663.61 530.7L661.64 530.7L659.67 530.7L657.7 530.7L655.73 530.7L653.76 530.7L651.79 530.7L649.82 530.7L647.85 530.7L645.88 530.7L643.91 530.7L641.94 530.7L639.97 530.7L638 530.7L636.03 530.7L634.06 530.7L632.09 530.7L630.12 530.7L628.15 530.7L626.18 530.7L624.21 530.7L622.24 530.7L620.27 530.7L618.3 530.7L616.33 530.7L614.36 530.7L612.39 530.7L610.42 530.7L608.45 530.7L606.48 530.7L604.51 530.7L602.54 530.7L600.57 530.7L598.6 530.7L596.63 530.7L594.66 530.7L592.69 530.7L590.72 530.7L588.75 530.7L586.78 530.7L584.81 530.64L582.84 530.7L580.87 530.52L578.9 530.7L576.93 530.7L574.96 530.13L572.99 530.28L571.02 529.64L569.05 529.81L567.08 529.16L565.11 529.55L563.14 528.91L561.17 528.45L559.2 528.19L557.23 527.79L555.26 527.4L553.29 526.64L551.32 526.23L549.35 525.64L547.38 525.03L545.41 523.66L543.44 524.75L541.47 523.45L539.5 522.05L537.53 518.27L535.56 518.8L533.59 517.11L531.62 514.68L529.65 513.65L527.68 511.56L525.71 509.34L523.74 505.05L521.77 497.87L519.8 492.33L517.83 489.04L515.86 482.49L513.89 476.61L511.92 472.01L509.95 465.6L507.98 460.66L506.01 456.38L504.04 448.44L502.07 451.68L500.1 443.33L498.13 442.91L496.16 444.78L494.19 446.14L492.22 446.42L490.25 448.22L488.28 454.86L486.31 452.31L484.34 459.73L482.37 454.67L480.4 453.74Z" fill="#6a5fb8" fill-opacity="0.6"/>
<path d="M480.4 495.78L482.37 496.6L484.34 497.33L486.31 495.51L488.28 494.52L490.25 493.42L492.22 493.26L494.19 492.78L496.16 491.74L498.13 489.8L500.1 491.41L502.07 493.7L504.04 492.42L506.01 491.83L507.98 491.67L509.95 492L511.92 493.68L513.89 493.65L515.86 494.07L517.83 493.71L519.8 492.97L521.77 494.34L523.74 496.34L525.71 494.41L527.68 494.61L529.65 494.95L531.62 495.89L533.59 498.46L535.56 501.11L537.53 502.01L539.5 501.97L541.47 502.3L543.44 502.75L545.41 503.53L547.38 504.25L549.35 504.93L551.32 506.12L553.29 506.99L555.26 508.07L557.23 507.63L559.2 508.2L561.17 509.38L563.14 510.23L565.11 510.5L567.08 511.33L569.05 511.44L571.02 512.05L572.99 512.9L574.96 514.06L576.93 514.71L578.9 514.91L580.87 515.78L582.84 516.13L584.81 516.93L586.78 517.18L588.75 518.09L590.72 518.08L592.69 518.48L594.66 518.48L596.63 518.63L598.6 519.1L600.57 519.27L602.54 519.98L604.51 520.44L606.48 521.35L608.45 521.52L610.42 522.59L612.39 523.12L614.36 522.83L616.33 523.62L618.3 523.9L620.27 523.62L622.24 523.27L624.21 523.38L626.18 524.01L628.15 524.79L630.12 524.62L632.09 524.87L634.06 524.76L636.03 524.82L638 525.37L639.97 525.13L641.94 525.62L643.91 526.04L645.88 526.1L647.85 526.44L649.82 526.34L651.79 526.85L653.76 526.98L655.73 526.56L657.7 526.93L659.67 527.22L661.64 527.83L663.61 527.91L665.58 528.1L667.55 528.26L669.52 528.75L671.49 528.91L673.46 529.26L675.43 529.61" fill="none" stroke="#4f9cf5" stroke-width="1.0" stroke-linejoin="round"/>
<path d="M480.4 484.92L482.37 481.58L484.34 484.04L486.31 484.41L488.28 481.61L490.25 482.67L492.22 482.15L494.19 478.38L496.16 480.74L498.13 480.91L500.1 479.88L502.07 481.02L504.04 482.19L506.01 477.95L507.98 475.11L509.95 474.44L511.92 476.79L513.89 478.73L515.86 479.2L517.83 479.64L519.8 481L521.77 481.64L523.74 483.08L525.71 484.82L527.68 487.84L529.65 490.9L531.62 490.52L533.59 489.89L535.56 489.33L537.53 494.36L539.5 498.89L541.47 499.09L543.44 500.02L545.41 500.39L547.38 502.19L549.35 504.46L551.32 505.2L553.29 506.19L555.26 507.26L557.23 509.35L559.2 510.14L561.17 511.11L563.14 512.52L565.11 514.74L567.08 515.57L569.05 517.12L571.02 519.13L572.99 519.67L574.96 520.73L576.93 521.93L578.9 524.51L580.87 525.56L582.84 525.37L584.81 525.61L586.78 526.57L588.75 527.59L590.72 527.65L592.69 527.45L594.66 528.38L596.63 528.91L598.6 529.03L600.57 529.34L602.54 529.46L604.51 529.58L606.48 529.71L608.45 529.83L610.42 529.95L612.39 530.01L614.36 530.02L616.33 530.03L618.3 530.04L620.27 530.06L622.24 530.07L624.21 530.08L626.18 530.09L628.15 530.1L630.12 530.12L632.09 530.13L634.06 530.14L636.03 530.15L638 530.16L639.97 530.17L641.94 530.19L643.91 530.2L645.88 530.21L647.85 530.22L649.82 530.23L651.79 530.25L653.76 530.26L655.73 530.27L657.7 530.28L659.67 530.29L661.64 530.31L663.61 530.32L665.58 530.33L667.55 530.34L669.52 530.35L671.49 530.37L673.46 530.38L675.43 530.39" fill="none" stroke="#e0189f" stroke-width="1.1" stroke-linejoin="round"/>
<path d="M480.4 450.82L482.37 447.6L484.34 453.62L486.31 449.33L488.28 444.75L490.25 443.55L492.22 443.45L494.19 441.04L496.16 439.9L498.13 439.65L500.1 435.37L502.07 440.41L504.04 445.82L506.01 449.95L507.98 455.46L509.95 461.69L511.92 467.38L513.89 473.65L515.86 479.56L517.83 484.2L519.8 489.26L521.77 494.49L523.74 498.99L525.71 503.35L527.68 506.86L529.65 509.6L531.62 511.99L533.59 514.35L535.56 516.86L537.53 517.46L539.5 519.67L541.47 521.16L543.44 522.08L545.41 523.09L547.38 523.49L549.35 524.93L551.32 525.7L553.29 525.5L555.26 526.29L557.23 526.97L559.2 527.27L561.17 527.86L563.14 527.73L565.11 528.51L567.08 528.53L569.05 528.89L571.02 529.16L572.99 529.42L574.96 529.69L576.93 529.91L578.9 529.95L580.87 529.99L582.84 530.03L584.81 530.08L586.78 530.12L588.75 530.16L590.72 530.2L592.69 530.24L594.66 530.29L596.63 530.33L598.6 530.37L600.57 530.4L602.54 530.41L604.51 530.41L606.48 530.42L608.45 530.42L610.42 530.43L612.39 530.43L614.36 530.44L616.33 530.44L618.3 530.45L620.27 530.45L622.24 530.46L624.21 530.46L626.18 530.47L628.15 530.47L630.12 530.48L632.09 530.48L634.06 530.49L636.03 530.49L638 530.5L639.97 530.5L641.94 530.51L643.91 530.51L645.88 530.52L647.85 530.52L649.82 530.53L651.79 530.53L653.76 530.54L655.73 530.54L657.7 530.55L659.67 530.55L661.64 530.56L663.61 530.57L665.58 530.57L667.55 530.58L669.52 530.58L671.49 530.59L673.46 530.59L675.43 530.6" fill="none" stroke="#24148c" stroke-width="1.2" stroke-linejoin="round"/>
<path d="M485.6 686.41L487.5 686.61L489.4 685.86L491.3 686.16L493.2 686.11L495.1 686.09L497 686.16L498.9 686.11L500.8 685.94L502.7 686.04L504.6 685.46L506.5 685.51L508.4 684.57L510.3 684.15L512.2 681.72L514.1 678.06L516 673L517.9 666.71L519.8 660.12L521.7 650.99L523.6 640.01L525.5 631.47L527.4 624.16L529.3 619.81L531.2 619.63L533.1 621.44L535 622.7L536.9 624.68L538.8 628.61L540.7 631.3L542.6 632.85L544.5 633.98L546.4 633.71L548.3 637.12L550.2 641.97L552.1 645.28L554 647.85L555.9 650.08L557.8 651.58L559.7 653.28L561.6 654.54L563.5 657.08L565.4 657.7L567.3 659L569.2 660.38L571.1 661.13L573 662.58L574.9 664.46L576.8 665.21L578.7 666.01L580.6 667.17L582.5 668.32L584.4 669.17L586.3 670.27L588.2 671.65L590.1 672.41L592 673L593.9 674.34L595.8 676.01L597.7 676.91L599.6 677.11L601.5 677.9L603.4 678.47L605.3 678.88L607.2 679.33L609.1 679.57L611 680.71L612.9 680.22L614.8 680.89L616.7 681.14L618.6 681.3L620.5 681.64L622.4 682.04L624.3 682.12L626.2 682.53L628.1 682.45L630 683.16L631.9 682.83L633.8 683.3L635.7 683.31L637.6 683.57L639.5 683.58L641.4 684.29L643.3 684.2L645.2 683.99L647.1 684.21L649 684.72L650.9 684.61L652.8 684.67L654.7 684.92L656.6 684.86L658.5 685L660.4 685.84L662.3 685.24L664.2 684.63L666.1 685.64L668 685.7L669.9 685.7L671.8 685.97L673.7 685.93L675.6 685.92L675.6 687L673.7 687L671.8 687L669.9 687L668 687L666.1 687L664.2 687L662.3 686.96L660.4 686.64L658.5 686.98L656.6 687L654.7 686.68L652.8 686.58L650.9 686.76L649 686.45L647.1 686.46L645.2 686.25L643.3 685.47L641.4 685.56L639.5 685.69L637.6 685.04L635.7 684.86L633.8 684.7L631.9 684.76L630 684.36L628.1 684.64L626.2 683.67L624.3 683.24L622.4 683.32L620.5 682.82L618.6 682.92L616.7 682.63L614.8 682.52L612.9 681.84L611 682.05L609.1 681.73L607.2 680.74L605.3 680.42L603.4 680.43L601.5 679.61L599.6 679.34L597.7 678.85L595.8 677.57L593.9 677.3L592 675.52L590.1 674.2L588.2 673.01L586.3 672.63L584.4 671.53L582.5 669.96L580.6 669.02L578.7 667.79L576.8 667.61L574.9 666.23L573 664.83L571.1 663.23L569.2 662.63L567.3 661.02L565.4 659.17L563.5 658.54L561.6 656.76L559.7 655.48L557.8 654.26L555.9 652.6L554 650.58L552.1 649.47L550.2 647.28L548.3 641.81L546.4 640.02L544.5 638.7L542.6 636.66L540.7 633.56L538.8 631L536.9 627.78L535 625.1L533.1 623.7L531.2 624.04L529.3 626.62L527.4 630.28L525.5 637.02L523.6 644.76L521.7 654.59L519.8 662.52L517.9 673.92L516 679.23L514.1 684.14L512.2 685.81L510.3 686.45L508.4 686.87L506.5 687L504.6 687L502.7 687L500.8 687L498.9 687L497 687L495.1 687L493.2 687L491.3 687L489.4 687L487.5 687L485.6 687Z" fill="#9cc8f8" fill-opacity="0.6"/>
<path d="M485.6 686.5L487.5 686.06L489.4 686.05L491.3 686.34L493.2 686.38L495.1 685.93L497 686.3L498.9 686.2L500.8 685.76L502.7 685.98L504.6 685.87L506.5 685.79L508.4 684.63L510.3 683.38L512.2 681.56L514.1 677.98L516 673.8L517.9 667.36L519.8 659.09L521.7 647.25L523.6 639.17L525.5 628.56L527.4 620.3L529.3 617.12L531.2 619.59L533.1 620.44L535 628.43L536.9 629.62L538.8 634.72L540.7 636.4L542.6 636.2L544.5 640.15L546.4 639.72L548.3 645.02L550.2 648.1L552.1 650.49L554 652.52L555.9 654.36L557.8 655.54L559.7 656.92L561.6 658.17L563.5 659.28L565.4 659.93L567.3 660.74L569.2 662.54L571.1 663.6L573 665.15L574.9 666.03L576.8 666.94L578.7 667.93L580.6 668.63L582.5 669.3L584.4 670.18L586.3 671.3L588.2 671.67L590.1 672.51L592 673.19L593.9 674.53L595.8 674.68L597.7 676.08L599.6 677.02L601.5 677.43L603.4 677.59L605.3 678.17L607.2 678.73L609.1 679.26L611 680.09L612.9 680.26L614.8 681.02L616.7 680.98L618.6 680.56L620.5 681.62L622.4 681L624.3 681.47L626.2 682.25L628.1 682L630 682.15L631.9 682.61L633.8 682.3L635.7 683.19L637.6 683.46L639.5 683.63L641.4 683.87L643.3 683.83L645.2 684.16L647.1 684.18L649 684.42L650.9 685L652.8 685.06L654.7 684.73L656.6 684.83L658.5 685.14L660.4 685.41L662.3 685.27L664.2 685.38L666.1 685.94L668 685.69L669.9 686.08L671.8 685.97L673.7 685.94L675.6 685.64L675.6 687L673.7 687L671.8 687L669.9 687L668 687L666.1 687L664.2 686.76L662.3 686.97L660.4 686.71L658.5 686.5L656.6 686.82L654.7 686.5L652.8 686.49L650.9 686.24L649 686.08L647.1 685.93L645.2 685.52L643.3 685.44L641.4 685.54L639.5 685.59L637.6 685.26L635.7 684.93L633.8 684.01L631.9 684.35L630 683.66L628.1 683.58L626.2 683.7L624.3 683.19L622.4 683.13L620.5 682.55L618.6 682.55L616.7 682.39L614.8 682.1L612.9 681.77L611 681.12L609.1 680.85L607.2 680.62L605.3 679.55L603.4 679.25L601.5 678.61L599.6 678.66L597.7 677.65L595.8 677.1L593.9 676.12L592 675.47L590.1 674.05L588.2 673.82L586.3 673.22L584.4 672.15L582.5 671.38L580.6 670.31L578.7 669.72L576.8 668.48L574.9 667.5L573 666.53L571.1 665.54L569.2 664.06L567.3 662.73L565.4 662.01L563.5 660.65L561.6 659.41L559.7 658.88L557.8 657.23L555.9 656.77L554 655.49L552.1 653.25L550.2 651.8L548.3 647.42L546.4 646.09L544.5 646.48L542.6 649.34L540.7 644.45L538.8 642.16L536.9 638.57L535 633.31L533.1 628.08L531.2 628.08L529.3 627.99L527.4 631.83L525.5 638.27L523.6 642.48L521.7 656.59L519.8 661.74L517.9 671.36L516 677.17L514.1 682.28L512.2 684.32L510.3 686.05L508.4 686.13L506.5 687L504.6 687L502.7 687L500.8 687L498.9 687L497 687L495.1 687L493.2 687L491.3 687L489.4 687L487.5 687L485.6 687Z" fill="#6a5fb8" fill-opacity="0.55"/>
<path d="M485.6 686.15L487.5 686.43L489.4 686.21L491.3 686.48L493.2 686.32L495.1 686.42L497 686.28L498.9 686.04L500.8 686.48L502.7 685.94L504.6 685.68L506.5 685.43L508.4 684.89L510.3 683.23L512.2 681.23L514.1 677.63L516 672.54L517.9 665.27L519.8 653.87L521.7 645.37L523.6 633.44L525.5 620.32L527.4 610.23L529.3 608.85L531.2 611.34L533.1 611.05L535 622.67L536.9 628.16L538.8 633.39L540.7 636.21L542.6 639.42L544.5 638.64L546.4 637.61L548.3 644.29L550.2 646.78L552.1 647.84L554 649.2L555.9 648.88L557.8 649.23L559.7 653.71L561.6 656.44L563.5 658.88L565.4 656.67L567.3 659.24L569.2 659.88L571.1 661.24L573 661.76L574.9 661.31L576.8 663.46L578.7 664.75L580.6 666.71L582.5 668.32L584.4 667.53L586.3 668L588.2 666.61L590.1 672.73L592 673.59L593.9 674.92L595.8 675.81L597.7 676.69L599.6 677.27L601.5 677.37L603.4 678.36L605.3 678.52L607.2 679.21L609.1 679.21L611 679.56L612.9 679.97L614.8 680.27L616.7 680.65L618.6 680.57L620.5 681.06L622.4 681.53L624.3 681.97L626.2 682.01L628.1 682.06L630 682.45L631.9 682.87L633.8 683.04L635.7 683.02L637.6 683.51L639.5 683.77L641.4 683.71L643.3 684L645.2 683.83L647.1 684.42L649 684.85L650.9 685.09L652.8 684.7L654.7 684.82L656.6 685.29L658.5 685.43L660.4 685.19L662.3 685.74L664.2 685.79L666.1 685.6L668 685.87L669.9 685.89L671.8 686.01L673.7 685.99L675.6 685.85L675.6 687L673.7 686.99L671.8 687L669.9 687L668 686.69L666.1 686.85L664.2 686.88L662.3 686.77L660.4 686.61L658.5 686.1L656.6 686.74L654.7 686.4L652.8 686.17L650.9 686.03L649 685.83L647.1 685.73L645.2 685.52L643.3 685.23L641.4 684.95L639.5 685.02L637.6 685.04L635.7 684.23L633.8 684.49L631.9 684.1L630 684.04L628.1 683.46L626.2 683.16L624.3 683.17L622.4 682.88L620.5 682.68L618.6 682L616.7 681.85L614.8 681.58L612.9 681.24L611 680.96L609.1 680.77L607.2 680.36L605.3 680.13L603.4 679.58L601.5 678.93L599.6 678.45L597.7 678.13L595.8 676.95L593.9 676.14L592 675.14L590.1 674.22L588.2 677.13L586.3 676.75L584.4 674.73L582.5 673.27L580.6 675.53L578.7 672.99L576.8 671.31L574.9 669.33L573 673.51L571.1 671.07L569.2 666.27L567.3 664.94L565.4 668.09L563.5 662.67L561.6 661.39L559.7 662.48L557.8 660.41L555.9 660.06L554 658.12L552.1 658.19L550.2 653.78L548.3 651.66L546.4 649.83L544.5 651.49L542.6 650.21L540.7 644.83L538.8 639.54L536.9 636.72L535 632.68L533.1 634.13L531.2 630.65L529.3 628.22L527.4 631.34L525.5 635.15L523.6 643.45L521.7 653.63L519.8 663.32L517.9 668.86L516 676.16L514.1 681.28L512.2 684.3L510.3 685.86L508.4 686.03L506.5 686.67L504.6 687L502.7 687L500.8 687L498.9 687L497 687L495.1 687L493.2 687L491.3 687L489.4 687L487.5 687L485.6 687Z" fill="#ee70c8" fill-opacity="0.6"/>
<path d="M485.6 687L487.5 686.98L489.4 686.96L491.3 686.94L493.2 686.92L495.1 686.9L497 686.88L498.9 686.86L500.8 686.84L502.7 686.82L504.6 686.8L506.5 686.4L508.4 685.89L510.3 685.38L512.2 684.28L514.1 682.48L516 677.85L517.9 671.17L519.8 662.47L521.7 652.91L523.6 642.81L525.5 633.14L527.4 625.17L529.3 621.8L531.2 620.73L533.1 621.93L535 623.49L536.9 626.27L538.8 629.89L540.7 632.64L542.6 635.86L544.5 636.82L546.4 634.31L548.3 638.59L550.2 646.25L552.1 648.13L554 649.3L555.9 651.22L557.8 652.92L559.7 654.38L561.6 656.02L563.5 657.64L565.4 658.58L567.3 660.16L569.2 660.92L571.1 662.43L573 663.68L574.9 664.95L576.8 666.23L578.7 667.23L580.6 668.09L582.5 669.01L584.4 670.24L586.3 671.41L588.2 672.38L590.1 673.25L592 674.26L593.9 675.83L595.8 676.77L597.7 677.66L599.6 678.7L601.5 679.08L603.4 679.3L605.3 679.63L607.2 680.31L609.1 680.61L611 681.09L612.9 681.34L614.8 681.48L616.7 681.63L618.6 681.95L620.5 682.19L622.4 682.61L624.3 682.93L626.2 683.38L628.1 683.64L630 683.6L631.9 683.91L633.8 683.82L635.7 684.15L637.6 684.29L639.5 684.77L641.4 684.8L643.3 685.04L645.2 685.18L647.1 685.32L649 685.46L650.9 685.6L652.8 685.74L654.7 685.88L656.6 685.97L658.5 686.05L660.4 686.12L662.3 686.2L664.2 686.28L666.1 686.36L668 686.44L669.9 686.52L671.8 686.6L673.7 686.68L675.6 686.76" fill="none" stroke="#4f9cf5" stroke-width="1.0" stroke-linejoin="round"/>
<path d="M485.6 687L487.5 686.98L489.4 686.96L491.3 686.94L493.2 686.92L495.1 686.9L497 686.88L498.9 686.86L500.8 686.84L502.7 686.82L504.6 686.8L506.5 686.29L508.4 685.63L510.3 684.91L512.2 683.66L514.1 681.23L516 676.39L517.9 670.01L519.8 660.74L521.7 651L523.6 641.09L525.5 630.82L527.4 622.91L529.3 620.56L531.2 621.52L533.1 624.94L535 629.55L536.9 633.71L538.8 637.98L540.7 641.32L542.6 645.12L544.5 643.51L546.4 640.72L548.3 646.23L550.2 650.5L552.1 652.16L554 653.72L555.9 655.62L557.8 656.76L559.7 657.85L561.6 658.77L563.5 659.75L565.4 661.16L567.3 661.97L569.2 663.14L571.1 664.89L573 665.7L574.9 666.72L576.8 667.72L578.7 668.42L580.6 669.36L582.5 670.51L584.4 671.05L586.3 672.03L588.2 672.73L590.1 673.31L592 674.58L593.9 674.98L595.8 676.12L597.7 676.94L599.6 677.91L601.5 677.91L603.4 678.51L605.3 679.08L607.2 679.62L609.1 680.24L611 680.61L612.9 680.92L614.8 681.37L616.7 681.83L618.6 681.39L620.5 681.91L622.4 682.31L624.3 682.43L626.2 682.95L628.1 682.85L630 682.96L631.9 683.59L633.8 683.12L635.7 683.83L637.6 684.65L639.5 684.44L641.4 684.69L643.3 684.6L645.2 684.95L647.1 685.12L649 685.28L650.9 685.44L652.8 685.61L654.7 685.77L656.6 685.87L658.5 685.96L660.4 686.05L662.3 686.14L664.2 686.23L666.1 686.31L668 686.4L669.9 686.49L671.8 686.58L673.7 686.67L675.6 686.75" fill="none" stroke="#24148c" stroke-width="1.1" stroke-linejoin="round"/>
<path d="M485.6 687L487.5 686.97L489.4 686.94L491.3 686.91L493.2 686.88L495.1 686.85L497 686.82L498.9 686.79L500.8 686.76L502.7 686.74L504.6 686.71L506.5 686.12L508.4 685.38L510.3 684.87L512.2 683.42L514.1 680.22L516 675.44L517.9 668.26L519.8 659.19L521.7 648.89L523.6 638.1L525.5 627.73L527.4 620.02L529.3 617.55L531.2 617.59L533.1 621.06L535 627.5L536.9 632.56L538.8 636.99L540.7 641.09L542.6 645.23L544.5 645.29L546.4 641.86L548.3 646.84L550.2 652.16L552.1 653.86L554 655.02L555.9 656.23L557.8 657.2L559.7 658.47L561.6 659.45L563.5 660.38L565.4 661.11L567.3 662.36L569.2 663.5L571.1 664.68L573 665.84L574.9 666.67L576.8 667.73L578.7 668.55L580.6 669.52L582.5 670.51L584.4 670.88L586.3 671.9L588.2 672.66L590.1 673.42L592 674.44L593.9 675.75L595.8 676.23L597.7 677.54L599.6 677.78L601.5 678.41L603.4 678.88L605.3 679.33L607.2 679.72L609.1 680.1L611 680.24L612.9 680.55L614.8 681.1L616.7 681.18L618.6 681.26L620.5 681.58L622.4 681.92L624.3 682.49L626.2 682.69L628.1 683.05L630 683.08L631.9 683.45L633.8 683.8L635.7 683.86L637.6 684.27L639.5 684.3L641.4 684.55L643.3 684.71L645.2 684.71L647.1 685.12L649 685.28L650.9 685.44L652.8 685.61L654.7 685.77L656.6 685.87L658.5 685.96L660.4 686.05L662.3 686.14L664.2 686.23L666.1 686.31L668 686.4L669.9 686.49L671.8 686.58L673.7 686.67L675.6 686.75" fill="none" stroke="#e0189f" stroke-width="1.25" stroke-linejoin="round"/>
<path d="M586.5 420.4H605.8" stroke="#1c0f8c" stroke-width="2"/>
<text x="610.7" y="424.5" font-size="12" text-anchor="start" font-weight="normal" fill="#111" >Vehicle</text>
<path d="M586.5 438H605.8" stroke="#e3139f" stroke-width="2"/>
<text x="610.7" y="442.1" font-size="12" text-anchor="start" font-weight="normal" fill="#111" >5-MeO-DMT</text>
<path d="M586.5 455.6H605.8" stroke="#59a2f5" stroke-width="2"/>
<text x="610.7" y="459.7" font-size="12" text-anchor="start" font-weight="normal" fill="#111" >NREM sleep</text>
<path d="M586.5 580.4H605.8" stroke="#1c0f8c" stroke-width="2"/>
<text x="610.7" y="584.5" font-size="12" text-anchor="start" font-weight="normal" fill="#111" >Vehicle</text>
<path d="M586.5 598H605.8" stroke="#e3139f" stroke-width="2"/>
<text x="610.7" y="602.1" font-size="12" text-anchor="start" font-weight="normal" fill="#111" >5-MeO-DMT</text>
<path d="M586.5 615.6H605.8" stroke="#59a2f5" stroke-width="2"/>
<text x="610.7" y="619.7" font-size="12" text-anchor="start" font-weight="normal" fill="#111" >NREM sleep</text>
</svg></body></html>
